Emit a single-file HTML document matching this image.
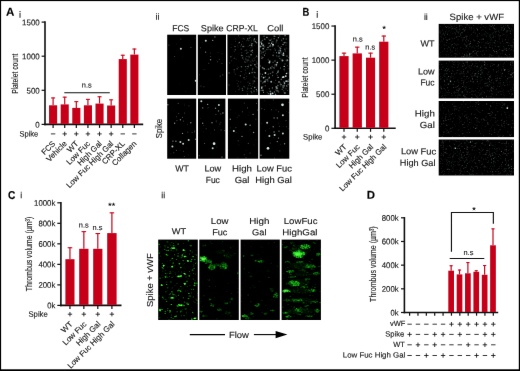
<!DOCTYPE html>
<html><head><meta charset="utf-8"><title>figure</title>
<style>html,body{margin:0;padding:0;background:#fff;overflow:hidden}svg{display:block;font-family:"Liberation Sans",sans-serif}text{stroke:#1a1a1a;stroke-width:0.14px}</style>
</head><body>
<svg width="520" height="371" viewBox="0 0 520 371">
<defs><filter id="soft" filterUnits="userSpaceOnUse" x="-10" y="-10" width="540" height="391" color-interpolation-filters="sRGB"><feConvolveMatrix order="3" kernelMatrix="0.0016 0.0371 0.0016 0.0371 0.8450 0.0371 0.0016 0.0371 0.0016" edgeMode="duplicate" preserveAlpha="true"/></filter><filter id="gb" filterUnits="userSpaceOnUse" x="150" y="230" width="180" height="100" color-interpolation-filters="sRGB"><feConvolveMatrix order="5" kernelMatrix="0.0000 0.0000 0.0002 0.0000 0.0000 0.0000 0.0113 0.0837 0.0113 0.0000 0.0002 0.0837 0.6187 0.0837 0.0002 0.0000 0.0113 0.0837 0.0113 0.0000 0.0000 0.0000 0.0002 0.0000 0.0000" edgeMode="duplicate" preserveAlpha="false"/></filter></defs>
<g filter="url(#soft)">
<rect x="-10" y="-10" width="540" height="391" fill="#fff"/>
<text x="5.9" y="15.7" font-size="11.6" text-anchor="start" fill="#000" font-weight="bold" stroke="none" transform="rotate(0.04 5.9 15.7)" >A</text>
<text x="19.1" y="17.8" font-size="9.2" text-anchor="start" fill="#1a1a1a" transform="rotate(0.04 19.1 17.8)" >i</text>
<line x1="45" y1="21.35" x2="45" y2="125.15" stroke="#111" stroke-width="1.6" stroke-linecap="butt"/>
<line x1="44.2" y1="124.4" x2="143.2" y2="124.4" stroke="#111" stroke-width="1.6" stroke-linecap="butt"/>
<line x1="41.6" y1="124.4" x2="45" y2="124.4" stroke="#111" stroke-width="1.2" stroke-linecap="butt"/>
<text x="39.7" y="127.5" font-size="8.1" text-anchor="end" fill="#1a1a1a" textLength="4.4" lengthAdjust="spacingAndGlyphs" transform="rotate(0.04 39.7 127.5)" >0</text>
<line x1="41.6" y1="90.30000000000001" x2="45" y2="90.30000000000001" stroke="#111" stroke-width="1.2" stroke-linecap="butt"/>
<text x="39.7" y="93.4" font-size="8.1" text-anchor="end" fill="#1a1a1a" textLength="13.2" lengthAdjust="spacingAndGlyphs" transform="rotate(0.04 39.7 93.4)" >500</text>
<line x1="41.6" y1="56.2" x2="45" y2="56.2" stroke="#111" stroke-width="1.2" stroke-linecap="butt"/>
<text x="39.7" y="59.300000000000004" font-size="8.1" text-anchor="end" fill="#1a1a1a" textLength="17.6" lengthAdjust="spacingAndGlyphs" transform="rotate(0.04 39.7 59.300000000000004)" >1000</text>
<line x1="41.6" y1="22.09999999999998" x2="45" y2="22.09999999999998" stroke="#111" stroke-width="1.2" stroke-linecap="butt"/>
<text x="39.7" y="25.19999999999998" font-size="8.1" text-anchor="end" fill="#1a1a1a" textLength="17.6" lengthAdjust="spacingAndGlyphs" transform="rotate(0.04 39.7 25.19999999999998)" >1500</text>
<text x="17.7" y="73.7" font-size="9" text-anchor="middle" fill="#1a1a1a" textLength="40.3" lengthAdjust="spacingAndGlyphs" transform="rotate(-90 17.7 73.7)" >Platelet count</text>
<rect x="49.05" y="105.30" width="8.10" height="18.60" fill="#c60019"/>
<line x1="53.099999999999994" y1="105.3" x2="53.099999999999994" y2="97.5" stroke="#c8081e" stroke-width="1.2" stroke-linecap="butt"/>
<line x1="51.099999999999994" y1="97.95" x2="55.099999999999994" y2="97.95" stroke="#c8081e" stroke-width="1.1" stroke-linecap="butt"/>
<line x1="53.099999999999994" y1="124.4" x2="53.099999999999994" y2="127.9" stroke="#111" stroke-width="1.2" stroke-linecap="butt"/>
<rect x="60.66" y="104.40" width="8.10" height="19.50" fill="#c60019"/>
<line x1="64.71" y1="104.4" x2="64.71" y2="96.7" stroke="#c8081e" stroke-width="1.2" stroke-linecap="butt"/>
<line x1="62.709999999999994" y1="97.15" x2="66.71" y2="97.15" stroke="#c8081e" stroke-width="1.1" stroke-linecap="butt"/>
<line x1="64.71" y1="124.4" x2="64.71" y2="127.9" stroke="#111" stroke-width="1.2" stroke-linecap="butt"/>
<rect x="72.27" y="107.90" width="8.10" height="16.00" fill="#c60019"/>
<line x1="76.32" y1="107.9" x2="76.32" y2="101.2" stroke="#c8081e" stroke-width="1.2" stroke-linecap="butt"/>
<line x1="74.32" y1="101.65" x2="78.32" y2="101.65" stroke="#c8081e" stroke-width="1.1" stroke-linecap="butt"/>
<line x1="76.32" y1="124.4" x2="76.32" y2="127.9" stroke="#111" stroke-width="1.2" stroke-linecap="butt"/>
<rect x="83.88" y="105.30" width="8.10" height="18.60" fill="#c60019"/>
<line x1="87.92999999999999" y1="105.3" x2="87.92999999999999" y2="98.9" stroke="#c8081e" stroke-width="1.2" stroke-linecap="butt"/>
<line x1="85.92999999999999" y1="99.35000000000001" x2="89.92999999999999" y2="99.35000000000001" stroke="#c8081e" stroke-width="1.1" stroke-linecap="butt"/>
<line x1="87.92999999999999" y1="124.4" x2="87.92999999999999" y2="127.9" stroke="#111" stroke-width="1.2" stroke-linecap="butt"/>
<rect x="95.49" y="103.60" width="8.10" height="20.30" fill="#c60019"/>
<line x1="99.53999999999999" y1="103.6" x2="99.53999999999999" y2="96.3" stroke="#c8081e" stroke-width="1.2" stroke-linecap="butt"/>
<line x1="97.53999999999999" y1="96.75" x2="101.53999999999999" y2="96.75" stroke="#c8081e" stroke-width="1.1" stroke-linecap="butt"/>
<line x1="99.53999999999999" y1="124.4" x2="99.53999999999999" y2="127.9" stroke="#111" stroke-width="1.2" stroke-linecap="butt"/>
<rect x="107.10" y="105.50" width="8.10" height="18.40" fill="#c60019"/>
<line x1="111.14999999999999" y1="105.5" x2="111.14999999999999" y2="99.4" stroke="#c8081e" stroke-width="1.2" stroke-linecap="butt"/>
<line x1="109.14999999999999" y1="99.85000000000001" x2="113.14999999999999" y2="99.85000000000001" stroke="#c8081e" stroke-width="1.1" stroke-linecap="butt"/>
<line x1="111.14999999999999" y1="124.4" x2="111.14999999999999" y2="127.9" stroke="#111" stroke-width="1.2" stroke-linecap="butt"/>
<rect x="118.71" y="59.10" width="8.10" height="64.80" fill="#c60019"/>
<line x1="122.75999999999999" y1="59.1" x2="122.75999999999999" y2="54.8" stroke="#c8081e" stroke-width="1.2" stroke-linecap="butt"/>
<line x1="120.75999999999999" y1="55.25" x2="124.75999999999999" y2="55.25" stroke="#c8081e" stroke-width="1.1" stroke-linecap="butt"/>
<line x1="122.75999999999999" y1="124.4" x2="122.75999999999999" y2="127.9" stroke="#111" stroke-width="1.2" stroke-linecap="butt"/>
<rect x="130.32" y="54.60" width="8.10" height="69.30" fill="#c60019"/>
<line x1="134.37" y1="54.6" x2="134.37" y2="48.6" stroke="#c8081e" stroke-width="1.2" stroke-linecap="butt"/>
<line x1="132.37" y1="49.050000000000004" x2="136.37" y2="49.050000000000004" stroke="#c8081e" stroke-width="1.1" stroke-linecap="butt"/>
<line x1="134.37" y1="124.4" x2="134.37" y2="127.9" stroke="#111" stroke-width="1.2" stroke-linecap="butt"/>
<line x1="64.3" y1="92.75" x2="109.8" y2="92.75" stroke="#111" stroke-width="1.2" stroke-linecap="butt"/>
<text x="86.7" y="87.5" font-size="7.4" text-anchor="middle" fill="#1a1a1a" transform="rotate(0.04 86.7 87.5)" >n.s</text>
<text x="19.5" y="136.4" font-size="7.9" text-anchor="start" fill="#1a1a1a" textLength="18.8" lengthAdjust="spacingAndGlyphs" transform="rotate(0.04 19.5 136.4)" >Spike</text>
<line x1="50.89999999999999" y1="133.9" x2="55.3" y2="133.9" stroke="#151515" stroke-width="0.85" stroke-linecap="butt"/>
<line x1="62.50999999999999" y1="133.9" x2="66.91" y2="133.9" stroke="#151515" stroke-width="0.85" stroke-linecap="butt"/>
<line x1="64.71" y1="131.70000000000002" x2="64.71" y2="136.1" stroke="#151515" stroke-width="0.85" stroke-linecap="butt"/>
<line x1="74.11999999999999" y1="133.9" x2="78.52" y2="133.9" stroke="#151515" stroke-width="0.85" stroke-linecap="butt"/>
<line x1="76.32" y1="131.70000000000002" x2="76.32" y2="136.1" stroke="#151515" stroke-width="0.85" stroke-linecap="butt"/>
<line x1="85.72999999999999" y1="133.9" x2="90.13" y2="133.9" stroke="#151515" stroke-width="0.85" stroke-linecap="butt"/>
<line x1="87.92999999999999" y1="131.70000000000002" x2="87.92999999999999" y2="136.1" stroke="#151515" stroke-width="0.85" stroke-linecap="butt"/>
<line x1="97.33999999999999" y1="133.9" x2="101.74" y2="133.9" stroke="#151515" stroke-width="0.85" stroke-linecap="butt"/>
<line x1="99.53999999999999" y1="131.70000000000002" x2="99.53999999999999" y2="136.1" stroke="#151515" stroke-width="0.85" stroke-linecap="butt"/>
<line x1="108.94999999999999" y1="133.9" x2="113.35" y2="133.9" stroke="#151515" stroke-width="0.85" stroke-linecap="butt"/>
<line x1="111.14999999999999" y1="131.70000000000002" x2="111.14999999999999" y2="136.1" stroke="#151515" stroke-width="0.85" stroke-linecap="butt"/>
<line x1="120.55999999999999" y1="133.9" x2="124.96" y2="133.9" stroke="#151515" stroke-width="0.85" stroke-linecap="butt"/>
<line x1="132.17000000000002" y1="133.9" x2="136.57" y2="133.9" stroke="#151515" stroke-width="0.85" stroke-linecap="butt"/>
<text x="55.8" y="144.2" font-size="7.9" text-anchor="end" fill="#1a1a1a" transform="rotate(-45 55.8 144.2)" >FCS</text>
<text x="67.41" y="144.2" font-size="7.9" text-anchor="end" fill="#1a1a1a" transform="rotate(-45 67.41 144.2)" >Vehicle</text>
<text x="79.02" y="144.2" font-size="7.9" text-anchor="end" fill="#1a1a1a" transform="rotate(-45 79.02 144.2)" >WT</text>
<text x="90.63" y="144.2" font-size="7.9" text-anchor="end" fill="#1a1a1a" transform="rotate(-45 90.63 144.2)" >Low Fuc</text>
<text x="102.24" y="144.2" font-size="7.9" text-anchor="end" fill="#1a1a1a" transform="rotate(-45 102.24 144.2)" >High Gal</text>
<text x="113.85" y="144.2" font-size="7.9" text-anchor="end" fill="#1a1a1a" transform="rotate(-45 113.85 144.2)" >Low Fuc High Gal</text>
<text x="125.46" y="144.2" font-size="7.9" text-anchor="end" fill="#1a1a1a" transform="rotate(-45 125.46 144.2)" >CRP-XL</text>
<text x="137.07" y="144.2" font-size="7.9" text-anchor="end" fill="#1a1a1a" transform="rotate(-45 137.07 144.2)" >Collagen</text>
<text x="155.6" y="19.7" font-size="8.8" text-anchor="start" fill="#1a1a1a" transform="rotate(0.04 155.6 19.7)" >ii</text>
<text x="180.7" y="31.2" font-size="8.9" text-anchor="middle" fill="#1a1a1a" textLength="17" lengthAdjust="spacingAndGlyphs" transform="rotate(0.04 180.7 31.2)" >FCS</text>
<text x="212.2" y="31.2" font-size="8.9" text-anchor="middle" fill="#1a1a1a" textLength="22.7" lengthAdjust="spacingAndGlyphs" transform="rotate(0.04 212.2 31.2)" >Spike</text>
<text x="242.0" y="31.2" font-size="8.9" text-anchor="middle" fill="#1a1a1a" textLength="31.5" lengthAdjust="spacingAndGlyphs" transform="rotate(0.04 242.0 31.2)" >CRP-XL</text>
<text x="275.3" y="31.2" font-size="8.9" text-anchor="middle" fill="#1a1a1a" textLength="16.2" lengthAdjust="spacingAndGlyphs" transform="rotate(0.04 275.3 31.2)" >Coll</text>
<text x="162.4" y="128.6" font-size="8.2" text-anchor="middle" fill="#1a1a1a" textLength="19.3" lengthAdjust="spacingAndGlyphs" transform="rotate(-90 162.4 128.6)" >Spike</text>
<text x="182.0" y="171.5" font-size="8.9" text-anchor="middle" fill="#1a1a1a" textLength="13.7" lengthAdjust="spacingAndGlyphs" transform="rotate(0.04 182.0 171.5)" >WT</text>
<text x="212.8" y="171.5" font-size="8.9" text-anchor="middle" fill="#1a1a1a" textLength="16.8" lengthAdjust="spacingAndGlyphs" transform="rotate(0.04 212.8 171.5)" >Low</text>
<text x="212.8" y="183.0" font-size="8.9" text-anchor="middle" fill="#1a1a1a" textLength="14.1" lengthAdjust="spacingAndGlyphs" transform="rotate(0.04 212.8 183.0)" >Fuc</text>
<text x="242.0" y="171.5" font-size="8.9" text-anchor="middle" fill="#1a1a1a" textLength="19.9" lengthAdjust="spacingAndGlyphs" transform="rotate(0.04 242.0 171.5)" >High</text>
<text x="242.1" y="183.0" font-size="8.9" text-anchor="middle" fill="#1a1a1a" textLength="14.8" lengthAdjust="spacingAndGlyphs" transform="rotate(0.04 242.1 183.0)" >Gal</text>
<text x="274.2" y="171.5" font-size="8.9" text-anchor="middle" fill="#1a1a1a" textLength="35.3" lengthAdjust="spacingAndGlyphs" transform="rotate(0.04 274.2 171.5)" >Low Fuc</text>
<text x="273.6" y="183.0" font-size="8.9" text-anchor="middle" fill="#1a1a1a" textLength="36.6" lengthAdjust="spacingAndGlyphs" transform="rotate(0.04 273.6 183.0)" >High Gal</text>
<g fill="#cfe8e6">
<rect x="167.20" y="34.70" width="29.00" height="60.30" fill="#000"/>
<circle cx="176.8" cy="44.1" r="0.50" opacity="0.11"/>
<circle cx="182.7" cy="56.9" r="0.32" opacity="0.18"/>
<circle cx="168.7" cy="60.9" r="0.32" opacity="0.11"/>
<circle cx="179.6" cy="84.2" r="0.34" opacity="0.13"/>
<circle cx="185.3" cy="91.4" r="0.47" opacity="0.16"/>
<circle cx="195.0" cy="38.0" r="0.56" opacity="0.14"/>
<circle cx="180.8" cy="39.0" r="0.55" opacity="0.32"/>
<circle cx="180.9" cy="48.8" r="1.00" opacity="0.88"/>
<circle cx="190.9" cy="47.4" r="0.55" opacity="0.32"/>
<circle cx="174.6" cy="56.5" r="0.55" opacity="0.32"/>
<circle cx="168.9" cy="45.1" r="0.55" opacity="0.32"/>
<circle cx="195.8" cy="80.7" r="1.00" opacity="0.88"/>
<rect x="197.80" y="34.70" width="28.20" height="60.30" fill="#000"/>
<circle cx="202.2" cy="42.2" r="0.39" opacity="0.22"/>
<circle cx="203.2" cy="69.7" r="0.49" opacity="0.16"/>
<circle cx="213.2" cy="38.9" r="0.32" opacity="0.13"/>
<circle cx="216.8" cy="60.6" r="0.39" opacity="0.19"/>
<circle cx="210.6" cy="53.0" r="0.54" opacity="0.20"/>
<circle cx="204.9" cy="69.3" r="0.46" opacity="0.23"/>
<circle cx="218.1" cy="52.3" r="0.59" opacity="0.12"/>
<circle cx="209.7" cy="80.1" r="0.35" opacity="0.17"/>
<circle cx="199.4" cy="74.8" r="0.53" opacity="0.19"/>
<circle cx="222.1" cy="53.8" r="0.51" opacity="0.19"/>
<circle cx="205.8" cy="40.8" r="1.00" opacity="0.88"/>
<circle cx="212.7" cy="40.4" r="0.70" opacity="0.58"/>
<circle cx="214.9" cy="36.9" r="0.70" opacity="0.58"/>
<circle cx="205.6" cy="52.1" r="0.70" opacity="0.58"/>
<circle cx="200.6" cy="47.8" r="0.55" opacity="0.32"/>
<circle cx="210.6" cy="56.5" r="0.55" opacity="0.32"/>
<circle cx="210.6" cy="59.7" r="0.70" opacity="0.58"/>
<circle cx="217.6" cy="61.8" r="0.55" opacity="0.32"/>
<circle cx="219.3" cy="59.2" r="0.55" opacity="0.32"/>
<circle cx="221.9" cy="63.5" r="0.55" opacity="0.32"/>
<circle cx="222.8" cy="74.9" r="0.55" opacity="0.32"/>
<circle cx="220.2" cy="76.1" r="0.55" opacity="0.32"/>
<circle cx="208.8" cy="63.2" r="0.55" opacity="0.32"/>
<circle cx="203.9" cy="86.7" r="0.55" opacity="0.32"/>
<circle cx="200.9" cy="86.0" r="0.55" opacity="0.32"/>
<rect x="227.40" y="34.70" width="30.80" height="60.30" fill="#000"/>
<circle cx="245.2" cy="62.3" r="0.77" opacity="0.25"/>
<circle cx="247.7" cy="38.8" r="0.62" opacity="0.59"/>
<circle cx="252.4" cy="52.1" r="0.63" opacity="0.10"/>
<circle cx="241.7" cy="45.2" r="0.33" opacity="0.43"/>
<circle cx="253.9" cy="40.0" r="0.57" opacity="0.51"/>
<circle cx="252.3" cy="86.4" r="0.51" opacity="0.20"/>
<circle cx="254.2" cy="92.0" r="0.39" opacity="0.15"/>
<circle cx="248.5" cy="65.8" r="0.64" opacity="0.10"/>
<circle cx="254.7" cy="81.5" r="0.70" opacity="0.21"/>
<circle cx="232.7" cy="55.4" r="0.30" opacity="0.12"/>
<circle cx="230.9" cy="56.8" r="0.74" opacity="0.33"/>
<circle cx="257.5" cy="62.8" r="0.34" opacity="0.11"/>
<circle cx="243.6" cy="43.9" r="0.31" opacity="0.28"/>
<circle cx="257.1" cy="86.4" r="0.43" opacity="0.20"/>
<circle cx="251.1" cy="54.7" r="0.71" opacity="0.59"/>
<circle cx="253.3" cy="83.0" r="0.67" opacity="0.15"/>
<circle cx="243.3" cy="56.3" r="0.31" opacity="0.17"/>
<circle cx="256.4" cy="56.8" r="0.41" opacity="0.14"/>
<circle cx="252.9" cy="63.6" r="0.70" opacity="0.11"/>
<circle cx="247.6" cy="89.1" r="0.68" opacity="0.25"/>
<circle cx="251.8" cy="92.8" r="0.50" opacity="0.56"/>
<circle cx="249.5" cy="45.3" r="0.38" opacity="0.53"/>
<circle cx="251.9" cy="43.9" r="0.79" opacity="0.36"/>
<circle cx="238.3" cy="67.7" r="0.31" opacity="0.58"/>
<circle cx="247.3" cy="66.4" r="0.52" opacity="0.50"/>
<circle cx="252.5" cy="47.7" r="0.45" opacity="0.15"/>
<circle cx="245.4" cy="50.6" r="0.37" opacity="0.53"/>
<circle cx="254.8" cy="60.1" r="0.55" opacity="0.28"/>
<circle cx="243.5" cy="36.3" r="0.39" opacity="0.10"/>
<circle cx="251.7" cy="45.4" r="0.66" opacity="0.30"/>
<circle cx="251.3" cy="41.5" r="0.42" opacity="0.16"/>
<circle cx="250.9" cy="65.3" r="0.68" opacity="0.53"/>
<circle cx="241.1" cy="71.5" r="0.56" opacity="0.38"/>
<circle cx="241.4" cy="66.8" r="0.77" opacity="0.38"/>
<circle cx="254.0" cy="91.1" r="0.58" opacity="0.56"/>
<circle cx="252.9" cy="43.3" r="0.52" opacity="0.11"/>
<circle cx="251.3" cy="88.4" r="0.66" opacity="0.36"/>
<circle cx="238.0" cy="46.8" r="0.66" opacity="0.10"/>
<circle cx="244.4" cy="61.3" r="0.47" opacity="0.34"/>
<circle cx="251.4" cy="92.8" r="0.43" opacity="0.10"/>
<circle cx="251.1" cy="51.2" r="0.51" opacity="0.53"/>
<circle cx="252.3" cy="50.5" r="0.76" opacity="0.30"/>
<circle cx="248.8" cy="40.5" r="0.64" opacity="0.23"/>
<circle cx="251.8" cy="40.2" r="0.33" opacity="0.49"/>
<circle cx="241.4" cy="55.3" r="0.76" opacity="0.16"/>
<circle cx="231.2" cy="44.8" r="0.40" opacity="0.18"/>
<circle cx="237.0" cy="80.2" r="0.55" opacity="0.13"/>
<circle cx="238.2" cy="36.3" r="0.31" opacity="0.40"/>
<circle cx="244.3" cy="46.4" r="0.77" opacity="0.11"/>
<circle cx="252.3" cy="60.8" r="0.72" opacity="0.21"/>
<circle cx="246.9" cy="59.2" r="0.33" opacity="0.12"/>
<circle cx="253.8" cy="75.0" r="0.42" opacity="0.17"/>
<circle cx="241.6" cy="44.5" r="0.43" opacity="0.57"/>
<circle cx="256.9" cy="67.6" r="0.78" opacity="0.18"/>
<circle cx="238.5" cy="35.3" r="0.54" opacity="0.27"/>
<circle cx="233.9" cy="65.1" r="0.43" opacity="0.11"/>
<circle cx="239.8" cy="37.7" r="0.45" opacity="0.15"/>
<circle cx="245.4" cy="66.6" r="0.63" opacity="0.39"/>
<circle cx="254.1" cy="58.3" r="0.79" opacity="0.12"/>
<circle cx="249.5" cy="73.3" r="0.72" opacity="0.52"/>
<circle cx="246.6" cy="78.7" r="0.37" opacity="0.28"/>
<circle cx="252.5" cy="69.8" r="0.64" opacity="0.38"/>
<circle cx="234.8" cy="37.0" r="0.48" opacity="0.11"/>
<circle cx="252.8" cy="68.3" r="0.61" opacity="0.37"/>
<circle cx="250.2" cy="65.0" r="0.63" opacity="0.11"/>
<circle cx="249.9" cy="50.2" r="0.43" opacity="0.40"/>
<circle cx="242.6" cy="57.9" r="0.64" opacity="0.43"/>
<circle cx="246.3" cy="73.3" r="0.37" opacity="0.16"/>
<circle cx="250.0" cy="53.3" r="0.31" opacity="0.11"/>
<circle cx="248.0" cy="52.4" r="0.53" opacity="0.25"/>
<circle cx="257.0" cy="90.7" r="0.53" opacity="0.46"/>
<circle cx="256.7" cy="61.9" r="0.40" opacity="0.56"/>
<circle cx="234.2" cy="69.7" r="0.56" opacity="0.56"/>
<circle cx="254.3" cy="76.9" r="0.75" opacity="0.26"/>
<circle cx="241.3" cy="53.1" r="0.47" opacity="0.18"/>
<circle cx="252.9" cy="35.3" r="0.72" opacity="0.12"/>
<circle cx="255.5" cy="77.5" r="0.44" opacity="0.20"/>
<circle cx="238.6" cy="60.6" r="0.32" opacity="0.11"/>
<circle cx="252.8" cy="52.1" r="0.42" opacity="0.16"/>
<circle cx="243.1" cy="46.5" r="0.78" opacity="0.51"/>
<circle cx="252.1" cy="72.6" r="0.77" opacity="0.29"/>
<circle cx="249.3" cy="38.1" r="0.53" opacity="0.42"/>
<circle cx="247.1" cy="52.2" r="0.76" opacity="0.12"/>
<circle cx="242.0" cy="55.6" r="0.67" opacity="0.58"/>
<circle cx="235.7" cy="74.1" r="0.58" opacity="0.21"/>
<circle cx="254.9" cy="64.7" r="0.75" opacity="0.60"/>
<circle cx="241.3" cy="43.5" r="0.35" opacity="0.19"/>
<circle cx="244.9" cy="87.8" r="0.51" opacity="0.22"/>
<circle cx="243.5" cy="57.5" r="0.33" opacity="0.16"/>
<circle cx="256.7" cy="42.7" r="0.61" opacity="0.49"/>
<circle cx="234.3" cy="51.3" r="0.50" opacity="0.24"/>
<circle cx="256.3" cy="85.5" r="0.31" opacity="0.10"/>
<circle cx="249.0" cy="88.3" r="0.59" opacity="0.10"/>
<circle cx="253.4" cy="92.9" r="0.35" opacity="0.13"/>
<circle cx="249.4" cy="73.6" r="0.53" opacity="0.29"/>
<circle cx="255.3" cy="73.5" r="0.36" opacity="0.16"/>
<circle cx="246.9" cy="76.6" r="0.34" opacity="0.28"/>
<circle cx="245.3" cy="58.2" r="0.60" opacity="0.10"/>
<circle cx="247.1" cy="87.6" r="0.42" opacity="0.15"/>
<circle cx="256.5" cy="77.0" r="0.31" opacity="0.26"/>
<circle cx="248.0" cy="60.1" r="0.63" opacity="0.54"/>
<circle cx="240.4" cy="75.7" r="0.70" opacity="0.41"/>
<circle cx="237.2" cy="83.8" r="0.41" opacity="0.42"/>
<circle cx="247.7" cy="91.5" r="0.50" opacity="0.14"/>
<circle cx="256.9" cy="43.6" r="0.33" opacity="0.21"/>
<circle cx="254.7" cy="87.6" r="0.80" opacity="0.55"/>
<circle cx="250.1" cy="37.1" r="0.49" opacity="0.20"/>
<circle cx="237.8" cy="45.2" r="0.44" opacity="0.19"/>
<circle cx="256.4" cy="42.5" r="0.40" opacity="0.20"/>
<circle cx="252.4" cy="83.9" r="0.32" opacity="0.25"/>
<circle cx="239.0" cy="89.7" r="0.48" opacity="0.52"/>
<circle cx="250.7" cy="37.6" r="0.33" opacity="0.54"/>
<circle cx="246.3" cy="50.7" r="0.46" opacity="0.16"/>
<circle cx="246.8" cy="91.1" r="0.42" opacity="0.25"/>
<circle cx="256.4" cy="91.8" r="0.43" opacity="0.23"/>
<circle cx="242.6" cy="90.2" r="0.70" opacity="0.41"/>
<circle cx="252.4" cy="81.0" r="0.46" opacity="0.18"/>
<circle cx="238.7" cy="81.6" r="0.40" opacity="0.42"/>
<circle cx="235.3" cy="39.0" r="0.58" opacity="0.18"/>
<circle cx="257.1" cy="87.6" r="0.43" opacity="0.11"/>
<circle cx="241.2" cy="49.1" r="0.61" opacity="0.37"/>
<circle cx="250.2" cy="85.4" r="0.36" opacity="0.48"/>
<circle cx="236.7" cy="68.8" r="0.67" opacity="0.14"/>
<circle cx="235.3" cy="49.7" r="0.74" opacity="0.31"/>
<circle cx="247.4" cy="94.0" r="0.54" opacity="0.46"/>
<circle cx="252.9" cy="89.4" r="0.45" opacity="0.12"/>
<circle cx="255.6" cy="57.3" r="0.52" opacity="0.16"/>
<circle cx="251.1" cy="91.3" r="0.60" opacity="0.33"/>
<circle cx="234.4" cy="57.1" r="0.40" opacity="0.16"/>
<circle cx="245.8" cy="73.8" r="0.31" opacity="0.18"/>
<circle cx="248.1" cy="46.2" r="0.40" opacity="0.45"/>
<circle cx="244.2" cy="39.0" r="0.50" opacity="0.29"/>
<circle cx="246.9" cy="40.6" r="0.65" opacity="0.22"/>
<circle cx="237.2" cy="68.8" r="0.51" opacity="0.50"/>
<circle cx="257.6" cy="56.8" r="0.66" opacity="0.14"/>
<circle cx="252.3" cy="59.3" r="0.53" opacity="0.13"/>
<circle cx="255.0" cy="40.5" r="0.49" opacity="0.27"/>
<circle cx="255.5" cy="41.7" r="0.70" opacity="0.57"/>
<circle cx="257.0" cy="63.8" r="0.76" opacity="0.21"/>
<circle cx="254.8" cy="72.0" r="0.38" opacity="0.44"/>
<circle cx="252.6" cy="46.0" r="0.50" opacity="0.27"/>
<circle cx="239.3" cy="42.5" r="0.66" opacity="0.52"/>
<circle cx="229.0" cy="84.9" r="0.60" opacity="0.29"/>
<circle cx="246.6" cy="53.4" r="0.59" opacity="0.23"/>
<circle cx="247.5" cy="61.7" r="0.31" opacity="0.33"/>
<circle cx="251.1" cy="62.4" r="0.54" opacity="0.11"/>
<circle cx="231.7" cy="60.7" r="0.52" opacity="0.27"/>
<circle cx="229.1" cy="72.9" r="0.67" opacity="0.43"/>
<circle cx="243.1" cy="38.4" r="0.49" opacity="0.56"/>
<circle cx="249.7" cy="83.5" r="0.79" opacity="0.26"/>
<circle cx="256.4" cy="89.5" r="0.69" opacity="0.55"/>
<circle cx="252.2" cy="43.7" r="0.76" opacity="0.14"/>
<circle cx="235.7" cy="65.2" r="0.32" opacity="0.13"/>
<circle cx="254.6" cy="45.2" r="0.36" opacity="0.28"/>
<circle cx="246.9" cy="56.5" r="0.58" opacity="0.31"/>
<circle cx="254.2" cy="41.4" r="0.61" opacity="0.21"/>
<circle cx="251.7" cy="50.9" r="0.59" opacity="0.20"/>
<circle cx="250.7" cy="61.4" r="0.67" opacity="0.10"/>
<circle cx="252.3" cy="50.2" r="0.79" opacity="0.31"/>
<circle cx="247.7" cy="53.7" r="0.32" opacity="0.12"/>
<circle cx="246.3" cy="60.8" r="0.75" opacity="0.12"/>
<circle cx="234.7" cy="73.9" r="0.30" opacity="0.20"/>
<circle cx="245.3" cy="70.1" r="0.61" opacity="0.25"/>
<circle cx="253.9" cy="81.6" r="0.43" opacity="0.10"/>
<circle cx="247.1" cy="68.5" r="0.62" opacity="0.24"/>
<circle cx="255.8" cy="78.7" r="0.75" opacity="0.10"/>
<circle cx="243.7" cy="59.3" r="0.33" opacity="0.44"/>
<circle cx="249.2" cy="35.6" r="0.67" opacity="0.25"/>
<circle cx="250.0" cy="62.0" r="0.35" opacity="0.15"/>
<circle cx="248.6" cy="85.3" r="0.43" opacity="0.29"/>
<circle cx="240.9" cy="82.0" r="0.43" opacity="0.35"/>
<circle cx="256.7" cy="48.1" r="0.31" opacity="0.16"/>
<circle cx="250.1" cy="54.6" r="0.46" opacity="0.15"/>
<circle cx="254.9" cy="72.6" r="0.63" opacity="0.58"/>
<circle cx="253.5" cy="61.1" r="0.59" opacity="0.18"/>
<circle cx="234.2" cy="72.1" r="0.76" opacity="0.12"/>
<circle cx="238.2" cy="43.6" r="0.32" opacity="0.38"/>
<circle cx="246.8" cy="76.5" r="0.33" opacity="0.32"/>
<circle cx="254.5" cy="39.1" r="0.76" opacity="0.56"/>
<circle cx="231.1" cy="47.4" r="0.32" opacity="0.48"/>
<circle cx="252.1" cy="72.8" r="0.62" opacity="0.17"/>
<circle cx="249.2" cy="57.0" r="0.78" opacity="0.27"/>
<circle cx="253.3" cy="71.9" r="0.51" opacity="0.23"/>
<circle cx="250.9" cy="55.8" r="0.57" opacity="0.14"/>
<circle cx="253.6" cy="40.6" r="0.39" opacity="0.10"/>
<circle cx="251.6" cy="46.1" r="0.47" opacity="0.47"/>
<circle cx="235.7" cy="91.2" r="0.41" opacity="0.38"/>
<circle cx="242.7" cy="41.7" r="0.34" opacity="0.44"/>
<circle cx="248.7" cy="81.9" r="0.48" opacity="0.22"/>
<circle cx="239.7" cy="88.0" r="0.74" opacity="0.10"/>
<circle cx="250.4" cy="79.9" r="0.47" opacity="0.18"/>
<circle cx="250.0" cy="45.3" r="0.69" opacity="0.31"/>
<circle cx="235.0" cy="46.6" r="0.65" opacity="0.48"/>
<circle cx="237.6" cy="66.2" r="0.46" opacity="0.13"/>
<circle cx="257.0" cy="78.4" r="0.78" opacity="0.11"/>
<circle cx="249.8" cy="61.0" r="0.62" opacity="0.11"/>
<circle cx="234.1" cy="58.2" r="0.50" opacity="0.44"/>
<circle cx="248.6" cy="64.9" r="0.53" opacity="0.12"/>
<circle cx="245.9" cy="59.2" r="0.75" opacity="0.23"/>
<circle cx="245.0" cy="79.6" r="0.41" opacity="0.40"/>
<circle cx="254.1" cy="81.1" r="0.73" opacity="0.37"/>
<circle cx="247.0" cy="62.1" r="0.61" opacity="0.11"/>
<circle cx="246.7" cy="50.0" r="0.53" opacity="0.33"/>
<circle cx="251.2" cy="91.0" r="0.35" opacity="0.31"/>
<circle cx="244.0" cy="77.7" r="0.62" opacity="0.47"/>
<circle cx="250.6" cy="42.5" r="0.48" opacity="0.11"/>
<circle cx="236.1" cy="58.9" r="0.51" opacity="0.23"/>
<circle cx="248.7" cy="56.1" r="0.41" opacity="0.41"/>
<circle cx="255.9" cy="66.5" r="0.70" opacity="0.21"/>
<circle cx="252.0" cy="72.8" r="0.58" opacity="0.15"/>
<circle cx="256.6" cy="56.1" r="0.71" opacity="0.46"/>
<circle cx="241.8" cy="52.7" r="0.36" opacity="0.47"/>
<circle cx="238.5" cy="85.6" r="0.49" opacity="0.16"/>
<circle cx="240.6" cy="46.2" r="0.66" opacity="0.17"/>
<circle cx="251.3" cy="43.5" r="0.62" opacity="0.10"/>
<circle cx="235.4" cy="41.2" r="0.42" opacity="0.43"/>
<circle cx="251.5" cy="45.2" r="0.60" opacity="0.44"/>
<circle cx="247.8" cy="88.2" r="0.72" opacity="0.14"/>
<circle cx="248.5" cy="66.7" r="0.52" opacity="0.51"/>
<circle cx="244.4" cy="50.9" r="0.37" opacity="0.26"/>
<circle cx="229.6" cy="62.9" r="0.55" opacity="0.26"/>
<circle cx="244.0" cy="86.4" r="0.72" opacity="0.25"/>
<circle cx="244.7" cy="74.7" r="0.49" opacity="0.22"/>
<circle cx="256.5" cy="39.7" r="0.62" opacity="0.10"/>
<circle cx="242.3" cy="88.4" r="0.66" opacity="0.34"/>
<circle cx="238.0" cy="86.3" r="0.54" opacity="0.28"/>
<circle cx="250.9" cy="47.7" r="0.51" opacity="0.29"/>
<circle cx="252.5" cy="52.6" r="0.50" opacity="0.27"/>
<circle cx="247.4" cy="82.2" r="0.46" opacity="0.17"/>
<circle cx="245.4" cy="72.8" r="0.32" opacity="0.40"/>
<rect x="259.60" y="34.70" width="29.70" height="60.30" fill="#000"/>
<circle cx="285.5" cy="67.5" r="0.38" opacity="0.24"/>
<circle cx="260.3" cy="46.5" r="0.95" opacity="0.48"/>
<circle cx="279.0" cy="82.0" r="0.94" opacity="0.48"/>
<circle cx="277.8" cy="72.4" r="0.80" opacity="0.47"/>
<circle cx="279.6" cy="47.8" r="0.78" opacity="0.34"/>
<circle cx="282.0" cy="41.2" r="0.47" opacity="0.15"/>
<circle cx="282.3" cy="89.4" r="0.78" opacity="0.28"/>
<circle cx="283.7" cy="81.8" r="0.72" opacity="0.21"/>
<circle cx="268.8" cy="60.2" r="0.56" opacity="0.32"/>
<circle cx="278.5" cy="90.6" r="0.39" opacity="0.44"/>
<circle cx="261.2" cy="42.2" r="0.88" opacity="0.45"/>
<circle cx="286.5" cy="61.7" r="0.36" opacity="0.29"/>
<circle cx="277.1" cy="90.8" r="0.99" opacity="0.36"/>
<circle cx="271.9" cy="41.3" r="0.77" opacity="0.19"/>
<circle cx="264.5" cy="36.1" r="0.35" opacity="0.56"/>
<circle cx="263.6" cy="92.5" r="0.41" opacity="0.80"/>
<circle cx="263.8" cy="36.3" r="0.82" opacity="0.21"/>
<circle cx="281.2" cy="46.3" r="0.38" opacity="0.67"/>
<circle cx="280.6" cy="85.9" r="0.82" opacity="0.16"/>
<circle cx="278.1" cy="77.3" r="0.65" opacity="0.89"/>
<circle cx="267.4" cy="92.4" r="0.82" opacity="0.15"/>
<circle cx="260.5" cy="73.8" r="0.88" opacity="0.16"/>
<circle cx="269.0" cy="78.5" r="0.46" opacity="0.79"/>
<circle cx="274.1" cy="38.7" r="0.59" opacity="0.45"/>
<circle cx="272.7" cy="75.3" r="0.44" opacity="0.70"/>
<circle cx="270.5" cy="73.4" r="0.76" opacity="0.31"/>
<circle cx="271.2" cy="81.8" r="0.96" opacity="0.69"/>
<circle cx="276.4" cy="52.5" r="0.39" opacity="0.96"/>
<circle cx="280.3" cy="84.3" r="0.57" opacity="0.48"/>
<circle cx="288.2" cy="84.5" r="0.74" opacity="0.24"/>
<circle cx="272.4" cy="87.9" r="0.59" opacity="0.56"/>
<circle cx="277.4" cy="88.3" r="0.87" opacity="0.23"/>
<circle cx="260.1" cy="50.8" r="0.62" opacity="0.46"/>
<circle cx="283.5" cy="87.8" r="0.38" opacity="0.75"/>
<circle cx="283.4" cy="86.6" r="0.72" opacity="0.22"/>
<circle cx="284.5" cy="83.1" r="0.80" opacity="0.87"/>
<circle cx="270.1" cy="40.2" r="0.71" opacity="0.70"/>
<circle cx="265.9" cy="79.7" r="0.96" opacity="0.20"/>
<circle cx="277.5" cy="75.4" r="0.65" opacity="0.19"/>
<circle cx="267.4" cy="79.7" r="0.86" opacity="0.34"/>
<circle cx="262.6" cy="83.0" r="0.85" opacity="0.20"/>
<circle cx="276.7" cy="88.4" r="0.93" opacity="0.40"/>
<circle cx="273.8" cy="70.1" r="0.47" opacity="0.19"/>
<circle cx="265.3" cy="76.8" r="0.59" opacity="0.44"/>
<circle cx="271.7" cy="65.9" r="0.45" opacity="0.15"/>
<circle cx="288.7" cy="57.4" r="0.42" opacity="0.51"/>
<circle cx="282.7" cy="44.5" r="0.74" opacity="0.26"/>
<circle cx="275.0" cy="36.4" r="0.37" opacity="0.98"/>
<circle cx="285.0" cy="64.0" r="0.72" opacity="0.22"/>
<circle cx="282.5" cy="60.5" r="0.97" opacity="0.66"/>
<circle cx="283.6" cy="92.3" r="0.52" opacity="0.15"/>
<circle cx="265.9" cy="45.9" r="0.40" opacity="0.15"/>
<circle cx="276.1" cy="86.8" r="0.65" opacity="0.92"/>
<circle cx="286.2" cy="39.0" r="0.74" opacity="0.30"/>
<circle cx="263.5" cy="92.1" r="0.52" opacity="0.44"/>
<circle cx="278.5" cy="91.9" r="0.79" opacity="0.29"/>
<circle cx="273.0" cy="44.7" r="0.98" opacity="0.99"/>
<circle cx="266.5" cy="37.5" r="0.52" opacity="0.27"/>
<circle cx="286.0" cy="88.8" r="0.89" opacity="0.15"/>
<circle cx="282.7" cy="77.3" r="0.77" opacity="0.98"/>
<circle cx="261.7" cy="43.8" r="0.84" opacity="0.90"/>
<circle cx="279.5" cy="52.9" r="0.73" opacity="0.65"/>
<circle cx="263.1" cy="54.4" r="0.52" opacity="0.17"/>
<circle cx="273.9" cy="45.2" r="0.50" opacity="0.17"/>
<circle cx="279.5" cy="35.9" r="0.82" opacity="0.19"/>
<circle cx="261.1" cy="90.2" r="0.49" opacity="0.90"/>
<circle cx="285.0" cy="87.9" r="0.44" opacity="0.33"/>
<circle cx="262.9" cy="90.3" r="0.90" opacity="0.50"/>
<circle cx="273.1" cy="55.3" r="0.88" opacity="0.36"/>
<circle cx="278.1" cy="43.7" r="0.49" opacity="0.15"/>
<circle cx="280.6" cy="68.0" r="0.44" opacity="0.80"/>
<circle cx="267.7" cy="59.6" r="0.45" opacity="0.22"/>
<circle cx="284.2" cy="55.0" r="0.46" opacity="0.37"/>
<circle cx="269.2" cy="88.8" r="0.42" opacity="0.97"/>
<circle cx="261.7" cy="88.3" r="0.78" opacity="0.19"/>
<circle cx="273.8" cy="52.2" r="0.52" opacity="0.19"/>
<circle cx="270.6" cy="94.0" r="1.00" opacity="0.88"/>
<circle cx="262.9" cy="52.4" r="0.93" opacity="0.15"/>
<circle cx="280.9" cy="52.6" r="0.99" opacity="0.15"/>
<circle cx="283.3" cy="55.4" r="0.44" opacity="0.15"/>
<circle cx="284.0" cy="66.4" r="0.47" opacity="0.32"/>
<circle cx="286.3" cy="48.1" r="0.72" opacity="0.17"/>
<circle cx="265.3" cy="80.9" r="0.81" opacity="0.19"/>
<circle cx="262.4" cy="40.4" r="0.75" opacity="0.37"/>
<circle cx="268.0" cy="47.4" r="0.75" opacity="0.59"/>
<circle cx="283.4" cy="69.8" r="0.48" opacity="0.15"/>
<circle cx="281.1" cy="59.4" r="0.82" opacity="0.15"/>
<circle cx="283.4" cy="55.1" r="0.90" opacity="0.79"/>
<circle cx="274.2" cy="36.1" r="0.94" opacity="0.36"/>
<circle cx="285.1" cy="51.0" r="0.47" opacity="0.75"/>
<circle cx="270.6" cy="44.9" r="0.59" opacity="0.47"/>
<circle cx="260.2" cy="66.0" r="0.64" opacity="0.39"/>
<circle cx="263.6" cy="77.6" r="0.88" opacity="0.80"/>
<circle cx="269.3" cy="77.4" r="0.60" opacity="0.64"/>
<circle cx="261.9" cy="87.0" r="0.97" opacity="0.37"/>
<circle cx="274.8" cy="66.7" r="0.70" opacity="0.15"/>
<circle cx="287.9" cy="48.5" r="0.47" opacity="0.16"/>
<circle cx="267.3" cy="83.7" r="0.37" opacity="0.16"/>
<circle cx="280.2" cy="46.8" r="0.36" opacity="0.47"/>
<circle cx="276.6" cy="66.2" r="0.81" opacity="0.16"/>
<circle cx="285.1" cy="77.7" r="0.38" opacity="0.17"/>
<circle cx="274.3" cy="64.9" r="0.53" opacity="0.17"/>
<circle cx="271.7" cy="43.3" r="0.73" opacity="0.79"/>
<circle cx="264.3" cy="69.2" r="0.84" opacity="0.18"/>
<circle cx="283.8" cy="90.8" r="0.60" opacity="0.31"/>
<circle cx="284.2" cy="66.4" r="0.61" opacity="0.91"/>
<circle cx="282.4" cy="55.3" r="0.51" opacity="0.26"/>
<circle cx="272.6" cy="93.4" r="0.87" opacity="0.86"/>
<circle cx="283.5" cy="85.5" r="0.38" opacity="0.39"/>
<circle cx="287.6" cy="90.6" r="0.51" opacity="0.32"/>
<circle cx="278.3" cy="56.8" r="0.70" opacity="0.16"/>
<circle cx="272.5" cy="65.1" r="0.36" opacity="0.17"/>
<circle cx="287.9" cy="81.3" r="0.96" opacity="0.51"/>
<circle cx="283.3" cy="87.6" r="0.93" opacity="0.15"/>
<circle cx="278.5" cy="51.0" r="0.79" opacity="0.22"/>
<circle cx="275.7" cy="90.0" r="0.75" opacity="0.21"/>
<circle cx="275.0" cy="60.9" r="0.97" opacity="0.23"/>
<circle cx="268.9" cy="73.6" r="0.43" opacity="0.47"/>
<circle cx="287.5" cy="65.7" r="0.52" opacity="0.35"/>
<circle cx="275.4" cy="44.0" r="0.43" opacity="0.17"/>
<circle cx="268.5" cy="59.3" r="0.54" opacity="0.21"/>
<circle cx="262.6" cy="67.6" r="0.90" opacity="0.48"/>
<circle cx="276.5" cy="73.8" r="0.48" opacity="0.59"/>
<circle cx="273.3" cy="67.7" r="0.75" opacity="0.35"/>
<circle cx="269.0" cy="49.6" r="0.49" opacity="0.39"/>
<circle cx="271.1" cy="69.9" r="0.36" opacity="0.27"/>
<circle cx="284.8" cy="49.3" r="0.71" opacity="0.37"/>
<circle cx="268.3" cy="93.8" r="0.54" opacity="0.67"/>
<circle cx="264.7" cy="39.2" r="0.92" opacity="0.33"/>
<circle cx="261.9" cy="58.2" r="0.64" opacity="0.62"/>
<circle cx="263.2" cy="48.6" r="0.97" opacity="0.63"/>
<circle cx="264.5" cy="55.2" r="0.58" opacity="0.55"/>
<circle cx="277.8" cy="85.6" r="0.88" opacity="0.39"/>
<circle cx="281.3" cy="79.3" r="0.84" opacity="0.36"/>
<circle cx="282.6" cy="77.2" r="0.94" opacity="0.17"/>
<circle cx="285.1" cy="35.5" r="0.85" opacity="0.46"/>
<circle cx="274.4" cy="92.3" r="0.72" opacity="0.31"/>
<circle cx="282.6" cy="87.0" r="0.74" opacity="0.28"/>
<circle cx="273.1" cy="62.4" r="0.82" opacity="0.23"/>
<circle cx="271.3" cy="68.1" r="0.60" opacity="0.25"/>
<circle cx="282.7" cy="85.6" r="0.67" opacity="0.33"/>
<circle cx="265.4" cy="53.2" r="0.44" opacity="0.45"/>
<circle cx="276.8" cy="40.4" r="0.95" opacity="0.25"/>
<circle cx="284.3" cy="84.9" r="0.97" opacity="0.19"/>
<circle cx="272.3" cy="89.2" r="0.36" opacity="0.15"/>
<circle cx="276.3" cy="64.7" r="0.95" opacity="0.67"/>
<circle cx="275.6" cy="94.4" r="0.69" opacity="0.39"/>
<circle cx="279.8" cy="58.3" r="0.58" opacity="0.47"/>
<circle cx="270.2" cy="91.4" r="0.79" opacity="0.40"/>
<circle cx="262.9" cy="57.4" r="0.61" opacity="0.43"/>
<circle cx="276.6" cy="87.4" r="0.98" opacity="0.37"/>
<circle cx="272.7" cy="72.2" r="1.00" opacity="0.26"/>
<circle cx="275.3" cy="83.6" r="0.46" opacity="0.25"/>
<circle cx="288.2" cy="84.2" r="0.68" opacity="0.16"/>
<circle cx="285.8" cy="76.1" r="0.88" opacity="0.98"/>
<circle cx="285.6" cy="60.2" r="0.45" opacity="0.23"/>
<circle cx="274.8" cy="65.1" r="0.47" opacity="0.18"/>
<circle cx="278.2" cy="71.0" r="0.58" opacity="0.99"/>
<circle cx="278.4" cy="37.7" r="0.62" opacity="0.69"/>
<circle cx="268.9" cy="76.2" r="0.35" opacity="0.24"/>
<circle cx="284.3" cy="70.0" r="0.78" opacity="0.19"/>
<circle cx="274.4" cy="68.0" r="0.52" opacity="0.52"/>
<circle cx="275.4" cy="94.3" r="0.72" opacity="0.31"/>
<circle cx="263.6" cy="44.5" r="0.84" opacity="0.16"/>
<circle cx="263.0" cy="45.3" r="0.69" opacity="0.74"/>
<circle cx="277.7" cy="83.0" r="0.39" opacity="0.15"/>
<circle cx="282.2" cy="54.3" r="0.82" opacity="0.27"/>
<circle cx="265.0" cy="51.0" r="0.41" opacity="0.85"/>
<circle cx="276.8" cy="55.9" r="0.64" opacity="0.29"/>
<circle cx="261.7" cy="88.0" r="0.73" opacity="0.94"/>
<circle cx="272.7" cy="72.0" r="0.51" opacity="0.15"/>
<circle cx="286.8" cy="85.9" r="0.55" opacity="0.84"/>
<circle cx="283.5" cy="53.2" r="0.74" opacity="0.94"/>
<circle cx="274.3" cy="91.5" r="0.51" opacity="0.29"/>
<circle cx="280.7" cy="48.3" r="0.55" opacity="0.81"/>
<circle cx="274.0" cy="82.2" r="0.51" opacity="0.18"/>
<circle cx="270.4" cy="46.3" r="0.98" opacity="0.23"/>
<circle cx="276.2" cy="42.0" r="0.70" opacity="0.29"/>
<circle cx="271.7" cy="39.1" r="0.43" opacity="0.74"/>
<circle cx="270.2" cy="49.7" r="0.47" opacity="0.23"/>
<circle cx="266.9" cy="37.3" r="0.78" opacity="0.26"/>
<circle cx="264.6" cy="77.1" r="0.41" opacity="0.22"/>
<circle cx="284.1" cy="42.8" r="0.64" opacity="0.76"/>
<circle cx="283.2" cy="44.6" r="0.58" opacity="0.61"/>
<circle cx="270.9" cy="92.0" r="0.49" opacity="0.92"/>
<circle cx="274.6" cy="48.7" r="0.64" opacity="0.17"/>
<circle cx="280.4" cy="50.7" r="0.93" opacity="0.46"/>
<circle cx="270.7" cy="49.8" r="0.75" opacity="0.19"/>
<circle cx="285.1" cy="42.5" r="0.68" opacity="0.42"/>
<circle cx="267.9" cy="81.0" r="0.60" opacity="0.53"/>
<circle cx="276.4" cy="53.6" r="0.60" opacity="0.16"/>
<circle cx="265.2" cy="85.7" r="0.56" opacity="0.54"/>
<circle cx="263.2" cy="68.5" r="0.58" opacity="0.38"/>
<circle cx="268.6" cy="39.1" r="0.55" opacity="0.20"/>
<circle cx="263.7" cy="77.7" r="0.53" opacity="0.30"/>
<circle cx="286.2" cy="81.2" r="0.92" opacity="0.79"/>
<circle cx="263.9" cy="51.6" r="0.37" opacity="0.56"/>
<circle cx="279.1" cy="56.0" r="0.62" opacity="0.53"/>
<circle cx="280.2" cy="49.9" r="0.90" opacity="0.27"/>
<circle cx="278.1" cy="46.0" r="0.42" opacity="0.86"/>
<circle cx="281.2" cy="77.5" r="0.38" opacity="0.15"/>
<circle cx="264.7" cy="46.9" r="0.55" opacity="0.29"/>
<circle cx="261.2" cy="53.6" r="0.76" opacity="0.18"/>
<circle cx="284.2" cy="69.0" r="0.82" opacity="0.21"/>
<circle cx="272.6" cy="75.8" r="0.58" opacity="0.15"/>
<circle cx="284.0" cy="81.2" r="0.54" opacity="0.15"/>
<circle cx="284.6" cy="71.2" r="0.38" opacity="0.21"/>
<circle cx="263.3" cy="82.1" r="0.49" opacity="0.87"/>
<circle cx="281.6" cy="40.3" r="0.80" opacity="0.29"/>
<circle cx="281.6" cy="84.3" r="0.53" opacity="0.16"/>
<circle cx="287.3" cy="60.3" r="0.95" opacity="0.57"/>
<circle cx="281.3" cy="84.4" r="0.76" opacity="0.34"/>
<circle cx="261.7" cy="76.6" r="0.63" opacity="0.39"/>
<circle cx="286.7" cy="42.8" r="0.85" opacity="0.15"/>
<circle cx="280.3" cy="83.0" r="0.52" opacity="0.42"/>
<circle cx="287.9" cy="73.0" r="0.70" opacity="0.21"/>
<circle cx="261.8" cy="56.4" r="0.62" opacity="0.19"/>
<circle cx="269.0" cy="43.3" r="0.81" opacity="0.55"/>
<circle cx="266.9" cy="49.5" r="0.68" opacity="0.33"/>
<circle cx="287.0" cy="56.0" r="0.54" opacity="0.82"/>
<circle cx="264.2" cy="68.6" r="0.57" opacity="0.73"/>
<circle cx="275.8" cy="80.3" r="0.46" opacity="0.54"/>
<circle cx="277.3" cy="62.5" r="0.85" opacity="0.75"/>
<circle cx="263.4" cy="52.4" r="0.58" opacity="0.19"/>
<circle cx="261.8" cy="51.9" r="0.48" opacity="0.58"/>
<circle cx="273.0" cy="41.9" r="0.56" opacity="0.35"/>
<circle cx="270.5" cy="45.2" r="0.40" opacity="0.15"/>
<circle cx="288.6" cy="79.7" r="0.40" opacity="0.60"/>
<circle cx="288.2" cy="68.6" r="0.42" opacity="0.37"/>
<circle cx="272.6" cy="46.5" r="0.70" opacity="0.15"/>
<circle cx="286.5" cy="73.4" r="0.76" opacity="0.90"/>
<circle cx="278.8" cy="50.1" r="0.51" opacity="0.17"/>
<circle cx="260.9" cy="81.1" r="0.90" opacity="0.23"/>
<circle cx="265.4" cy="73.0" r="0.90" opacity="0.89"/>
<circle cx="264.9" cy="81.7" r="0.89" opacity="0.63"/>
<circle cx="269.5" cy="46.1" r="0.89" opacity="0.25"/>
<circle cx="270.7" cy="67.9" r="0.59" opacity="0.75"/>
<circle cx="267.0" cy="37.6" r="0.72" opacity="0.50"/>
<circle cx="283.6" cy="77.0" r="0.94" opacity="0.91"/>
<circle cx="274.3" cy="64.8" r="0.45" opacity="0.24"/>
<circle cx="276.8" cy="40.0" r="0.80" opacity="0.18"/>
<circle cx="272.8" cy="92.7" r="0.41" opacity="0.15"/>
<circle cx="272.7" cy="46.5" r="0.82" opacity="0.15"/>
<circle cx="284.2" cy="85.9" r="0.86" opacity="0.32"/>
<circle cx="268.2" cy="74.4" r="0.68" opacity="0.31"/>
<circle cx="269.8" cy="61.2" r="0.78" opacity="0.74"/>
<circle cx="286.0" cy="45.0" r="0.54" opacity="0.33"/>
<circle cx="276.3" cy="55.8" r="0.48" opacity="0.16"/>
<circle cx="269.4" cy="62.5" r="0.98" opacity="0.86"/>
<circle cx="284.9" cy="93.0" r="0.98" opacity="0.49"/>
<circle cx="283.4" cy="38.8" r="0.79" opacity="0.48"/>
<circle cx="268.6" cy="69.1" r="0.97" opacity="0.36"/>
<circle cx="278.7" cy="52.9" r="0.57" opacity="0.82"/>
<circle cx="260.9" cy="46.4" r="0.79" opacity="0.33"/>
<circle cx="262.5" cy="74.4" r="0.59" opacity="0.45"/>
<circle cx="272.1" cy="66.6" r="0.72" opacity="0.30"/>
<circle cx="263.4" cy="45.9" r="0.93" opacity="0.42"/>
<circle cx="263.3" cy="86.3" r="0.51" opacity="0.16"/>
<circle cx="275.3" cy="50.1" r="0.67" opacity="0.43"/>
<circle cx="266.6" cy="69.2" r="0.42" opacity="0.39"/>
<rect x="167.20" y="98.60" width="29.00" height="60.10" fill="#000"/>
<circle cx="184.2" cy="103.8" r="0.42" opacity="0.11"/>
<circle cx="180.0" cy="150.1" r="0.47" opacity="0.21"/>
<circle cx="188.9" cy="105.9" r="0.60" opacity="0.21"/>
<circle cx="170.6" cy="148.2" r="0.42" opacity="0.13"/>
<circle cx="194.6" cy="132.4" r="0.53" opacity="0.12"/>
<circle cx="189.4" cy="102.5" r="0.37" opacity="0.16"/>
<circle cx="168.1" cy="134.2" r="0.36" opacity="0.14"/>
<circle cx="187.5" cy="124.3" r="0.57" opacity="0.19"/>
<circle cx="192.1" cy="132.4" r="0.58" opacity="0.23"/>
<circle cx="172.4" cy="143.2" r="0.40" opacity="0.21"/>
<circle cx="186.8" cy="147.9" r="0.34" opacity="0.16"/>
<circle cx="188.3" cy="155.1" r="0.52" opacity="0.11"/>
<circle cx="184.6" cy="105.0" r="0.46" opacity="0.22"/>
<circle cx="170.9" cy="153.8" r="0.50" opacity="0.14"/>
<circle cx="167.8" cy="104.8" r="0.70" opacity="0.58"/>
<circle cx="178.2" cy="103.4" r="0.55" opacity="0.32"/>
<circle cx="178.7" cy="113.5" r="0.55" opacity="0.32"/>
<circle cx="184.6" cy="113.0" r="0.55" opacity="0.32"/>
<circle cx="176.4" cy="116.7" r="0.55" opacity="0.32"/>
<circle cx="182.5" cy="117.4" r="0.55" opacity="0.32"/>
<circle cx="180.4" cy="119.7" r="0.70" opacity="0.58"/>
<circle cx="176.9" cy="120.6" r="0.55" opacity="0.32"/>
<circle cx="183.4" cy="121.1" r="0.55" opacity="0.32"/>
<circle cx="174.6" cy="123.2" r="0.70" opacity="0.58"/>
<circle cx="190.8" cy="122.8" r="0.70" opacity="0.58"/>
<circle cx="194.5" cy="131.1" r="0.55" opacity="0.32"/>
<circle cx="182.5" cy="133.4" r="0.70" opacity="0.58"/>
<circle cx="187.8" cy="132.0" r="0.55" opacity="0.32"/>
<circle cx="188.7" cy="139.9" r="1.00" opacity="0.88"/>
<circle cx="195.8" cy="139.3" r="0.70" opacity="0.58"/>
<circle cx="172.9" cy="141.1" r="0.70" opacity="0.58"/>
<circle cx="175.9" cy="141.3" r="0.70" opacity="0.58"/>
<circle cx="180.4" cy="142.0" r="1.00" opacity="0.88"/>
<circle cx="183.1" cy="143.7" r="1.00" opacity="0.88"/>
<circle cx="172.4" cy="146.4" r="1.00" opacity="0.88"/>
<circle cx="176.4" cy="150.4" r="0.55" opacity="0.32"/>
<circle cx="173.8" cy="152.7" r="0.55" opacity="0.32"/>
<circle cx="183.4" cy="151.3" r="0.55" opacity="0.32"/>
<circle cx="184.3" cy="156.5" r="0.55" opacity="0.32"/>
<rect x="198.00" y="98.60" width="27.40" height="60.10" fill="#000"/>
<circle cx="203.6" cy="125.5" r="0.55" opacity="0.19"/>
<circle cx="201.5" cy="100.3" r="0.33" opacity="0.22"/>
<circle cx="203.4" cy="131.9" r="0.39" opacity="0.20"/>
<circle cx="208.6" cy="107.6" r="0.56" opacity="0.18"/>
<circle cx="216.7" cy="146.9" r="0.58" opacity="0.10"/>
<circle cx="207.5" cy="108.0" r="0.45" opacity="0.23"/>
<circle cx="219.6" cy="101.2" r="0.35" opacity="0.22"/>
<circle cx="216.4" cy="122.3" r="0.44" opacity="0.12"/>
<circle cx="220.8" cy="122.4" r="0.56" opacity="0.19"/>
<circle cx="200.5" cy="118.6" r="0.36" opacity="0.23"/>
<circle cx="214.1" cy="101.7" r="0.35" opacity="0.15"/>
<circle cx="210.8" cy="133.2" r="0.42" opacity="0.15"/>
<circle cx="198.7" cy="133.3" r="0.40" opacity="0.10"/>
<circle cx="210.6" cy="157.4" r="0.31" opacity="0.12"/>
<circle cx="201.3" cy="101.3" r="1.00" opacity="0.88"/>
<circle cx="207.6" cy="104.4" r="0.70" opacity="0.58"/>
<circle cx="218.9" cy="105.1" r="1.00" opacity="0.88"/>
<circle cx="202.7" cy="107.9" r="0.70" opacity="0.58"/>
<circle cx="215.5" cy="108.3" r="0.70" opacity="0.58"/>
<circle cx="218.5" cy="110.9" r="0.70" opacity="0.58"/>
<circle cx="222.9" cy="113.0" r="0.70" opacity="0.58"/>
<circle cx="215.9" cy="114.4" r="0.55" opacity="0.32"/>
<circle cx="220.8" cy="113.9" r="0.55" opacity="0.32"/>
<circle cx="216.2" cy="121.1" r="0.55" opacity="0.32"/>
<circle cx="212.0" cy="122.8" r="0.70" opacity="0.58"/>
<circle cx="202.7" cy="123.2" r="0.70" opacity="0.58"/>
<circle cx="219.9" cy="124.1" r="0.55" opacity="0.32"/>
<circle cx="206.2" cy="128.8" r="0.55" opacity="0.32"/>
<circle cx="221.1" cy="129.9" r="0.55" opacity="0.32"/>
<circle cx="214.6" cy="129.9" r="0.55" opacity="0.32"/>
<circle cx="224.6" cy="130.6" r="0.55" opacity="0.32"/>
<circle cx="214.1" cy="143.7" r="1.35" opacity="1.00"/>
<circle cx="212.7" cy="148.3" r="1.00" opacity="0.88"/>
<circle cx="204.5" cy="143.4" r="0.55" opacity="0.32"/>
<circle cx="222.0" cy="157.1" r="0.70" opacity="0.58"/>
<circle cx="199.2" cy="155.6" r="0.55" opacity="0.32"/>
<rect x="227.90" y="98.60" width="30.30" height="60.10" fill="#000"/>
<circle cx="248.1" cy="115.2" r="0.38" opacity="0.18"/>
<circle cx="236.1" cy="132.7" r="0.46" opacity="0.24"/>
<circle cx="257.5" cy="101.1" r="0.47" opacity="0.22"/>
<circle cx="254.0" cy="144.9" r="0.49" opacity="0.20"/>
<circle cx="239.0" cy="115.7" r="0.54" opacity="0.23"/>
<circle cx="255.9" cy="139.4" r="0.39" opacity="0.21"/>
<circle cx="250.1" cy="129.2" r="0.49" opacity="0.15"/>
<circle cx="244.5" cy="123.1" r="0.32" opacity="0.15"/>
<circle cx="237.9" cy="157.5" r="0.44" opacity="0.16"/>
<circle cx="235.5" cy="113.0" r="0.40" opacity="0.12"/>
<circle cx="228.6" cy="150.6" r="0.44" opacity="0.17"/>
<circle cx="245.1" cy="117.0" r="0.35" opacity="0.11"/>
<circle cx="237.2" cy="117.3" r="0.52" opacity="0.18"/>
<circle cx="255.9" cy="119.2" r="0.58" opacity="0.19"/>
<circle cx="230.7" cy="109.7" r="0.47" opacity="0.25"/>
<circle cx="238.9" cy="144.9" r="0.43" opacity="0.23"/>
<circle cx="230.4" cy="127.7" r="0.57" opacity="0.14"/>
<circle cx="235.9" cy="100.5" r="0.35" opacity="0.14"/>
<circle cx="249.0" cy="112.0" r="0.42" opacity="0.13"/>
<circle cx="246.1" cy="150.2" r="0.49" opacity="0.13"/>
<circle cx="247.5" cy="107.9" r="0.55" opacity="0.32"/>
<circle cx="253.1" cy="114.4" r="0.70" opacity="0.58"/>
<circle cx="230.3" cy="119.2" r="0.70" opacity="0.58"/>
<circle cx="245.7" cy="124.6" r="1.00" opacity="0.88"/>
<circle cx="250.1" cy="125.3" r="0.70" opacity="0.58"/>
<circle cx="233.8" cy="131.1" r="1.00" opacity="0.88"/>
<circle cx="253.6" cy="132.5" r="0.70" opacity="0.58"/>
<circle cx="242.0" cy="136.4" r="0.70" opacity="0.58"/>
<circle cx="248.3" cy="143.4" r="0.55" opacity="0.32"/>
<circle cx="238.2" cy="140.7" r="0.55" opacity="0.32"/>
<circle cx="250.1" cy="153.0" r="0.55" opacity="0.32"/>
<circle cx="244.3" cy="154.8" r="0.55" opacity="0.32"/>
<circle cx="246.0" cy="157.8" r="0.55" opacity="0.32"/>
<circle cx="235.9" cy="127.6" r="0.55" opacity="0.32"/>
<circle cx="257.5" cy="110.0" r="0.55" opacity="0.32"/>
<circle cx="242.5" cy="111.8" r="0.55" opacity="0.32"/>
<circle cx="256.6" cy="103.4" r="0.55" opacity="0.32"/>
<circle cx="244.3" cy="103.0" r="0.55" opacity="0.32"/>
<rect x="259.60" y="98.60" width="29.70" height="60.10" fill="#000"/>
<circle cx="281.2" cy="156.0" r="0.48" opacity="0.12"/>
<circle cx="283.3" cy="150.8" r="0.40" opacity="0.13"/>
<circle cx="265.5" cy="130.8" r="0.56" opacity="0.23"/>
<circle cx="286.6" cy="111.6" r="0.40" opacity="0.25"/>
<circle cx="278.7" cy="123.1" r="0.50" opacity="0.17"/>
<circle cx="261.7" cy="123.6" r="0.31" opacity="0.23"/>
<circle cx="269.7" cy="128.3" r="0.48" opacity="0.15"/>
<circle cx="273.4" cy="99.9" r="0.58" opacity="0.21"/>
<circle cx="288.4" cy="102.4" r="0.48" opacity="0.24"/>
<circle cx="269.5" cy="104.6" r="0.35" opacity="0.13"/>
<circle cx="282.1" cy="104.4" r="0.54" opacity="0.18"/>
<circle cx="275.6" cy="133.9" r="0.47" opacity="0.23"/>
<circle cx="277.4" cy="118.7" r="0.52" opacity="0.15"/>
<circle cx="280.5" cy="144.2" r="0.53" opacity="0.16"/>
<circle cx="282.3" cy="156.9" r="0.44" opacity="0.16"/>
<circle cx="275.1" cy="154.7" r="0.34" opacity="0.10"/>
<circle cx="273.8" cy="137.8" r="0.53" opacity="0.17"/>
<circle cx="288.5" cy="112.6" r="0.53" opacity="0.12"/>
<circle cx="260.9" cy="107.0" r="0.32" opacity="0.20"/>
<circle cx="276.0" cy="109.8" r="0.58" opacity="0.17"/>
<circle cx="264.4" cy="109.6" r="0.52" opacity="0.28"/>
<circle cx="264.8" cy="100.8" r="0.53" opacity="0.15"/>
<circle cx="288.3" cy="128.6" r="0.49" opacity="0.17"/>
<circle cx="283.1" cy="126.3" r="0.40" opacity="0.28"/>
<circle cx="282.5" cy="104.8" r="1.35" opacity="1.00"/>
<circle cx="282.9" cy="115.3" r="1.00" opacity="0.88"/>
<circle cx="278.5" cy="111.8" r="0.55" opacity="0.32"/>
<circle cx="271.5" cy="109.7" r="0.55" opacity="0.32"/>
<circle cx="274.1" cy="117.9" r="0.70" opacity="0.58"/>
<circle cx="277.3" cy="117.9" r="0.70" opacity="0.58"/>
<circle cx="267.1" cy="122.8" r="1.00" opacity="0.88"/>
<circle cx="286.0" cy="120.6" r="0.55" opacity="0.32"/>
<circle cx="273.2" cy="126.7" r="0.70" opacity="0.58"/>
<circle cx="279.4" cy="126.2" r="0.55" opacity="0.32"/>
<circle cx="286.4" cy="126.7" r="0.55" opacity="0.32"/>
<circle cx="274.1" cy="132.0" r="0.70" opacity="0.58"/>
<circle cx="279.0" cy="131.1" r="0.70" opacity="0.58"/>
<circle cx="282.9" cy="133.4" r="1.00" opacity="0.88"/>
<circle cx="269.4" cy="136.0" r="1.00" opacity="0.88"/>
<circle cx="274.6" cy="134.9" r="1.00" opacity="0.88"/>
<circle cx="278.5" cy="138.1" r="0.70" opacity="0.58"/>
<circle cx="277.3" cy="141.6" r="0.70" opacity="0.58"/>
<circle cx="270.3" cy="143.0" r="0.55" opacity="0.32"/>
<circle cx="284.6" cy="143.7" r="0.70" opacity="0.58"/>
<circle cx="268.0" cy="148.3" r="1.35" opacity="1.00"/>
<circle cx="279.9" cy="150.9" r="0.55" opacity="0.32"/>
<circle cx="261.0" cy="155.3" r="0.70" opacity="0.58"/>
<circle cx="274.6" cy="158.0" r="0.55" opacity="0.32"/>
<circle cx="261.8" cy="108.6" r="0.55" opacity="0.32"/>
</g>
<text x="302.6" y="15.7" font-size="11.4" text-anchor="start" fill="#000" font-weight="bold" stroke="none" textLength="6.8" lengthAdjust="spacingAndGlyphs" transform="rotate(0.04 302.6 15.7)" >B</text>
<text x="316.2" y="17.8" font-size="9.2" text-anchor="start" fill="#1a1a1a" transform="rotate(0.04 316.2 17.8)" >i</text>
<line x1="335.1" y1="25.3" x2="335.1" y2="129.05" stroke="#111" stroke-width="1.6" stroke-linecap="butt"/>
<line x1="334.3" y1="128.3" x2="395.7" y2="128.3" stroke="#111" stroke-width="1.6" stroke-linecap="butt"/>
<line x1="331.4" y1="128.3" x2="335.1" y2="128.3" stroke="#111" stroke-width="1.2" stroke-linecap="butt"/>
<text x="329.3" y="131.20000000000002" font-size="8.1" text-anchor="end" fill="#1a1a1a" textLength="4.4" lengthAdjust="spacingAndGlyphs" transform="rotate(0.04 329.3 131.20000000000002)" >0</text>
<line x1="331.4" y1="94.21666666666667" x2="335.1" y2="94.21666666666667" stroke="#111" stroke-width="1.2" stroke-linecap="butt"/>
<text x="329.3" y="97.11666666666667" font-size="8.1" text-anchor="end" fill="#1a1a1a" textLength="13.2" lengthAdjust="spacingAndGlyphs" transform="rotate(0.04 329.3 97.11666666666667)" >500</text>
<line x1="331.4" y1="60.13333333333334" x2="335.1" y2="60.13333333333334" stroke="#111" stroke-width="1.2" stroke-linecap="butt"/>
<text x="329.3" y="63.03333333333334" font-size="8.1" text-anchor="end" fill="#1a1a1a" textLength="17.6" lengthAdjust="spacingAndGlyphs" transform="rotate(0.04 329.3 63.03333333333334)" >1000</text>
<line x1="331.4" y1="26.049999999999997" x2="335.1" y2="26.049999999999997" stroke="#111" stroke-width="1.2" stroke-linecap="butt"/>
<text x="329.3" y="28.949999999999996" font-size="8.1" text-anchor="end" fill="#1a1a1a" textLength="17.6" lengthAdjust="spacingAndGlyphs" transform="rotate(0.04 329.3 28.949999999999996)" >1500</text>
<text x="308.3" y="77.6" font-size="9" text-anchor="middle" fill="#1a1a1a" textLength="40.3" lengthAdjust="spacingAndGlyphs" transform="rotate(-90 308.3 77.6)" >Platelet count</text>
<rect x="339.40" y="56.10" width="9.20" height="71.70" fill="#c60019"/>
<line x1="344.0" y1="56.1" x2="344.0" y2="52.7" stroke="#c8081e" stroke-width="1.2" stroke-linecap="butt"/>
<line x1="341.8" y1="53.150000000000006" x2="346.2" y2="53.150000000000006" stroke="#c8081e" stroke-width="1.1" stroke-linecap="butt"/>
<line x1="344.0" y1="128.3" x2="344.0" y2="131.8" stroke="#111" stroke-width="1.2" stroke-linecap="butt"/>
<line x1="341.8" y1="137.0" x2="346.2" y2="137.0" stroke="#151515" stroke-width="0.85" stroke-linecap="butt"/>
<line x1="344.0" y1="134.8" x2="344.0" y2="139.2" stroke="#151515" stroke-width="0.85" stroke-linecap="butt"/>
<rect x="352.60" y="53.40" width="9.30" height="74.40" fill="#c60019"/>
<line x1="357.25" y1="53.4" x2="357.25" y2="46.7" stroke="#c8081e" stroke-width="1.2" stroke-linecap="butt"/>
<line x1="355.05" y1="47.150000000000006" x2="359.45" y2="47.150000000000006" stroke="#c8081e" stroke-width="1.1" stroke-linecap="butt"/>
<line x1="357.25" y1="128.3" x2="357.25" y2="131.8" stroke="#111" stroke-width="1.2" stroke-linecap="butt"/>
<line x1="355.05" y1="137.0" x2="359.45" y2="137.0" stroke="#151515" stroke-width="0.85" stroke-linecap="butt"/>
<line x1="357.25" y1="134.8" x2="357.25" y2="139.2" stroke="#151515" stroke-width="0.85" stroke-linecap="butt"/>
<rect x="366.00" y="57.70" width="9.10" height="70.10" fill="#c60019"/>
<line x1="370.55" y1="57.7" x2="370.55" y2="52.7" stroke="#c8081e" stroke-width="1.2" stroke-linecap="butt"/>
<line x1="368.35" y1="53.150000000000006" x2="372.75" y2="53.150000000000006" stroke="#c8081e" stroke-width="1.1" stroke-linecap="butt"/>
<line x1="370.55" y1="128.3" x2="370.55" y2="131.8" stroke="#111" stroke-width="1.2" stroke-linecap="butt"/>
<line x1="368.35" y1="137.0" x2="372.75" y2="137.0" stroke="#151515" stroke-width="0.85" stroke-linecap="butt"/>
<line x1="370.55" y1="134.8" x2="370.55" y2="139.2" stroke="#151515" stroke-width="0.85" stroke-linecap="butt"/>
<rect x="379.20" y="41.70" width="9.20" height="86.10" fill="#c60019"/>
<line x1="383.79999999999995" y1="41.7" x2="383.79999999999995" y2="35.6" stroke="#c8081e" stroke-width="1.2" stroke-linecap="butt"/>
<line x1="381.59999999999997" y1="36.050000000000004" x2="385.99999999999994" y2="36.050000000000004" stroke="#c8081e" stroke-width="1.1" stroke-linecap="butt"/>
<line x1="383.79999999999995" y1="128.3" x2="383.79999999999995" y2="131.8" stroke="#111" stroke-width="1.2" stroke-linecap="butt"/>
<line x1="381.59999999999997" y1="137.0" x2="385.99999999999994" y2="137.0" stroke="#151515" stroke-width="0.85" stroke-linecap="butt"/>
<line x1="383.79999999999995" y1="134.8" x2="383.79999999999995" y2="139.2" stroke="#151515" stroke-width="0.85" stroke-linecap="butt"/>
<text x="357.8" y="41.6" font-size="7.4" text-anchor="middle" fill="#1a1a1a" transform="rotate(0.04 357.8 41.6)" >n.s</text>
<text x="370.3" y="49.6" font-size="7.4" text-anchor="middle" fill="#1a1a1a" transform="rotate(0.04 370.3 49.6)" >n.s</text>
<path d="M384.15 27.60L384.15 26.25M384.15 27.60L385.43 27.18M384.15 27.60L384.94 28.69M384.15 27.60L383.36 28.69M384.15 27.60L382.87 27.18" stroke="#111" stroke-width="0.75" fill="none" stroke-linecap="round"/>
<text x="303.1" y="139.6" font-size="7.9" text-anchor="start" fill="#1a1a1a" textLength="19.2" lengthAdjust="spacingAndGlyphs" transform="rotate(0.04 303.1 139.6)" >Spike</text>
<text x="347.1" y="147.4" font-size="7.9" text-anchor="end" fill="#1a1a1a" transform="rotate(-45 347.1 147.4)" >WT</text>
<text x="360.35" y="147.4" font-size="7.9" text-anchor="end" fill="#1a1a1a" transform="rotate(-45 360.35 147.4)" >Low Fuc</text>
<text x="373.65" y="147.4" font-size="7.9" text-anchor="end" fill="#1a1a1a" transform="rotate(-45 373.65 147.4)" >High Gal</text>
<text x="386.9" y="147.4" font-size="7.9" text-anchor="end" fill="#1a1a1a" transform="rotate(-45 386.9 147.4)" >Low Fuc High Gal</text>
<text x="423.9" y="20.1" font-size="8.8" text-anchor="start" fill="#1a1a1a" transform="rotate(0.04 423.9 20.1)" >ii</text>
<text x="476.8" y="20.1" font-size="9.1" text-anchor="middle" fill="#1a1a1a" textLength="54.4" lengthAdjust="spacingAndGlyphs" transform="rotate(0.04 476.8 20.1)" >Spike + vWF</text>
<g fill="#cfe8e6">
<rect x="438.70" y="23.90" width="75.30" height="33.80" fill="#000"/>
<circle cx="447.2" cy="48.5" r="0.24" opacity="0.37"/>
<circle cx="469.1" cy="52.7" r="0.24" opacity="0.33"/>
<circle cx="469.7" cy="54.5" r="0.48" opacity="0.36"/>
<circle cx="455.8" cy="32.7" r="0.29" opacity="0.28"/>
<circle cx="456.4" cy="31.1" r="0.43" opacity="0.36"/>
<circle cx="461.4" cy="57.0" r="0.28" opacity="0.34"/>
<circle cx="450.8" cy="52.7" r="0.46" opacity="0.22"/>
<circle cx="495.0" cy="51.4" r="0.30" opacity="0.25"/>
<circle cx="475.3" cy="53.6" r="0.27" opacity="0.38"/>
<circle cx="483.6" cy="39.3" r="0.38" opacity="0.46"/>
<circle cx="454.8" cy="53.4" r="0.32" opacity="0.42"/>
<circle cx="503.3" cy="30.4" r="0.46" opacity="0.50"/>
<circle cx="461.3" cy="25.2" r="0.25" opacity="0.49"/>
<circle cx="439.9" cy="54.3" r="0.26" opacity="0.40"/>
<circle cx="446.4" cy="29.9" r="0.41" opacity="0.15"/>
<circle cx="464.4" cy="54.5" r="0.42" opacity="0.46"/>
<circle cx="512.0" cy="25.5" r="0.29" opacity="0.42"/>
<circle cx="490.4" cy="25.6" r="0.36" opacity="0.21"/>
<circle cx="471.2" cy="27.8" r="0.23" opacity="0.50"/>
<circle cx="462.7" cy="53.2" r="0.25" opacity="0.31"/>
<circle cx="449.3" cy="38.5" r="0.27" opacity="0.38"/>
<circle cx="450.2" cy="48.6" r="0.36" opacity="0.16"/>
<circle cx="465.5" cy="40.7" r="0.48" opacity="0.25"/>
<circle cx="455.2" cy="56.1" r="0.47" opacity="0.40"/>
<circle cx="459.5" cy="30.2" r="0.29" opacity="0.15"/>
<circle cx="442.4" cy="41.1" r="0.33" opacity="0.33"/>
<circle cx="466.1" cy="24.7" r="0.41" opacity="0.37"/>
<circle cx="479.6" cy="42.4" r="0.41" opacity="0.49"/>
<circle cx="504.1" cy="47.9" r="0.33" opacity="0.24"/>
<circle cx="470.3" cy="56.3" r="0.33" opacity="0.27"/>
<circle cx="469.7" cy="29.1" r="0.50" opacity="0.12"/>
<circle cx="484.4" cy="54.8" r="0.29" opacity="0.35"/>
<circle cx="467.2" cy="32.3" r="0.28" opacity="0.16"/>
<circle cx="501.8" cy="50.1" r="0.47" opacity="0.14"/>
<circle cx="490.8" cy="35.0" r="0.40" opacity="0.33"/>
<circle cx="462.7" cy="56.3" r="0.22" opacity="0.40"/>
<circle cx="502.6" cy="41.1" r="0.39" opacity="0.50"/>
<circle cx="456.6" cy="45.0" r="0.43" opacity="0.26"/>
<circle cx="492.1" cy="37.3" r="0.37" opacity="0.35"/>
<circle cx="489.5" cy="35.0" r="0.40" opacity="0.33"/>
<circle cx="455.8" cy="44.5" r="0.29" opacity="0.47"/>
<circle cx="474.4" cy="48.1" r="0.37" opacity="0.30"/>
<circle cx="455.6" cy="29.1" r="0.48" opacity="0.32"/>
<circle cx="478.1" cy="41.7" r="0.45" opacity="0.21"/>
<circle cx="452.0" cy="51.4" r="0.35" opacity="0.36"/>
<circle cx="500.7" cy="53.7" r="0.46" opacity="0.14"/>
<circle cx="467.5" cy="51.7" r="0.45" opacity="0.17"/>
<circle cx="450.6" cy="32.6" r="0.25" opacity="0.26"/>
<circle cx="498.9" cy="41.5" r="0.35" opacity="0.15"/>
<circle cx="468.6" cy="57.1" r="0.41" opacity="0.29"/>
<circle cx="474.7" cy="50.6" r="0.43" opacity="0.18"/>
<circle cx="489.7" cy="36.4" r="0.37" opacity="0.21"/>
<circle cx="466.7" cy="35.6" r="0.33" opacity="0.13"/>
<circle cx="454.1" cy="43.1" r="0.24" opacity="0.19"/>
<circle cx="492.6" cy="33.4" r="0.31" opacity="0.21"/>
<circle cx="501.2" cy="27.4" r="0.40" opacity="0.45"/>
<circle cx="454.2" cy="38.3" r="0.44" opacity="0.35"/>
<circle cx="466.8" cy="25.8" r="0.34" opacity="0.26"/>
<circle cx="492.1" cy="34.1" r="0.33" opacity="0.37"/>
<circle cx="499.4" cy="36.0" r="0.33" opacity="0.34"/>
<circle cx="507.9" cy="30.7" r="0.49" opacity="0.39"/>
<circle cx="466.9" cy="46.2" r="0.31" opacity="0.15"/>
<circle cx="495.4" cy="36.8" r="0.37" opacity="0.31"/>
<circle cx="506.2" cy="49.2" r="0.23" opacity="0.35"/>
<circle cx="473.6" cy="39.6" r="0.46" opacity="0.28"/>
<circle cx="474.4" cy="53.6" r="0.34" opacity="0.31"/>
<circle cx="477.2" cy="51.4" r="0.41" opacity="0.40"/>
<circle cx="469.0" cy="25.7" r="0.41" opacity="0.33"/>
<circle cx="496.4" cy="49.7" r="0.25" opacity="0.20"/>
<circle cx="444.9" cy="51.2" r="0.25" opacity="0.15"/>
<circle cx="495.2" cy="42.9" r="0.24" opacity="0.38"/>
<circle cx="492.0" cy="40.2" r="0.24" opacity="0.38"/>
<circle cx="470.3" cy="43.6" r="0.50" opacity="0.43"/>
<circle cx="504.0" cy="29.2" r="0.31" opacity="0.32"/>
<circle cx="439.6" cy="56.8" r="0.30" opacity="0.22"/>
<circle cx="462.5" cy="32.8" r="0.46" opacity="0.33"/>
<circle cx="477.2" cy="38.2" r="0.23" opacity="0.24"/>
<circle cx="503.6" cy="50.7" r="0.46" opacity="0.22"/>
<circle cx="454.2" cy="26.1" r="0.37" opacity="0.26"/>
<circle cx="473.7" cy="40.4" r="0.38" opacity="0.26"/>
<circle cx="498.7" cy="31.0" r="0.48" opacity="0.33"/>
<circle cx="443.0" cy="34.7" r="0.37" opacity="0.28"/>
<circle cx="481.2" cy="35.0" r="0.30" opacity="0.42"/>
<circle cx="460.9" cy="47.7" r="0.44" opacity="0.34"/>
<circle cx="473.0" cy="55.1" r="0.34" opacity="0.45"/>
<circle cx="443.5" cy="38.6" r="0.40" opacity="0.14"/>
<circle cx="503.3" cy="26.8" r="0.39" opacity="0.19"/>
<circle cx="507.7" cy="42.8" r="0.44" opacity="0.31"/>
<circle cx="489.3" cy="46.5" r="0.30" opacity="0.20"/>
<circle cx="501.5" cy="29.2" r="0.48" opacity="0.20"/>
<circle cx="446.7" cy="27.5" r="0.44" opacity="0.48"/>
<circle cx="470.0" cy="46.0" r="0.29" opacity="0.46"/>
<circle cx="490.2" cy="29.5" r="0.24" opacity="0.38"/>
<circle cx="442.3" cy="51.8" r="0.30" opacity="0.21"/>
<circle cx="482.4" cy="34.9" r="0.38" opacity="0.18"/>
<circle cx="507.0" cy="35.0" r="0.46" opacity="0.18"/>
<circle cx="498.6" cy="56.5" r="0.33" opacity="0.13"/>
<circle cx="467.4" cy="45.4" r="0.28" opacity="0.33"/>
<circle cx="446.2" cy="39.6" r="0.42" opacity="0.28"/>
<circle cx="489.6" cy="28.2" r="0.45" opacity="0.17"/>
<circle cx="507.8" cy="57.1" r="0.48" opacity="0.32"/>
<circle cx="460.8" cy="35.8" r="0.43" opacity="0.31"/>
<circle cx="508.3" cy="27.5" r="0.36" opacity="0.45"/>
<circle cx="483.6" cy="42.1" r="0.24" opacity="0.17"/>
<circle cx="459.3" cy="53.7" r="0.46" opacity="0.21"/>
<circle cx="507.9" cy="25.5" r="0.39" opacity="0.49"/>
<circle cx="464.8" cy="55.4" r="0.40" opacity="0.14"/>
<circle cx="464.0" cy="39.1" r="0.29" opacity="0.40"/>
<circle cx="452.5" cy="50.2" r="0.30" opacity="0.15"/>
<circle cx="480.7" cy="27.5" r="0.37" opacity="0.42"/>
<circle cx="483.5" cy="39.5" r="0.23" opacity="0.32"/>
<circle cx="446.4" cy="45.6" r="0.26" opacity="0.34"/>
<circle cx="465.4" cy="36.7" r="0.41" opacity="0.18"/>
<circle cx="451.8" cy="55.3" r="0.31" opacity="0.44"/>
<circle cx="504.1" cy="40.2" r="0.26" opacity="0.16"/>
<circle cx="504.5" cy="28.2" r="0.36" opacity="0.32"/>
<circle cx="447.9" cy="39.7" r="0.27" opacity="0.32"/>
<circle cx="476.9" cy="36.4" r="0.28" opacity="0.27"/>
<circle cx="454.3" cy="28.6" r="0.29" opacity="0.45"/>
<circle cx="476.5" cy="53.6" r="0.22" opacity="0.48"/>
<circle cx="475.5" cy="50.3" r="0.38" opacity="0.38"/>
<circle cx="456.2" cy="49.0" r="0.26" opacity="0.22"/>
<circle cx="441.5" cy="37.3" r="0.37" opacity="0.23"/>
<circle cx="505.4" cy="27.2" r="0.38" opacity="0.21"/>
<circle cx="483.4" cy="50.1" r="0.42" opacity="0.14"/>
<circle cx="457.5" cy="44.1" r="0.50" opacity="0.14"/>
<circle cx="485.1" cy="47.1" r="0.45" opacity="0.25"/>
<circle cx="499.4" cy="39.5" r="0.48" opacity="0.12"/>
<circle cx="509.1" cy="37.9" r="0.33" opacity="0.15"/>
<circle cx="457.4" cy="48.5" r="0.41" opacity="0.18"/>
<circle cx="464.8" cy="29.0" r="0.28" opacity="0.20"/>
<circle cx="463.8" cy="56.4" r="0.50" opacity="0.42"/>
<circle cx="474.8" cy="40.7" r="0.44" opacity="0.47"/>
<circle cx="495.0" cy="45.3" r="0.28" opacity="0.36"/>
<circle cx="502.0" cy="50.2" r="0.25" opacity="0.39"/>
<circle cx="465.1" cy="29.7" r="0.49" opacity="0.38"/>
<circle cx="494.6" cy="28.8" r="0.45" opacity="0.48"/>
<circle cx="506.4" cy="48.8" r="0.45" opacity="0.42"/>
<circle cx="483.1" cy="38.7" r="0.45" opacity="0.42"/>
<circle cx="503.9" cy="34.2" r="0.49" opacity="0.32"/>
<circle cx="509.5" cy="28.2" r="0.49" opacity="0.42"/>
<circle cx="457.9" cy="51.9" r="0.28" opacity="0.20"/>
<circle cx="473.2" cy="32.2" r="0.36" opacity="0.47"/>
<circle cx="490.1" cy="47.7" r="0.33" opacity="0.42"/>
<circle cx="498.2" cy="46.8" r="0.48" opacity="0.43"/>
<circle cx="469.4" cy="27.3" r="0.40" opacity="0.44"/>
<circle cx="464.4" cy="43.9" r="0.45" opacity="0.42"/>
<circle cx="439.5" cy="40.4" r="0.22" opacity="0.16"/>
<circle cx="499.6" cy="38.1" r="0.39" opacity="0.29"/>
<circle cx="464.1" cy="31.4" r="0.32" opacity="0.44"/>
<circle cx="485.2" cy="34.0" r="0.24" opacity="0.22"/>
<circle cx="491.3" cy="38.9" r="0.41" opacity="0.43"/>
<circle cx="448.2" cy="46.8" r="0.23" opacity="0.43"/>
<circle cx="452.9" cy="33.3" r="0.49" opacity="0.26"/>
<circle cx="455.9" cy="53.6" r="0.39" opacity="0.46"/>
<circle cx="468.5" cy="40.8" r="0.49" opacity="0.31"/>
<circle cx="512.6" cy="30.6" r="0.45" opacity="0.18"/>
<circle cx="478.4" cy="24.4" r="0.27" opacity="0.48"/>
<circle cx="473.0" cy="50.9" r="0.29" opacity="0.25"/>
<circle cx="446.7" cy="42.5" r="0.46" opacity="0.32"/>
<circle cx="467.2" cy="54.9" r="0.47" opacity="0.37"/>
<circle cx="444.8" cy="44.9" r="0.34" opacity="0.48"/>
<circle cx="466.1" cy="46.1" r="0.40" opacity="0.26"/>
<circle cx="478.0" cy="46.6" r="0.47" opacity="0.31"/>
<circle cx="466.2" cy="56.4" r="0.24" opacity="0.44"/>
<circle cx="490.0" cy="42.7" r="0.35" opacity="0.41"/>
<circle cx="505.4" cy="48.3" r="0.43" opacity="0.13"/>
<circle cx="463.4" cy="28.9" r="0.49" opacity="0.46"/>
<circle cx="449.9" cy="43.7" r="0.38" opacity="0.14"/>
<circle cx="468.3" cy="48.9" r="0.40" opacity="0.23"/>
<circle cx="495.9" cy="34.0" r="0.37" opacity="0.28"/>
<circle cx="511.9" cy="45.7" r="0.45" opacity="0.38"/>
<circle cx="467.5" cy="56.0" r="0.42" opacity="0.38"/>
<circle cx="459.8" cy="29.7" r="0.38" opacity="0.43"/>
<circle cx="498.2" cy="35.8" r="0.26" opacity="0.32"/>
<circle cx="504.4" cy="29.7" r="0.43" opacity="0.18"/>
<circle cx="462.4" cy="26.2" r="0.30" opacity="0.27"/>
<circle cx="511.0" cy="56.0" r="0.27" opacity="0.24"/>
<circle cx="509.3" cy="30.9" r="0.31" opacity="0.29"/>
<circle cx="447.3" cy="32.9" r="0.33" opacity="0.27"/>
<circle cx="510.8" cy="33.2" r="0.28" opacity="0.47"/>
<circle cx="472.7" cy="51.9" r="0.40" opacity="0.42"/>
<circle cx="462.6" cy="29.4" r="0.43" opacity="0.30"/>
<circle cx="480.7" cy="46.4" r="0.43" opacity="0.22"/>
<circle cx="466.2" cy="54.5" r="0.37" opacity="0.23"/>
<circle cx="486.0" cy="32.9" r="0.44" opacity="0.14"/>
<circle cx="500.6" cy="43.0" r="0.32" opacity="0.48"/>
<circle cx="458.9" cy="32.4" r="0.24" opacity="0.33"/>
<circle cx="495.2" cy="46.6" r="0.34" opacity="0.43"/>
<circle cx="447.5" cy="34.5" r="0.40" opacity="0.49"/>
<circle cx="486.3" cy="47.1" r="0.44" opacity="0.27"/>
<circle cx="509.1" cy="48.8" r="0.32" opacity="0.27"/>
<circle cx="499.1" cy="35.9" r="0.27" opacity="0.45"/>
<circle cx="478.7" cy="41.5" r="0.41" opacity="0.46"/>
<circle cx="449.1" cy="35.5" r="0.24" opacity="0.28"/>
<circle cx="476.5" cy="52.3" r="0.41" opacity="0.34"/>
<circle cx="469.2" cy="43.2" r="0.30" opacity="0.44"/>
<circle cx="497.8" cy="51.9" r="0.26" opacity="0.38"/>
<circle cx="495.2" cy="40.8" r="0.47" opacity="0.46"/>
<circle cx="494.4" cy="51.3" r="0.40" opacity="0.45"/>
<circle cx="449.0" cy="47.5" r="0.42" opacity="0.35"/>
<circle cx="459.6" cy="26.6" r="0.39" opacity="0.43"/>
<circle cx="459.5" cy="31.4" r="0.28" opacity="0.16"/>
<circle cx="489.4" cy="56.4" r="0.44" opacity="0.26"/>
<circle cx="491.2" cy="26.8" r="0.45" opacity="0.24"/>
<circle cx="439.5" cy="45.0" r="0.26" opacity="0.22"/>
<circle cx="443.6" cy="39.0" r="0.38" opacity="0.43"/>
<circle cx="442.1" cy="51.5" r="0.25" opacity="0.21"/>
<circle cx="486.0" cy="35.6" r="0.31" opacity="0.34"/>
<circle cx="455.4" cy="50.4" r="0.28" opacity="0.44"/>
<circle cx="499.3" cy="42.0" r="0.23" opacity="0.42"/>
<circle cx="441.3" cy="41.0" r="0.34" opacity="0.14"/>
<circle cx="486.0" cy="48.2" r="0.38" opacity="0.27"/>
<circle cx="477.2" cy="43.7" r="0.28" opacity="0.45"/>
<circle cx="513.2" cy="50.8" r="0.49" opacity="0.25"/>
<circle cx="512.5" cy="26.7" r="0.35" opacity="0.17"/>
<circle cx="472.9" cy="46.8" r="0.42" opacity="0.29"/>
<circle cx="464.6" cy="30.6" r="0.33" opacity="0.23"/>
<circle cx="453.6" cy="48.5" r="0.36" opacity="0.29"/>
<circle cx="453.9" cy="47.5" r="0.28" opacity="0.22"/>
<circle cx="480.8" cy="47.4" r="0.49" opacity="0.40"/>
<circle cx="509.7" cy="54.6" r="0.42" opacity="0.39"/>
<circle cx="443.9" cy="31.1" r="0.22" opacity="0.45"/>
<circle cx="492.8" cy="45.1" r="0.29" opacity="0.26"/>
<circle cx="451.4" cy="45.1" r="0.50" opacity="0.24"/>
<circle cx="442.5" cy="30.1" r="0.32" opacity="0.46"/>
<circle cx="499.0" cy="39.3" r="0.25" opacity="0.16"/>
<circle cx="450.6" cy="49.9" r="0.35" opacity="0.50"/>
<circle cx="506.9" cy="50.5" r="0.35" opacity="0.43"/>
<circle cx="448.7" cy="28.0" r="0.38" opacity="0.31"/>
<circle cx="454.8" cy="32.7" r="0.23" opacity="0.47"/>
<circle cx="492.0" cy="55.4" r="0.49" opacity="0.29"/>
<circle cx="493.6" cy="37.0" r="0.45" opacity="0.44"/>
<circle cx="449.1" cy="24.8" r="0.28" opacity="0.34"/>
<circle cx="467.4" cy="24.7" r="0.45" opacity="0.42"/>
<circle cx="473.7" cy="25.8" r="0.47" opacity="0.32"/>
<circle cx="444.5" cy="35.0" r="0.39" opacity="0.46"/>
<circle cx="475.2" cy="45.4" r="0.28" opacity="0.21"/>
<circle cx="506.5" cy="36.9" r="0.25" opacity="0.34"/>
<circle cx="448.6" cy="31.0" r="0.35" opacity="0.34"/>
<circle cx="486.5" cy="47.6" r="0.34" opacity="0.15"/>
<circle cx="493.0" cy="26.2" r="0.35" opacity="0.27"/>
<circle cx="489.2" cy="47.8" r="0.29" opacity="0.37"/>
<circle cx="490.6" cy="39.9" r="0.26" opacity="0.47"/>
<circle cx="483.7" cy="26.5" r="0.29" opacity="0.50"/>
<circle cx="456.2" cy="37.3" r="0.44" opacity="0.43"/>
<circle cx="486.3" cy="48.7" r="0.23" opacity="0.16"/>
<circle cx="511.7" cy="50.7" r="0.23" opacity="0.14"/>
<circle cx="457.1" cy="54.9" r="0.28" opacity="0.38"/>
<circle cx="508.3" cy="45.3" r="0.48" opacity="0.22"/>
<circle cx="450.6" cy="25.0" r="0.43" opacity="0.16"/>
<circle cx="511.5" cy="47.7" r="0.27" opacity="0.43"/>
<circle cx="451.3" cy="41.2" r="0.25" opacity="0.42"/>
<circle cx="505.3" cy="54.5" r="0.22" opacity="0.44"/>
<circle cx="480.5" cy="51.3" r="0.36" opacity="0.36"/>
<circle cx="483.4" cy="50.6" r="0.24" opacity="0.14"/>
<circle cx="479.7" cy="33.9" r="0.33" opacity="0.12"/>
<circle cx="494.6" cy="25.2" r="0.45" opacity="0.43"/>
<circle cx="473.2" cy="28.4" r="0.40" opacity="0.20"/>
<circle cx="471.1" cy="28.0" r="0.49" opacity="0.33"/>
<circle cx="465.4" cy="27.5" r="0.42" opacity="0.44"/>
<circle cx="502.2" cy="27.7" r="0.32" opacity="0.24"/>
<circle cx="495.8" cy="29.2" r="0.39" opacity="0.49"/>
<circle cx="496.3" cy="24.6" r="0.24" opacity="0.16"/>
<circle cx="490.6" cy="44.0" r="0.37" opacity="0.29"/>
<circle cx="469.5" cy="44.4" r="0.40" opacity="0.47"/>
<circle cx="493.6" cy="50.5" r="0.48" opacity="0.44"/>
<circle cx="492.4" cy="25.4" r="0.41" opacity="0.44"/>
<circle cx="471.2" cy="53.2" r="0.27" opacity="0.48"/>
<circle cx="472.0" cy="47.6" r="0.29" opacity="0.23"/>
<circle cx="465.1" cy="35.0" r="0.25" opacity="0.29"/>
<circle cx="512.1" cy="45.9" r="0.48" opacity="0.41"/>
<circle cx="501.4" cy="57.0" r="0.43" opacity="0.22"/>
<circle cx="457.8" cy="37.9" r="0.23" opacity="0.21"/>
<circle cx="505.1" cy="54.6" r="0.31" opacity="0.41"/>
<circle cx="496.8" cy="53.6" r="0.44" opacity="0.32"/>
<circle cx="447.0" cy="51.5" r="0.31" opacity="0.36"/>
<circle cx="466.5" cy="42.0" r="0.49" opacity="0.18"/>
<circle cx="478.6" cy="45.7" r="0.37" opacity="0.48"/>
<circle cx="469.5" cy="54.4" r="0.41" opacity="0.49"/>
<circle cx="445.9" cy="31.4" r="0.30" opacity="0.46"/>
<circle cx="440.2" cy="32.9" r="0.42" opacity="0.50"/>
<circle cx="452.3" cy="38.8" r="0.41" opacity="0.38"/>
<circle cx="494.6" cy="49.1" r="0.29" opacity="0.22"/>
<circle cx="441.3" cy="47.1" r="0.28" opacity="0.22"/>
<circle cx="510.8" cy="45.5" r="0.39" opacity="0.37"/>
<circle cx="483.6" cy="47.2" r="0.31" opacity="0.14"/>
<circle cx="444.2" cy="24.9" r="0.32" opacity="0.17"/>
<circle cx="447.6" cy="40.6" r="0.49" opacity="0.38"/>
<circle cx="459.5" cy="49.6" r="0.27" opacity="0.16"/>
<circle cx="461.7" cy="37.8" r="0.41" opacity="0.29"/>
<circle cx="493.3" cy="27.5" r="0.48" opacity="0.25"/>
<circle cx="501.0" cy="25.4" r="0.45" opacity="0.21"/>
<circle cx="502.7" cy="50.7" r="0.41" opacity="0.23"/>
<circle cx="439.9" cy="30.6" r="0.47" opacity="0.18"/>
<circle cx="488.2" cy="43.7" r="0.41" opacity="0.19"/>
<circle cx="449.9" cy="27.6" r="0.50" opacity="0.27"/>
<circle cx="487.7" cy="43.1" r="0.28" opacity="0.14"/>
<circle cx="440.3" cy="52.4" r="0.26" opacity="0.49"/>
<circle cx="466.2" cy="48.1" r="0.26" opacity="0.42"/>
<circle cx="457.9" cy="36.4" r="0.37" opacity="0.16"/>
<circle cx="457.6" cy="50.5" r="0.30" opacity="0.26"/>
<circle cx="496.0" cy="31.7" r="0.27" opacity="0.20"/>
<circle cx="467.7" cy="36.4" r="0.40" opacity="0.30"/>
<circle cx="503.8" cy="26.1" r="0.41" opacity="0.44"/>
<circle cx="456.6" cy="25.4" r="0.34" opacity="0.16"/>
<circle cx="473.4" cy="47.7" r="0.25" opacity="0.16"/>
<circle cx="474.8" cy="30.1" r="0.28" opacity="0.29"/>
<circle cx="448.0" cy="26.6" r="0.32" opacity="0.30"/>
<circle cx="508.8" cy="42.6" r="0.24" opacity="0.20"/>
<circle cx="494.5" cy="42.9" r="0.46" opacity="0.49"/>
<circle cx="502.9" cy="28.0" r="0.48" opacity="0.32"/>
<circle cx="457.0" cy="30.0" r="0.46" opacity="0.20"/>
<circle cx="445.4" cy="33.1" r="0.48" opacity="0.30"/>
<circle cx="493.5" cy="26.8" r="0.35" opacity="0.24"/>
<circle cx="454.5" cy="46.1" r="0.32" opacity="0.17"/>
<circle cx="512.3" cy="40.2" r="0.27" opacity="0.12"/>
<circle cx="487.7" cy="41.3" r="0.23" opacity="0.30"/>
<circle cx="494.2" cy="42.0" r="0.29" opacity="0.31"/>
<circle cx="484.1" cy="45.8" r="0.26" opacity="0.43"/>
<circle cx="509.5" cy="48.7" r="0.46" opacity="0.26"/>
<circle cx="506.3" cy="30.4" r="0.28" opacity="0.35"/>
<circle cx="506.2" cy="27.1" r="0.28" opacity="0.13"/>
<circle cx="471.8" cy="29.0" r="0.27" opacity="0.40"/>
<circle cx="482.5" cy="55.2" r="0.33" opacity="0.38"/>
<circle cx="440.1" cy="55.5" r="0.29" opacity="0.30"/>
<circle cx="477.2" cy="55.5" r="0.36" opacity="0.50"/>
<circle cx="485.4" cy="31.5" r="0.45" opacity="0.20"/>
<circle cx="513.5" cy="39.4" r="0.28" opacity="0.49"/>
<circle cx="463.1" cy="37.7" r="0.32" opacity="0.37"/>
<circle cx="440.9" cy="36.7" r="0.27" opacity="0.43"/>
<circle cx="439.2" cy="44.3" r="0.29" opacity="0.29"/>
<circle cx="480.9" cy="47.7" r="0.26" opacity="0.21"/>
<circle cx="448.2" cy="55.9" r="0.26" opacity="0.17"/>
<circle cx="478.0" cy="43.5" r="0.47" opacity="0.14"/>
<circle cx="456.6" cy="29.9" r="0.38" opacity="0.29"/>
<circle cx="469.6" cy="53.5" r="0.41" opacity="0.45"/>
<circle cx="510.3" cy="33.2" r="0.48" opacity="0.27"/>
<circle cx="443.0" cy="54.4" r="0.25" opacity="0.13"/>
<circle cx="460.7" cy="33.9" r="0.49" opacity="0.45"/>
<circle cx="470.4" cy="41.8" r="0.46" opacity="0.43"/>
<circle cx="487.7" cy="41.2" r="0.25" opacity="0.21"/>
<circle cx="488.1" cy="43.6" r="0.44" opacity="0.46"/>
<circle cx="510.7" cy="30.7" r="0.24" opacity="0.46"/>
<circle cx="481.6" cy="30.4" r="0.41" opacity="0.22"/>
<circle cx="456.8" cy="36.4" r="0.37" opacity="0.38"/>
<circle cx="444.7" cy="48.7" r="0.39" opacity="0.30"/>
<circle cx="489.1" cy="50.6" r="0.22" opacity="0.30"/>
<circle cx="489.6" cy="47.7" r="0.40" opacity="0.19"/>
<circle cx="510.4" cy="50.2" r="0.29" opacity="0.28"/>
<circle cx="510.4" cy="31.2" r="0.33" opacity="0.49"/>
<circle cx="506.1" cy="32.0" r="0.43" opacity="0.26"/>
<circle cx="488.5" cy="49.6" r="0.26" opacity="0.20"/>
<circle cx="455.2" cy="33.1" r="0.23" opacity="0.17"/>
<circle cx="469.4" cy="38.2" r="0.24" opacity="0.34"/>
<circle cx="509.2" cy="43.3" r="0.32" opacity="0.39"/>
<circle cx="471.7" cy="30.2" r="0.35" opacity="0.13"/>
<circle cx="489.4" cy="29.7" r="0.32" opacity="0.49"/>
<circle cx="496.2" cy="51.8" r="0.40" opacity="0.36"/>
<circle cx="491.6" cy="56.1" r="0.27" opacity="0.41"/>
<circle cx="461.6" cy="32.8" r="0.45" opacity="0.35"/>
<circle cx="502.3" cy="53.1" r="0.38" opacity="0.20"/>
<circle cx="440.3" cy="41.9" r="0.42" opacity="0.22"/>
<circle cx="444.4" cy="24.6" r="0.27" opacity="0.38"/>
<circle cx="439.5" cy="31.9" r="0.29" opacity="0.39"/>
<circle cx="512.5" cy="25.0" r="0.25" opacity="0.48"/>
<circle cx="511.3" cy="29.3" r="0.31" opacity="0.32"/>
<circle cx="463.0" cy="38.1" r="0.35" opacity="0.22"/>
<circle cx="443.3" cy="27.2" r="0.27" opacity="0.15"/>
<circle cx="485.6" cy="47.2" r="0.29" opacity="0.42"/>
<circle cx="493.3" cy="35.6" r="0.36" opacity="0.19"/>
<circle cx="508.2" cy="42.8" r="0.23" opacity="0.18"/>
<circle cx="490.7" cy="37.0" r="0.42" opacity="0.21"/>
<circle cx="498.4" cy="50.7" r="0.25" opacity="0.34"/>
<circle cx="453.4" cy="47.6" r="0.45" opacity="0.42"/>
<circle cx="456.4" cy="27.5" r="0.41" opacity="0.33"/>
<circle cx="449.5" cy="30.7" r="0.38" opacity="0.16"/>
<circle cx="486.3" cy="32.3" r="0.29" opacity="0.28"/>
<circle cx="478.8" cy="48.2" r="0.23" opacity="0.40"/>
<circle cx="455.6" cy="33.9" r="0.40" opacity="0.38"/>
<circle cx="484.9" cy="54.0" r="0.28" opacity="0.24"/>
<circle cx="488.4" cy="33.0" r="0.26" opacity="0.21"/>
<circle cx="496.5" cy="51.5" r="0.42" opacity="0.48"/>
<circle cx="498.2" cy="34.6" r="0.31" opacity="0.39"/>
<circle cx="443.3" cy="44.4" r="0.24" opacity="0.14"/>
<circle cx="477.4" cy="29.4" r="0.48" opacity="0.45"/>
<circle cx="473.5" cy="30.9" r="0.25" opacity="0.31"/>
<circle cx="477.9" cy="36.3" r="0.42" opacity="0.32"/>
<circle cx="496.8" cy="27.9" r="0.24" opacity="0.27"/>
<circle cx="475.1" cy="32.7" r="0.41" opacity="0.20"/>
<circle cx="462.8" cy="40.0" r="0.42" opacity="0.41"/>
<circle cx="466.8" cy="39.1" r="0.48" opacity="0.47"/>
<circle cx="485.2" cy="27.8" r="0.35" opacity="0.36"/>
<circle cx="459.9" cy="25.6" r="0.49" opacity="0.47"/>
<circle cx="448.8" cy="39.7" r="0.39" opacity="0.23"/>
<circle cx="444.3" cy="49.0" r="0.44" opacity="0.29"/>
<circle cx="445.6" cy="37.3" r="0.25" opacity="0.49"/>
<circle cx="443.0" cy="33.8" r="0.44" opacity="0.17"/>
<circle cx="447.1" cy="26.7" r="0.27" opacity="0.32"/>
<circle cx="501.1" cy="29.9" r="0.27" opacity="0.41"/>
<circle cx="470.8" cy="35.5" r="0.25" opacity="0.21"/>
<circle cx="511.4" cy="28.2" r="0.29" opacity="0.40"/>
<circle cx="505.5" cy="54.1" r="0.35" opacity="0.48"/>
<circle cx="484.1" cy="33.9" r="0.35" opacity="0.39"/>
<circle cx="493.7" cy="28.7" r="0.27" opacity="0.48"/>
<circle cx="447.2" cy="51.1" r="0.31" opacity="0.21"/>
<circle cx="458.2" cy="39.8" r="0.50" opacity="0.18"/>
<circle cx="502.7" cy="34.9" r="0.27" opacity="0.40"/>
<circle cx="464.6" cy="30.6" r="0.34" opacity="0.43"/>
<circle cx="503.3" cy="43.3" r="0.22" opacity="0.41"/>
<circle cx="484.3" cy="53.9" r="0.49" opacity="0.24"/>
<circle cx="502.2" cy="51.3" r="0.29" opacity="0.26"/>
<circle cx="467.0" cy="36.0" r="0.33" opacity="0.16"/>
<circle cx="456.1" cy="54.2" r="0.33" opacity="0.36"/>
<circle cx="505.1" cy="49.2" r="0.29" opacity="0.47"/>
<circle cx="499.0" cy="56.9" r="0.42" opacity="0.41"/>
<circle cx="499.6" cy="32.7" r="0.40" opacity="0.26"/>
<circle cx="501.6" cy="28.8" r="0.37" opacity="0.25"/>
<circle cx="500.2" cy="35.7" r="0.46" opacity="0.44"/>
<circle cx="504.5" cy="29.0" r="0.48" opacity="0.40"/>
<circle cx="489.5" cy="45.8" r="0.23" opacity="0.45"/>
<circle cx="479.9" cy="39.3" r="0.32" opacity="0.42"/>
<circle cx="497.3" cy="52.9" r="0.28" opacity="0.25"/>
<circle cx="457.7" cy="27.7" r="0.31" opacity="0.13"/>
<circle cx="498.4" cy="31.8" r="0.24" opacity="0.15"/>
<circle cx="494.3" cy="30.9" r="0.35" opacity="0.27"/>
<circle cx="498.8" cy="55.7" r="0.31" opacity="0.36"/>
<circle cx="505.7" cy="39.8" r="0.47" opacity="0.40"/>
<circle cx="462.3" cy="53.1" r="0.38" opacity="0.16"/>
<circle cx="482.9" cy="51.6" r="0.37" opacity="0.30"/>
<circle cx="470.1" cy="53.3" r="0.41" opacity="0.20"/>
<circle cx="466.1" cy="36.3" r="0.49" opacity="0.38"/>
<circle cx="448.5" cy="54.4" r="0.23" opacity="0.34"/>
<circle cx="471.3" cy="47.9" r="0.34" opacity="0.16"/>
<circle cx="478.1" cy="51.3" r="0.44" opacity="0.26"/>
<circle cx="455.7" cy="48.8" r="0.44" opacity="0.20"/>
<circle cx="504.8" cy="57.0" r="0.34" opacity="0.26"/>
<circle cx="491.9" cy="54.9" r="0.28" opacity="0.23"/>
<circle cx="463.6" cy="48.4" r="0.27" opacity="0.33"/>
<circle cx="476.4" cy="46.3" r="0.26" opacity="0.48"/>
<circle cx="513.5" cy="42.8" r="0.44" opacity="0.19"/>
<circle cx="506.8" cy="42.5" r="0.43" opacity="0.45"/>
<circle cx="466.1" cy="54.7" r="0.28" opacity="0.13"/>
<circle cx="476.5" cy="53.9" r="0.47" opacity="0.48"/>
<circle cx="477.2" cy="55.0" r="0.38" opacity="0.17"/>
<circle cx="486.1" cy="50.8" r="0.34" opacity="0.35"/>
<circle cx="458.5" cy="33.5" r="0.34" opacity="0.32"/>
<circle cx="474.0" cy="27.4" r="0.22" opacity="0.25"/>
<circle cx="492.5" cy="48.9" r="0.29" opacity="0.22"/>
<circle cx="477.6" cy="30.2" r="0.39" opacity="0.46"/>
<circle cx="454.2" cy="43.6" r="0.42" opacity="0.40"/>
<circle cx="492.1" cy="47.7" r="0.30" opacity="0.44"/>
<circle cx="507.9" cy="26.1" r="0.48" opacity="0.29"/>
<circle cx="445.6" cy="26.7" r="0.44" opacity="0.38"/>
<circle cx="449.8" cy="39.5" r="0.40" opacity="0.50"/>
<circle cx="464.2" cy="49.5" r="0.29" opacity="0.20"/>
<circle cx="451.2" cy="37.9" r="0.39" opacity="0.24"/>
<circle cx="451.2" cy="31.6" r="0.24" opacity="0.19"/>
<circle cx="462.7" cy="40.9" r="0.27" opacity="0.30"/>
<circle cx="471.9" cy="56.3" r="0.36" opacity="0.48"/>
<circle cx="474.2" cy="30.9" r="0.39" opacity="0.17"/>
<circle cx="451.8" cy="26.8" r="0.42" opacity="0.49"/>
<circle cx="469.2" cy="36.0" r="0.34" opacity="0.25"/>
<circle cx="490.5" cy="37.3" r="0.26" opacity="0.45"/>
<circle cx="481.7" cy="24.6" r="0.46" opacity="0.40"/>
<circle cx="465.5" cy="45.1" r="0.48" opacity="0.27"/>
<circle cx="471.3" cy="34.2" r="0.38" opacity="0.37"/>
<circle cx="493.8" cy="55.5" r="0.26" opacity="0.26"/>
<circle cx="502.5" cy="50.3" r="0.39" opacity="0.38"/>
<circle cx="464.5" cy="55.4" r="0.37" opacity="0.27"/>
<circle cx="452.8" cy="28.2" r="0.47" opacity="0.42"/>
<circle cx="441.2" cy="35.0" r="0.35" opacity="0.31"/>
<circle cx="466.2" cy="53.8" r="0.32" opacity="0.32"/>
<circle cx="508.3" cy="45.4" r="0.35" opacity="0.25"/>
<circle cx="468.0" cy="44.4" r="0.44" opacity="0.22"/>
<circle cx="466.7" cy="37.1" r="0.32" opacity="0.47"/>
<circle cx="479.2" cy="33.4" r="0.31" opacity="0.43"/>
<circle cx="451.1" cy="47.0" r="0.23" opacity="0.19"/>
<circle cx="443.6" cy="50.8" r="0.26" opacity="0.21"/>
<circle cx="443.5" cy="33.1" r="0.43" opacity="0.39"/>
<circle cx="506.8" cy="55.5" r="0.37" opacity="0.47"/>
<circle cx="445.9" cy="54.7" r="0.34" opacity="0.19"/>
<circle cx="494.8" cy="52.6" r="0.33" opacity="0.16"/>
<circle cx="504.1" cy="49.1" r="0.39" opacity="0.49"/>
<circle cx="442.0" cy="26.2" r="0.25" opacity="0.13"/>
<circle cx="491.8" cy="45.1" r="0.25" opacity="0.18"/>
<circle cx="452.6" cy="44.4" r="0.41" opacity="0.49"/>
<circle cx="466.0" cy="56.5" r="0.34" opacity="0.27"/>
<circle cx="458.0" cy="32.0" r="0.49" opacity="0.50"/>
<circle cx="491.6" cy="30.1" r="0.27" opacity="0.18"/>
<circle cx="465.3" cy="48.6" r="0.24" opacity="0.32"/>
<circle cx="489.8" cy="25.5" r="0.34" opacity="0.42"/>
<circle cx="482.0" cy="39.2" r="0.47" opacity="0.35"/>
<circle cx="464.2" cy="37.4" r="0.48" opacity="0.45"/>
<circle cx="507.2" cy="42.8" r="0.26" opacity="0.19"/>
<circle cx="467.7" cy="47.1" r="0.22" opacity="0.42"/>
<circle cx="497.6" cy="41.3" r="0.22" opacity="0.42"/>
<circle cx="470.0" cy="46.4" r="0.38" opacity="0.40"/>
<circle cx="469.6" cy="55.9" r="0.49" opacity="0.47"/>
<circle cx="484.9" cy="34.8" r="0.33" opacity="0.22"/>
<circle cx="506.4" cy="50.4" r="0.44" opacity="0.43"/>
<circle cx="512.8" cy="47.0" r="0.31" opacity="0.41"/>
<circle cx="458.7" cy="44.4" r="0.26" opacity="0.45"/>
<circle cx="475.5" cy="33.4" r="0.48" opacity="0.15"/>
<circle cx="508.3" cy="49.2" r="0.26" opacity="0.41"/>
<circle cx="481.8" cy="54.2" r="0.38" opacity="0.28"/>
<circle cx="508.5" cy="27.3" r="0.44" opacity="0.16"/>
<circle cx="459.8" cy="28.1" r="0.46" opacity="0.29"/>
<circle cx="493.2" cy="32.8" r="0.42" opacity="0.37"/>
<circle cx="446.4" cy="40.6" r="0.42" opacity="0.20"/>
<circle cx="487.8" cy="33.5" r="0.32" opacity="0.47"/>
<circle cx="509.3" cy="57.1" r="0.34" opacity="0.34"/>
<circle cx="499.3" cy="49.3" r="0.35" opacity="0.45"/>
<circle cx="469.0" cy="55.6" r="0.35" opacity="0.17"/>
<circle cx="494.9" cy="29.2" r="0.41" opacity="0.14"/>
<circle cx="512.6" cy="42.1" r="0.43" opacity="0.17"/>
<circle cx="486.5" cy="36.7" r="0.29" opacity="0.43"/>
<circle cx="441.7" cy="40.1" r="0.24" opacity="0.44"/>
<circle cx="505.6" cy="25.5" r="0.35" opacity="0.30"/>
<circle cx="492.6" cy="48.3" r="0.32" opacity="0.47"/>
<circle cx="453.0" cy="28.9" r="0.45" opacity="0.17"/>
<circle cx="453.0" cy="40.8" r="0.31" opacity="0.18"/>
<circle cx="508.3" cy="39.9" r="0.44" opacity="0.22"/>
<circle cx="507.0" cy="31.7" r="0.47" opacity="0.35"/>
<circle cx="511.3" cy="49.7" r="0.40" opacity="0.32"/>
<circle cx="502.7" cy="38.9" r="0.25" opacity="0.47"/>
<circle cx="499.1" cy="46.8" r="0.43" opacity="0.21"/>
<circle cx="473.6" cy="51.4" r="0.49" opacity="0.47"/>
<circle cx="451.1" cy="46.8" r="0.38" opacity="0.27"/>
<circle cx="451.7" cy="28.9" r="0.35" opacity="0.31"/>
<circle cx="459.1" cy="36.5" r="0.38" opacity="0.41"/>
<circle cx="483.0" cy="29.7" r="0.47" opacity="0.26"/>
<circle cx="510.5" cy="56.6" r="0.26" opacity="0.34"/>
<circle cx="511.0" cy="37.0" r="0.37" opacity="0.24"/>
<circle cx="441.3" cy="31.1" r="0.25" opacity="0.23"/>
<circle cx="486.0" cy="42.9" r="0.49" opacity="0.38"/>
<circle cx="466.1" cy="55.5" r="0.40" opacity="0.33"/>
<circle cx="503.3" cy="46.4" r="0.32" opacity="0.35"/>
<circle cx="461.5" cy="56.2" r="0.29" opacity="0.49"/>
<circle cx="444.0" cy="24.7" r="0.37" opacity="0.20"/>
<circle cx="476.9" cy="28.3" r="0.45" opacity="0.37"/>
<circle cx="490.0" cy="54.8" r="0.50" opacity="0.38"/>
<circle cx="492.2" cy="24.5" r="0.23" opacity="0.28"/>
<circle cx="511.2" cy="34.7" r="0.38" opacity="0.12"/>
<circle cx="470.1" cy="54.0" r="0.39" opacity="0.43"/>
<circle cx="440.2" cy="31.0" r="0.27" opacity="0.44"/>
<circle cx="446.8" cy="55.0" r="0.29" opacity="0.45"/>
<circle cx="477.5" cy="35.0" r="0.49" opacity="0.27"/>
<circle cx="491.0" cy="26.6" r="0.45" opacity="0.49"/>
<circle cx="447.4" cy="48.9" r="0.30" opacity="0.18"/>
<circle cx="466.3" cy="46.1" r="0.49" opacity="0.50"/>
<circle cx="513.0" cy="44.8" r="0.40" opacity="0.18"/>
<circle cx="493.1" cy="42.5" r="0.32" opacity="0.46"/>
<circle cx="458.2" cy="29.0" r="0.26" opacity="0.18"/>
<circle cx="482.9" cy="50.7" r="0.26" opacity="0.31"/>
<circle cx="481.9" cy="42.8" r="0.34" opacity="0.33"/>
<circle cx="440.3" cy="26.3" r="0.34" opacity="0.21"/>
<circle cx="495.4" cy="32.3" r="0.45" opacity="0.21"/>
<circle cx="446.1" cy="40.1" r="0.33" opacity="0.25"/>
<circle cx="496.0" cy="31.7" r="0.41" opacity="0.44"/>
<rect x="438.70" y="60.60" width="75.30" height="37.80" fill="#000"/>
<circle cx="472.8" cy="79.6" r="0.48" opacity="0.35"/>
<circle cx="452.6" cy="63.7" r="0.24" opacity="0.25"/>
<circle cx="445.8" cy="85.0" r="0.34" opacity="0.24"/>
<circle cx="477.3" cy="95.6" r="0.29" opacity="0.18"/>
<circle cx="461.9" cy="73.0" r="0.47" opacity="0.39"/>
<circle cx="471.1" cy="67.2" r="0.23" opacity="0.17"/>
<circle cx="502.2" cy="84.9" r="0.26" opacity="0.36"/>
<circle cx="443.5" cy="79.8" r="0.31" opacity="0.16"/>
<circle cx="494.4" cy="87.5" r="0.36" opacity="0.18"/>
<circle cx="489.0" cy="77.0" r="0.41" opacity="0.15"/>
<circle cx="506.3" cy="61.2" r="0.28" opacity="0.27"/>
<circle cx="453.9" cy="64.3" r="0.41" opacity="0.50"/>
<circle cx="464.1" cy="70.9" r="0.41" opacity="0.20"/>
<circle cx="469.0" cy="86.4" r="0.34" opacity="0.18"/>
<circle cx="444.4" cy="81.1" r="0.50" opacity="0.47"/>
<circle cx="446.6" cy="79.6" r="0.36" opacity="0.19"/>
<circle cx="489.0" cy="79.3" r="0.45" opacity="0.23"/>
<circle cx="508.6" cy="91.1" r="0.35" opacity="0.17"/>
<circle cx="475.1" cy="65.8" r="0.41" opacity="0.39"/>
<circle cx="482.2" cy="97.0" r="0.23" opacity="0.39"/>
<circle cx="498.7" cy="65.3" r="0.31" opacity="0.14"/>
<circle cx="482.5" cy="87.7" r="0.32" opacity="0.38"/>
<circle cx="466.4" cy="87.3" r="0.30" opacity="0.49"/>
<circle cx="471.7" cy="61.2" r="0.25" opacity="0.40"/>
<circle cx="503.4" cy="84.5" r="0.26" opacity="0.45"/>
<circle cx="492.5" cy="65.3" r="0.33" opacity="0.38"/>
<circle cx="439.5" cy="62.7" r="0.32" opacity="0.45"/>
<circle cx="513.2" cy="72.8" r="0.47" opacity="0.42"/>
<circle cx="503.5" cy="82.7" r="0.49" opacity="0.36"/>
<circle cx="509.6" cy="81.9" r="0.28" opacity="0.32"/>
<circle cx="475.1" cy="73.5" r="0.32" opacity="0.31"/>
<circle cx="482.9" cy="69.3" r="0.30" opacity="0.31"/>
<circle cx="476.6" cy="76.5" r="0.41" opacity="0.19"/>
<circle cx="478.7" cy="71.2" r="0.44" opacity="0.39"/>
<circle cx="497.2" cy="80.1" r="0.29" opacity="0.47"/>
<circle cx="477.2" cy="74.9" r="0.30" opacity="0.27"/>
<circle cx="491.9" cy="91.2" r="0.36" opacity="0.40"/>
<circle cx="455.0" cy="77.7" r="0.32" opacity="0.24"/>
<circle cx="465.9" cy="88.9" r="0.43" opacity="0.20"/>
<circle cx="456.6" cy="90.0" r="0.40" opacity="0.38"/>
<circle cx="486.4" cy="86.6" r="0.30" opacity="0.14"/>
<circle cx="466.0" cy="62.3" r="0.49" opacity="0.32"/>
<circle cx="489.0" cy="96.7" r="0.45" opacity="0.21"/>
<circle cx="464.2" cy="65.1" r="0.44" opacity="0.40"/>
<circle cx="475.4" cy="74.7" r="0.30" opacity="0.31"/>
<circle cx="492.1" cy="94.0" r="0.46" opacity="0.45"/>
<circle cx="471.8" cy="76.6" r="0.31" opacity="0.49"/>
<circle cx="452.8" cy="66.9" r="0.30" opacity="0.47"/>
<circle cx="502.6" cy="73.3" r="0.46" opacity="0.46"/>
<circle cx="470.9" cy="68.2" r="0.44" opacity="0.26"/>
<circle cx="448.1" cy="94.3" r="0.34" opacity="0.27"/>
<circle cx="483.4" cy="70.5" r="0.23" opacity="0.27"/>
<circle cx="467.4" cy="61.5" r="0.32" opacity="0.41"/>
<circle cx="463.9" cy="86.1" r="0.39" opacity="0.19"/>
<circle cx="440.7" cy="85.9" r="0.39" opacity="0.23"/>
<circle cx="454.1" cy="92.6" r="0.47" opacity="0.21"/>
<circle cx="482.7" cy="82.2" r="0.31" opacity="0.13"/>
<circle cx="463.4" cy="84.8" r="0.39" opacity="0.31"/>
<circle cx="448.3" cy="68.9" r="0.31" opacity="0.28"/>
<circle cx="466.2" cy="94.3" r="0.25" opacity="0.49"/>
<circle cx="457.1" cy="92.6" r="0.29" opacity="0.34"/>
<circle cx="467.2" cy="62.5" r="0.44" opacity="0.43"/>
<circle cx="459.2" cy="89.7" r="0.35" opacity="0.50"/>
<circle cx="443.2" cy="75.1" r="0.28" opacity="0.36"/>
<circle cx="497.0" cy="92.1" r="0.37" opacity="0.27"/>
<circle cx="498.6" cy="64.9" r="0.29" opacity="0.41"/>
<circle cx="471.9" cy="97.6" r="0.25" opacity="0.30"/>
<circle cx="455.0" cy="61.2" r="0.25" opacity="0.15"/>
<circle cx="466.6" cy="77.0" r="0.36" opacity="0.23"/>
<circle cx="491.4" cy="80.1" r="0.49" opacity="0.18"/>
<circle cx="477.1" cy="79.3" r="0.32" opacity="0.45"/>
<circle cx="454.8" cy="93.4" r="0.32" opacity="0.25"/>
<circle cx="484.9" cy="81.8" r="0.30" opacity="0.15"/>
<circle cx="510.2" cy="74.7" r="0.25" opacity="0.37"/>
<circle cx="478.7" cy="73.2" r="0.31" opacity="0.44"/>
<circle cx="464.4" cy="76.5" r="0.49" opacity="0.26"/>
<circle cx="469.1" cy="67.1" r="0.41" opacity="0.37"/>
<circle cx="472.4" cy="76.0" r="0.29" opacity="0.42"/>
<circle cx="473.2" cy="91.7" r="0.32" opacity="0.40"/>
<circle cx="441.3" cy="69.2" r="0.49" opacity="0.38"/>
<circle cx="489.4" cy="79.4" r="0.35" opacity="0.20"/>
<circle cx="452.1" cy="84.8" r="0.41" opacity="0.22"/>
<circle cx="487.1" cy="66.1" r="0.39" opacity="0.19"/>
<circle cx="477.1" cy="72.7" r="0.37" opacity="0.17"/>
<circle cx="475.1" cy="83.8" r="0.26" opacity="0.24"/>
<circle cx="489.6" cy="81.2" r="0.39" opacity="0.42"/>
<circle cx="481.7" cy="69.3" r="0.34" opacity="0.44"/>
<circle cx="481.3" cy="88.8" r="0.32" opacity="0.29"/>
<circle cx="511.3" cy="91.4" r="0.40" opacity="0.16"/>
<circle cx="484.7" cy="62.3" r="0.48" opacity="0.49"/>
<circle cx="493.3" cy="70.9" r="0.46" opacity="0.19"/>
<circle cx="500.7" cy="80.3" r="0.22" opacity="0.46"/>
<circle cx="471.9" cy="91.7" r="0.41" opacity="0.32"/>
<circle cx="503.3" cy="68.6" r="0.47" opacity="0.25"/>
<circle cx="441.1" cy="73.5" r="0.24" opacity="0.15"/>
<circle cx="485.6" cy="65.5" r="0.26" opacity="0.23"/>
<circle cx="459.9" cy="95.0" r="0.47" opacity="0.45"/>
<circle cx="512.7" cy="77.3" r="0.44" opacity="0.23"/>
<circle cx="508.0" cy="90.9" r="0.43" opacity="0.21"/>
<circle cx="446.0" cy="95.1" r="0.37" opacity="0.35"/>
<circle cx="503.2" cy="66.4" r="0.42" opacity="0.30"/>
<circle cx="497.6" cy="77.9" r="0.28" opacity="0.48"/>
<circle cx="460.1" cy="88.5" r="0.45" opacity="0.21"/>
<circle cx="490.8" cy="75.7" r="0.28" opacity="0.20"/>
<circle cx="510.1" cy="74.7" r="0.36" opacity="0.31"/>
<circle cx="441.2" cy="88.8" r="0.43" opacity="0.45"/>
<circle cx="465.7" cy="68.8" r="0.32" opacity="0.40"/>
<circle cx="488.1" cy="76.0" r="0.37" opacity="0.18"/>
<circle cx="507.4" cy="78.5" r="0.36" opacity="0.42"/>
<circle cx="453.9" cy="87.7" r="0.32" opacity="0.43"/>
<circle cx="446.2" cy="71.3" r="0.40" opacity="0.30"/>
<circle cx="467.2" cy="82.4" r="0.28" opacity="0.29"/>
<circle cx="439.3" cy="90.5" r="0.29" opacity="0.44"/>
<circle cx="480.2" cy="83.2" r="0.40" opacity="0.17"/>
<circle cx="496.9" cy="71.8" r="0.46" opacity="0.42"/>
<circle cx="489.6" cy="91.1" r="0.34" opacity="0.38"/>
<circle cx="510.0" cy="68.1" r="0.25" opacity="0.28"/>
<circle cx="477.1" cy="66.6" r="0.28" opacity="0.45"/>
<circle cx="468.0" cy="66.6" r="0.27" opacity="0.34"/>
<circle cx="453.3" cy="78.6" r="0.37" opacity="0.29"/>
<circle cx="476.6" cy="91.9" r="0.22" opacity="0.47"/>
<circle cx="454.0" cy="62.5" r="0.43" opacity="0.34"/>
<circle cx="479.2" cy="69.1" r="0.44" opacity="0.24"/>
<circle cx="493.2" cy="69.5" r="0.38" opacity="0.37"/>
<circle cx="466.8" cy="78.8" r="0.24" opacity="0.36"/>
<circle cx="490.6" cy="66.7" r="0.37" opacity="0.40"/>
<circle cx="446.7" cy="92.0" r="0.46" opacity="0.14"/>
<circle cx="457.7" cy="64.2" r="0.29" opacity="0.15"/>
<circle cx="475.6" cy="70.3" r="0.30" opacity="0.30"/>
<circle cx="466.8" cy="90.1" r="0.42" opacity="0.16"/>
<circle cx="455.8" cy="61.4" r="0.31" opacity="0.16"/>
<circle cx="491.0" cy="89.8" r="0.50" opacity="0.20"/>
<circle cx="441.9" cy="89.0" r="0.34" opacity="0.47"/>
<circle cx="468.4" cy="72.6" r="0.24" opacity="0.48"/>
<circle cx="477.3" cy="77.3" r="0.34" opacity="0.41"/>
<circle cx="500.9" cy="78.6" r="0.27" opacity="0.27"/>
<circle cx="505.4" cy="76.1" r="0.41" opacity="0.33"/>
<circle cx="473.5" cy="82.3" r="0.29" opacity="0.33"/>
<circle cx="503.5" cy="64.0" r="0.32" opacity="0.45"/>
<circle cx="511.9" cy="61.6" r="0.40" opacity="0.36"/>
<circle cx="501.8" cy="78.4" r="0.26" opacity="0.23"/>
<circle cx="492.2" cy="87.9" r="0.28" opacity="0.36"/>
<circle cx="488.0" cy="85.3" r="0.23" opacity="0.29"/>
<circle cx="463.3" cy="83.1" r="0.31" opacity="0.17"/>
<circle cx="489.0" cy="71.7" r="0.44" opacity="0.24"/>
<circle cx="479.8" cy="90.8" r="0.25" opacity="0.40"/>
<circle cx="444.3" cy="95.6" r="0.23" opacity="0.40"/>
<circle cx="466.6" cy="67.7" r="0.33" opacity="0.31"/>
<circle cx="470.0" cy="65.6" r="0.37" opacity="0.23"/>
<circle cx="511.1" cy="75.2" r="0.34" opacity="0.21"/>
<circle cx="511.2" cy="72.9" r="0.40" opacity="0.44"/>
<circle cx="468.4" cy="88.9" r="0.30" opacity="0.16"/>
<circle cx="442.3" cy="77.6" r="0.46" opacity="0.20"/>
<circle cx="471.9" cy="89.2" r="0.30" opacity="0.18"/>
<circle cx="477.8" cy="76.8" r="0.48" opacity="0.46"/>
<circle cx="456.9" cy="81.7" r="0.34" opacity="0.13"/>
<circle cx="472.2" cy="94.8" r="0.30" opacity="0.34"/>
<circle cx="492.0" cy="63.4" r="0.48" opacity="0.16"/>
<circle cx="461.6" cy="87.4" r="0.23" opacity="0.26"/>
<circle cx="448.6" cy="78.5" r="0.22" opacity="0.18"/>
<circle cx="455.7" cy="64.1" r="0.25" opacity="0.19"/>
<circle cx="477.7" cy="66.1" r="0.45" opacity="0.28"/>
<circle cx="457.9" cy="70.0" r="0.46" opacity="0.14"/>
<circle cx="494.3" cy="64.7" r="0.48" opacity="0.28"/>
<circle cx="483.6" cy="92.9" r="0.25" opacity="0.14"/>
<circle cx="490.7" cy="82.7" r="0.42" opacity="0.23"/>
<circle cx="476.1" cy="68.0" r="0.34" opacity="0.23"/>
<circle cx="482.7" cy="72.1" r="0.30" opacity="0.36"/>
<circle cx="445.6" cy="90.6" r="0.36" opacity="0.21"/>
<circle cx="447.7" cy="79.8" r="0.36" opacity="0.39"/>
<circle cx="467.0" cy="76.3" r="0.47" opacity="0.22"/>
<circle cx="512.1" cy="93.9" r="0.50" opacity="0.48"/>
<circle cx="458.3" cy="91.1" r="0.39" opacity="0.20"/>
<circle cx="513.3" cy="84.9" r="0.45" opacity="0.33"/>
<circle cx="445.1" cy="92.9" r="0.27" opacity="0.22"/>
<circle cx="485.0" cy="68.2" r="0.35" opacity="0.39"/>
<circle cx="446.3" cy="85.4" r="0.25" opacity="0.30"/>
<circle cx="487.5" cy="86.4" r="0.23" opacity="0.19"/>
<circle cx="510.5" cy="75.5" r="0.34" opacity="0.26"/>
<circle cx="490.9" cy="88.3" r="0.40" opacity="0.27"/>
<circle cx="481.5" cy="80.1" r="0.27" opacity="0.48"/>
<circle cx="510.9" cy="89.7" r="0.50" opacity="0.30"/>
<circle cx="501.5" cy="70.0" r="0.43" opacity="0.39"/>
<circle cx="508.9" cy="91.8" r="0.47" opacity="0.22"/>
<circle cx="497.7" cy="78.6" r="0.31" opacity="0.26"/>
<circle cx="498.6" cy="92.1" r="0.46" opacity="0.37"/>
<circle cx="451.9" cy="66.8" r="0.38" opacity="0.20"/>
<circle cx="464.2" cy="64.9" r="0.26" opacity="0.39"/>
<circle cx="455.8" cy="92.3" r="0.31" opacity="0.44"/>
<circle cx="461.7" cy="70.9" r="0.33" opacity="0.12"/>
<circle cx="471.6" cy="75.1" r="0.22" opacity="0.45"/>
<circle cx="467.1" cy="61.1" r="0.49" opacity="0.21"/>
<circle cx="458.0" cy="62.0" r="0.25" opacity="0.39"/>
<circle cx="482.4" cy="79.6" r="0.29" opacity="0.23"/>
<circle cx="511.3" cy="74.8" r="0.50" opacity="0.46"/>
<circle cx="448.5" cy="92.3" r="0.23" opacity="0.39"/>
<circle cx="499.4" cy="86.7" r="0.37" opacity="0.43"/>
<circle cx="450.7" cy="81.0" r="0.29" opacity="0.27"/>
<circle cx="453.4" cy="87.2" r="0.38" opacity="0.42"/>
<circle cx="485.9" cy="83.2" r="0.48" opacity="0.43"/>
<circle cx="481.3" cy="73.1" r="0.48" opacity="0.26"/>
<circle cx="446.8" cy="73.4" r="0.42" opacity="0.47"/>
<circle cx="487.2" cy="85.5" r="0.48" opacity="0.42"/>
<circle cx="472.3" cy="78.1" r="0.43" opacity="0.24"/>
<circle cx="447.4" cy="83.9" r="0.45" opacity="0.21"/>
<circle cx="490.0" cy="93.9" r="0.26" opacity="0.17"/>
<circle cx="475.8" cy="73.4" r="0.49" opacity="0.50"/>
<circle cx="472.3" cy="90.3" r="0.40" opacity="0.19"/>
<circle cx="511.4" cy="67.5" r="0.24" opacity="0.29"/>
<circle cx="440.5" cy="78.8" r="0.34" opacity="0.48"/>
<circle cx="469.9" cy="92.4" r="0.44" opacity="0.34"/>
<circle cx="456.9" cy="72.3" r="0.36" opacity="0.27"/>
<circle cx="487.2" cy="79.7" r="0.31" opacity="0.35"/>
<circle cx="513.2" cy="68.6" r="0.31" opacity="0.12"/>
<circle cx="446.2" cy="63.1" r="0.34" opacity="0.44"/>
<circle cx="491.0" cy="96.7" r="0.45" opacity="0.34"/>
<circle cx="482.3" cy="61.6" r="0.33" opacity="0.22"/>
<circle cx="485.3" cy="63.5" r="0.37" opacity="0.26"/>
<circle cx="475.8" cy="76.0" r="0.25" opacity="0.40"/>
<circle cx="498.7" cy="83.1" r="0.25" opacity="0.35"/>
<circle cx="503.9" cy="97.4" r="0.43" opacity="0.14"/>
<circle cx="504.5" cy="85.6" r="0.30" opacity="0.47"/>
<circle cx="500.6" cy="94.0" r="0.29" opacity="0.34"/>
<circle cx="467.4" cy="72.0" r="0.43" opacity="0.35"/>
<circle cx="463.9" cy="81.1" r="0.48" opacity="0.34"/>
<circle cx="507.1" cy="81.9" r="0.50" opacity="0.13"/>
<circle cx="473.4" cy="81.4" r="0.42" opacity="0.49"/>
<circle cx="485.5" cy="78.7" r="0.40" opacity="0.32"/>
<circle cx="491.6" cy="95.9" r="0.22" opacity="0.24"/>
<circle cx="504.3" cy="63.3" r="0.44" opacity="0.13"/>
<circle cx="487.4" cy="90.6" r="0.29" opacity="0.26"/>
<circle cx="456.0" cy="87.0" r="0.37" opacity="0.35"/>
<circle cx="463.4" cy="82.7" r="0.49" opacity="0.42"/>
<circle cx="509.9" cy="70.2" r="0.36" opacity="0.27"/>
<circle cx="464.9" cy="90.7" r="0.27" opacity="0.33"/>
<circle cx="496.7" cy="95.5" r="0.23" opacity="0.22"/>
<circle cx="475.8" cy="95.6" r="0.27" opacity="0.44"/>
<circle cx="468.7" cy="81.3" r="0.48" opacity="0.14"/>
<circle cx="463.7" cy="66.8" r="0.26" opacity="0.24"/>
<circle cx="491.3" cy="82.5" r="0.25" opacity="0.42"/>
<circle cx="476.9" cy="66.4" r="0.45" opacity="0.43"/>
<circle cx="455.3" cy="95.7" r="0.45" opacity="0.21"/>
<circle cx="439.3" cy="93.0" r="0.45" opacity="0.16"/>
<circle cx="496.1" cy="89.6" r="0.40" opacity="0.44"/>
<circle cx="512.4" cy="73.2" r="0.45" opacity="0.47"/>
<circle cx="462.5" cy="86.3" r="0.41" opacity="0.44"/>
<circle cx="481.3" cy="71.2" r="0.29" opacity="0.33"/>
<circle cx="449.3" cy="92.7" r="0.47" opacity="0.21"/>
<circle cx="491.0" cy="85.9" r="0.25" opacity="0.42"/>
<circle cx="496.1" cy="72.4" r="0.25" opacity="0.23"/>
<circle cx="496.5" cy="78.3" r="0.45" opacity="0.18"/>
<circle cx="447.1" cy="73.9" r="0.47" opacity="0.18"/>
<circle cx="444.7" cy="88.8" r="0.25" opacity="0.37"/>
<circle cx="445.4" cy="70.2" r="0.41" opacity="0.45"/>
<circle cx="469.6" cy="77.6" r="0.23" opacity="0.25"/>
<circle cx="457.2" cy="90.1" r="0.42" opacity="0.42"/>
<circle cx="478.7" cy="86.8" r="0.26" opacity="0.27"/>
<circle cx="461.0" cy="71.5" r="0.43" opacity="0.20"/>
<circle cx="463.4" cy="71.5" r="0.46" opacity="0.36"/>
<circle cx="474.9" cy="75.1" r="0.48" opacity="0.48"/>
<circle cx="472.6" cy="82.0" r="0.46" opacity="0.22"/>
<circle cx="458.4" cy="64.9" r="0.36" opacity="0.41"/>
<circle cx="450.8" cy="77.0" r="0.50" opacity="0.30"/>
<circle cx="467.6" cy="92.0" r="0.47" opacity="0.26"/>
<circle cx="448.4" cy="84.5" r="0.43" opacity="0.47"/>
<circle cx="488.2" cy="72.4" r="0.36" opacity="0.23"/>
<circle cx="472.3" cy="78.3" r="0.48" opacity="0.46"/>
<circle cx="508.0" cy="78.7" r="0.49" opacity="0.17"/>
<circle cx="507.6" cy="84.7" r="0.46" opacity="0.28"/>
<circle cx="512.8" cy="62.0" r="0.46" opacity="0.43"/>
<circle cx="467.0" cy="91.6" r="0.28" opacity="0.41"/>
<circle cx="474.0" cy="76.2" r="0.28" opacity="0.42"/>
<circle cx="493.5" cy="64.4" r="0.49" opacity="0.20"/>
<circle cx="467.1" cy="76.4" r="0.38" opacity="0.46"/>
<circle cx="509.4" cy="84.4" r="0.32" opacity="0.16"/>
<circle cx="444.3" cy="80.2" r="0.38" opacity="0.29"/>
<circle cx="512.2" cy="76.3" r="0.32" opacity="0.28"/>
<circle cx="452.0" cy="95.7" r="0.39" opacity="0.33"/>
<circle cx="470.8" cy="70.3" r="0.31" opacity="0.31"/>
<circle cx="472.4" cy="97.1" r="0.38" opacity="0.20"/>
<circle cx="443.2" cy="67.0" r="0.32" opacity="0.42"/>
<circle cx="505.3" cy="69.8" r="0.44" opacity="0.29"/>
<circle cx="479.1" cy="80.7" r="0.23" opacity="0.15"/>
<circle cx="488.8" cy="86.5" r="0.33" opacity="0.47"/>
<circle cx="500.1" cy="72.2" r="0.24" opacity="0.33"/>
<circle cx="487.8" cy="69.4" r="0.23" opacity="0.31"/>
<circle cx="441.7" cy="88.2" r="0.40" opacity="0.23"/>
<circle cx="472.3" cy="69.7" r="0.27" opacity="0.19"/>
<circle cx="499.8" cy="77.8" r="0.42" opacity="0.25"/>
<circle cx="499.1" cy="83.0" r="0.40" opacity="0.27"/>
<circle cx="480.9" cy="68.1" r="0.49" opacity="0.38"/>
<circle cx="478.8" cy="84.6" r="0.25" opacity="0.25"/>
<circle cx="456.3" cy="92.1" r="0.22" opacity="0.29"/>
<circle cx="503.7" cy="89.9" r="0.42" opacity="0.23"/>
<circle cx="456.5" cy="87.0" r="0.30" opacity="0.39"/>
<circle cx="465.2" cy="89.1" r="0.38" opacity="0.43"/>
<circle cx="512.4" cy="75.0" r="0.50" opacity="0.12"/>
<circle cx="504.4" cy="62.2" r="0.37" opacity="0.27"/>
<circle cx="496.4" cy="72.7" r="0.28" opacity="0.42"/>
<circle cx="480.1" cy="88.9" r="0.36" opacity="0.13"/>
<circle cx="496.5" cy="69.1" r="0.35" opacity="0.12"/>
<circle cx="458.4" cy="85.6" r="0.43" opacity="0.36"/>
<circle cx="472.1" cy="88.1" r="0.41" opacity="0.20"/>
<circle cx="479.0" cy="83.1" r="0.42" opacity="0.20"/>
<circle cx="462.3" cy="73.7" r="0.25" opacity="0.25"/>
<circle cx="493.4" cy="82.4" r="0.27" opacity="0.40"/>
<circle cx="447.9" cy="88.7" r="0.26" opacity="0.16"/>
<circle cx="457.9" cy="80.1" r="0.30" opacity="0.46"/>
<circle cx="508.9" cy="71.5" r="0.43" opacity="0.38"/>
<circle cx="480.9" cy="70.5" r="0.49" opacity="0.48"/>
<circle cx="440.2" cy="73.2" r="0.31" opacity="0.20"/>
<circle cx="471.2" cy="94.2" r="0.23" opacity="0.44"/>
<circle cx="462.2" cy="61.6" r="0.47" opacity="0.22"/>
<circle cx="455.0" cy="65.4" r="0.32" opacity="0.17"/>
<circle cx="452.6" cy="70.3" r="0.38" opacity="0.29"/>
<circle cx="461.9" cy="80.5" r="0.44" opacity="0.40"/>
<circle cx="464.7" cy="94.9" r="0.44" opacity="0.33"/>
<circle cx="474.5" cy="73.2" r="0.26" opacity="0.46"/>
<circle cx="484.4" cy="64.7" r="0.48" opacity="0.46"/>
<circle cx="441.7" cy="86.9" r="0.29" opacity="0.32"/>
<circle cx="501.2" cy="74.0" r="0.36" opacity="0.37"/>
<circle cx="453.5" cy="84.2" r="0.34" opacity="0.49"/>
<circle cx="453.1" cy="87.3" r="0.23" opacity="0.22"/>
<circle cx="447.9" cy="66.6" r="0.37" opacity="0.19"/>
<circle cx="498.3" cy="64.6" r="0.39" opacity="0.45"/>
<circle cx="448.6" cy="69.1" r="0.43" opacity="0.30"/>
<circle cx="508.5" cy="73.5" r="0.33" opacity="0.48"/>
<circle cx="464.7" cy="96.7" r="0.47" opacity="0.20"/>
<circle cx="479.8" cy="95.7" r="0.25" opacity="0.44"/>
<circle cx="496.7" cy="88.7" r="0.39" opacity="0.16"/>
<circle cx="510.4" cy="64.9" r="0.44" opacity="0.39"/>
<circle cx="462.8" cy="86.3" r="0.33" opacity="0.41"/>
<circle cx="442.4" cy="95.5" r="0.33" opacity="0.43"/>
<circle cx="474.2" cy="91.0" r="0.30" opacity="0.33"/>
<circle cx="441.1" cy="79.1" r="0.24" opacity="0.45"/>
<circle cx="489.5" cy="76.7" r="0.49" opacity="0.48"/>
<circle cx="510.3" cy="64.1" r="0.42" opacity="0.40"/>
<circle cx="484.2" cy="61.7" r="0.48" opacity="0.29"/>
<circle cx="483.4" cy="91.1" r="0.30" opacity="0.13"/>
<circle cx="507.8" cy="71.1" r="0.23" opacity="0.17"/>
<circle cx="513.1" cy="88.3" r="0.28" opacity="0.18"/>
<circle cx="505.9" cy="85.6" r="0.38" opacity="0.17"/>
<circle cx="469.9" cy="95.9" r="0.22" opacity="0.28"/>
<circle cx="443.4" cy="97.8" r="0.25" opacity="0.48"/>
<circle cx="501.7" cy="88.0" r="0.23" opacity="0.38"/>
<circle cx="475.8" cy="79.2" r="0.26" opacity="0.31"/>
<circle cx="498.8" cy="65.9" r="0.47" opacity="0.28"/>
<circle cx="459.0" cy="69.9" r="0.35" opacity="0.37"/>
<circle cx="481.5" cy="93.9" r="0.36" opacity="0.31"/>
<circle cx="512.7" cy="69.0" r="0.22" opacity="0.24"/>
<circle cx="462.5" cy="65.7" r="0.34" opacity="0.13"/>
<circle cx="507.6" cy="78.9" r="0.47" opacity="0.39"/>
<circle cx="493.4" cy="89.0" r="0.30" opacity="0.40"/>
<circle cx="454.5" cy="81.5" r="0.39" opacity="0.41"/>
<circle cx="451.7" cy="73.8" r="0.45" opacity="0.43"/>
<circle cx="511.9" cy="65.5" r="0.28" opacity="0.16"/>
<circle cx="493.0" cy="88.5" r="0.40" opacity="0.42"/>
<circle cx="477.5" cy="81.8" r="0.48" opacity="0.37"/>
<circle cx="487.9" cy="82.8" r="0.36" opacity="0.41"/>
<circle cx="481.7" cy="65.8" r="0.34" opacity="0.28"/>
<circle cx="471.3" cy="81.7" r="0.32" opacity="0.27"/>
<circle cx="470.9" cy="74.8" r="0.49" opacity="0.15"/>
<circle cx="440.5" cy="87.7" r="0.33" opacity="0.29"/>
<circle cx="483.2" cy="74.6" r="0.29" opacity="0.13"/>
<circle cx="504.1" cy="95.7" r="0.30" opacity="0.30"/>
<circle cx="463.3" cy="63.2" r="0.47" opacity="0.44"/>
<circle cx="457.1" cy="70.5" r="0.42" opacity="0.42"/>
<circle cx="474.1" cy="75.4" r="0.29" opacity="0.42"/>
<circle cx="503.4" cy="92.7" r="0.25" opacity="0.35"/>
<circle cx="512.4" cy="87.4" r="0.35" opacity="0.18"/>
<circle cx="443.7" cy="88.0" r="0.24" opacity="0.43"/>
<circle cx="488.7" cy="78.5" r="0.47" opacity="0.47"/>
<circle cx="485.0" cy="64.8" r="0.38" opacity="0.28"/>
<circle cx="457.7" cy="95.3" r="0.42" opacity="0.17"/>
<circle cx="456.2" cy="73.7" r="0.38" opacity="0.24"/>
<circle cx="471.9" cy="91.0" r="0.27" opacity="0.39"/>
<circle cx="463.8" cy="95.9" r="0.49" opacity="0.24"/>
<circle cx="484.2" cy="65.2" r="0.33" opacity="0.36"/>
<circle cx="486.6" cy="73.7" r="0.23" opacity="0.17"/>
<circle cx="480.8" cy="67.4" r="0.31" opacity="0.35"/>
<circle cx="506.1" cy="80.1" r="0.29" opacity="0.34"/>
<circle cx="459.7" cy="89.9" r="0.26" opacity="0.22"/>
<circle cx="471.8" cy="94.5" r="0.27" opacity="0.19"/>
<circle cx="449.0" cy="69.0" r="0.31" opacity="0.27"/>
<circle cx="495.6" cy="76.0" r="0.35" opacity="0.27"/>
<circle cx="496.7" cy="94.3" r="0.34" opacity="0.47"/>
<circle cx="457.8" cy="97.1" r="0.37" opacity="0.38"/>
<circle cx="467.5" cy="71.1" r="0.26" opacity="0.46"/>
<circle cx="465.9" cy="86.8" r="0.35" opacity="0.32"/>
<circle cx="454.6" cy="67.6" r="0.31" opacity="0.38"/>
<circle cx="479.6" cy="61.2" r="0.42" opacity="0.28"/>
<circle cx="444.3" cy="70.7" r="0.28" opacity="0.43"/>
<circle cx="480.1" cy="73.1" r="0.29" opacity="0.23"/>
<circle cx="460.0" cy="73.8" r="0.44" opacity="0.42"/>
<circle cx="491.1" cy="93.7" r="0.40" opacity="0.16"/>
<circle cx="442.5" cy="67.1" r="0.29" opacity="0.32"/>
<circle cx="500.3" cy="82.7" r="0.34" opacity="0.21"/>
<circle cx="512.1" cy="88.8" r="0.32" opacity="0.14"/>
<circle cx="512.2" cy="70.5" r="0.46" opacity="0.16"/>
<circle cx="487.7" cy="74.2" r="0.47" opacity="0.23"/>
<circle cx="446.7" cy="68.4" r="0.45" opacity="0.49"/>
<circle cx="487.0" cy="86.2" r="0.30" opacity="0.22"/>
<circle cx="445.6" cy="97.3" r="0.23" opacity="0.35"/>
<circle cx="465.2" cy="68.0" r="0.34" opacity="0.47"/>
<circle cx="457.6" cy="67.2" r="0.40" opacity="0.37"/>
<circle cx="477.1" cy="67.7" r="0.46" opacity="0.16"/>
<circle cx="452.1" cy="70.0" r="0.36" opacity="0.30"/>
<circle cx="480.3" cy="87.9" r="0.47" opacity="0.30"/>
<circle cx="442.3" cy="91.7" r="0.23" opacity="0.24"/>
<circle cx="449.8" cy="83.3" r="0.44" opacity="0.17"/>
<circle cx="461.1" cy="92.4" r="0.41" opacity="0.16"/>
<circle cx="490.2" cy="90.3" r="0.33" opacity="0.18"/>
<circle cx="488.2" cy="72.8" r="0.26" opacity="0.18"/>
<circle cx="469.1" cy="65.8" r="0.33" opacity="0.33"/>
<circle cx="480.2" cy="76.0" r="0.44" opacity="0.15"/>
<circle cx="463.7" cy="95.4" r="0.46" opacity="0.47"/>
<circle cx="496.1" cy="80.8" r="0.44" opacity="0.34"/>
<circle cx="447.9" cy="70.5" r="0.25" opacity="0.45"/>
<circle cx="463.1" cy="76.1" r="0.37" opacity="0.16"/>
<circle cx="491.6" cy="90.4" r="0.44" opacity="0.45"/>
<circle cx="462.8" cy="66.5" r="0.43" opacity="0.38"/>
<circle cx="466.8" cy="73.7" r="0.26" opacity="0.44"/>
<circle cx="473.4" cy="91.0" r="0.32" opacity="0.24"/>
<circle cx="477.3" cy="88.5" r="0.47" opacity="0.25"/>
<circle cx="490.7" cy="76.0" r="0.46" opacity="0.41"/>
<circle cx="480.5" cy="74.4" r="0.30" opacity="0.46"/>
<circle cx="498.7" cy="72.3" r="0.24" opacity="0.19"/>
<circle cx="510.8" cy="62.5" r="0.45" opacity="0.32"/>
<circle cx="480.4" cy="81.0" r="0.33" opacity="0.33"/>
<circle cx="445.9" cy="94.9" r="0.25" opacity="0.17"/>
<circle cx="489.2" cy="84.7" r="0.45" opacity="0.38"/>
<circle cx="508.3" cy="63.0" r="0.22" opacity="0.21"/>
<circle cx="497.1" cy="66.7" r="0.37" opacity="0.41"/>
<circle cx="450.8" cy="80.5" r="0.47" opacity="0.40"/>
<circle cx="468.8" cy="78.7" r="0.30" opacity="0.49"/>
<circle cx="497.3" cy="86.1" r="0.31" opacity="0.40"/>
<circle cx="475.4" cy="90.5" r="0.32" opacity="0.45"/>
<circle cx="490.1" cy="77.7" r="0.38" opacity="0.43"/>
<circle cx="478.5" cy="96.4" r="0.22" opacity="0.46"/>
<circle cx="492.3" cy="79.1" r="0.46" opacity="0.18"/>
<circle cx="464.3" cy="87.4" r="0.45" opacity="0.26"/>
<circle cx="513.1" cy="85.0" r="0.23" opacity="0.17"/>
<circle cx="444.9" cy="82.1" r="0.31" opacity="0.22"/>
<circle cx="472.5" cy="64.0" r="0.47" opacity="0.44"/>
<circle cx="480.7" cy="77.5" r="0.31" opacity="0.35"/>
<circle cx="465.0" cy="97.0" r="0.49" opacity="0.40"/>
<circle cx="500.6" cy="63.9" r="0.25" opacity="0.25"/>
<circle cx="448.6" cy="76.6" r="0.50" opacity="0.44"/>
<circle cx="510.4" cy="69.3" r="0.28" opacity="0.13"/>
<circle cx="459.5" cy="63.2" r="0.37" opacity="0.23"/>
<circle cx="489.3" cy="81.7" r="0.39" opacity="0.23"/>
<circle cx="493.8" cy="86.5" r="0.42" opacity="0.30"/>
<circle cx="473.7" cy="71.6" r="0.23" opacity="0.30"/>
<circle cx="485.0" cy="67.9" r="0.46" opacity="0.45"/>
<circle cx="502.6" cy="91.1" r="0.36" opacity="0.19"/>
<circle cx="459.3" cy="88.2" r="0.50" opacity="0.16"/>
<circle cx="439.7" cy="74.1" r="0.32" opacity="0.35"/>
<circle cx="447.5" cy="92.2" r="0.31" opacity="0.47"/>
<circle cx="463.7" cy="72.3" r="0.27" opacity="0.49"/>
<circle cx="483.0" cy="91.5" r="0.24" opacity="0.33"/>
<circle cx="493.7" cy="97.3" r="0.48" opacity="0.16"/>
<circle cx="466.9" cy="97.9" r="0.37" opacity="0.48"/>
<circle cx="458.0" cy="62.0" r="0.48" opacity="0.22"/>
<circle cx="480.9" cy="74.4" r="0.38" opacity="0.47"/>
<circle cx="509.6" cy="93.4" r="0.29" opacity="0.43"/>
<circle cx="440.6" cy="76.4" r="0.48" opacity="0.22"/>
<circle cx="466.5" cy="82.5" r="0.29" opacity="0.39"/>
<circle cx="487.7" cy="64.6" r="0.48" opacity="0.15"/>
<circle cx="491.0" cy="73.9" r="0.26" opacity="0.15"/>
<circle cx="513.3" cy="90.5" r="0.35" opacity="0.42"/>
<circle cx="511.3" cy="95.2" r="0.37" opacity="0.22"/>
<circle cx="477.7" cy="97.2" r="0.42" opacity="0.37"/>
<circle cx="501.8" cy="76.1" r="0.38" opacity="0.44"/>
<circle cx="454.0" cy="92.7" r="0.23" opacity="0.32"/>
<circle cx="481.9" cy="66.5" r="0.48" opacity="0.29"/>
<circle cx="453.0" cy="76.2" r="0.39" opacity="0.28"/>
<circle cx="439.4" cy="64.5" r="0.42" opacity="0.17"/>
<circle cx="458.2" cy="90.8" r="0.46" opacity="0.46"/>
<circle cx="452.2" cy="61.3" r="0.43" opacity="0.35"/>
<circle cx="466.3" cy="61.8" r="0.34" opacity="0.21"/>
<circle cx="482.9" cy="97.2" r="0.28" opacity="0.15"/>
<circle cx="490.8" cy="65.1" r="0.28" opacity="0.29"/>
<circle cx="512.5" cy="73.0" r="0.31" opacity="0.30"/>
<circle cx="451.3" cy="75.9" r="0.42" opacity="0.24"/>
<circle cx="498.4" cy="67.9" r="0.25" opacity="0.36"/>
<circle cx="472.9" cy="94.9" r="0.25" opacity="0.40"/>
<circle cx="489.0" cy="74.7" r="0.26" opacity="0.35"/>
<circle cx="495.5" cy="78.5" r="0.35" opacity="0.38"/>
<circle cx="484.5" cy="76.7" r="0.27" opacity="0.30"/>
<circle cx="480.1" cy="94.1" r="0.50" opacity="0.33"/>
<circle cx="463.6" cy="69.3" r="0.40" opacity="0.40"/>
<circle cx="457.6" cy="86.5" r="0.50" opacity="0.27"/>
<circle cx="509.0" cy="77.2" r="0.40" opacity="0.45"/>
<circle cx="454.3" cy="73.8" r="0.50" opacity="0.14"/>
<circle cx="461.9" cy="78.6" r="0.43" opacity="0.36"/>
<circle cx="508.3" cy="85.7" r="0.22" opacity="0.15"/>
<circle cx="441.9" cy="77.0" r="0.23" opacity="0.32"/>
<circle cx="486.2" cy="68.5" r="0.46" opacity="0.28"/>
<circle cx="510.5" cy="74.3" r="0.39" opacity="0.33"/>
<circle cx="458.7" cy="89.8" r="0.22" opacity="0.21"/>
<circle cx="463.0" cy="93.6" r="0.36" opacity="0.13"/>
<circle cx="461.4" cy="83.5" r="0.45" opacity="0.16"/>
<circle cx="497.1" cy="75.5" r="0.37" opacity="0.28"/>
<circle cx="471.8" cy="97.6" r="0.48" opacity="0.47"/>
<circle cx="493.9" cy="86.9" r="0.26" opacity="0.13"/>
<circle cx="500.9" cy="85.9" r="0.40" opacity="0.24"/>
<circle cx="459.0" cy="95.0" r="0.37" opacity="0.13"/>
<circle cx="464.5" cy="73.9" r="0.24" opacity="0.49"/>
<circle cx="506.3" cy="91.1" r="0.22" opacity="0.28"/>
<circle cx="447.5" cy="87.8" r="0.45" opacity="0.42"/>
<circle cx="498.0" cy="65.5" r="0.22" opacity="0.16"/>
<circle cx="501.8" cy="91.6" r="0.36" opacity="0.21"/>
<circle cx="502.9" cy="65.5" r="0.31" opacity="0.12"/>
<circle cx="512.2" cy="76.4" r="0.44" opacity="0.42"/>
<circle cx="482.4" cy="97.4" r="0.44" opacity="0.47"/>
<circle cx="510.8" cy="64.1" r="0.43" opacity="0.21"/>
<circle cx="463.3" cy="73.7" r="0.50" opacity="0.14"/>
<circle cx="471.5" cy="65.8" r="0.50" opacity="0.31"/>
<circle cx="491.4" cy="80.2" r="0.43" opacity="0.25"/>
<circle cx="469.9" cy="88.5" r="0.42" opacity="0.46"/>
<circle cx="462.2" cy="92.3" r="0.43" opacity="0.34"/>
<circle cx="469.5" cy="82.0" r="0.24" opacity="0.16"/>
<circle cx="462.3" cy="65.6" r="0.23" opacity="0.39"/>
<circle cx="493.5" cy="83.8" r="0.28" opacity="0.39"/>
<circle cx="500.6" cy="83.9" r="0.28" opacity="0.33"/>
<circle cx="468.5" cy="71.0" r="0.26" opacity="0.45"/>
<circle cx="486.2" cy="95.4" r="0.27" opacity="0.22"/>
<circle cx="477.0" cy="63.3" r="0.30" opacity="0.33"/>
<circle cx="475.0" cy="94.6" r="0.38" opacity="0.36"/>
<circle cx="482.7" cy="90.0" r="0.32" opacity="0.12"/>
<circle cx="512.1" cy="90.3" r="0.26" opacity="0.16"/>
<circle cx="455.7" cy="85.3" r="0.26" opacity="0.13"/>
<circle cx="475.9" cy="61.3" r="0.29" opacity="0.27"/>
<circle cx="454.4" cy="61.2" r="0.29" opacity="0.21"/>
<circle cx="463.3" cy="76.4" r="0.32" opacity="0.24"/>
<circle cx="440.6" cy="91.9" r="0.43" opacity="0.31"/>
<circle cx="439.4" cy="69.7" r="0.47" opacity="0.29"/>
<circle cx="454.5" cy="91.3" r="0.47" opacity="0.17"/>
<circle cx="476.4" cy="81.8" r="0.25" opacity="0.24"/>
<circle cx="485.1" cy="85.9" r="0.40" opacity="0.36"/>
<circle cx="467.3" cy="63.6" r="0.22" opacity="0.44"/>
<circle cx="503.5" cy="94.4" r="0.24" opacity="0.41"/>
<circle cx="452.0" cy="73.8" r="0.28" opacity="0.45"/>
<circle cx="500.1" cy="91.7" r="0.33" opacity="0.48"/>
<circle cx="458.5" cy="82.2" r="0.41" opacity="0.21"/>
<circle cx="467.6" cy="64.8" r="0.44" opacity="0.19"/>
<circle cx="449.3" cy="71.3" r="0.40" opacity="0.36"/>
<circle cx="478.2" cy="92.5" r="0.43" opacity="0.20"/>
<circle cx="478.9" cy="67.3" r="0.29" opacity="0.18"/>
<circle cx="444.9" cy="74.0" r="0.47" opacity="0.37"/>
<circle cx="445.7" cy="69.2" r="0.39" opacity="0.32"/>
<circle cx="441.2" cy="64.6" r="0.38" opacity="0.35"/>
<circle cx="445.2" cy="89.5" r="0.29" opacity="0.34"/>
<circle cx="478.6" cy="73.6" r="0.48" opacity="0.27"/>
<circle cx="470.6" cy="81.0" r="0.46" opacity="0.50"/>
<circle cx="496.4" cy="80.9" r="0.42" opacity="0.36"/>
<circle cx="510.5" cy="96.8" r="0.43" opacity="0.20"/>
<circle cx="481.4" cy="77.3" r="0.28" opacity="0.42"/>
<circle cx="455.6" cy="87.2" r="0.36" opacity="0.28"/>
<circle cx="491.7" cy="87.8" r="0.50" opacity="0.50"/>
<circle cx="498.6" cy="70.8" r="0.41" opacity="0.31"/>
<circle cx="509.1" cy="77.6" r="0.32" opacity="0.13"/>
<circle cx="474.1" cy="80.7" r="0.31" opacity="0.16"/>
<circle cx="475.2" cy="63.7" r="0.27" opacity="0.29"/>
<circle cx="465.1" cy="79.5" r="0.37" opacity="0.27"/>
<circle cx="449.1" cy="61.8" r="0.38" opacity="0.49"/>
<circle cx="460.1" cy="74.0" r="0.31" opacity="0.40"/>
<circle cx="475.8" cy="90.4" r="0.22" opacity="0.17"/>
<circle cx="454.5" cy="74.7" r="0.33" opacity="0.27"/>
<circle cx="511.0" cy="77.3" r="0.38" opacity="0.49"/>
<circle cx="486.9" cy="83.0" r="0.45" opacity="0.25"/>
<circle cx="441.9" cy="96.3" r="0.37" opacity="0.34"/>
<circle cx="444.2" cy="88.5" r="0.32" opacity="0.36"/>
<circle cx="460.3" cy="94.9" r="0.32" opacity="0.22"/>
<circle cx="505.6" cy="69.3" r="0.30" opacity="0.31"/>
<circle cx="512.1" cy="65.4" r="0.28" opacity="0.42"/>
<circle cx="444.8" cy="76.3" r="0.44" opacity="0.39"/>
<circle cx="498.1" cy="65.4" r="0.47" opacity="0.26"/>
<circle cx="499.7" cy="78.5" r="0.47" opacity="0.30"/>
<circle cx="458.4" cy="66.6" r="0.36" opacity="0.14"/>
<circle cx="451.4" cy="93.3" r="0.38" opacity="0.45"/>
<circle cx="450.4" cy="78.8" r="0.35" opacity="0.16"/>
<circle cx="458.8" cy="95.0" r="0.42" opacity="0.31"/>
<circle cx="484.5" cy="92.8" r="0.49" opacity="0.35"/>
<circle cx="442.9" cy="93.2" r="0.27" opacity="0.21"/>
<circle cx="449.4" cy="79.9" r="0.38" opacity="0.29"/>
<circle cx="474.1" cy="66.3" r="0.42" opacity="0.32"/>
<circle cx="462.2" cy="91.8" r="0.48" opacity="0.47"/>
<circle cx="512.4" cy="63.6" r="0.33" opacity="0.29"/>
<circle cx="458.3" cy="88.5" r="0.47" opacity="0.17"/>
<circle cx="476.8" cy="96.7" r="0.47" opacity="0.29"/>
<circle cx="447.0" cy="77.9" r="0.36" opacity="0.42"/>
<circle cx="453.0" cy="71.4" r="0.50" opacity="0.12"/>
<circle cx="484.6" cy="64.6" r="0.43" opacity="0.28"/>
<circle cx="508.0" cy="69.3" r="0.47" opacity="0.21"/>
<circle cx="442.7" cy="64.3" r="0.24" opacity="0.27"/>
<circle cx="511.4" cy="74.2" r="0.42" opacity="0.13"/>
<circle cx="477.5" cy="80.9" r="0.25" opacity="0.34"/>
<circle cx="472.3" cy="73.1" r="0.45" opacity="0.38"/>
<circle cx="448.1" cy="65.0" r="0.23" opacity="0.22"/>
<circle cx="486.5" cy="96.7" r="0.49" opacity="0.45"/>
<circle cx="448.4" cy="90.2" r="0.43" opacity="0.30"/>
<circle cx="513.2" cy="83.1" r="0.25" opacity="0.20"/>
<circle cx="448.8" cy="83.6" r="0.39" opacity="0.45"/>
<circle cx="440.0" cy="61.5" r="0.49" opacity="0.22"/>
<circle cx="458.8" cy="93.0" r="0.25" opacity="0.42"/>
<circle cx="505.8" cy="81.8" r="0.39" opacity="0.12"/>
<circle cx="484.3" cy="83.7" r="0.44" opacity="0.32"/>
<circle cx="447.7" cy="69.3" r="0.40" opacity="0.15"/>
<circle cx="447.1" cy="70.3" r="0.44" opacity="0.33"/>
<circle cx="465.7" cy="96.6" r="0.38" opacity="0.21"/>
<circle cx="481.2" cy="92.6" r="0.32" opacity="0.29"/>
<circle cx="482.1" cy="97.4" r="0.40" opacity="0.19"/>
<circle cx="482.4" cy="72.9" r="0.35" opacity="0.39"/>
<circle cx="440.7" cy="79.8" r="0.31" opacity="0.35"/>
<circle cx="500.2" cy="78.3" r="0.40" opacity="0.23"/>
<circle cx="458.2" cy="79.9" r="0.37" opacity="0.20"/>
<circle cx="496.0" cy="79.5" r="0.32" opacity="0.22"/>
<circle cx="501.4" cy="94.3" r="0.48" opacity="0.21"/>
<circle cx="444.5" cy="84.3" r="0.23" opacity="0.45"/>
<rect x="438.70" y="101.00" width="75.30" height="36.10" fill="#000"/>
<circle cx="489.7" cy="113.3" r="0.34" opacity="0.38"/>
<circle cx="451.1" cy="114.3" r="0.44" opacity="0.38"/>
<circle cx="482.7" cy="105.1" r="0.28" opacity="0.22"/>
<circle cx="441.5" cy="124.0" r="0.38" opacity="0.47"/>
<circle cx="480.4" cy="133.7" r="0.35" opacity="0.32"/>
<circle cx="460.1" cy="117.8" r="0.48" opacity="0.31"/>
<circle cx="439.4" cy="113.9" r="0.28" opacity="0.36"/>
<circle cx="477.0" cy="118.2" r="0.48" opacity="0.41"/>
<circle cx="445.7" cy="102.6" r="0.42" opacity="0.35"/>
<circle cx="487.7" cy="119.1" r="0.23" opacity="0.29"/>
<circle cx="501.3" cy="122.6" r="0.23" opacity="0.17"/>
<circle cx="506.4" cy="120.6" r="0.27" opacity="0.39"/>
<circle cx="507.9" cy="131.9" r="0.40" opacity="0.43"/>
<circle cx="445.7" cy="117.8" r="0.45" opacity="0.25"/>
<circle cx="449.9" cy="131.9" r="0.42" opacity="0.12"/>
<circle cx="443.9" cy="121.1" r="0.49" opacity="0.35"/>
<circle cx="504.3" cy="105.2" r="0.38" opacity="0.19"/>
<circle cx="463.9" cy="106.7" r="0.35" opacity="0.14"/>
<circle cx="488.0" cy="124.2" r="0.47" opacity="0.41"/>
<circle cx="444.8" cy="132.0" r="0.37" opacity="0.48"/>
<circle cx="475.8" cy="104.4" r="0.42" opacity="0.19"/>
<circle cx="512.3" cy="120.4" r="0.47" opacity="0.31"/>
<circle cx="463.5" cy="124.7" r="0.42" opacity="0.29"/>
<circle cx="459.7" cy="116.3" r="0.42" opacity="0.21"/>
<circle cx="450.9" cy="118.5" r="0.40" opacity="0.15"/>
<circle cx="459.4" cy="135.6" r="0.29" opacity="0.41"/>
<circle cx="461.9" cy="104.5" r="0.36" opacity="0.45"/>
<circle cx="496.9" cy="103.2" r="0.42" opacity="0.36"/>
<circle cx="475.0" cy="124.8" r="0.37" opacity="0.19"/>
<circle cx="490.9" cy="106.0" r="0.31" opacity="0.44"/>
<circle cx="481.4" cy="119.4" r="0.42" opacity="0.31"/>
<circle cx="467.7" cy="120.9" r="0.23" opacity="0.25"/>
<circle cx="442.1" cy="136.5" r="0.47" opacity="0.37"/>
<circle cx="451.0" cy="131.5" r="0.30" opacity="0.43"/>
<circle cx="487.6" cy="122.7" r="0.43" opacity="0.22"/>
<circle cx="501.2" cy="120.5" r="0.43" opacity="0.44"/>
<circle cx="458.1" cy="115.9" r="0.32" opacity="0.15"/>
<circle cx="504.3" cy="125.6" r="0.36" opacity="0.33"/>
<circle cx="504.6" cy="104.0" r="0.32" opacity="0.38"/>
<circle cx="478.9" cy="119.0" r="0.29" opacity="0.20"/>
<circle cx="489.0" cy="113.5" r="0.48" opacity="0.46"/>
<circle cx="511.3" cy="111.2" r="0.36" opacity="0.16"/>
<circle cx="465.9" cy="104.1" r="0.36" opacity="0.48"/>
<circle cx="495.8" cy="114.3" r="0.30" opacity="0.47"/>
<circle cx="443.1" cy="131.2" r="0.46" opacity="0.15"/>
<circle cx="509.9" cy="124.2" r="0.33" opacity="0.28"/>
<circle cx="484.4" cy="120.0" r="0.46" opacity="0.46"/>
<circle cx="463.5" cy="101.8" r="0.44" opacity="0.37"/>
<circle cx="487.9" cy="104.1" r="0.24" opacity="0.46"/>
<circle cx="466.2" cy="118.1" r="0.49" opacity="0.19"/>
<circle cx="486.4" cy="103.7" r="0.38" opacity="0.40"/>
<circle cx="450.9" cy="128.2" r="0.49" opacity="0.43"/>
<circle cx="497.9" cy="134.8" r="0.42" opacity="0.33"/>
<circle cx="500.5" cy="129.8" r="0.40" opacity="0.37"/>
<circle cx="452.5" cy="113.4" r="0.31" opacity="0.45"/>
<circle cx="497.3" cy="111.7" r="0.50" opacity="0.14"/>
<circle cx="443.8" cy="113.0" r="0.24" opacity="0.48"/>
<circle cx="465.9" cy="115.1" r="0.46" opacity="0.32"/>
<circle cx="486.0" cy="116.9" r="0.35" opacity="0.48"/>
<circle cx="459.8" cy="119.9" r="0.35" opacity="0.17"/>
<circle cx="450.1" cy="119.3" r="0.44" opacity="0.28"/>
<circle cx="443.6" cy="134.3" r="0.26" opacity="0.46"/>
<circle cx="442.6" cy="124.3" r="0.26" opacity="0.22"/>
<circle cx="470.5" cy="128.0" r="0.34" opacity="0.28"/>
<circle cx="469.1" cy="119.8" r="0.30" opacity="0.48"/>
<circle cx="453.3" cy="106.2" r="0.37" opacity="0.25"/>
<circle cx="492.8" cy="102.9" r="0.41" opacity="0.26"/>
<circle cx="508.1" cy="112.0" r="0.34" opacity="0.24"/>
<circle cx="478.8" cy="111.4" r="0.41" opacity="0.28"/>
<circle cx="491.8" cy="111.7" r="0.35" opacity="0.33"/>
<circle cx="492.6" cy="124.4" r="0.34" opacity="0.15"/>
<circle cx="447.5" cy="106.6" r="0.27" opacity="0.19"/>
<circle cx="488.4" cy="113.5" r="0.47" opacity="0.21"/>
<circle cx="457.5" cy="107.9" r="0.26" opacity="0.38"/>
<circle cx="482.2" cy="110.3" r="0.45" opacity="0.38"/>
<circle cx="471.0" cy="122.8" r="0.40" opacity="0.29"/>
<circle cx="446.0" cy="114.3" r="0.48" opacity="0.26"/>
<circle cx="486.7" cy="104.6" r="0.44" opacity="0.45"/>
<circle cx="466.9" cy="114.6" r="0.36" opacity="0.22"/>
<circle cx="454.8" cy="106.0" r="0.41" opacity="0.31"/>
<circle cx="510.2" cy="135.3" r="0.46" opacity="0.48"/>
<circle cx="501.5" cy="102.4" r="0.26" opacity="0.49"/>
<circle cx="504.1" cy="123.1" r="0.39" opacity="0.29"/>
<circle cx="470.8" cy="106.6" r="0.37" opacity="0.22"/>
<circle cx="448.3" cy="132.0" r="0.38" opacity="0.45"/>
<circle cx="461.0" cy="121.7" r="0.30" opacity="0.44"/>
<circle cx="454.7" cy="124.2" r="0.38" opacity="0.24"/>
<circle cx="445.1" cy="118.6" r="0.37" opacity="0.43"/>
<circle cx="454.3" cy="108.0" r="0.31" opacity="0.42"/>
<circle cx="456.4" cy="123.8" r="0.23" opacity="0.15"/>
<circle cx="491.8" cy="118.9" r="0.25" opacity="0.30"/>
<circle cx="509.1" cy="115.2" r="0.38" opacity="0.28"/>
<circle cx="476.8" cy="103.0" r="0.47" opacity="0.34"/>
<circle cx="465.0" cy="111.5" r="0.27" opacity="0.47"/>
<circle cx="501.7" cy="114.8" r="0.39" opacity="0.33"/>
<circle cx="454.1" cy="102.7" r="0.43" opacity="0.18"/>
<circle cx="481.2" cy="102.1" r="0.23" opacity="0.18"/>
<circle cx="487.8" cy="123.0" r="0.50" opacity="0.37"/>
<circle cx="478.0" cy="102.0" r="0.49" opacity="0.31"/>
<circle cx="502.9" cy="103.0" r="0.45" opacity="0.30"/>
<circle cx="455.3" cy="115.8" r="0.24" opacity="0.34"/>
<circle cx="455.5" cy="126.1" r="0.27" opacity="0.38"/>
<circle cx="485.1" cy="126.5" r="0.49" opacity="0.23"/>
<circle cx="489.9" cy="115.4" r="0.47" opacity="0.43"/>
<circle cx="495.9" cy="122.6" r="0.29" opacity="0.46"/>
<circle cx="511.2" cy="134.8" r="0.31" opacity="0.43"/>
<circle cx="489.6" cy="131.0" r="0.44" opacity="0.29"/>
<circle cx="468.6" cy="129.4" r="0.40" opacity="0.33"/>
<circle cx="504.1" cy="102.6" r="0.22" opacity="0.30"/>
<circle cx="446.4" cy="131.1" r="0.24" opacity="0.46"/>
<circle cx="455.9" cy="106.2" r="0.43" opacity="0.38"/>
<circle cx="469.7" cy="122.4" r="0.37" opacity="0.48"/>
<circle cx="476.9" cy="120.4" r="0.35" opacity="0.28"/>
<circle cx="490.5" cy="105.4" r="0.41" opacity="0.47"/>
<circle cx="495.8" cy="120.6" r="0.32" opacity="0.16"/>
<circle cx="446.1" cy="120.4" r="0.47" opacity="0.45"/>
<circle cx="452.8" cy="127.8" r="0.45" opacity="0.30"/>
<circle cx="503.0" cy="108.1" r="0.31" opacity="0.32"/>
<circle cx="493.2" cy="117.3" r="0.30" opacity="0.45"/>
<circle cx="468.3" cy="116.2" r="0.28" opacity="0.30"/>
<circle cx="491.7" cy="114.2" r="0.41" opacity="0.31"/>
<circle cx="440.1" cy="135.3" r="0.30" opacity="0.33"/>
<circle cx="510.4" cy="108.8" r="0.24" opacity="0.20"/>
<circle cx="450.6" cy="131.4" r="0.36" opacity="0.14"/>
<circle cx="459.4" cy="119.4" r="0.27" opacity="0.24"/>
<circle cx="506.4" cy="117.1" r="0.29" opacity="0.35"/>
<circle cx="447.6" cy="119.8" r="0.40" opacity="0.15"/>
<circle cx="480.0" cy="112.4" r="0.43" opacity="0.35"/>
<circle cx="506.8" cy="122.8" r="0.27" opacity="0.19"/>
<circle cx="491.5" cy="129.9" r="0.24" opacity="0.28"/>
<circle cx="460.2" cy="117.9" r="0.46" opacity="0.33"/>
<circle cx="494.5" cy="128.3" r="0.30" opacity="0.36"/>
<circle cx="467.1" cy="118.1" r="0.37" opacity="0.37"/>
<circle cx="451.7" cy="130.9" r="0.27" opacity="0.24"/>
<circle cx="502.3" cy="136.1" r="0.32" opacity="0.48"/>
<circle cx="442.0" cy="135.0" r="0.28" opacity="0.13"/>
<circle cx="495.8" cy="107.2" r="0.43" opacity="0.12"/>
<circle cx="448.4" cy="114.0" r="0.24" opacity="0.30"/>
<circle cx="464.9" cy="127.4" r="0.36" opacity="0.49"/>
<circle cx="501.9" cy="107.5" r="0.48" opacity="0.46"/>
<circle cx="481.2" cy="120.0" r="0.27" opacity="0.24"/>
<circle cx="455.6" cy="108.4" r="0.39" opacity="0.24"/>
<circle cx="496.2" cy="121.6" r="0.45" opacity="0.15"/>
<circle cx="502.1" cy="119.3" r="0.40" opacity="0.21"/>
<circle cx="490.9" cy="115.8" r="0.42" opacity="0.34"/>
<circle cx="449.6" cy="112.1" r="0.43" opacity="0.13"/>
<circle cx="486.1" cy="120.6" r="0.42" opacity="0.25"/>
<circle cx="474.6" cy="118.2" r="0.43" opacity="0.15"/>
<circle cx="477.1" cy="110.6" r="0.38" opacity="0.22"/>
<circle cx="454.5" cy="109.6" r="0.47" opacity="0.26"/>
<circle cx="504.6" cy="127.3" r="0.30" opacity="0.33"/>
<circle cx="439.8" cy="134.2" r="0.40" opacity="0.16"/>
<circle cx="477.8" cy="118.9" r="0.41" opacity="0.23"/>
<circle cx="506.8" cy="123.4" r="0.24" opacity="0.43"/>
<circle cx="504.9" cy="112.2" r="0.42" opacity="0.45"/>
<circle cx="504.7" cy="104.0" r="0.45" opacity="0.21"/>
<circle cx="498.8" cy="125.6" r="0.35" opacity="0.46"/>
<circle cx="498.9" cy="136.4" r="0.49" opacity="0.34"/>
<circle cx="493.8" cy="125.0" r="0.33" opacity="0.31"/>
<circle cx="476.9" cy="109.1" r="0.29" opacity="0.44"/>
<circle cx="502.1" cy="126.0" r="0.41" opacity="0.31"/>
<circle cx="481.8" cy="124.9" r="0.22" opacity="0.29"/>
<circle cx="511.3" cy="108.7" r="0.35" opacity="0.15"/>
<circle cx="458.1" cy="130.4" r="0.23" opacity="0.42"/>
<circle cx="498.5" cy="132.0" r="0.29" opacity="0.47"/>
<circle cx="466.8" cy="117.3" r="0.49" opacity="0.33"/>
<circle cx="489.8" cy="105.4" r="0.22" opacity="0.22"/>
<circle cx="447.1" cy="130.4" r="0.29" opacity="0.48"/>
<circle cx="489.6" cy="108.2" r="0.42" opacity="0.24"/>
<circle cx="478.4" cy="104.2" r="0.45" opacity="0.42"/>
<circle cx="482.4" cy="125.7" r="0.32" opacity="0.17"/>
<circle cx="463.4" cy="127.5" r="0.38" opacity="0.17"/>
<circle cx="457.1" cy="118.2" r="0.22" opacity="0.14"/>
<circle cx="472.6" cy="106.2" r="0.47" opacity="0.17"/>
<circle cx="494.9" cy="129.4" r="0.31" opacity="0.33"/>
<circle cx="512.9" cy="123.2" r="0.33" opacity="0.49"/>
<circle cx="458.5" cy="135.0" r="0.31" opacity="0.28"/>
<circle cx="462.7" cy="124.4" r="0.47" opacity="0.38"/>
<circle cx="452.7" cy="136.3" r="0.42" opacity="0.31"/>
<circle cx="502.3" cy="105.3" r="0.39" opacity="0.42"/>
<circle cx="496.9" cy="125.1" r="0.24" opacity="0.30"/>
<circle cx="459.2" cy="122.8" r="0.33" opacity="0.29"/>
<circle cx="479.2" cy="122.2" r="0.47" opacity="0.23"/>
<circle cx="459.6" cy="108.0" r="0.25" opacity="0.44"/>
<circle cx="507.5" cy="105.9" r="0.32" opacity="0.46"/>
<circle cx="503.4" cy="135.8" r="0.50" opacity="0.24"/>
<circle cx="444.1" cy="110.3" r="0.36" opacity="0.13"/>
<circle cx="458.0" cy="118.1" r="0.41" opacity="0.18"/>
<circle cx="448.4" cy="113.1" r="0.25" opacity="0.17"/>
<circle cx="446.9" cy="129.6" r="0.47" opacity="0.14"/>
<circle cx="499.0" cy="131.1" r="0.40" opacity="0.23"/>
<circle cx="500.1" cy="104.4" r="0.23" opacity="0.48"/>
<circle cx="455.6" cy="133.6" r="0.43" opacity="0.14"/>
<circle cx="446.2" cy="124.2" r="0.26" opacity="0.37"/>
<circle cx="489.2" cy="109.6" r="0.35" opacity="0.20"/>
<circle cx="503.9" cy="123.6" r="0.41" opacity="0.36"/>
<circle cx="443.7" cy="132.6" r="0.44" opacity="0.32"/>
<circle cx="483.1" cy="118.8" r="0.43" opacity="0.32"/>
<circle cx="459.8" cy="119.6" r="0.28" opacity="0.12"/>
<circle cx="477.9" cy="132.1" r="0.42" opacity="0.20"/>
<circle cx="477.0" cy="122.0" r="0.38" opacity="0.29"/>
<circle cx="477.0" cy="125.7" r="0.47" opacity="0.32"/>
<circle cx="497.5" cy="125.4" r="0.25" opacity="0.22"/>
<circle cx="462.5" cy="113.9" r="0.36" opacity="0.23"/>
<circle cx="513.3" cy="127.3" r="0.32" opacity="0.39"/>
<circle cx="507.9" cy="107.1" r="0.40" opacity="0.48"/>
<circle cx="467.1" cy="132.3" r="0.45" opacity="0.24"/>
<circle cx="449.9" cy="129.8" r="0.34" opacity="0.25"/>
<circle cx="473.7" cy="127.1" r="0.47" opacity="0.47"/>
<circle cx="496.1" cy="107.7" r="0.32" opacity="0.12"/>
<circle cx="454.1" cy="113.4" r="0.27" opacity="0.30"/>
<circle cx="449.0" cy="124.4" r="0.34" opacity="0.21"/>
<circle cx="490.2" cy="113.0" r="0.23" opacity="0.44"/>
<circle cx="495.2" cy="132.3" r="0.30" opacity="0.22"/>
<circle cx="490.9" cy="106.6" r="0.49" opacity="0.37"/>
<circle cx="479.9" cy="103.3" r="0.30" opacity="0.28"/>
<circle cx="512.1" cy="106.6" r="0.39" opacity="0.15"/>
<circle cx="511.4" cy="127.7" r="0.45" opacity="0.40"/>
<circle cx="452.6" cy="110.0" r="0.23" opacity="0.33"/>
<circle cx="445.2" cy="108.1" r="0.27" opacity="0.47"/>
<circle cx="497.9" cy="111.5" r="0.49" opacity="0.18"/>
<circle cx="449.6" cy="114.9" r="0.45" opacity="0.16"/>
<circle cx="497.8" cy="120.6" r="0.44" opacity="0.25"/>
<circle cx="442.3" cy="105.0" r="0.42" opacity="0.31"/>
<circle cx="495.9" cy="108.5" r="0.30" opacity="0.20"/>
<circle cx="502.4" cy="126.2" r="0.26" opacity="0.40"/>
<circle cx="442.1" cy="117.9" r="0.29" opacity="0.41"/>
<circle cx="492.6" cy="125.5" r="0.28" opacity="0.14"/>
<circle cx="486.8" cy="125.9" r="0.22" opacity="0.44"/>
<circle cx="505.9" cy="114.2" r="0.37" opacity="0.37"/>
<circle cx="508.0" cy="124.3" r="0.36" opacity="0.41"/>
<circle cx="475.6" cy="102.7" r="0.37" opacity="0.28"/>
<circle cx="464.1" cy="115.3" r="0.28" opacity="0.24"/>
<circle cx="494.7" cy="132.6" r="0.35" opacity="0.44"/>
<circle cx="448.5" cy="119.6" r="0.43" opacity="0.42"/>
<circle cx="468.0" cy="107.4" r="0.49" opacity="0.35"/>
<circle cx="487.7" cy="113.6" r="0.25" opacity="0.34"/>
<circle cx="469.3" cy="132.7" r="0.41" opacity="0.41"/>
<circle cx="481.5" cy="127.9" r="0.26" opacity="0.50"/>
<circle cx="482.3" cy="122.5" r="0.27" opacity="0.15"/>
<circle cx="491.6" cy="127.0" r="0.41" opacity="0.22"/>
<circle cx="475.4" cy="128.5" r="0.40" opacity="0.47"/>
<circle cx="445.8" cy="128.7" r="0.22" opacity="0.36"/>
<circle cx="478.9" cy="104.1" r="0.34" opacity="0.37"/>
<circle cx="503.6" cy="104.2" r="0.36" opacity="0.42"/>
<circle cx="447.9" cy="132.8" r="0.48" opacity="0.25"/>
<circle cx="454.7" cy="106.6" r="0.28" opacity="0.28"/>
<circle cx="491.7" cy="134.4" r="0.38" opacity="0.48"/>
<circle cx="470.9" cy="124.6" r="0.22" opacity="0.28"/>
<circle cx="440.9" cy="106.1" r="0.45" opacity="0.16"/>
<circle cx="461.5" cy="120.0" r="0.37" opacity="0.13"/>
<circle cx="447.4" cy="125.3" r="0.33" opacity="0.16"/>
<circle cx="474.8" cy="114.6" r="0.50" opacity="0.14"/>
<circle cx="452.6" cy="104.1" r="0.37" opacity="0.49"/>
<circle cx="497.0" cy="105.4" r="0.37" opacity="0.26"/>
<circle cx="511.8" cy="126.3" r="0.39" opacity="0.22"/>
<circle cx="471.6" cy="120.0" r="0.33" opacity="0.33"/>
<circle cx="445.9" cy="116.3" r="0.50" opacity="0.27"/>
<circle cx="476.8" cy="128.0" r="0.45" opacity="0.40"/>
<circle cx="467.5" cy="126.5" r="0.28" opacity="0.35"/>
<circle cx="440.4" cy="108.3" r="0.27" opacity="0.25"/>
<circle cx="494.0" cy="102.2" r="0.47" opacity="0.15"/>
<circle cx="509.8" cy="134.8" r="0.39" opacity="0.44"/>
<circle cx="509.1" cy="117.2" r="0.46" opacity="0.13"/>
<circle cx="497.2" cy="124.3" r="0.44" opacity="0.18"/>
<circle cx="445.4" cy="119.9" r="0.39" opacity="0.38"/>
<circle cx="452.5" cy="121.4" r="0.49" opacity="0.22"/>
<circle cx="500.1" cy="135.2" r="0.41" opacity="0.29"/>
<circle cx="470.3" cy="117.9" r="0.25" opacity="0.15"/>
<circle cx="460.0" cy="107.6" r="0.47" opacity="0.26"/>
<circle cx="504.2" cy="121.3" r="0.47" opacity="0.46"/>
<circle cx="492.0" cy="117.2" r="0.29" opacity="0.33"/>
<circle cx="462.4" cy="130.6" r="0.23" opacity="0.36"/>
<circle cx="464.4" cy="116.2" r="0.37" opacity="0.49"/>
<circle cx="513.0" cy="114.0" r="0.49" opacity="0.48"/>
<circle cx="478.3" cy="121.3" r="0.28" opacity="0.42"/>
<circle cx="475.3" cy="128.2" r="0.48" opacity="0.36"/>
<circle cx="490.8" cy="120.8" r="0.26" opacity="0.29"/>
<circle cx="443.8" cy="107.8" r="0.49" opacity="0.26"/>
<circle cx="449.2" cy="116.8" r="0.24" opacity="0.35"/>
<circle cx="456.2" cy="109.1" r="0.40" opacity="0.47"/>
<circle cx="440.2" cy="126.6" r="0.38" opacity="0.31"/>
<circle cx="470.5" cy="101.9" r="0.32" opacity="0.32"/>
<circle cx="464.1" cy="136.4" r="0.32" opacity="0.44"/>
<circle cx="499.4" cy="129.4" r="0.36" opacity="0.31"/>
<circle cx="501.9" cy="105.6" r="0.28" opacity="0.12"/>
<circle cx="475.7" cy="117.4" r="0.49" opacity="0.47"/>
<circle cx="469.4" cy="118.9" r="0.25" opacity="0.41"/>
<circle cx="477.8" cy="107.4" r="0.47" opacity="0.14"/>
<circle cx="453.5" cy="118.3" r="0.50" opacity="0.17"/>
<circle cx="459.0" cy="129.3" r="0.31" opacity="0.47"/>
<circle cx="440.6" cy="109.9" r="0.31" opacity="0.44"/>
<circle cx="446.8" cy="125.2" r="0.47" opacity="0.49"/>
<circle cx="499.1" cy="103.3" r="0.36" opacity="0.20"/>
<circle cx="448.3" cy="110.0" r="0.43" opacity="0.34"/>
<circle cx="448.9" cy="111.5" r="0.24" opacity="0.47"/>
<circle cx="495.2" cy="118.1" r="0.49" opacity="0.49"/>
<circle cx="454.6" cy="110.4" r="0.27" opacity="0.36"/>
<circle cx="483.4" cy="119.7" r="0.44" opacity="0.32"/>
<circle cx="462.6" cy="125.0" r="0.49" opacity="0.14"/>
<circle cx="475.3" cy="106.4" r="0.43" opacity="0.28"/>
<circle cx="501.5" cy="125.0" r="0.49" opacity="0.34"/>
<circle cx="483.5" cy="135.7" r="0.44" opacity="0.25"/>
<circle cx="446.9" cy="133.8" r="0.24" opacity="0.47"/>
<circle cx="508.5" cy="124.7" r="0.49" opacity="0.35"/>
<circle cx="494.6" cy="122.4" r="0.28" opacity="0.15"/>
<circle cx="494.4" cy="117.3" r="0.25" opacity="0.33"/>
<circle cx="458.9" cy="110.7" r="0.47" opacity="0.35"/>
<circle cx="494.8" cy="130.2" r="0.34" opacity="0.29"/>
<circle cx="471.3" cy="114.0" r="0.44" opacity="0.46"/>
<circle cx="461.3" cy="126.5" r="0.28" opacity="0.12"/>
<circle cx="490.1" cy="128.7" r="0.31" opacity="0.50"/>
<circle cx="492.6" cy="112.8" r="0.43" opacity="0.44"/>
<circle cx="449.6" cy="133.5" r="0.34" opacity="0.22"/>
<circle cx="467.3" cy="120.1" r="0.37" opacity="0.23"/>
<circle cx="443.7" cy="123.6" r="0.42" opacity="0.38"/>
<circle cx="468.7" cy="131.6" r="0.22" opacity="0.17"/>
<circle cx="440.6" cy="121.0" r="0.37" opacity="0.21"/>
<circle cx="478.2" cy="101.6" r="0.23" opacity="0.49"/>
<circle cx="505.0" cy="103.9" r="0.40" opacity="0.31"/>
<circle cx="479.2" cy="131.0" r="0.40" opacity="0.48"/>
<circle cx="489.9" cy="133.6" r="0.25" opacity="0.43"/>
<circle cx="462.9" cy="133.8" r="0.44" opacity="0.49"/>
<circle cx="495.3" cy="115.2" r="0.37" opacity="0.42"/>
<circle cx="443.5" cy="120.4" r="0.38" opacity="0.39"/>
<circle cx="464.6" cy="122.8" r="0.43" opacity="0.27"/>
<circle cx="489.8" cy="133.2" r="0.32" opacity="0.32"/>
<circle cx="475.2" cy="130.9" r="0.30" opacity="0.23"/>
<circle cx="468.4" cy="124.4" r="0.26" opacity="0.49"/>
<circle cx="476.6" cy="127.1" r="0.34" opacity="0.13"/>
<rect x="438.70" y="139.50" width="75.30" height="36.00" fill="#000"/>
<circle cx="467.8" cy="160.0" r="0.25" opacity="0.49"/>
<circle cx="482.8" cy="156.1" r="0.23" opacity="0.21"/>
<circle cx="464.3" cy="162.7" r="0.27" opacity="0.30"/>
<circle cx="459.3" cy="159.8" r="0.41" opacity="0.32"/>
<circle cx="494.9" cy="161.8" r="0.24" opacity="0.37"/>
<circle cx="475.1" cy="166.6" r="0.48" opacity="0.25"/>
<circle cx="502.4" cy="148.0" r="0.40" opacity="0.12"/>
<circle cx="500.5" cy="155.6" r="0.35" opacity="0.31"/>
<circle cx="466.9" cy="148.1" r="0.41" opacity="0.36"/>
<circle cx="443.2" cy="149.5" r="0.48" opacity="0.23"/>
<circle cx="461.0" cy="160.2" r="0.32" opacity="0.48"/>
<circle cx="512.2" cy="144.5" r="0.28" opacity="0.18"/>
<circle cx="472.2" cy="149.9" r="0.41" opacity="0.46"/>
<circle cx="444.5" cy="140.9" r="0.25" opacity="0.24"/>
<circle cx="449.1" cy="155.1" r="0.32" opacity="0.40"/>
<circle cx="511.0" cy="174.2" r="0.34" opacity="0.36"/>
<circle cx="449.0" cy="161.4" r="0.47" opacity="0.46"/>
<circle cx="449.6" cy="145.8" r="0.47" opacity="0.38"/>
<circle cx="495.8" cy="142.4" r="0.39" opacity="0.13"/>
<circle cx="493.9" cy="167.8" r="0.31" opacity="0.12"/>
<circle cx="493.7" cy="174.9" r="0.39" opacity="0.26"/>
<circle cx="463.6" cy="168.4" r="0.49" opacity="0.26"/>
<circle cx="455.6" cy="174.9" r="0.34" opacity="0.29"/>
<circle cx="462.3" cy="165.4" r="0.50" opacity="0.30"/>
<circle cx="502.7" cy="154.0" r="0.34" opacity="0.42"/>
<circle cx="511.3" cy="166.4" r="0.42" opacity="0.43"/>
<circle cx="507.5" cy="173.4" r="0.37" opacity="0.27"/>
<circle cx="439.7" cy="158.4" r="0.32" opacity="0.12"/>
<circle cx="513.0" cy="150.8" r="0.48" opacity="0.13"/>
<circle cx="465.9" cy="167.4" r="0.41" opacity="0.38"/>
<circle cx="475.5" cy="143.2" r="0.45" opacity="0.41"/>
<circle cx="474.7" cy="159.7" r="0.45" opacity="0.31"/>
<circle cx="474.5" cy="157.0" r="0.43" opacity="0.40"/>
<circle cx="464.1" cy="167.2" r="0.33" opacity="0.38"/>
<circle cx="467.2" cy="171.5" r="0.48" opacity="0.42"/>
<circle cx="467.5" cy="152.3" r="0.34" opacity="0.35"/>
<circle cx="441.7" cy="159.1" r="0.48" opacity="0.14"/>
<circle cx="505.4" cy="160.0" r="0.50" opacity="0.39"/>
<circle cx="492.6" cy="166.4" r="0.34" opacity="0.16"/>
<circle cx="502.7" cy="170.7" r="0.42" opacity="0.20"/>
<circle cx="476.3" cy="158.0" r="0.32" opacity="0.31"/>
<circle cx="473.2" cy="174.3" r="0.40" opacity="0.49"/>
<circle cx="506.7" cy="146.2" r="0.44" opacity="0.26"/>
<circle cx="483.6" cy="159.7" r="0.43" opacity="0.23"/>
<circle cx="489.6" cy="152.9" r="0.44" opacity="0.31"/>
<circle cx="487.0" cy="174.9" r="0.30" opacity="0.12"/>
<circle cx="505.7" cy="158.4" r="0.40" opacity="0.44"/>
<circle cx="505.4" cy="153.5" r="0.50" opacity="0.27"/>
<circle cx="493.2" cy="169.1" r="0.32" opacity="0.28"/>
<circle cx="466.4" cy="152.0" r="0.34" opacity="0.44"/>
<circle cx="443.7" cy="174.6" r="0.44" opacity="0.33"/>
<circle cx="486.9" cy="150.5" r="0.43" opacity="0.45"/>
<circle cx="467.6" cy="157.5" r="0.28" opacity="0.22"/>
<circle cx="502.5" cy="162.5" r="0.35" opacity="0.36"/>
<circle cx="453.0" cy="140.1" r="0.32" opacity="0.34"/>
<circle cx="452.9" cy="159.0" r="0.31" opacity="0.22"/>
<circle cx="494.2" cy="152.6" r="0.43" opacity="0.40"/>
<circle cx="467.1" cy="141.1" r="0.46" opacity="0.33"/>
<circle cx="482.3" cy="164.0" r="0.37" opacity="0.46"/>
<circle cx="439.9" cy="173.9" r="0.39" opacity="0.27"/>
<circle cx="506.6" cy="171.3" r="0.39" opacity="0.12"/>
<circle cx="485.5" cy="154.4" r="0.38" opacity="0.44"/>
<circle cx="449.0" cy="169.6" r="0.31" opacity="0.22"/>
<circle cx="442.0" cy="143.7" r="0.29" opacity="0.32"/>
<circle cx="509.0" cy="146.0" r="0.30" opacity="0.26"/>
<circle cx="486.8" cy="152.4" r="0.41" opacity="0.18"/>
<circle cx="442.5" cy="160.3" r="0.42" opacity="0.17"/>
<circle cx="442.8" cy="163.4" r="0.24" opacity="0.47"/>
<circle cx="490.5" cy="145.6" r="0.33" opacity="0.14"/>
<circle cx="445.7" cy="152.3" r="0.47" opacity="0.47"/>
<circle cx="495.2" cy="162.3" r="0.38" opacity="0.31"/>
<circle cx="487.9" cy="157.4" r="0.33" opacity="0.44"/>
<circle cx="461.6" cy="154.2" r="0.41" opacity="0.49"/>
<circle cx="464.8" cy="155.2" r="0.33" opacity="0.20"/>
<circle cx="465.6" cy="167.6" r="0.27" opacity="0.30"/>
<circle cx="460.3" cy="160.2" r="0.44" opacity="0.16"/>
<circle cx="475.3" cy="146.6" r="0.40" opacity="0.38"/>
<circle cx="455.6" cy="148.1" r="0.30" opacity="0.24"/>
<circle cx="505.5" cy="170.6" r="0.44" opacity="0.27"/>
<circle cx="473.2" cy="147.0" r="0.35" opacity="0.48"/>
<circle cx="446.0" cy="153.8" r="0.27" opacity="0.44"/>
<circle cx="461.6" cy="157.1" r="0.23" opacity="0.38"/>
<circle cx="477.4" cy="168.0" r="0.42" opacity="0.40"/>
<circle cx="458.7" cy="148.8" r="0.39" opacity="0.14"/>
<circle cx="508.8" cy="165.2" r="0.36" opacity="0.26"/>
<circle cx="445.0" cy="159.4" r="0.44" opacity="0.16"/>
<circle cx="446.6" cy="164.0" r="0.35" opacity="0.42"/>
<circle cx="469.8" cy="174.4" r="0.46" opacity="0.24"/>
<circle cx="479.1" cy="160.5" r="0.35" opacity="0.43"/>
<circle cx="491.6" cy="168.6" r="0.29" opacity="0.31"/>
<circle cx="479.6" cy="160.4" r="0.22" opacity="0.43"/>
<circle cx="472.5" cy="145.6" r="0.46" opacity="0.33"/>
<circle cx="494.2" cy="165.9" r="0.39" opacity="0.47"/>
<circle cx="443.4" cy="151.7" r="0.27" opacity="0.36"/>
<circle cx="455.5" cy="141.0" r="0.26" opacity="0.19"/>
<circle cx="479.3" cy="155.9" r="0.35" opacity="0.12"/>
<circle cx="478.4" cy="148.9" r="0.25" opacity="0.14"/>
<circle cx="450.4" cy="154.0" r="0.27" opacity="0.30"/>
<circle cx="451.4" cy="165.7" r="0.47" opacity="0.24"/>
<circle cx="444.5" cy="173.8" r="0.24" opacity="0.37"/>
<circle cx="495.4" cy="156.9" r="0.47" opacity="0.18"/>
<circle cx="492.7" cy="171.7" r="0.47" opacity="0.44"/>
<circle cx="471.6" cy="157.9" r="0.46" opacity="0.26"/>
<circle cx="458.2" cy="141.1" r="0.28" opacity="0.17"/>
<circle cx="508.3" cy="150.8" r="0.32" opacity="0.49"/>
<circle cx="490.5" cy="155.2" r="0.25" opacity="0.26"/>
<circle cx="460.8" cy="173.2" r="0.34" opacity="0.49"/>
<circle cx="459.3" cy="141.7" r="0.47" opacity="0.15"/>
<circle cx="497.8" cy="160.8" r="0.30" opacity="0.44"/>
<circle cx="471.1" cy="174.4" r="0.38" opacity="0.48"/>
<circle cx="508.3" cy="153.2" r="0.41" opacity="0.40"/>
<circle cx="487.9" cy="140.8" r="0.41" opacity="0.41"/>
<circle cx="453.6" cy="143.3" r="0.24" opacity="0.33"/>
<circle cx="447.1" cy="169.7" r="0.34" opacity="0.50"/>
<circle cx="493.7" cy="155.0" r="0.27" opacity="0.28"/>
<circle cx="484.3" cy="170.1" r="0.47" opacity="0.24"/>
<circle cx="440.9" cy="163.3" r="0.41" opacity="0.37"/>
<circle cx="498.9" cy="168.4" r="0.40" opacity="0.43"/>
<circle cx="448.5" cy="173.1" r="0.41" opacity="0.16"/>
<circle cx="451.7" cy="162.4" r="0.31" opacity="0.48"/>
<circle cx="459.9" cy="157.0" r="0.36" opacity="0.48"/>
<circle cx="461.8" cy="171.2" r="0.42" opacity="0.34"/>
<circle cx="509.5" cy="170.9" r="0.43" opacity="0.33"/>
<circle cx="442.5" cy="147.7" r="0.40" opacity="0.16"/>
<circle cx="487.0" cy="152.1" r="0.33" opacity="0.43"/>
<circle cx="501.7" cy="166.2" r="0.35" opacity="0.32"/>
<circle cx="512.4" cy="172.4" r="0.39" opacity="0.15"/>
<circle cx="506.2" cy="141.6" r="0.25" opacity="0.37"/>
<circle cx="453.8" cy="166.4" r="0.41" opacity="0.18"/>
<circle cx="506.7" cy="174.9" r="0.40" opacity="0.49"/>
<circle cx="498.7" cy="156.6" r="0.45" opacity="0.48"/>
<circle cx="490.9" cy="142.9" r="0.32" opacity="0.39"/>
<circle cx="466.4" cy="145.8" r="0.35" opacity="0.17"/>
<circle cx="474.4" cy="143.5" r="0.42" opacity="0.20"/>
<circle cx="508.7" cy="143.8" r="0.40" opacity="0.36"/>
<circle cx="454.0" cy="162.0" r="0.37" opacity="0.35"/>
<circle cx="453.0" cy="156.7" r="0.45" opacity="0.35"/>
<circle cx="457.3" cy="151.7" r="0.47" opacity="0.14"/>
<circle cx="474.7" cy="158.0" r="0.34" opacity="0.12"/>
<circle cx="447.1" cy="169.5" r="0.35" opacity="0.23"/>
<circle cx="472.7" cy="141.8" r="0.24" opacity="0.43"/>
<circle cx="495.6" cy="146.9" r="0.31" opacity="0.15"/>
<circle cx="462.8" cy="158.2" r="0.43" opacity="0.31"/>
<circle cx="502.2" cy="174.9" r="0.38" opacity="0.14"/>
<circle cx="449.2" cy="163.5" r="0.26" opacity="0.46"/>
<circle cx="443.2" cy="141.9" r="0.50" opacity="0.27"/>
<circle cx="480.4" cy="160.9" r="0.25" opacity="0.25"/>
<circle cx="466.6" cy="165.8" r="0.44" opacity="0.38"/>
<circle cx="452.6" cy="156.2" r="0.48" opacity="0.19"/>
<circle cx="465.1" cy="161.6" r="0.50" opacity="0.13"/>
<circle cx="490.6" cy="156.1" r="0.37" opacity="0.44"/>
<circle cx="446.3" cy="160.9" r="0.31" opacity="0.41"/>
<circle cx="492.3" cy="154.6" r="0.26" opacity="0.41"/>
<circle cx="491.3" cy="159.7" r="0.43" opacity="0.48"/>
<circle cx="457.4" cy="164.1" r="0.45" opacity="0.22"/>
<circle cx="506.3" cy="151.0" r="0.49" opacity="0.34"/>
<circle cx="511.5" cy="171.0" r="0.44" opacity="0.26"/>
<circle cx="473.2" cy="160.6" r="0.45" opacity="0.28"/>
<circle cx="506.0" cy="147.6" r="0.37" opacity="0.18"/>
<circle cx="451.9" cy="150.2" r="0.23" opacity="0.34"/>
<circle cx="485.3" cy="153.9" r="0.44" opacity="0.33"/>
<circle cx="490.0" cy="143.0" r="0.31" opacity="0.13"/>
<circle cx="451.1" cy="169.7" r="0.26" opacity="0.35"/>
<circle cx="467.3" cy="163.5" r="0.46" opacity="0.44"/>
<circle cx="510.9" cy="173.8" r="0.33" opacity="0.50"/>
<circle cx="495.9" cy="149.7" r="0.31" opacity="0.32"/>
<circle cx="502.0" cy="143.5" r="0.47" opacity="0.37"/>
<circle cx="483.3" cy="154.2" r="0.33" opacity="0.27"/>
<circle cx="492.4" cy="155.5" r="0.42" opacity="0.45"/>
<circle cx="445.7" cy="140.7" r="0.48" opacity="0.19"/>
<circle cx="499.7" cy="154.2" r="0.28" opacity="0.12"/>
<circle cx="471.0" cy="161.0" r="0.24" opacity="0.12"/>
<circle cx="460.5" cy="170.8" r="0.43" opacity="0.22"/>
<circle cx="469.2" cy="154.6" r="0.42" opacity="0.23"/>
<circle cx="465.6" cy="157.6" r="0.29" opacity="0.28"/>
<circle cx="494.8" cy="157.7" r="0.24" opacity="0.25"/>
<circle cx="481.6" cy="148.1" r="0.33" opacity="0.33"/>
<circle cx="466.3" cy="146.4" r="0.46" opacity="0.14"/>
<circle cx="506.5" cy="143.3" r="0.38" opacity="0.33"/>
<circle cx="469.6" cy="161.9" r="0.47" opacity="0.24"/>
<circle cx="443.7" cy="147.0" r="0.47" opacity="0.35"/>
<circle cx="495.2" cy="153.6" r="0.31" opacity="0.38"/>
<circle cx="481.4" cy="172.0" r="0.26" opacity="0.25"/>
<circle cx="490.6" cy="171.7" r="0.35" opacity="0.42"/>
<circle cx="447.3" cy="162.4" r="0.31" opacity="0.38"/>
<circle cx="461.3" cy="146.5" r="0.30" opacity="0.39"/>
<circle cx="492.1" cy="171.9" r="0.34" opacity="0.14"/>
<circle cx="499.3" cy="149.0" r="0.42" opacity="0.31"/>
<circle cx="472.2" cy="141.1" r="0.28" opacity="0.40"/>
<circle cx="473.4" cy="170.9" r="0.45" opacity="0.32"/>
<circle cx="512.2" cy="140.1" r="0.33" opacity="0.32"/>
<circle cx="443.2" cy="170.5" r="0.26" opacity="0.34"/>
<circle cx="459.3" cy="153.4" r="0.35" opacity="0.23"/>
<circle cx="451.9" cy="163.4" r="0.40" opacity="0.15"/>
<circle cx="511.5" cy="143.7" r="0.28" opacity="0.23"/>
<circle cx="466.3" cy="157.2" r="0.47" opacity="0.16"/>
<circle cx="481.9" cy="161.8" r="0.29" opacity="0.25"/>
<circle cx="472.3" cy="171.0" r="0.44" opacity="0.30"/>
<circle cx="444.3" cy="152.5" r="0.45" opacity="0.29"/>
<circle cx="468.2" cy="162.4" r="0.23" opacity="0.37"/>
<circle cx="490.1" cy="143.9" r="0.34" opacity="0.45"/>
<circle cx="458.7" cy="158.6" r="0.32" opacity="0.33"/>
<circle cx="468.2" cy="152.0" r="0.48" opacity="0.38"/>
<circle cx="513.4" cy="151.7" r="0.35" opacity="0.26"/>
<circle cx="503.6" cy="152.9" r="0.41" opacity="0.19"/>
<circle cx="479.5" cy="149.4" r="0.48" opacity="0.26"/>
<circle cx="510.0" cy="159.8" r="0.32" opacity="0.33"/>
<circle cx="508.4" cy="164.3" r="0.45" opacity="0.34"/>
<circle cx="485.1" cy="144.9" r="0.45" opacity="0.36"/>
<circle cx="487.4" cy="150.6" r="0.43" opacity="0.32"/>
<circle cx="463.0" cy="174.7" r="0.44" opacity="0.38"/>
<circle cx="501.6" cy="164.4" r="0.33" opacity="0.48"/>
<circle cx="506.5" cy="163.5" r="0.34" opacity="0.31"/>
<circle cx="442.6" cy="171.1" r="0.45" opacity="0.35"/>
<circle cx="473.8" cy="168.1" r="0.23" opacity="0.27"/>
<circle cx="457.8" cy="161.3" r="0.32" opacity="0.35"/>
<circle cx="505.9" cy="154.4" r="0.25" opacity="0.12"/>
<circle cx="501.3" cy="156.4" r="0.34" opacity="0.13"/>
<circle cx="446.9" cy="140.0" r="0.47" opacity="0.14"/>
<circle cx="463.1" cy="156.6" r="0.38" opacity="0.20"/>
<circle cx="487.2" cy="162.4" r="0.50" opacity="0.16"/>
<circle cx="461.2" cy="143.6" r="0.30" opacity="0.20"/>
<circle cx="441.5" cy="168.3" r="0.30" opacity="0.40"/>
<circle cx="499.7" cy="167.9" r="0.23" opacity="0.34"/>
<circle cx="502.4" cy="162.1" r="0.39" opacity="0.28"/>
<circle cx="500.3" cy="158.7" r="0.32" opacity="0.31"/>
<circle cx="474.2" cy="146.6" r="0.41" opacity="0.44"/>
<circle cx="487.8" cy="140.4" r="0.33" opacity="0.41"/>
<circle cx="448.9" cy="157.7" r="0.41" opacity="0.32"/>
<circle cx="463.8" cy="140.6" r="0.42" opacity="0.18"/>
<circle cx="483.9" cy="158.4" r="0.42" opacity="0.16"/>
<circle cx="511.6" cy="166.2" r="0.46" opacity="0.19"/>
<circle cx="492.7" cy="153.2" r="0.42" opacity="0.39"/>
<circle cx="469.6" cy="173.2" r="0.34" opacity="0.30"/>
<circle cx="492.3" cy="145.3" r="0.47" opacity="0.25"/>
<circle cx="505.1" cy="145.1" r="0.25" opacity="0.34"/>
<circle cx="457.1" cy="155.4" r="0.28" opacity="0.40"/>
<circle cx="494.0" cy="164.0" r="0.26" opacity="0.14"/>
<circle cx="482.5" cy="142.9" r="0.42" opacity="0.33"/>
<circle cx="508.5" cy="168.6" r="0.40" opacity="0.43"/>
<circle cx="476.9" cy="150.2" r="0.24" opacity="0.39"/>
<circle cx="488.7" cy="162.1" r="0.36" opacity="0.29"/>
<circle cx="507.5" cy="153.2" r="0.26" opacity="0.48"/>
<circle cx="495.8" cy="171.4" r="0.50" opacity="0.29"/>
<circle cx="450.7" cy="157.2" r="0.36" opacity="0.27"/>
<circle cx="497.6" cy="148.8" r="0.49" opacity="0.20"/>
<circle cx="460.3" cy="169.0" r="0.29" opacity="0.40"/>
<circle cx="459.5" cy="154.3" r="0.35" opacity="0.21"/>
<circle cx="500.4" cy="172.9" r="0.48" opacity="0.18"/>
<circle cx="441.1" cy="155.4" r="0.43" opacity="0.33"/>
<circle cx="510.6" cy="174.6" r="0.41" opacity="0.22"/>
<circle cx="469.0" cy="142.3" r="0.33" opacity="0.41"/>
<circle cx="462.7" cy="146.5" r="0.37" opacity="0.46"/>
<circle cx="487.2" cy="143.9" r="0.34" opacity="0.21"/>
<circle cx="499.5" cy="154.6" r="0.34" opacity="0.45"/>
<circle cx="461.3" cy="155.7" r="0.49" opacity="0.24"/>
<circle cx="479.3" cy="162.7" r="0.31" opacity="0.36"/>
<circle cx="470.5" cy="169.1" r="0.38" opacity="0.40"/>
<circle cx="481.8" cy="164.4" r="0.33" opacity="0.18"/>
<circle cx="466.2" cy="151.4" r="0.22" opacity="0.41"/>
<circle cx="478.2" cy="156.8" r="0.42" opacity="0.15"/>
<circle cx="448.5" cy="165.1" r="0.23" opacity="0.45"/>
<circle cx="476.9" cy="173.8" r="0.46" opacity="0.28"/>
<circle cx="464.7" cy="155.2" r="0.44" opacity="0.30"/>
<circle cx="492.7" cy="174.7" r="0.43" opacity="0.32"/>
<circle cx="494.3" cy="157.3" r="0.38" opacity="0.28"/>
<circle cx="508.7" cy="174.6" r="0.38" opacity="0.33"/>
<circle cx="446.9" cy="159.8" r="0.48" opacity="0.21"/>
<circle cx="496.8" cy="148.9" r="0.42" opacity="0.23"/>
<circle cx="483.4" cy="167.1" r="0.23" opacity="0.44"/>
<circle cx="478.1" cy="148.5" r="0.31" opacity="0.33"/>
<circle cx="494.3" cy="146.2" r="0.24" opacity="0.21"/>
<circle cx="486.3" cy="154.1" r="0.43" opacity="0.40"/>
<circle cx="466.5" cy="160.6" r="0.26" opacity="0.35"/>
<circle cx="487.3" cy="148.3" r="0.41" opacity="0.17"/>
<circle cx="511.4" cy="159.2" r="0.48" opacity="0.37"/>
<circle cx="455.1" cy="165.6" r="0.39" opacity="0.26"/>
<circle cx="490.7" cy="166.6" r="0.41" opacity="0.20"/>
<circle cx="510.9" cy="171.8" r="0.34" opacity="0.47"/>
<circle cx="513.0" cy="152.1" r="0.27" opacity="0.21"/>
<circle cx="475.6" cy="145.1" r="0.29" opacity="0.40"/>
<circle cx="440.6" cy="161.4" r="0.33" opacity="0.39"/>
<circle cx="458.4" cy="156.7" r="0.28" opacity="0.13"/>
<circle cx="503.4" cy="152.8" r="0.30" opacity="0.48"/>
<circle cx="466.7" cy="158.9" r="0.26" opacity="0.28"/>
<circle cx="504.2" cy="168.9" r="0.45" opacity="0.47"/>
<circle cx="456.3" cy="141.8" r="0.26" opacity="0.37"/>
<circle cx="479.7" cy="152.9" r="0.42" opacity="0.20"/>
<circle cx="484.4" cy="154.6" r="0.26" opacity="0.41"/>
<circle cx="452.9" cy="168.0" r="0.43" opacity="0.29"/>
<circle cx="472.9" cy="147.2" r="0.26" opacity="0.38"/>
<circle cx="466.7" cy="159.7" r="0.32" opacity="0.22"/>
<circle cx="451.3" cy="166.7" r="0.34" opacity="0.18"/>
<circle cx="504.1" cy="145.4" r="0.28" opacity="0.18"/>
<circle cx="480.8" cy="167.2" r="0.23" opacity="0.47"/>
<circle cx="491.4" cy="169.1" r="0.34" opacity="0.29"/>
<circle cx="446.2" cy="149.2" r="0.46" opacity="0.23"/>
<circle cx="506.1" cy="169.2" r="0.48" opacity="0.17"/>
<circle cx="470.6" cy="169.2" r="0.31" opacity="0.21"/>
<circle cx="440.7" cy="158.7" r="0.37" opacity="0.20"/>
<circle cx="458.4" cy="162.2" r="0.27" opacity="0.42"/>
<circle cx="504.0" cy="154.7" r="0.26" opacity="0.34"/>
<circle cx="461.1" cy="143.7" r="0.42" opacity="0.33"/>
<circle cx="459.4" cy="148.7" r="0.42" opacity="0.47"/>
<circle cx="465.3" cy="160.5" r="0.28" opacity="0.30"/>
<circle cx="482.3" cy="150.7" r="0.39" opacity="0.33"/>
<circle cx="442.4" cy="144.2" r="0.34" opacity="0.18"/>
<circle cx="479.8" cy="160.8" r="0.40" opacity="0.46"/>
<circle cx="484.4" cy="167.0" r="0.25" opacity="0.45"/>
<circle cx="508.3" cy="160.7" r="0.45" opacity="0.33"/>
<circle cx="471.5" cy="145.6" r="0.35" opacity="0.39"/>
<circle cx="498.2" cy="171.3" r="0.37" opacity="0.48"/>
<circle cx="466.8" cy="140.7" r="0.34" opacity="0.33"/>
<circle cx="496.6" cy="148.2" r="0.23" opacity="0.39"/>
<circle cx="453.4" cy="169.8" r="0.38" opacity="0.17"/>
<circle cx="477.9" cy="167.0" r="0.28" opacity="0.48"/>
<circle cx="443.4" cy="145.2" r="0.39" opacity="0.38"/>
<circle cx="483.9" cy="172.3" r="0.28" opacity="0.14"/>
<circle cx="479.1" cy="152.3" r="0.33" opacity="0.27"/>
<circle cx="504.8" cy="150.0" r="0.41" opacity="0.34"/>
<circle cx="460.3" cy="171.9" r="0.29" opacity="0.23"/>
<circle cx="453.5" cy="164.5" r="0.41" opacity="0.26"/>
<circle cx="447.9" cy="160.8" r="0.31" opacity="0.33"/>
<circle cx="487.9" cy="140.0" r="0.23" opacity="0.43"/>
<circle cx="503.7" cy="143.1" r="0.28" opacity="0.28"/>
<circle cx="501.1" cy="150.8" r="0.49" opacity="0.15"/>
<circle cx="506.5" cy="142.0" r="0.39" opacity="0.49"/>
<circle cx="492.8" cy="172.0" r="0.32" opacity="0.48"/>
<circle cx="506.3" cy="149.6" r="0.44" opacity="0.47"/>
<circle cx="455.1" cy="153.7" r="0.44" opacity="0.34"/>
<circle cx="507.4" cy="155.2" r="0.35" opacity="0.18"/>
<circle cx="459.6" cy="170.6" r="0.29" opacity="0.46"/>
<circle cx="498.9" cy="160.0" r="0.30" opacity="0.12"/>
<circle cx="448.0" cy="169.0" r="0.49" opacity="0.49"/>
<circle cx="460.0" cy="172.8" r="0.34" opacity="0.26"/>
<circle cx="506.7" cy="168.7" r="0.41" opacity="0.23"/>
<circle cx="447.2" cy="146.4" r="0.29" opacity="0.19"/>
<circle cx="481.6" cy="151.0" r="0.28" opacity="0.45"/>
<circle cx="466.6" cy="140.1" r="0.22" opacity="0.33"/>
<circle cx="441.4" cy="159.5" r="0.23" opacity="0.30"/>
<circle cx="485.2" cy="158.9" r="0.28" opacity="0.44"/>
<circle cx="511.5" cy="168.5" r="0.48" opacity="0.49"/>
<circle cx="466.5" cy="159.0" r="0.34" opacity="0.42"/>
<circle cx="451.7" cy="147.9" r="0.35" opacity="0.33"/>
<circle cx="512.8" cy="151.8" r="0.22" opacity="0.27"/>
<circle cx="504.3" cy="143.4" r="0.37" opacity="0.35"/>
<circle cx="501.5" cy="151.5" r="0.39" opacity="0.48"/>
<circle cx="511.4" cy="159.8" r="0.31" opacity="0.37"/>
<circle cx="493.5" cy="163.8" r="0.41" opacity="0.27"/>
<circle cx="492.4" cy="152.3" r="0.29" opacity="0.16"/>
<circle cx="480.3" cy="146.0" r="0.30" opacity="0.23"/>
<circle cx="466.8" cy="154.6" r="0.49" opacity="0.32"/>
<circle cx="480.0" cy="154.0" r="0.37" opacity="0.43"/>
<circle cx="478.0" cy="157.9" r="0.32" opacity="0.19"/>
<circle cx="455.0" cy="143.1" r="0.30" opacity="0.14"/>
<circle cx="470.1" cy="160.1" r="0.25" opacity="0.41"/>
<circle cx="472.8" cy="161.8" r="0.34" opacity="0.42"/>
<circle cx="489.7" cy="144.2" r="0.37" opacity="0.22"/>
<circle cx="494.7" cy="153.0" r="0.28" opacity="0.13"/>
<circle cx="512.5" cy="144.2" r="0.29" opacity="0.47"/>
<circle cx="443.0" cy="154.4" r="0.34" opacity="0.38"/>
<circle cx="497.3" cy="174.1" r="0.31" opacity="0.15"/>
<circle cx="455.2" cy="140.2" r="0.30" opacity="0.36"/>
<circle cx="505.6" cy="143.5" r="0.30" opacity="0.46"/>
<circle cx="482.8" cy="154.0" r="0.24" opacity="0.14"/>
<circle cx="455.3" cy="161.6" r="0.24" opacity="0.31"/>
<circle cx="500.0" cy="140.1" r="0.30" opacity="0.28"/>
<circle cx="484.5" cy="165.8" r="0.41" opacity="0.28"/>
<circle cx="464.3" cy="161.9" r="0.35" opacity="0.47"/>
<circle cx="478.5" cy="160.5" r="0.41" opacity="0.30"/>
<circle cx="475.8" cy="163.2" r="0.39" opacity="0.50"/>
<circle cx="461.9" cy="157.3" r="0.49" opacity="0.43"/>
<circle cx="480.4" cy="150.7" r="0.27" opacity="0.28"/>
<circle cx="470.9" cy="155.1" r="0.29" opacity="0.30"/>
<circle cx="481.8" cy="143.6" r="0.40" opacity="0.39"/>
<circle cx="453.7" cy="148.7" r="0.23" opacity="0.30"/>
<circle cx="489.4" cy="154.4" r="0.38" opacity="0.35"/>
<circle cx="442.5" cy="141.9" r="0.36" opacity="0.47"/>
<circle cx="491.7" cy="155.6" r="0.29" opacity="0.17"/>
<circle cx="487.2" cy="166.8" r="0.33" opacity="0.15"/>
<circle cx="459.8" cy="164.8" r="0.44" opacity="0.27"/>
<circle cx="505.1" cy="153.6" r="0.23" opacity="0.20"/>
<circle cx="505.3" cy="164.7" r="0.24" opacity="0.23"/>
<circle cx="468.5" cy="156.8" r="0.23" opacity="0.47"/>
<circle cx="478.7" cy="149.2" r="0.23" opacity="0.34"/>
<circle cx="508.5" cy="165.2" r="0.46" opacity="0.45"/>
<circle cx="488.6" cy="142.0" r="0.31" opacity="0.34"/>
<circle cx="470.1" cy="147.6" r="0.24" opacity="0.45"/>
<circle cx="488.8" cy="150.5" r="0.35" opacity="0.45"/>
<circle cx="449.9" cy="162.0" r="0.29" opacity="0.46"/>
<circle cx="498.7" cy="173.2" r="0.33" opacity="0.31"/>
<circle cx="463.1" cy="152.3" r="0.49" opacity="0.49"/>
<circle cx="513.1" cy="171.8" r="0.36" opacity="0.37"/>
<circle cx="506.7" cy="155.1" r="0.48" opacity="0.42"/>
<circle cx="460.3" cy="152.6" r="0.41" opacity="0.18"/>
<circle cx="458.2" cy="146.8" r="0.25" opacity="0.47"/>
<circle cx="513.3" cy="168.7" r="0.36" opacity="0.40"/>
<circle cx="490.2" cy="155.4" r="0.37" opacity="0.17"/>
<circle cx="457.2" cy="152.0" r="0.32" opacity="0.37"/>
<circle cx="457.2" cy="148.3" r="0.46" opacity="0.42"/>
<circle cx="508.5" cy="167.3" r="0.27" opacity="0.31"/>
<circle cx="501.2" cy="168.2" r="0.28" opacity="0.30"/>
<circle cx="483.0" cy="140.4" r="0.29" opacity="0.40"/>
<circle cx="488.7" cy="155.6" r="0.38" opacity="0.32"/>
<circle cx="464.9" cy="143.0" r="0.43" opacity="0.41"/>
<circle cx="471.5" cy="166.9" r="0.45" opacity="0.38"/>
<circle cx="499.2" cy="173.8" r="0.23" opacity="0.48"/>
<circle cx="472.8" cy="167.2" r="0.43" opacity="0.16"/>
<circle cx="482.8" cy="143.1" r="0.42" opacity="0.25"/>
<circle cx="467.2" cy="149.6" r="0.45" opacity="0.36"/>
<circle cx="461.4" cy="165.9" r="0.27" opacity="0.42"/>
<circle cx="484.1" cy="166.8" r="0.39" opacity="0.49"/>
<circle cx="490.8" cy="156.2" r="0.39" opacity="0.34"/>
<circle cx="460.4" cy="150.7" r="0.44" opacity="0.43"/>
<circle cx="510.9" cy="164.0" r="0.36" opacity="0.27"/>
<circle cx="491.6" cy="162.7" r="0.48" opacity="0.40"/>
<circle cx="467.7" cy="149.7" r="0.23" opacity="0.42"/>
<circle cx="471.0" cy="153.8" r="0.23" opacity="0.31"/>
<circle cx="505.9" cy="149.7" r="0.43" opacity="0.41"/>
<circle cx="488.3" cy="160.9" r="0.29" opacity="0.38"/>
<circle cx="482.6" cy="173.8" r="0.36" opacity="0.25"/>
<circle cx="506.5" cy="161.9" r="0.32" opacity="0.37"/>
<circle cx="450.5" cy="146.6" r="0.47" opacity="0.30"/>
<circle cx="498.8" cy="147.5" r="0.35" opacity="0.21"/>
<circle cx="498.8" cy="160.9" r="0.33" opacity="0.27"/>
<circle cx="454.9" cy="147.4" r="0.41" opacity="0.24"/>
<circle cx="447.0" cy="153.5" r="0.35" opacity="0.50"/>
<circle cx="467.8" cy="154.1" r="0.49" opacity="0.39"/>
<circle cx="473.3" cy="153.9" r="0.28" opacity="0.18"/>
<circle cx="474.3" cy="162.4" r="0.25" opacity="0.30"/>
<circle cx="452.1" cy="161.1" r="0.32" opacity="0.37"/>
<circle cx="497.4" cy="154.2" r="0.33" opacity="0.15"/>
<circle cx="454.9" cy="161.8" r="0.45" opacity="0.17"/>
<circle cx="511.7" cy="172.0" r="0.32" opacity="0.32"/>
<circle cx="489.2" cy="151.5" r="0.32" opacity="0.39"/>
<circle cx="475.2" cy="155.3" r="0.38" opacity="0.16"/>
<circle cx="474.2" cy="150.3" r="0.27" opacity="0.32"/>
<circle cx="491.4" cy="158.4" r="0.36" opacity="0.37"/>
<circle cx="470.5" cy="174.4" r="0.28" opacity="0.12"/>
<circle cx="481.4" cy="164.3" r="0.33" opacity="0.27"/>
<circle cx="464.7" cy="148.5" r="0.44" opacity="0.45"/>
<circle cx="459.9" cy="159.8" r="0.35" opacity="0.17"/>
<circle cx="493.7" cy="158.6" r="0.50" opacity="0.47"/>
<circle cx="506.3" cy="149.2" r="0.25" opacity="0.43"/>
<circle cx="447.2" cy="164.1" r="0.27" opacity="0.39"/>
<circle cx="443.2" cy="143.1" r="0.46" opacity="0.32"/>
<circle cx="472.7" cy="174.0" r="0.44" opacity="0.21"/>
<circle cx="491.7" cy="153.5" r="0.35" opacity="0.24"/>
<circle cx="456.1" cy="150.6" r="0.30" opacity="0.19"/>
<circle cx="504.1" cy="153.3" r="0.38" opacity="0.43"/>
<circle cx="489.6" cy="145.5" r="0.49" opacity="0.47"/>
<circle cx="501.6" cy="151.5" r="0.45" opacity="0.36"/>
<circle cx="441.5" cy="153.2" r="0.42" opacity="0.33"/>
<circle cx="509.6" cy="167.7" r="0.45" opacity="0.49"/>
<circle cx="464.7" cy="171.8" r="0.22" opacity="0.42"/>
<circle cx="445.7" cy="157.5" r="0.34" opacity="0.15"/>
<circle cx="486.5" cy="167.6" r="0.28" opacity="0.21"/>
<circle cx="496.5" cy="158.5" r="0.23" opacity="0.24"/>
<circle cx="509.3" cy="149.7" r="0.30" opacity="0.29"/>
<circle cx="505.1" cy="168.3" r="0.33" opacity="0.37"/>
<circle cx="441.3" cy="142.3" r="0.32" opacity="0.36"/>
<circle cx="449.6" cy="141.5" r="0.46" opacity="0.19"/>
<circle cx="443.3" cy="143.0" r="0.24" opacity="0.23"/>
<circle cx="482.2" cy="163.0" r="0.30" opacity="0.32"/>
<circle cx="463.9" cy="160.3" r="0.25" opacity="0.36"/>
<circle cx="439.2" cy="172.3" r="0.28" opacity="0.33"/>
<circle cx="453.2" cy="155.6" r="0.29" opacity="0.36"/>
<circle cx="497.1" cy="169.6" r="0.49" opacity="0.29"/>
<circle cx="480.0" cy="152.3" r="0.30" opacity="0.31"/>
<circle cx="511.5" cy="141.9" r="0.43" opacity="0.24"/>
<circle cx="483.6" cy="149.3" r="0.42" opacity="0.31"/>
<circle cx="462.2" cy="155.7" r="0.22" opacity="0.16"/>
<circle cx="506.6" cy="142.9" r="0.33" opacity="0.37"/>
<circle cx="441.9" cy="172.6" r="0.28" opacity="0.49"/>
<circle cx="471.4" cy="160.5" r="0.39" opacity="0.15"/>
<circle cx="476.8" cy="166.2" r="0.44" opacity="0.40"/>
<circle cx="489.8" cy="144.5" r="0.33" opacity="0.31"/>
<circle cx="442.2" cy="166.8" r="0.25" opacity="0.33"/>
<circle cx="459.0" cy="145.7" r="0.49" opacity="0.36"/>
<circle cx="493.6" cy="161.2" r="0.38" opacity="0.45"/>
<circle cx="443.9" cy="153.2" r="0.28" opacity="0.35"/>
<circle cx="468.5" cy="172.2" r="0.29" opacity="0.22"/>
<circle cx="507.4" cy="165.2" r="0.34" opacity="0.26"/>
<circle cx="493.7" cy="145.2" r="0.42" opacity="0.21"/>
<circle cx="499.1" cy="142.6" r="0.48" opacity="0.45"/>
<circle cx="441.0" cy="145.6" r="0.48" opacity="0.43"/>
<circle cx="460.9" cy="168.0" r="0.38" opacity="0.21"/>
<circle cx="490.3" cy="154.5" r="0.26" opacity="0.44"/>
<circle cx="492.5" cy="148.5" r="0.34" opacity="0.38"/>
<circle cx="466.8" cy="149.0" r="0.37" opacity="0.48"/>
<circle cx="446.3" cy="148.8" r="0.36" opacity="0.49"/>
<circle cx="513.0" cy="140.3" r="0.40" opacity="0.17"/>
<circle cx="454.6" cy="144.7" r="0.36" opacity="0.50"/>
<circle cx="511.0" cy="152.9" r="0.47" opacity="0.38"/>
<circle cx="444.7" cy="171.5" r="0.30" opacity="0.49"/>
<circle cx="449.0" cy="171.5" r="0.36" opacity="0.32"/>
<circle cx="452.8" cy="157.1" r="0.43" opacity="0.33"/>
<circle cx="512.0" cy="158.7" r="0.47" opacity="0.17"/>
<circle cx="493.9" cy="161.0" r="0.47" opacity="0.25"/>
<circle cx="473.6" cy="168.4" r="0.29" opacity="0.26"/>
<circle cx="502.1" cy="162.7" r="0.36" opacity="0.13"/>
<circle cx="496.0" cy="154.5" r="0.29" opacity="0.27"/>
<circle cx="449.4" cy="169.4" r="0.44" opacity="0.49"/>
<circle cx="489.3" cy="145.6" r="0.34" opacity="0.50"/>
<circle cx="439.3" cy="152.0" r="0.26" opacity="0.18"/>
<circle cx="459.6" cy="161.7" r="0.24" opacity="0.45"/>
<circle cx="471.2" cy="146.1" r="0.25" opacity="0.32"/>
<circle cx="465.1" cy="157.5" r="0.25" opacity="0.25"/>
<circle cx="476.8" cy="142.9" r="0.36" opacity="0.44"/>
<circle cx="483.0" cy="144.5" r="0.40" opacity="0.15"/>
<circle cx="449.8" cy="140.3" r="0.37" opacity="0.19"/>
<circle cx="459.9" cy="144.2" r="0.47" opacity="0.18"/>
<circle cx="489.3" cy="168.2" r="0.35" opacity="0.34"/>
<circle cx="464.0" cy="168.7" r="0.41" opacity="0.15"/>
<circle cx="491.5" cy="144.9" r="0.35" opacity="0.19"/>
<circle cx="475.2" cy="162.9" r="0.43" opacity="0.24"/>
<circle cx="443.3" cy="155.8" r="0.48" opacity="0.33"/>
<circle cx="485.2" cy="166.8" r="0.40" opacity="0.48"/>
<circle cx="510.1" cy="165.9" r="0.45" opacity="0.17"/>
<circle cx="458.9" cy="164.9" r="0.38" opacity="0.45"/>
<circle cx="496.7" cy="151.6" r="0.27" opacity="0.37"/>
<circle cx="447.4" cy="157.3" r="0.30" opacity="0.27"/>
<circle cx="487.8" cy="162.2" r="0.39" opacity="0.14"/>
<circle cx="505.6" cy="164.7" r="0.47" opacity="0.35"/>
<circle cx="487.2" cy="171.1" r="0.43" opacity="0.36"/>
<circle cx="442.2" cy="140.8" r="0.42" opacity="0.44"/>
<circle cx="467.9" cy="147.4" r="0.34" opacity="0.44"/>
<circle cx="495.3" cy="144.6" r="0.28" opacity="0.20"/>
<circle cx="494.6" cy="148.8" r="0.47" opacity="0.28"/>
<circle cx="453.5" cy="154.5" r="0.26" opacity="0.45"/>
<circle cx="440.9" cy="154.6" r="0.33" opacity="0.13"/>
<circle cx="455.7" cy="174.6" r="0.46" opacity="0.28"/>
<circle cx="504.1" cy="171.8" r="0.46" opacity="0.40"/>
<circle cx="481.3" cy="157.9" r="0.42" opacity="0.35"/>
<circle cx="511.5" cy="146.3" r="0.47" opacity="0.41"/>
<circle cx="472.1" cy="169.7" r="0.30" opacity="0.27"/>
<circle cx="482.1" cy="173.9" r="0.29" opacity="0.44"/>
<circle cx="488.0" cy="172.2" r="0.30" opacity="0.37"/>
<circle cx="505.2" cy="170.9" r="0.42" opacity="0.44"/>
<circle cx="486.3" cy="159.3" r="0.27" opacity="0.32"/>
<circle cx="511.8" cy="173.1" r="0.23" opacity="0.24"/>
<circle cx="457.0" cy="169.5" r="0.27" opacity="0.41"/>
<circle cx="453.8" cy="151.9" r="0.49" opacity="0.17"/>
<circle cx="482.4" cy="149.6" r="0.43" opacity="0.15"/>
<circle cx="489.5" cy="149.0" r="0.49" opacity="0.24"/>
<circle cx="488.9" cy="141.0" r="0.48" opacity="0.36"/>
<circle cx="507.1" cy="166.0" r="0.24" opacity="0.40"/>
<circle cx="467.5" cy="147.0" r="0.47" opacity="0.37"/>
<circle cx="465.1" cy="142.5" r="0.40" opacity="0.14"/>
<circle cx="457.0" cy="141.7" r="0.27" opacity="0.40"/>
<circle cx="459.1" cy="174.5" r="0.30" opacity="0.42"/>
<circle cx="493.9" cy="162.5" r="0.39" opacity="0.17"/>
<circle cx="500.8" cy="172.3" r="0.37" opacity="0.19"/>
<circle cx="445.6" cy="149.0" r="0.49" opacity="0.24"/>
<circle cx="460.0" cy="158.4" r="0.23" opacity="0.42"/>
<circle cx="497.1" cy="150.8" r="0.23" opacity="0.46"/>
<circle cx="499.4" cy="166.7" r="0.28" opacity="0.48"/>
<circle cx="486.8" cy="141.1" r="0.49" opacity="0.39"/>
<circle cx="452.9" cy="171.2" r="0.39" opacity="0.36"/>
<circle cx="441.3" cy="147.5" r="0.44" opacity="0.13"/>
<circle cx="507.3" cy="108.1" r="0.90" opacity="0.95"/>
<circle cx="455.3" cy="148.3" r="0.80" opacity="0.80"/>
<circle cx="470.5" cy="142.0" r="0.70" opacity="0.60"/>
<circle cx="504.5" cy="70.0" r="0.70" opacity="0.60"/>
<circle cx="450.5" cy="81.5" r="0.70" opacity="0.60"/>
</g>
<text x="434.6" y="46.5" font-size="8.9" text-anchor="end" fill="#1a1a1a" textLength="14" lengthAdjust="spacingAndGlyphs" transform="rotate(0.04 434.6 46.5)" >WT</text>
<text x="434.6" y="74.6" font-size="8.9" text-anchor="end" fill="#1a1a1a" textLength="16.6" lengthAdjust="spacingAndGlyphs" transform="rotate(0.04 434.6 74.6)" >Low</text>
<text x="434.6" y="85.4" font-size="8.9" text-anchor="end" fill="#1a1a1a" textLength="14.2" lengthAdjust="spacingAndGlyphs" transform="rotate(0.04 434.6 85.4)" >Fuc</text>
<text x="434.8" y="116.6" font-size="8.9" text-anchor="end" fill="#1a1a1a" textLength="20" lengthAdjust="spacingAndGlyphs" transform="rotate(0.04 434.8 116.6)" >High</text>
<text x="434.8" y="127.9" font-size="8.9" text-anchor="end" fill="#1a1a1a" textLength="15" lengthAdjust="spacingAndGlyphs" transform="rotate(0.04 434.8 127.9)" >Gal</text>
<text x="436.2" y="154.4" font-size="8.9" text-anchor="end" fill="#1a1a1a" textLength="35.3" lengthAdjust="spacingAndGlyphs" transform="rotate(0.04 436.2 154.4)" >Low Fuc</text>
<text x="435.5" y="165.9" font-size="8.9" text-anchor="end" fill="#1a1a1a" textLength="35.7" lengthAdjust="spacingAndGlyphs" transform="rotate(0.04 435.5 165.9)" >High Gal</text>
<text x="7.9" y="198.9" font-size="11.4" text-anchor="start" fill="#000" font-weight="bold" stroke="none" textLength="7.3" lengthAdjust="spacingAndGlyphs" transform="rotate(0.04 7.9 198.9)" >C</text>
<text x="20.3" y="198.3" font-size="8.8" text-anchor="start" fill="#1a1a1a" transform="rotate(0.04 20.3 198.3)" >i</text>
<line x1="60.9" y1="202.05" x2="60.9" y2="306.15" stroke="#111" stroke-width="1.6" stroke-linecap="butt"/>
<line x1="60.1" y1="305.4" x2="121.5" y2="305.4" stroke="#111" stroke-width="1.6" stroke-linecap="butt"/>
<line x1="57.3" y1="305.4" x2="60.9" y2="305.4" stroke="#111" stroke-width="1.2" stroke-linecap="butt"/>
<text x="55.3" y="308.29999999999995" font-size="8.1" text-anchor="end" fill="#1a1a1a" textLength="8.0" lengthAdjust="spacingAndGlyphs" transform="rotate(0.04 55.3 308.29999999999995)" >0k</text>
<line x1="57.3" y1="284.88" x2="60.9" y2="284.88" stroke="#111" stroke-width="1.2" stroke-linecap="butt"/>
<text x="55.3" y="287.78" font-size="8.1" text-anchor="end" fill="#1a1a1a" textLength="16.8" lengthAdjust="spacingAndGlyphs" transform="rotate(0.04 55.3 287.78)" >200k</text>
<line x1="57.3" y1="264.36" x2="60.9" y2="264.36" stroke="#111" stroke-width="1.2" stroke-linecap="butt"/>
<text x="55.3" y="267.26" font-size="8.1" text-anchor="end" fill="#1a1a1a" textLength="16.8" lengthAdjust="spacingAndGlyphs" transform="rotate(0.04 55.3 267.26)" >400k</text>
<line x1="57.3" y1="243.84" x2="60.9" y2="243.84" stroke="#111" stroke-width="1.2" stroke-linecap="butt"/>
<text x="55.3" y="246.74" font-size="8.1" text-anchor="end" fill="#1a1a1a" textLength="16.8" lengthAdjust="spacingAndGlyphs" transform="rotate(0.04 55.3 246.74)" >600k</text>
<line x1="57.3" y1="223.32" x2="60.9" y2="223.32" stroke="#111" stroke-width="1.2" stroke-linecap="butt"/>
<text x="55.3" y="226.22" font-size="8.1" text-anchor="end" fill="#1a1a1a" textLength="16.8" lengthAdjust="spacingAndGlyphs" transform="rotate(0.04 55.3 226.22)" >800k</text>
<line x1="57.3" y1="202.8" x2="60.9" y2="202.8" stroke="#111" stroke-width="1.2" stroke-linecap="butt"/>
<text x="55.3" y="205.70000000000002" font-size="8.1" text-anchor="end" fill="#1a1a1a" textLength="21.2" lengthAdjust="spacingAndGlyphs" transform="rotate(0.04 55.3 205.70000000000002)" >1000k</text>
<text x="31.6" y="254.0" font-size="9" text-anchor="middle" fill="#1a1a1a" textLength="74.5" lengthAdjust="spacingAndGlyphs" transform="rotate(-90 31.6 254.0)" >Thrombus volume (µm³)</text>
<rect x="65.40" y="259.20" width="9.10" height="45.70" fill="#c60019"/>
<line x1="69.95" y1="259.2" x2="69.95" y2="247.3" stroke="#c8081e" stroke-width="1.2" stroke-linecap="butt"/>
<line x1="67.65" y1="247.75" x2="72.25" y2="247.75" stroke="#c8081e" stroke-width="1.1" stroke-linecap="butt"/>
<line x1="69.95" y1="305.4" x2="69.95" y2="308.9" stroke="#111" stroke-width="1.2" stroke-linecap="butt"/>
<line x1="67.75" y1="314.2" x2="72.15" y2="314.2" stroke="#151515" stroke-width="0.85" stroke-linecap="butt"/>
<line x1="69.95" y1="312.0" x2="69.95" y2="316.4" stroke="#151515" stroke-width="0.85" stroke-linecap="butt"/>
<rect x="79.20" y="248.80" width="9.30" height="56.10" fill="#c60019"/>
<line x1="83.85" y1="248.8" x2="83.85" y2="231.2" stroke="#c8081e" stroke-width="1.2" stroke-linecap="butt"/>
<line x1="81.55" y1="231.64999999999998" x2="86.14999999999999" y2="231.64999999999998" stroke="#c8081e" stroke-width="1.1" stroke-linecap="butt"/>
<line x1="83.85" y1="305.4" x2="83.85" y2="308.9" stroke="#111" stroke-width="1.2" stroke-linecap="butt"/>
<line x1="81.64999999999999" y1="314.2" x2="86.05" y2="314.2" stroke="#151515" stroke-width="0.85" stroke-linecap="butt"/>
<line x1="83.85" y1="312.0" x2="83.85" y2="316.4" stroke="#151515" stroke-width="0.85" stroke-linecap="butt"/>
<rect x="93.20" y="248.80" width="9.20" height="56.10" fill="#c60019"/>
<line x1="97.80000000000001" y1="248.8" x2="97.80000000000001" y2="233.1" stroke="#c8081e" stroke-width="1.2" stroke-linecap="butt"/>
<line x1="95.50000000000001" y1="233.54999999999998" x2="100.10000000000001" y2="233.54999999999998" stroke="#c8081e" stroke-width="1.1" stroke-linecap="butt"/>
<line x1="97.80000000000001" y1="305.4" x2="97.80000000000001" y2="308.9" stroke="#111" stroke-width="1.2" stroke-linecap="butt"/>
<line x1="95.60000000000001" y1="314.2" x2="100.00000000000001" y2="314.2" stroke="#151515" stroke-width="0.85" stroke-linecap="butt"/>
<line x1="97.80000000000001" y1="312.0" x2="97.80000000000001" y2="316.4" stroke="#151515" stroke-width="0.85" stroke-linecap="butt"/>
<rect x="107.20" y="233.10" width="9.40" height="71.80" fill="#c60019"/>
<line x1="111.9" y1="233.1" x2="111.9" y2="212.4" stroke="#c8081e" stroke-width="1.2" stroke-linecap="butt"/>
<line x1="109.60000000000001" y1="212.85" x2="114.2" y2="212.85" stroke="#c8081e" stroke-width="1.1" stroke-linecap="butt"/>
<line x1="111.9" y1="305.4" x2="111.9" y2="308.9" stroke="#111" stroke-width="1.2" stroke-linecap="butt"/>
<line x1="109.7" y1="314.2" x2="114.10000000000001" y2="314.2" stroke="#151515" stroke-width="0.85" stroke-linecap="butt"/>
<line x1="111.9" y1="312.0" x2="111.9" y2="316.4" stroke="#151515" stroke-width="0.85" stroke-linecap="butt"/>
<text x="83.7" y="227.6" font-size="7.4" text-anchor="middle" fill="#1a1a1a" transform="rotate(0.04 83.7 227.6)" >n.s</text>
<text x="97.5" y="230.0" font-size="7.4" text-anchor="middle" fill="#1a1a1a" transform="rotate(0.04 97.5 230.0)" >n.s</text>
<path d="M109.90 204.50L109.90 203.15M109.90 204.50L111.18 204.08M109.90 204.50L110.69 205.59M109.90 204.50L109.11 205.59M109.90 204.50L108.62 204.08" stroke="#111" stroke-width="0.75" fill="none" stroke-linecap="round"/>
<path d="M113.50 204.50L113.50 203.15M113.50 204.50L114.78 204.08M113.50 204.50L114.29 205.59M113.50 204.50L112.71 205.59M113.50 204.50L112.22 204.08" stroke="#111" stroke-width="0.75" fill="none" stroke-linecap="round"/>
<text x="28.5" y="316.8" font-size="7.9" text-anchor="start" fill="#1a1a1a" textLength="19.2" lengthAdjust="spacingAndGlyphs" transform="rotate(0.04 28.5 316.8)" >Spike</text>
<text x="73.05" y="324.6" font-size="7.9" text-anchor="end" fill="#1a1a1a" transform="rotate(-45 73.05 324.6)" >WT</text>
<text x="86.95" y="324.6" font-size="7.9" text-anchor="end" fill="#1a1a1a" transform="rotate(-45 86.95 324.6)" >Low Fuc</text>
<text x="100.9" y="324.6" font-size="7.9" text-anchor="end" fill="#1a1a1a" transform="rotate(-45 100.9 324.6)" >High Gal</text>
<text x="115.0" y="324.6" font-size="7.9" text-anchor="end" fill="#1a1a1a" transform="rotate(-45 115.0 324.6)" >Low Fuc High Gal</text>
<text x="161.2" y="198.2" font-size="8.8" text-anchor="start" fill="#1a1a1a" transform="rotate(0.04 161.2 198.2)" >ii</text>
<text x="179.0" y="234.2" font-size="8.7" text-anchor="middle" fill="#1a1a1a" textLength="14.4" lengthAdjust="spacingAndGlyphs" transform="rotate(0.04 179.0 234.2)" >WT</text>
<text x="219.6" y="224.0" font-size="8.7" text-anchor="middle" fill="#1a1a1a" textLength="17.6" lengthAdjust="spacingAndGlyphs" transform="rotate(0.04 219.6 224.0)" >Low</text>
<text x="219.8" y="235.2" font-size="8.7" text-anchor="middle" fill="#1a1a1a" textLength="15.2" lengthAdjust="spacingAndGlyphs" transform="rotate(0.04 219.8 235.2)" >Fuc</text>
<text x="259.3" y="224.0" font-size="8.7" text-anchor="middle" fill="#1a1a1a" textLength="20.2" lengthAdjust="spacingAndGlyphs" transform="rotate(0.04 259.3 224.0)" >High</text>
<text x="259.3" y="235.2" font-size="8.7" text-anchor="middle" fill="#1a1a1a" textLength="14.4" lengthAdjust="spacingAndGlyphs" transform="rotate(0.04 259.3 235.2)" >Gal</text>
<text x="300.6" y="224.0" font-size="8.7" text-anchor="middle" fill="#1a1a1a" textLength="33.7" lengthAdjust="spacingAndGlyphs" transform="rotate(0.04 300.6 224.0)" >LowFuc</text>
<text x="299.9" y="235.2" font-size="8.7" text-anchor="middle" fill="#1a1a1a" textLength="35.2" lengthAdjust="spacingAndGlyphs" transform="rotate(0.04 299.9 235.2)" >HighGal</text>
<text x="153.5" y="280.1" font-size="9.3" text-anchor="middle" fill="#1a1a1a" textLength="53.6" lengthAdjust="spacingAndGlyphs" transform="rotate(-90 153.5 280.1)" >Spike + vWF</text>
<g fill="#22e020">
<rect x="158.20" y="239.60" width="39.60" height="80.40" fill="#000"/>
<clipPath id="c158"><rect x="158.2" y="239.6" width="39.60000000000002" height="80.4"/></clipPath><g clip-path="url(#c158)">
<ellipse cx="165.9" cy="245.2" rx="0.76" ry="0.54" opacity="0.12"/>
<ellipse cx="189.3" cy="275.9" rx="0.88" ry="0.63" opacity="0.82"/>
<ellipse cx="196.7" cy="255.0" rx="0.63" ry="0.45" opacity="0.65"/>
<ellipse cx="171.4" cy="315.0" rx="0.62" ry="0.44" opacity="0.45"/>
<ellipse cx="168.3" cy="297.7" rx="0.59" ry="0.42" opacity="0.27"/>
<ellipse cx="186.8" cy="306.2" rx="0.50" ry="0.36" opacity="0.13"/>
<ellipse cx="166.6" cy="301.3" rx="0.82" ry="0.58" opacity="0.55"/>
<ellipse cx="190.2" cy="258.4" rx="0.71" ry="0.51" opacity="0.10"/>
<ellipse cx="172.1" cy="287.9" rx="0.57" ry="0.41" opacity="0.65"/>
<ellipse cx="166.6" cy="275.1" rx="0.82" ry="0.59" opacity="0.15"/>
<ellipse cx="184.5" cy="271.8" rx="0.45" ry="0.32" opacity="0.11"/>
<ellipse cx="184.0" cy="305.7" rx="0.82" ry="0.59" opacity="0.74"/>
<ellipse cx="184.6" cy="302.2" rx="0.91" ry="0.65" opacity="0.42"/>
<ellipse cx="179.2" cy="252.6" rx="0.56" ry="0.40" opacity="0.11"/>
<ellipse cx="162.6" cy="271.1" rx="0.59" ry="0.42" opacity="0.39"/>
<ellipse cx="191.0" cy="261.2" rx="0.95" ry="0.68" opacity="0.70"/>
<ellipse cx="165.8" cy="287.0" rx="0.54" ry="0.38" opacity="0.10"/>
<ellipse cx="166.9" cy="256.0" rx="0.42" ry="0.30" opacity="0.10"/>
<ellipse cx="190.2" cy="309.2" rx="0.93" ry="0.66" opacity="0.11"/>
<ellipse cx="159.1" cy="308.5" rx="0.64" ry="0.46" opacity="0.21"/>
<ellipse cx="185.9" cy="282.3" rx="0.61" ry="0.44" opacity="0.12"/>
<ellipse cx="162.7" cy="296.9" rx="0.95" ry="0.68" opacity="0.10"/>
<ellipse cx="167.0" cy="281.8" rx="0.58" ry="0.41" opacity="0.32"/>
<ellipse cx="178.1" cy="260.8" rx="0.49" ry="0.35" opacity="0.26"/>
<ellipse cx="190.3" cy="250.7" rx="0.74" ry="0.53" opacity="0.67"/>
<ellipse cx="180.8" cy="267.5" rx="0.97" ry="0.69" opacity="0.63"/>
<ellipse cx="197.7" cy="263.7" rx="0.70" ry="0.50" opacity="0.29"/>
<ellipse cx="191.5" cy="289.4" rx="0.74" ry="0.53" opacity="0.34"/>
<ellipse cx="193.5" cy="268.0" rx="0.50" ry="0.36" opacity="0.13"/>
<ellipse cx="167.9" cy="247.3" rx="0.99" ry="0.71" opacity="0.38"/>
<ellipse cx="189.8" cy="276.1" rx="0.73" ry="0.52" opacity="0.15"/>
<ellipse cx="193.5" cy="273.4" rx="0.66" ry="0.47" opacity="0.58"/>
<ellipse cx="192.6" cy="319.8" rx="0.70" ry="0.50" opacity="0.27"/>
<ellipse cx="190.9" cy="273.8" rx="0.54" ry="0.39" opacity="0.31"/>
<ellipse cx="170.3" cy="260.3" rx="0.87" ry="0.62" opacity="0.22"/>
<ellipse cx="183.0" cy="264.0" rx="0.49" ry="0.35" opacity="0.63"/>
<ellipse cx="188.9" cy="296.3" rx="0.78" ry="0.56" opacity="0.13"/>
<ellipse cx="178.1" cy="306.6" rx="0.88" ry="0.63" opacity="0.41"/>
<ellipse cx="183.2" cy="253.3" rx="0.45" ry="0.32" opacity="0.72"/>
<ellipse cx="158.9" cy="260.0" rx="0.66" ry="0.47" opacity="0.53"/>
<ellipse cx="185.8" cy="309.3" rx="0.97" ry="0.69" opacity="0.17"/>
<ellipse cx="168.1" cy="249.4" rx="0.61" ry="0.44" opacity="0.11"/>
<ellipse cx="196.3" cy="285.8" rx="0.71" ry="0.51" opacity="0.10"/>
<ellipse cx="194.3" cy="259.3" rx="0.87" ry="0.62" opacity="0.14"/>
<ellipse cx="168.9" cy="250.6" rx="0.73" ry="0.52" opacity="0.18"/>
<ellipse cx="180.8" cy="297.1" rx="0.55" ry="0.39" opacity="0.12"/>
<ellipse cx="178.6" cy="271.7" rx="0.68" ry="0.49" opacity="0.23"/>
<ellipse cx="164.7" cy="249.5" rx="0.85" ry="0.61" opacity="0.46"/>
<ellipse cx="185.4" cy="290.9" rx="0.72" ry="0.52" opacity="0.14"/>
<ellipse cx="194.4" cy="282.4" rx="0.69" ry="0.49" opacity="0.17"/>
<ellipse cx="173.1" cy="318.5" rx="0.66" ry="0.47" opacity="0.66"/>
<ellipse cx="163.1" cy="287.8" rx="0.58" ry="0.41" opacity="0.15"/>
<ellipse cx="170.2" cy="271.5" rx="0.80" ry="0.57" opacity="0.25"/>
<ellipse cx="192.3" cy="252.1" rx="0.92" ry="0.66" opacity="0.28"/>
<ellipse cx="189.6" cy="271.3" rx="0.57" ry="0.41" opacity="0.79"/>
<ellipse cx="183.4" cy="297.7" rx="0.73" ry="0.52" opacity="0.54"/>
<ellipse cx="196.1" cy="299.2" rx="0.99" ry="0.71" opacity="0.22"/>
<ellipse cx="170.0" cy="310.6" rx="0.91" ry="0.65" opacity="0.78"/>
<ellipse cx="175.4" cy="272.9" rx="0.98" ry="0.70" opacity="0.14"/>
<ellipse cx="164.8" cy="253.4" rx="0.60" ry="0.43" opacity="0.26"/>
<ellipse cx="173.4" cy="276.6" rx="0.44" ry="0.31" opacity="0.21"/>
<ellipse cx="178.3" cy="244.0" rx="0.70" ry="0.50" opacity="0.80"/>
<ellipse cx="184.1" cy="315.7" rx="0.93" ry="0.66" opacity="0.32"/>
<ellipse cx="159.0" cy="244.4" rx="0.76" ry="0.54" opacity="0.71"/>
<ellipse cx="171.3" cy="250.2" rx="0.87" ry="0.62" opacity="0.36"/>
<ellipse cx="176.7" cy="249.9" rx="0.75" ry="0.53" opacity="0.40"/>
<ellipse cx="186.3" cy="312.1" rx="0.46" ry="0.33" opacity="0.70"/>
<ellipse cx="170.9" cy="273.0" rx="0.62" ry="0.44" opacity="0.67"/>
<ellipse cx="175.7" cy="245.3" rx="0.70" ry="0.50" opacity="0.12"/>
<ellipse cx="158.8" cy="243.7" rx="0.64" ry="0.46" opacity="0.29"/>
<ellipse cx="158.2" cy="250.6" rx="0.95" ry="0.68" opacity="0.37"/>
<ellipse cx="197.0" cy="283.2" rx="0.98" ry="0.70" opacity="0.52"/>
<ellipse cx="173.5" cy="243.6" rx="0.51" ry="0.36" opacity="0.65"/>
<ellipse cx="184.4" cy="263.5" rx="0.52" ry="0.37" opacity="0.46"/>
<ellipse cx="195.0" cy="259.6" rx="1.01" ry="0.72" opacity="0.36"/>
<ellipse cx="166.4" cy="254.3" rx="0.84" ry="0.60" opacity="0.84"/>
<ellipse cx="166.2" cy="258.7" rx="0.50" ry="0.36" opacity="0.14"/>
<ellipse cx="167.1" cy="273.2" rx="0.56" ry="0.40" opacity="0.49"/>
<ellipse cx="167.7" cy="261.0" rx="0.67" ry="0.48" opacity="0.13"/>
<ellipse cx="160.2" cy="246.9" rx="0.42" ry="0.30" opacity="0.50"/>
<ellipse cx="160.1" cy="278.2" rx="0.94" ry="0.67" opacity="0.44"/>
<ellipse cx="170.3" cy="271.9" rx="0.67" ry="0.48" opacity="0.20"/>
<ellipse cx="160.3" cy="252.2" rx="0.50" ry="0.36" opacity="0.14"/>
<ellipse cx="171.3" cy="247.9" rx="0.78" ry="0.56" opacity="0.14"/>
<ellipse cx="178.4" cy="295.3" rx="0.71" ry="0.51" opacity="0.58"/>
<ellipse cx="189.1" cy="275.6" rx="0.54" ry="0.39" opacity="0.10"/>
<ellipse cx="185.6" cy="269.2" rx="0.59" ry="0.42" opacity="0.11"/>
<ellipse cx="165.3" cy="311.3" rx="0.70" ry="0.50" opacity="0.72"/>
<ellipse cx="191.6" cy="259.6" rx="0.55" ry="0.39" opacity="0.78"/>
<ellipse cx="167.6" cy="287.7" rx="0.97" ry="0.69" opacity="0.30"/>
<ellipse cx="175.0" cy="316.6" rx="0.93" ry="0.66" opacity="0.84"/>
<ellipse cx="186.2" cy="257.6" rx="0.45" ry="0.32" opacity="0.10"/>
<ellipse cx="194.8" cy="283.2" rx="0.94" ry="0.67" opacity="0.88"/>
<ellipse cx="167.6" cy="317.6" rx="0.58" ry="0.42" opacity="0.13"/>
<ellipse cx="169.0" cy="319.6" rx="0.97" ry="0.69" opacity="0.22"/>
<ellipse cx="177.3" cy="305.8" rx="0.89" ry="0.64" opacity="0.79"/>
<ellipse cx="172.5" cy="258.3" rx="0.72" ry="0.52" opacity="0.85"/>
<ellipse cx="182.5" cy="309.7" rx="0.54" ry="0.38" opacity="0.33"/>
<ellipse cx="194.5" cy="285.5" rx="0.89" ry="0.63" opacity="0.67"/>
<ellipse cx="175.7" cy="295.0" rx="0.83" ry="0.59" opacity="0.28"/>
<ellipse cx="178.8" cy="304.7" rx="0.94" ry="0.67" opacity="0.93"/>
<ellipse cx="172.7" cy="294.0" rx="0.74" ry="0.53" opacity="0.73"/>
<ellipse cx="167.7" cy="277.1" rx="0.57" ry="0.41" opacity="0.66"/>
<ellipse cx="186.3" cy="240.1" rx="0.48" ry="0.35" opacity="0.12"/>
<ellipse cx="181.6" cy="301.9" rx="0.62" ry="0.44" opacity="0.11"/>
<ellipse cx="181.4" cy="289.0" rx="0.67" ry="0.48" opacity="0.17"/>
<ellipse cx="171.9" cy="258.3" rx="0.90" ry="0.64" opacity="0.24"/>
<ellipse cx="186.5" cy="283.7" rx="0.55" ry="0.40" opacity="0.18"/>
<ellipse cx="184.7" cy="309.0" rx="0.96" ry="0.69" opacity="0.12"/>
<ellipse cx="168.5" cy="247.6" rx="0.53" ry="0.38" opacity="0.24"/>
<ellipse cx="186.6" cy="313.2" rx="0.77" ry="0.55" opacity="0.12"/>
<ellipse cx="173.1" cy="251.1" rx="0.58" ry="0.42" opacity="0.40"/>
<ellipse cx="178.1" cy="253.4" rx="0.58" ry="0.42" opacity="0.79"/>
<ellipse cx="183.2" cy="288.0" rx="0.61" ry="0.44" opacity="0.19"/>
<ellipse cx="188.4" cy="240.8" rx="0.80" ry="0.57" opacity="0.88"/>
<ellipse cx="183.4" cy="243.5" rx="0.44" ry="0.31" opacity="0.64"/>
<ellipse cx="165.5" cy="273.5" rx="0.80" ry="0.57" opacity="0.50"/>
<ellipse cx="169.6" cy="294.5" rx="0.96" ry="0.68" opacity="0.30"/>
<ellipse cx="173.9" cy="294.7" rx="0.93" ry="0.67" opacity="0.52"/>
<ellipse cx="194.9" cy="302.4" rx="0.98" ry="0.70" opacity="0.16"/>
<ellipse cx="184.9" cy="256.4" rx="0.49" ry="0.35" opacity="0.21"/>
<ellipse cx="195.7" cy="263.3" rx="0.60" ry="0.43" opacity="0.84"/>
<ellipse cx="197.1" cy="300.5" rx="0.63" ry="0.45" opacity="0.69"/>
<ellipse cx="160.8" cy="240.4" rx="0.46" ry="0.33" opacity="0.21"/>
<ellipse cx="167.8" cy="308.7" rx="0.68" ry="0.49" opacity="0.73"/>
<ellipse cx="177.5" cy="269.5" rx="0.62" ry="0.44" opacity="0.10"/>
<ellipse cx="176.2" cy="316.1" rx="0.99" ry="0.71" opacity="0.84"/>
<ellipse cx="162.1" cy="275.1" rx="0.91" ry="0.65" opacity="0.12"/>
<ellipse cx="160.8" cy="256.1" rx="0.47" ry="0.34" opacity="0.58"/>
<ellipse cx="186.4" cy="319.1" rx="0.45" ry="0.32" opacity="0.53"/>
<ellipse cx="189.6" cy="254.0" rx="0.47" ry="0.33" opacity="0.92"/>
<ellipse cx="189.5" cy="245.2" rx="0.53" ry="0.38" opacity="0.48"/>
<ellipse cx="165.0" cy="274.7" rx="0.51" ry="0.36" opacity="0.11"/>
<ellipse cx="177.4" cy="283.2" rx="0.92" ry="0.66" opacity="0.10"/>
<ellipse cx="172.2" cy="245.4" rx="0.74" ry="0.53" opacity="0.13"/>
<ellipse cx="171.3" cy="317.5" rx="0.80" ry="0.57" opacity="0.50"/>
<ellipse cx="182.2" cy="255.8" rx="0.82" ry="0.59" opacity="0.90"/>
<ellipse cx="161.7" cy="307.1" rx="0.62" ry="0.44" opacity="0.14"/>
<ellipse cx="184.1" cy="308.0" rx="0.52" ry="0.37" opacity="0.14"/>
<ellipse cx="178.0" cy="256.0" rx="0.72" ry="0.51" opacity="0.93"/>
<ellipse cx="159.2" cy="274.0" rx="0.54" ry="0.38" opacity="0.13"/>
<ellipse cx="181.5" cy="315.8" rx="0.70" ry="0.50" opacity="0.38"/>
<ellipse cx="185.9" cy="308.7" rx="0.99" ry="0.71" opacity="0.21"/>
<ellipse cx="165.2" cy="313.3" rx="0.78" ry="0.55" opacity="0.77"/>
<ellipse cx="164.0" cy="303.0" rx="0.49" ry="0.35" opacity="0.12"/>
<ellipse cx="163.0" cy="268.7" rx="0.66" ry="0.47" opacity="0.48"/>
<ellipse cx="195.3" cy="274.1" rx="0.76" ry="0.54" opacity="0.26"/>
<ellipse cx="173.4" cy="260.9" rx="0.42" ry="0.30" opacity="0.16"/>
<ellipse cx="186.8" cy="303.8" rx="0.82" ry="0.59" opacity="0.28"/>
<ellipse cx="174.5" cy="254.8" rx="0.56" ry="0.40" opacity="0.95"/>
<ellipse cx="181.5" cy="272.1" rx="0.73" ry="0.52" opacity="0.32"/>
<ellipse cx="169.8" cy="273.2" rx="0.67" ry="0.48" opacity="0.79"/>
<ellipse cx="193.5" cy="262.8" rx="0.69" ry="0.49" opacity="0.15"/>
<ellipse cx="195.9" cy="250.5" rx="0.70" ry="0.50" opacity="0.10"/>
<ellipse cx="176.4" cy="276.6" rx="0.43" ry="0.31" opacity="0.12"/>
<ellipse cx="178.0" cy="277.7" rx="0.60" ry="0.43" opacity="0.10"/>
<ellipse cx="171.0" cy="267.6" rx="0.48" ry="0.34" opacity="0.42"/>
<ellipse cx="166.9" cy="282.4" rx="0.84" ry="0.60" opacity="0.10"/>
<ellipse cx="177.9" cy="290.8" rx="0.95" ry="0.68" opacity="0.52"/>
<ellipse cx="191.4" cy="292.9" rx="0.55" ry="0.39" opacity="0.67"/>
<ellipse cx="188.1" cy="278.7" rx="0.96" ry="0.69" opacity="0.10"/>
<ellipse cx="194.2" cy="268.3" rx="0.74" ry="0.53" opacity="0.65"/>
<ellipse cx="164.8" cy="279.5" rx="0.43" ry="0.31" opacity="0.10"/>
<ellipse cx="196.1" cy="257.3" rx="0.67" ry="0.48" opacity="0.12"/>
<ellipse cx="195.1" cy="280.3" rx="0.92" ry="0.66" opacity="0.17"/>
<ellipse cx="176.5" cy="259.5" rx="0.77" ry="0.55" opacity="0.54"/>
<ellipse cx="180.9" cy="286.6" rx="0.60" ry="0.43" opacity="0.87"/>
<ellipse cx="159.0" cy="253.0" rx="0.81" ry="0.58" opacity="0.91"/>
<ellipse cx="191.8" cy="259.4" rx="0.97" ry="0.70" opacity="0.29"/>
<ellipse cx="180.8" cy="291.6" rx="0.78" ry="0.56" opacity="0.77"/>
<ellipse cx="193.8" cy="265.0" rx="0.94" ry="0.67" opacity="0.20"/>
<ellipse cx="185.3" cy="252.3" rx="0.79" ry="0.57" opacity="0.19"/>
<ellipse cx="197.6" cy="293.1" rx="0.65" ry="0.46" opacity="0.89"/>
<ellipse cx="162.8" cy="299.6" rx="0.80" ry="0.57" opacity="0.10"/>
<ellipse cx="176.4" cy="249.0" rx="1.01" ry="0.72" opacity="0.11"/>
<ellipse cx="183.4" cy="283.3" rx="0.49" ry="0.35" opacity="0.85"/>
<ellipse cx="180.9" cy="289.3" rx="0.57" ry="0.41" opacity="0.12"/>
<ellipse cx="171.1" cy="242.4" rx="0.54" ry="0.38" opacity="0.32"/>
<ellipse cx="173.7" cy="300.7" rx="0.50" ry="0.36" opacity="0.14"/>
<ellipse cx="178.9" cy="294.8" rx="0.60" ry="0.43" opacity="0.14"/>
<ellipse cx="163.2" cy="268.8" rx="0.64" ry="0.46" opacity="0.65"/>
<ellipse cx="167.7" cy="267.0" rx="0.86" ry="0.61" opacity="0.14"/>
<ellipse cx="159.7" cy="317.8" rx="0.96" ry="0.68" opacity="0.20"/>
<ellipse cx="169.4" cy="276.6" rx="0.54" ry="0.39" opacity="0.64"/>
<ellipse cx="193.3" cy="296.9" rx="0.65" ry="0.47" opacity="0.71"/>
<ellipse cx="195.3" cy="254.4" rx="0.81" ry="0.58" opacity="0.13"/>
<ellipse cx="197.3" cy="303.6" rx="0.66" ry="0.47" opacity="0.58"/>
<ellipse cx="169.8" cy="244.7" rx="0.72" ry="0.52" opacity="0.11"/>
<ellipse cx="176.3" cy="308.2" rx="0.76" ry="0.54" opacity="0.17"/>
<ellipse cx="166.6" cy="284.5" rx="0.72" ry="0.51" opacity="0.80"/>
<ellipse cx="165.0" cy="277.1" rx="0.68" ry="0.49" opacity="0.23"/>
<ellipse cx="165.6" cy="270.4" rx="0.74" ry="0.53" opacity="0.14"/>
<ellipse cx="170.9" cy="282.0" rx="0.97" ry="0.69" opacity="0.31"/>
<ellipse cx="171.9" cy="242.4" rx="0.72" ry="0.52" opacity="0.21"/>
<ellipse cx="162.8" cy="277.7" rx="0.78" ry="0.56" opacity="0.22"/>
<ellipse cx="187.3" cy="290.4" rx="0.46" ry="0.33" opacity="0.10"/>
<ellipse cx="179.0" cy="288.3" rx="0.75" ry="0.53" opacity="0.15"/>
<ellipse cx="171.8" cy="297.3" rx="0.65" ry="0.47" opacity="0.35"/>
<ellipse cx="167.2" cy="290.2" rx="0.70" ry="0.50" opacity="0.10"/>
<ellipse cx="188.1" cy="304.2" rx="1.00" ry="0.71" opacity="0.86"/>
<ellipse cx="186.0" cy="277.1" rx="0.58" ry="0.41" opacity="0.54"/>
<ellipse cx="174.8" cy="265.6" rx="0.49" ry="0.35" opacity="0.43"/>
<ellipse cx="186.3" cy="301.5" rx="0.51" ry="0.36" opacity="0.14"/>
<ellipse cx="183.4" cy="250.0" rx="0.94" ry="0.67" opacity="0.84"/>
<ellipse cx="183.2" cy="260.6" rx="0.75" ry="0.54" opacity="0.61"/>
<ellipse cx="171.9" cy="291.8" rx="0.77" ry="0.55" opacity="0.81"/>
<ellipse cx="188.9" cy="293.4" rx="0.74" ry="0.53" opacity="0.78"/>
<ellipse cx="182.1" cy="295.0" rx="0.60" ry="0.43" opacity="0.11"/>
<ellipse cx="180.3" cy="257.5" rx="0.99" ry="0.71" opacity="0.15"/>
<ellipse cx="193.7" cy="266.4" rx="0.53" ry="0.38" opacity="0.40"/>
<ellipse cx="171.0" cy="319.5" rx="0.78" ry="0.56" opacity="0.11"/>
<ellipse cx="170.5" cy="248.6" rx="0.71" ry="0.51" opacity="0.35"/>
<ellipse cx="170.7" cy="293.7" rx="0.68" ry="0.49" opacity="0.68"/>
<ellipse cx="185.1" cy="260.4" rx="0.91" ry="0.65" opacity="0.10"/>
<ellipse cx="167.5" cy="241.9" rx="0.98" ry="0.70" opacity="0.36"/>
<ellipse cx="191.5" cy="319.2" rx="0.47" ry="0.34" opacity="0.80"/>
<ellipse cx="159.0" cy="296.0" rx="0.89" ry="0.63" opacity="0.24"/>
<ellipse cx="193.4" cy="301.2" rx="0.71" ry="0.51" opacity="0.18"/>
<ellipse cx="164.5" cy="245.7" rx="0.74" ry="0.53" opacity="0.35"/>
<ellipse cx="165.6" cy="282.2" rx="0.47" ry="0.33" opacity="0.19"/>
<ellipse cx="184.7" cy="251.8" rx="0.73" ry="0.52" opacity="0.12"/>
<ellipse cx="193.1" cy="256.6" rx="0.97" ry="0.69" opacity="0.82"/>
<ellipse cx="196.4" cy="262.3" rx="0.82" ry="0.59" opacity="0.11"/>
<ellipse cx="196.7" cy="295.3" rx="0.44" ry="0.32" opacity="0.12"/>
<ellipse cx="162.4" cy="267.6" rx="0.97" ry="0.69" opacity="0.64"/>
<ellipse cx="171.1" cy="304.7" rx="0.43" ry="0.30" opacity="0.37"/>
<ellipse cx="173.6" cy="245.7" rx="0.96" ry="0.69" opacity="0.48"/>
<ellipse cx="197.6" cy="291.1" rx="0.79" ry="0.56" opacity="0.12"/>
<ellipse cx="177.1" cy="311.7" rx="0.75" ry="0.53" opacity="0.46"/>
<ellipse cx="176.4" cy="268.4" rx="0.43" ry="0.30" opacity="0.15"/>
<ellipse cx="165.6" cy="246.9" rx="0.45" ry="0.32" opacity="0.60"/>
<ellipse cx="197.6" cy="295.7" rx="0.91" ry="0.65" opacity="0.14"/>
<ellipse cx="191.8" cy="270.2" rx="0.92" ry="0.66" opacity="0.16"/>
<ellipse cx="170.0" cy="281.9" rx="0.55" ry="0.39" opacity="0.17"/>
<ellipse cx="187.0" cy="303.1" rx="1.00" ry="0.71" opacity="0.48"/>
<ellipse cx="172.1" cy="277.3" rx="0.76" ry="0.55" opacity="0.41"/>
<ellipse cx="194.5" cy="285.2" rx="0.99" ry="0.70" opacity="0.31"/>
<ellipse cx="175.9" cy="241.9" rx="0.61" ry="0.44" opacity="0.31"/>
<ellipse cx="158.7" cy="274.9" rx="0.49" ry="0.35" opacity="0.17"/>
<ellipse cx="193.2" cy="313.2" rx="0.49" ry="0.35" opacity="0.41"/>
<ellipse cx="177.5" cy="243.9" rx="0.59" ry="0.42" opacity="0.36"/>
<ellipse cx="175.0" cy="285.4" rx="0.46" ry="0.33" opacity="0.44"/>
<ellipse cx="182.4" cy="254.8" rx="0.75" ry="0.54" opacity="0.85"/>
<ellipse cx="193.5" cy="289.2" rx="0.73" ry="0.52" opacity="0.59"/>
<ellipse cx="176.2" cy="296.4" rx="0.64" ry="0.46" opacity="0.38"/>
<ellipse cx="187.3" cy="286.6" rx="0.77" ry="0.55" opacity="0.24"/>
<ellipse cx="172.1" cy="292.3" rx="0.68" ry="0.49" opacity="0.28"/>
<ellipse cx="173.2" cy="263.0" rx="0.79" ry="0.56" opacity="0.76"/>
<ellipse cx="165.9" cy="291.8" rx="0.73" ry="0.52" opacity="0.46"/>
<ellipse cx="184.5" cy="271.8" rx="0.43" ry="0.30" opacity="0.22"/>
<ellipse cx="178.8" cy="290.2" rx="0.96" ry="0.69" opacity="0.48"/>
<ellipse cx="184.1" cy="267.8" rx="0.89" ry="0.63" opacity="0.12"/>
<ellipse cx="193.3" cy="279.0" rx="0.69" ry="0.49" opacity="0.52"/>
<ellipse cx="179.7" cy="319.7" rx="0.49" ry="0.35" opacity="0.10"/>
<ellipse cx="181.8" cy="257.8" rx="0.55" ry="0.40" opacity="0.95"/>
<ellipse cx="179.2" cy="263.2" rx="0.63" ry="0.45" opacity="0.15"/>
<ellipse cx="168.2" cy="250.4" rx="0.99" ry="0.71" opacity="0.57"/>
<ellipse cx="172.4" cy="248.4" rx="0.99" ry="0.71" opacity="0.78"/>
<ellipse cx="162.0" cy="309.5" rx="0.74" ry="0.53" opacity="0.93"/>
<ellipse cx="175.6" cy="274.6" rx="0.42" ry="0.30" opacity="0.40"/>
<ellipse cx="167.7" cy="310.4" rx="0.55" ry="0.39" opacity="0.77"/>
<ellipse cx="171.4" cy="304.5" rx="0.84" ry="0.60" opacity="0.85"/>
<ellipse cx="181.0" cy="268.6" rx="0.57" ry="0.41" opacity="0.15"/>
<ellipse cx="162.3" cy="263.6" rx="0.61" ry="0.43" opacity="0.69"/>
<ellipse cx="158.5" cy="280.0" rx="0.72" ry="0.51" opacity="0.13"/>
<ellipse cx="185.7" cy="256.3" rx="0.86" ry="0.61" opacity="0.13"/>
<ellipse cx="193.0" cy="264.7" rx="0.48" ry="0.34" opacity="0.12"/>
<ellipse cx="166.3" cy="250.2" rx="0.60" ry="0.43" opacity="0.90"/>
<ellipse cx="173.0" cy="271.3" rx="0.86" ry="0.62" opacity="0.11"/>
<ellipse cx="161.7" cy="309.5" rx="0.61" ry="0.44" opacity="0.13"/>
<ellipse cx="165.5" cy="299.4" rx="0.99" ry="0.71" opacity="0.25"/>
<ellipse cx="186.4" cy="276.7" rx="0.54" ry="0.39" opacity="0.19"/>
<ellipse cx="171.6" cy="259.7" rx="0.89" ry="0.63" opacity="0.11"/>
<ellipse cx="173.5" cy="298.7" rx="0.44" ry="0.31" opacity="0.89"/>
<ellipse cx="182.6" cy="292.0" rx="0.53" ry="0.38" opacity="0.14"/>
<ellipse cx="191.6" cy="318.0" rx="0.43" ry="0.31" opacity="0.68"/>
<ellipse cx="166.1" cy="245.8" rx="0.77" ry="0.55" opacity="0.11"/>
<ellipse cx="191.5" cy="307.5" rx="0.59" ry="0.42" opacity="0.12"/>
<ellipse cx="178.5" cy="299.8" rx="0.44" ry="0.32" opacity="0.54"/>
<ellipse cx="163.1" cy="270.0" rx="0.52" ry="0.37" opacity="0.11"/>
<ellipse cx="179.4" cy="263.7" rx="0.96" ry="0.68" opacity="0.80"/>
<ellipse cx="187.0" cy="280.7" rx="0.80" ry="0.57" opacity="0.20"/>
<ellipse cx="176.8" cy="283.6" rx="0.67" ry="0.48" opacity="0.28"/>
<ellipse cx="191.9" cy="319.1" rx="0.85" ry="0.61" opacity="0.74"/>
<ellipse cx="170.3" cy="245.6" rx="0.55" ry="0.39" opacity="0.33"/>
<ellipse cx="188.5" cy="298.6" rx="0.96" ry="0.68" opacity="0.63"/>
<ellipse cx="170.0" cy="244.0" rx="0.70" ry="0.50" opacity="0.20"/>
<ellipse cx="192.6" cy="312.4" rx="0.74" ry="0.53" opacity="0.62"/>
<ellipse cx="187.0" cy="281.4" rx="0.68" ry="0.49" opacity="0.88"/>
<ellipse cx="189.8" cy="285.5" rx="1.00" ry="0.71" opacity="0.12"/>
<ellipse cx="173.3" cy="248.0" rx="2.20" ry="1.00" opacity="0.28"/>
<ellipse cx="173.5" cy="247.3" rx="0.58" ry="0.43" opacity="0.43"/>
<ellipse cx="171.5" cy="247.6" rx="0.50" ry="0.37" opacity="0.93"/>
<ellipse cx="174.1" cy="248.0" rx="0.70" ry="0.52" opacity="0.67"/>
<ellipse cx="173.0" cy="248.2" rx="0.55" ry="0.41" opacity="0.96"/>
<ellipse cx="174.4" cy="247.2" rx="0.67" ry="0.50" opacity="0.67"/>
<ellipse cx="174.5" cy="248.2" rx="0.72" ry="0.53" opacity="1.00"/>
<ellipse cx="174.9" cy="248.3" rx="0.43" ry="0.32" opacity="0.98"/>
<ellipse cx="173.3" cy="248.0" rx="1.21" ry="0.50" fill="#4ff53e" opacity="0.80"/>
<ellipse cx="173.6" cy="248.4" rx="0.65" ry="0.40" fill="#66fa52" opacity="0.90"/>
<ellipse cx="172.6" cy="248.1" rx="0.47" ry="0.45" fill="#66fa52" opacity="0.90"/>
<ellipse cx="183.6" cy="250.1" rx="1.20" ry="0.80" opacity="0.25"/>
<ellipse cx="184.5" cy="250.4" rx="0.93" ry="0.69" opacity="0.63"/>
<ellipse cx="183.0" cy="250.4" rx="0.48" ry="0.36" opacity="0.75"/>
<ellipse cx="183.5" cy="249.9" rx="0.61" ry="0.45" opacity="0.39"/>
<ellipse cx="183.6" cy="250.1" rx="0.66" ry="0.40" fill="#4ff53e" opacity="0.80"/>
<ellipse cx="183.6" cy="250.1" rx="0.75" ry="0.37" fill="#66fa52" opacity="0.90"/>
<ellipse cx="183.7" cy="250.0" rx="0.61" ry="0.53" fill="#66fa52" opacity="0.90"/>
<ellipse cx="184.8" cy="256.5" rx="1.20" ry="1.20" opacity="0.28"/>
<ellipse cx="185.8" cy="256.1" rx="0.49" ry="0.36" opacity="0.82"/>
<ellipse cx="184.4" cy="256.7" rx="0.65" ry="0.48" opacity="0.96"/>
<ellipse cx="185.8" cy="256.6" rx="0.70" ry="0.52" opacity="0.92"/>
<ellipse cx="184.3" cy="256.6" rx="0.86" ry="0.64" opacity="0.42"/>
<ellipse cx="184.8" cy="256.5" rx="0.66" ry="0.60" fill="#4ff53e" opacity="0.80"/>
<ellipse cx="184.7" cy="256.2" rx="0.42" ry="0.39" fill="#66fa52" opacity="0.90"/>
<ellipse cx="184.9" cy="256.3" rx="0.77" ry="0.39" fill="#66fa52" opacity="0.90"/>
<ellipse cx="188.2" cy="261.1" rx="1.10" ry="0.80" opacity="0.25"/>
<ellipse cx="188.4" cy="261.0" rx="0.76" ry="0.56" opacity="0.63"/>
<ellipse cx="187.3" cy="260.7" rx="0.53" ry="0.39" opacity="0.90"/>
<ellipse cx="187.3" cy="260.8" rx="0.54" ry="0.40" opacity="0.90"/>
<ellipse cx="188.2" cy="261.1" rx="0.61" ry="0.40" fill="#4ff53e" opacity="0.80"/>
<ellipse cx="188.1" cy="260.8" rx="0.49" ry="0.57" fill="#66fa52" opacity="0.90"/>
<ellipse cx="187.6" cy="260.9" rx="0.75" ry="0.54" fill="#66fa52" opacity="0.90"/>
<ellipse cx="163.7" cy="265.6" rx="1.80" ry="0.70" opacity="0.25"/>
<ellipse cx="163.6" cy="265.4" rx="0.85" ry="0.63" opacity="0.73"/>
<ellipse cx="164.0" cy="265.7" rx="0.46" ry="0.34" opacity="0.44"/>
<ellipse cx="163.8" cy="265.0" rx="0.78" ry="0.58" opacity="0.53"/>
<ellipse cx="164.2" cy="265.5" rx="0.53" ry="0.39" opacity="0.57"/>
<ellipse cx="163.7" cy="265.6" rx="0.99" ry="0.35" fill="#4ff53e" opacity="0.80"/>
<ellipse cx="163.6" cy="265.9" rx="0.73" ry="0.54" fill="#66fa52" opacity="0.90"/>
<ellipse cx="163.4" cy="265.9" rx="0.53" ry="0.49" fill="#66fa52" opacity="0.90"/>
<ellipse cx="172.2" cy="266.8" rx="1.30" ry="0.80" opacity="0.25"/>
<ellipse cx="171.8" cy="266.7" rx="0.86" ry="0.64" opacity="0.79"/>
<ellipse cx="172.3" cy="266.6" rx="0.53" ry="0.39" opacity="0.75"/>
<ellipse cx="172.5" cy="266.2" rx="0.91" ry="0.67" opacity="0.56"/>
<ellipse cx="172.2" cy="266.8" rx="0.72" ry="0.40" fill="#4ff53e" opacity="0.80"/>
<ellipse cx="172.3" cy="267.1" rx="0.52" ry="0.45" fill="#66fa52" opacity="0.90"/>
<ellipse cx="172.3" cy="266.6" rx="0.69" ry="0.50" fill="#66fa52" opacity="0.90"/>
<ellipse cx="179.1" cy="276.4" rx="2.80" ry="1.00" opacity="0.28"/>
<ellipse cx="181.0" cy="276.5" rx="0.87" ry="0.65" opacity="0.77"/>
<ellipse cx="180.4" cy="275.8" rx="0.94" ry="0.70" opacity="0.38"/>
<ellipse cx="178.2" cy="276.6" rx="0.81" ry="0.60" opacity="0.54"/>
<ellipse cx="178.0" cy="275.7" rx="0.41" ry="0.31" opacity="0.75"/>
<ellipse cx="178.5" cy="276.8" rx="0.75" ry="0.56" opacity="0.76"/>
<ellipse cx="179.6" cy="277.2" rx="0.45" ry="0.33" opacity="0.39"/>
<ellipse cx="181.1" cy="275.8" rx="0.92" ry="0.68" opacity="1.00"/>
<ellipse cx="179.0" cy="275.7" rx="0.69" ry="0.51" opacity="0.70"/>
<ellipse cx="179.1" cy="276.4" rx="1.54" ry="0.50" fill="#4ff53e" opacity="0.80"/>
<ellipse cx="180.6" cy="276.2" rx="0.57" ry="0.40" fill="#66fa52" opacity="0.90"/>
<ellipse cx="178.2" cy="276.3" rx="0.72" ry="0.58" fill="#66fa52" opacity="0.90"/>
<ellipse cx="178.9" cy="276.3" rx="0.61" ry="0.38" fill="#66fa52" opacity="0.90"/>
<ellipse cx="184.8" cy="273.7" rx="1.10" ry="0.80" opacity="0.25"/>
<ellipse cx="183.9" cy="273.5" rx="0.77" ry="0.57" opacity="0.59"/>
<ellipse cx="185.4" cy="274.3" rx="0.88" ry="0.65" opacity="0.60"/>
<ellipse cx="185.6" cy="273.9" rx="0.62" ry="0.46" opacity="0.55"/>
<ellipse cx="184.8" cy="273.7" rx="0.61" ry="0.40" fill="#4ff53e" opacity="0.80"/>
<ellipse cx="184.6" cy="273.8" rx="0.46" ry="0.51" fill="#66fa52" opacity="0.90"/>
<ellipse cx="184.4" cy="273.7" rx="0.70" ry="0.48" fill="#66fa52" opacity="0.90"/>
<ellipse cx="184.8" cy="284.0" rx="0.90" ry="1.20" opacity="0.25"/>
<ellipse cx="185.0" cy="284.5" rx="0.71" ry="0.52" opacity="0.70"/>
<ellipse cx="184.3" cy="283.3" rx="0.60" ry="0.44" opacity="0.76"/>
<ellipse cx="184.5" cy="283.7" rx="0.47" ry="0.35" opacity="0.68"/>
<ellipse cx="184.8" cy="284.0" rx="0.50" ry="0.60" fill="#4ff53e" opacity="0.80"/>
<ellipse cx="185.1" cy="283.4" rx="0.73" ry="0.56" fill="#66fa52" opacity="0.90"/>
<ellipse cx="184.6" cy="283.9" rx="0.52" ry="0.57" fill="#66fa52" opacity="0.90"/>
<ellipse cx="161.4" cy="285.1" rx="1.40" ry="0.80" opacity="0.25"/>
<ellipse cx="161.3" cy="285.6" rx="0.70" ry="0.52" opacity="0.33"/>
<ellipse cx="161.8" cy="285.3" rx="0.83" ry="0.62" opacity="0.77"/>
<ellipse cx="161.8" cy="285.2" rx="0.94" ry="0.69" opacity="0.41"/>
<ellipse cx="161.4" cy="285.1" rx="0.77" ry="0.40" fill="#4ff53e" opacity="0.80"/>
<ellipse cx="161.6" cy="284.8" rx="0.75" ry="0.53" fill="#66fa52" opacity="0.90"/>
<ellipse cx="162.0" cy="285.3" rx="0.69" ry="0.36" fill="#66fa52" opacity="0.90"/>
<ellipse cx="180.2" cy="290.8" rx="1.00" ry="0.70" opacity="0.20"/>
<ellipse cx="180.6" cy="290.7" rx="0.66" ry="0.49" opacity="0.48"/>
<ellipse cx="179.5" cy="290.6" rx="0.44" ry="0.33" opacity="0.63"/>
<ellipse cx="180.0" cy="290.8" rx="0.68" ry="0.50" opacity="0.33"/>
<ellipse cx="172.2" cy="297.7" rx="2.60" ry="0.90" opacity="0.28"/>
<ellipse cx="170.3" cy="298.0" rx="0.81" ry="0.60" opacity="0.46"/>
<ellipse cx="171.6" cy="298.6" rx="0.74" ry="0.55" opacity="0.47"/>
<ellipse cx="171.3" cy="297.5" rx="0.45" ry="0.33" opacity="0.78"/>
<ellipse cx="172.8" cy="297.9" rx="0.77" ry="0.57" opacity="0.98"/>
<ellipse cx="174.2" cy="298.0" rx="0.48" ry="0.36" opacity="0.39"/>
<ellipse cx="172.4" cy="297.7" rx="0.80" ry="0.59" opacity="0.94"/>
<ellipse cx="173.0" cy="297.7" rx="0.43" ry="0.32" opacity="0.61"/>
<ellipse cx="172.2" cy="297.7" rx="1.43" ry="0.45" fill="#4ff53e" opacity="0.80"/>
<ellipse cx="172.0" cy="297.9" rx="0.73" ry="0.38" fill="#66fa52" opacity="0.90"/>
<ellipse cx="171.9" cy="297.6" rx="0.66" ry="0.38" fill="#66fa52" opacity="0.90"/>
<ellipse cx="163.0" cy="297.7" rx="1.20" ry="0.70" opacity="0.20"/>
<ellipse cx="163.4" cy="298.4" rx="0.55" ry="0.41" opacity="0.45"/>
<ellipse cx="162.4" cy="297.1" rx="0.70" ry="0.52" opacity="0.30"/>
<ellipse cx="162.5" cy="297.2" rx="0.72" ry="0.53" opacity="0.42"/>
<ellipse cx="180.9" cy="305.3" rx="2.80" ry="1.20" opacity="0.28"/>
<ellipse cx="181.1" cy="305.1" rx="0.70" ry="0.52" opacity="0.70"/>
<ellipse cx="183.0" cy="304.8" rx="0.53" ry="0.40" opacity="0.60"/>
<ellipse cx="179.6" cy="304.9" rx="0.44" ry="0.33" opacity="1.00"/>
<ellipse cx="180.1" cy="305.4" rx="0.49" ry="0.36" opacity="0.36"/>
<ellipse cx="181.6" cy="305.1" rx="0.71" ry="0.53" opacity="0.96"/>
<ellipse cx="181.1" cy="304.4" rx="0.56" ry="0.41" opacity="0.79"/>
<ellipse cx="181.3" cy="304.9" rx="0.53" ry="0.39" opacity="0.62"/>
<ellipse cx="178.8" cy="304.7" rx="0.72" ry="0.54" opacity="0.52"/>
<ellipse cx="180.8" cy="304.9" rx="0.46" ry="0.34" opacity="0.36"/>
<ellipse cx="179.1" cy="304.9" rx="0.66" ry="0.49" opacity="0.71"/>
<ellipse cx="180.9" cy="305.3" rx="1.54" ry="0.60" fill="#4ff53e" opacity="0.80"/>
<ellipse cx="181.1" cy="305.5" rx="0.63" ry="0.45" fill="#66fa52" opacity="0.90"/>
<ellipse cx="179.3" cy="305.3" rx="0.59" ry="0.54" fill="#66fa52" opacity="0.90"/>
<ellipse cx="181.8" cy="305.5" rx="0.42" ry="0.40" fill="#66fa52" opacity="0.90"/>
<ellipse cx="181.2" cy="305.6" rx="0.46" ry="0.58" fill="#66fa52" opacity="0.90"/>
<ellipse cx="160.0" cy="310.3" rx="1.20" ry="1.20" opacity="0.25"/>
<ellipse cx="159.8" cy="310.9" rx="0.44" ry="0.33" opacity="0.53"/>
<ellipse cx="160.2" cy="309.5" rx="0.89" ry="0.66" opacity="0.68"/>
<ellipse cx="159.6" cy="309.7" rx="0.86" ry="0.63" opacity="0.58"/>
<ellipse cx="160.3" cy="310.7" rx="0.84" ry="0.62" opacity="0.35"/>
<ellipse cx="160.0" cy="310.3" rx="0.66" ry="0.60" fill="#4ff53e" opacity="0.80"/>
<ellipse cx="160.2" cy="310.8" rx="0.67" ry="0.47" fill="#66fa52" opacity="0.90"/>
<ellipse cx="159.8" cy="310.0" rx="0.64" ry="0.36" fill="#66fa52" opacity="0.90"/>
<ellipse cx="181.3" cy="311.5" rx="1.00" ry="0.70" opacity="0.20"/>
<ellipse cx="180.5" cy="311.9" rx="0.72" ry="0.53" opacity="0.40"/>
<ellipse cx="180.6" cy="311.0" rx="0.66" ry="0.49" opacity="0.43"/>
<ellipse cx="181.7" cy="310.9" rx="0.53" ry="0.39" opacity="0.55"/>
<ellipse cx="195.1" cy="318.3" rx="1.50" ry="0.90" opacity="0.25"/>
<ellipse cx="194.9" cy="318.8" rx="0.84" ry="0.62" opacity="0.53"/>
<ellipse cx="195.9" cy="318.0" rx="0.87" ry="0.65" opacity="0.39"/>
<ellipse cx="194.9" cy="318.4" rx="0.87" ry="0.64" opacity="0.84"/>
<ellipse cx="194.2" cy="318.4" rx="0.93" ry="0.69" opacity="0.54"/>
<ellipse cx="195.1" cy="318.3" rx="0.83" ry="0.45" fill="#4ff53e" opacity="0.80"/>
<ellipse cx="195.0" cy="318.4" rx="0.77" ry="0.55" fill="#66fa52" opacity="0.90"/>
<ellipse cx="194.4" cy="318.2" rx="0.73" ry="0.52" fill="#66fa52" opacity="0.90"/>
<ellipse cx="167.0" cy="255.0" rx="1.00" ry="0.70" opacity="0.20"/>
<ellipse cx="167.6" cy="255.3" rx="0.88" ry="0.65" opacity="0.46"/>
<ellipse cx="166.3" cy="255.2" rx="0.51" ry="0.38" opacity="0.35"/>
<ellipse cx="166.6" cy="254.4" rx="0.47" ry="0.35" opacity="0.55"/>
<ellipse cx="191.0" cy="246.0" rx="1.00" ry="0.70" opacity="0.20"/>
<ellipse cx="190.9" cy="246.0" rx="0.49" ry="0.36" opacity="0.38"/>
<ellipse cx="190.9" cy="245.8" rx="0.61" ry="0.45" opacity="0.53"/>
<ellipse cx="191.0" cy="245.3" rx="0.86" ry="0.64" opacity="0.33"/>
<ellipse cx="166.0" cy="277.0" rx="1.00" ry="0.70" opacity="0.20"/>
<ellipse cx="165.3" cy="276.8" rx="0.70" ry="0.52" opacity="0.52"/>
<ellipse cx="165.7" cy="277.2" rx="0.77" ry="0.57" opacity="0.64"/>
<ellipse cx="165.7" cy="276.5" rx="0.92" ry="0.68" opacity="0.36"/>
<ellipse cx="190.0" cy="296.0" rx="1.00" ry="0.70" opacity="0.17"/>
<ellipse cx="189.2" cy="295.7" rx="0.76" ry="0.56" opacity="0.21"/>
<ellipse cx="189.1" cy="296.0" rx="0.51" ry="0.38" opacity="0.36"/>
<ellipse cx="190.6" cy="296.0" rx="0.70" ry="0.52" opacity="0.44"/>
<ellipse cx="170.0" cy="312.0" rx="1.00" ry="0.70" opacity="0.17"/>
<ellipse cx="170.4" cy="311.6" rx="0.89" ry="0.66" opacity="0.48"/>
<ellipse cx="169.4" cy="312.3" rx="0.57" ry="0.42" opacity="0.23"/>
<ellipse cx="169.8" cy="312.0" rx="0.57" ry="0.42" opacity="0.54"/>
<ellipse cx="193.0" cy="270.0" rx="0.90" ry="0.70" opacity="0.17"/>
<ellipse cx="193.3" cy="270.0" rx="0.49" ry="0.37" opacity="0.35"/>
<ellipse cx="192.7" cy="270.1" rx="0.84" ry="0.62" opacity="0.27"/>
<ellipse cx="192.6" cy="269.9" rx="0.75" ry="0.56" opacity="0.26"/>
</g>
<rect x="199.30" y="239.60" width="39.50" height="80.40" fill="#000"/>
<clipPath id="c199"><rect x="199.3" y="239.6" width="39.5" height="80.4"/></clipPath><g clip-path="url(#c199)">
<ellipse cx="218.8" cy="307.8" rx="0.49" ry="0.31" opacity="0.11"/>
<ellipse cx="202.2" cy="306.8" rx="0.80" ry="0.50" opacity="0.12"/>
<ellipse cx="234.9" cy="253.5" rx="0.71" ry="0.45" opacity="0.24"/>
<ellipse cx="223.0" cy="244.9" rx="0.50" ry="0.31" opacity="0.10"/>
<ellipse cx="236.7" cy="311.9" rx="0.62" ry="0.39" opacity="0.07"/>
<ellipse cx="224.4" cy="255.5" rx="0.91" ry="0.57" opacity="0.28"/>
<ellipse cx="230.2" cy="302.1" rx="0.85" ry="0.53" opacity="0.26"/>
<ellipse cx="214.3" cy="297.6" rx="0.49" ry="0.30" opacity="0.23"/>
<ellipse cx="216.9" cy="318.7" rx="0.86" ry="0.54" opacity="0.17"/>
<ellipse cx="227.2" cy="286.7" rx="0.78" ry="0.49" opacity="0.06"/>
<ellipse cx="208.2" cy="260.3" rx="0.82" ry="0.51" opacity="0.28"/>
<ellipse cx="224.1" cy="300.6" rx="0.79" ry="0.49" opacity="0.10"/>
<ellipse cx="209.4" cy="286.4" rx="0.84" ry="0.53" opacity="0.16"/>
<ellipse cx="226.7" cy="266.5" rx="0.63" ry="0.39" opacity="0.10"/>
<ellipse cx="215.6" cy="286.2" rx="0.53" ry="0.33" opacity="0.28"/>
<ellipse cx="199.6" cy="298.4" rx="0.65" ry="0.40" opacity="0.29"/>
<ellipse cx="210.6" cy="241.7" rx="0.81" ry="0.51" opacity="0.15"/>
<ellipse cx="231.6" cy="293.2" rx="0.69" ry="0.43" opacity="0.22"/>
<ellipse cx="226.2" cy="266.0" rx="0.57" ry="0.36" opacity="0.22"/>
<ellipse cx="221.8" cy="243.4" rx="0.56" ry="0.35" opacity="0.16"/>
<ellipse cx="202.9" cy="281.8" rx="0.67" ry="0.42" opacity="0.13"/>
<ellipse cx="229.0" cy="298.9" rx="0.51" ry="0.32" opacity="0.20"/>
<ellipse cx="238.5" cy="288.4" rx="0.95" ry="0.60" opacity="0.12"/>
<ellipse cx="208.0" cy="265.9" rx="0.59" ry="0.37" opacity="0.10"/>
<ellipse cx="209.4" cy="279.9" rx="0.87" ry="0.54" opacity="0.25"/>
<ellipse cx="200.9" cy="301.2" rx="0.79" ry="0.49" opacity="0.12"/>
<ellipse cx="199.6" cy="308.7" rx="0.54" ry="0.34" opacity="0.12"/>
<ellipse cx="211.3" cy="303.6" rx="0.93" ry="0.58" opacity="0.28"/>
<ellipse cx="232.9" cy="307.6" rx="0.71" ry="0.44" opacity="0.07"/>
<ellipse cx="208.6" cy="250.9" rx="0.54" ry="0.33" opacity="0.09"/>
<ellipse cx="211.9" cy="243.6" rx="0.62" ry="0.39" opacity="0.27"/>
<ellipse cx="208.8" cy="280.5" rx="0.89" ry="0.56" opacity="0.06"/>
<ellipse cx="228.0" cy="283.3" rx="0.49" ry="0.31" opacity="0.27"/>
<ellipse cx="230.7" cy="247.8" rx="0.94" ry="0.59" opacity="0.20"/>
<ellipse cx="224.4" cy="256.7" rx="0.49" ry="0.31" opacity="0.23"/>
<ellipse cx="227.5" cy="254.2" rx="0.50" ry="0.31" opacity="0.20"/>
<ellipse cx="211.5" cy="267.3" rx="0.90" ry="0.56" opacity="0.20"/>
<ellipse cx="204.0" cy="295.8" rx="0.83" ry="0.52" opacity="0.20"/>
<ellipse cx="237.0" cy="277.9" rx="0.79" ry="0.49" opacity="0.07"/>
<ellipse cx="211.2" cy="263.7" rx="0.69" ry="0.43" opacity="0.18"/>
<ellipse cx="203.8" cy="295.2" rx="0.51" ry="0.32" opacity="0.12"/>
<ellipse cx="222.4" cy="241.5" rx="0.64" ry="0.40" opacity="0.25"/>
<ellipse cx="228.2" cy="269.8" rx="0.56" ry="0.35" opacity="0.24"/>
<ellipse cx="233.6" cy="246.1" rx="0.68" ry="0.43" opacity="0.19"/>
<ellipse cx="226.7" cy="255.9" rx="0.87" ry="0.55" opacity="0.21"/>
<ellipse cx="230.9" cy="315.8" rx="0.81" ry="0.51" opacity="0.22"/>
<ellipse cx="211.1" cy="261.6" rx="0.66" ry="0.41" opacity="0.25"/>
<ellipse cx="222.8" cy="262.0" rx="0.91" ry="0.57" opacity="0.18"/>
<ellipse cx="238.0" cy="292.1" rx="0.83" ry="0.52" opacity="0.14"/>
<ellipse cx="238.5" cy="278.2" rx="0.80" ry="0.50" opacity="0.16"/>
<ellipse cx="220.0" cy="253.8" rx="0.66" ry="0.41" opacity="0.16"/>
<ellipse cx="228.6" cy="252.3" rx="0.57" ry="0.36" opacity="0.21"/>
<ellipse cx="218.0" cy="310.5" rx="0.49" ry="0.31" opacity="0.17"/>
<ellipse cx="232.1" cy="300.3" rx="0.65" ry="0.41" opacity="0.18"/>
<ellipse cx="215.0" cy="240.0" rx="0.52" ry="0.32" opacity="0.11"/>
<ellipse cx="233.8" cy="255.0" rx="0.62" ry="0.39" opacity="0.19"/>
<ellipse cx="226.8" cy="291.7" rx="0.63" ry="0.39" opacity="0.14"/>
<ellipse cx="199.8" cy="303.5" rx="0.66" ry="0.41" opacity="0.13"/>
<ellipse cx="207.5" cy="279.3" rx="0.55" ry="0.34" opacity="0.14"/>
<ellipse cx="203.5" cy="254.9" rx="0.73" ry="0.46" opacity="0.14"/>
<ellipse cx="203.3" cy="258.8" rx="4.20" ry="2.80" opacity="0.25"/>
<ellipse cx="206.3" cy="260.4" rx="0.44" ry="0.32" opacity="0.56"/>
<ellipse cx="203.1" cy="259.3" rx="0.56" ry="0.42" opacity="0.57"/>
<ellipse cx="202.6" cy="257.6" rx="0.61" ry="0.45" opacity="0.84"/>
<ellipse cx="201.6" cy="257.5" rx="0.52" ry="0.38" opacity="0.77"/>
<ellipse cx="204.9" cy="258.3" rx="0.86" ry="0.64" opacity="0.53"/>
<ellipse cx="202.8" cy="258.8" rx="0.54" ry="0.40" opacity="0.46"/>
<ellipse cx="204.4" cy="261.2" rx="0.92" ry="0.68" opacity="0.50"/>
<ellipse cx="204.0" cy="257.5" rx="0.72" ry="0.53" opacity="0.43"/>
<ellipse cx="205.7" cy="257.8" rx="0.72" ry="0.54" opacity="0.78"/>
<ellipse cx="200.6" cy="258.5" rx="0.79" ry="0.58" opacity="0.59"/>
<ellipse cx="201.5" cy="258.2" rx="0.49" ry="0.36" opacity="0.45"/>
<ellipse cx="206.3" cy="258.4" rx="0.41" ry="0.31" opacity="0.42"/>
<ellipse cx="200.9" cy="257.9" rx="0.94" ry="0.70" opacity="0.84"/>
<ellipse cx="206.6" cy="259.9" rx="0.94" ry="0.69" opacity="0.75"/>
<ellipse cx="205.6" cy="258.3" rx="0.74" ry="0.55" opacity="0.72"/>
<ellipse cx="204.3" cy="256.6" rx="0.85" ry="0.63" opacity="0.51"/>
<ellipse cx="204.2" cy="256.8" rx="0.92" ry="0.68" opacity="0.50"/>
<ellipse cx="200.5" cy="257.1" rx="0.82" ry="0.60" opacity="0.72"/>
<ellipse cx="204.1" cy="259.5" rx="0.58" ry="0.43" opacity="0.70"/>
<ellipse cx="206.5" cy="259.2" rx="0.47" ry="0.35" opacity="0.43"/>
<ellipse cx="202.8" cy="260.7" rx="0.79" ry="0.59" opacity="0.87"/>
<ellipse cx="203.4" cy="259.4" rx="0.87" ry="0.64" opacity="0.66"/>
<ellipse cx="206.3" cy="257.7" rx="0.48" ry="0.35" opacity="0.53"/>
<ellipse cx="203.8" cy="260.5" rx="0.56" ry="0.41" opacity="0.82"/>
<ellipse cx="204.5" cy="258.2" rx="0.94" ry="0.70" opacity="0.88"/>
<ellipse cx="200.4" cy="260.5" rx="0.92" ry="0.68" opacity="0.74"/>
<ellipse cx="201.2" cy="260.4" rx="0.82" ry="0.61" opacity="0.51"/>
<ellipse cx="202.3" cy="258.9" rx="0.49" ry="0.36" opacity="0.78"/>
<ellipse cx="202.1" cy="260.9" rx="0.64" ry="0.47" opacity="0.73"/>
<ellipse cx="203.1" cy="259.4" rx="0.77" ry="0.57" opacity="0.47"/>
<ellipse cx="204.0" cy="260.5" rx="0.67" ry="0.50" opacity="0.84"/>
<ellipse cx="202.5" cy="257.2" rx="0.64" ry="0.48" opacity="0.67"/>
<ellipse cx="204.7" cy="259.8" rx="0.73" ry="0.54" opacity="0.86"/>
<ellipse cx="202.0" cy="258.1" rx="0.93" ry="0.69" opacity="0.78"/>
<ellipse cx="203.7" cy="260.3" rx="0.42" ry="0.31" opacity="0.76"/>
<ellipse cx="204.0" cy="261.2" rx="0.79" ry="0.59" opacity="0.77"/>
<ellipse cx="201.6" cy="258.3" rx="0.42" ry="0.31" opacity="0.66"/>
<ellipse cx="203.3" cy="258.8" rx="2.31" ry="1.40" fill="#4ff53e" opacity="0.80"/>
<ellipse cx="204.9" cy="258.9" rx="0.71" ry="0.39" fill="#66fa52" opacity="0.90"/>
<ellipse cx="201.8" cy="259.2" rx="0.46" ry="0.40" fill="#66fa52" opacity="0.90"/>
<ellipse cx="202.7" cy="258.5" rx="0.46" ry="0.41" fill="#66fa52" opacity="0.90"/>
<ellipse cx="205.5" cy="258.2" rx="0.44" ry="0.49" fill="#66fa52" opacity="0.90"/>
<ellipse cx="203.1" cy="258.9" rx="0.50" ry="0.51" fill="#66fa52" opacity="0.90"/>
<ellipse cx="205.7" cy="259.0" rx="0.51" ry="0.44" fill="#66fa52" opacity="0.90"/>
<ellipse cx="203.9" cy="258.7" rx="0.45" ry="0.47" fill="#66fa52" opacity="0.90"/>
<ellipse cx="202.9" cy="259.5" rx="0.63" ry="0.59" fill="#66fa52" opacity="0.90"/>
<ellipse cx="203.1" cy="258.9" rx="0.55" ry="0.56" fill="#66fa52" opacity="0.90"/>
<ellipse cx="203.0" cy="258.9" rx="0.50" ry="0.41" fill="#66fa52" opacity="0.90"/>
<ellipse cx="202.6" cy="259.4" rx="0.67" ry="0.53" fill="#66fa52" opacity="0.90"/>
<ellipse cx="203.9" cy="258.9" rx="0.73" ry="0.57" fill="#66fa52" opacity="0.90"/>
<ellipse cx="203.5" cy="258.3" rx="0.68" ry="0.37" fill="#66fa52" opacity="0.90"/>
<ellipse cx="202.9" cy="258.3" rx="0.74" ry="0.56" fill="#66fa52" opacity="0.90"/>
<ellipse cx="211.8" cy="266.8" rx="3.40" ry="3.40" opacity="0.15"/>
<ellipse cx="209.1" cy="267.4" rx="0.92" ry="0.68" opacity="0.51"/>
<ellipse cx="210.3" cy="264.8" rx="0.60" ry="0.44" opacity="0.44"/>
<ellipse cx="213.1" cy="268.4" rx="0.45" ry="0.33" opacity="0.23"/>
<ellipse cx="210.8" cy="265.0" rx="0.52" ry="0.38" opacity="0.53"/>
<ellipse cx="211.2" cy="269.1" rx="0.67" ry="0.50" opacity="0.26"/>
<ellipse cx="214.7" cy="266.7" rx="0.89" ry="0.66" opacity="0.30"/>
<ellipse cx="214.5" cy="265.1" rx="0.91" ry="0.68" opacity="0.26"/>
<ellipse cx="212.2" cy="267.4" rx="0.45" ry="0.34" opacity="0.44"/>
<ellipse cx="213.8" cy="267.5" rx="0.60" ry="0.44" opacity="0.45"/>
<ellipse cx="214.5" cy="267.6" rx="0.92" ry="0.68" opacity="0.30"/>
<ellipse cx="209.5" cy="268.4" rx="0.57" ry="0.42" opacity="0.50"/>
<ellipse cx="213.2" cy="266.8" rx="0.66" ry="0.49" opacity="0.24"/>
<ellipse cx="210.0" cy="266.1" rx="0.93" ry="0.69" opacity="0.45"/>
<ellipse cx="214.8" cy="266.7" rx="0.85" ry="0.63" opacity="0.33"/>
<ellipse cx="211.3" cy="266.0" rx="0.59" ry="0.44" opacity="0.52"/>
<ellipse cx="213.0" cy="266.7" rx="0.67" ry="0.50" opacity="0.34"/>
<ellipse cx="210.0" cy="265.1" rx="0.55" ry="0.40" opacity="0.51"/>
<ellipse cx="209.0" cy="267.7" rx="0.79" ry="0.59" opacity="0.54"/>
<ellipse cx="209.3" cy="266.6" rx="0.82" ry="0.61" opacity="0.27"/>
<ellipse cx="214.7" cy="267.6" rx="0.78" ry="0.58" opacity="0.46"/>
<ellipse cx="212.2" cy="265.6" rx="0.88" ry="0.65" opacity="0.42"/>
<ellipse cx="214.0" cy="266.0" rx="0.87" ry="0.65" opacity="0.21"/>
<ellipse cx="213.0" cy="268.9" rx="0.77" ry="0.57" opacity="0.33"/>
<ellipse cx="214.6" cy="268.2" rx="0.44" ry="0.33" opacity="0.51"/>
<ellipse cx="212.1" cy="269.5" rx="0.73" ry="0.54" opacity="0.28"/>
<ellipse cx="211.1" cy="268.1" rx="0.69" ry="0.51" opacity="0.29"/>
<ellipse cx="210.3" cy="266.4" rx="0.47" ry="0.35" opacity="0.44"/>
<ellipse cx="211.6" cy="270.1" rx="0.62" ry="0.46" opacity="0.29"/>
<ellipse cx="211.2" cy="263.7" rx="0.60" ry="0.45" opacity="0.45"/>
<ellipse cx="210.1" cy="269.8" rx="0.57" ry="0.42" opacity="0.21"/>
<ellipse cx="214.2" cy="266.9" rx="0.74" ry="0.55" opacity="0.29"/>
<ellipse cx="210.1" cy="267.8" rx="0.60" ry="0.45" opacity="0.26"/>
<ellipse cx="209.2" cy="266.1" rx="0.42" ry="0.31" opacity="0.51"/>
<ellipse cx="211.7" cy="269.0" rx="0.52" ry="0.39" opacity="0.43"/>
<ellipse cx="209.8" cy="268.2" rx="0.63" ry="0.46" opacity="0.37"/>
<ellipse cx="214.7" cy="268.5" rx="0.63" ry="0.47" opacity="0.31"/>
<ellipse cx="223.3" cy="266.1" rx="4.00" ry="3.40" opacity="0.15"/>
<ellipse cx="224.4" cy="264.8" rx="0.83" ry="0.62" opacity="0.34"/>
<ellipse cx="225.4" cy="267.7" rx="0.56" ry="0.41" opacity="0.26"/>
<ellipse cx="227.1" cy="265.9" rx="0.66" ry="0.49" opacity="0.48"/>
<ellipse cx="222.4" cy="264.6" rx="0.47" ry="0.35" opacity="0.40"/>
<ellipse cx="224.5" cy="268.8" rx="0.73" ry="0.54" opacity="0.27"/>
<ellipse cx="224.0" cy="262.8" rx="0.66" ry="0.49" opacity="0.54"/>
<ellipse cx="223.0" cy="266.2" rx="0.65" ry="0.48" opacity="0.32"/>
<ellipse cx="225.7" cy="265.0" rx="0.92" ry="0.68" opacity="0.25"/>
<ellipse cx="223.1" cy="266.3" rx="0.43" ry="0.32" opacity="0.45"/>
<ellipse cx="224.9" cy="266.4" rx="0.64" ry="0.47" opacity="0.52"/>
<ellipse cx="223.3" cy="266.2" rx="0.78" ry="0.58" opacity="0.44"/>
<ellipse cx="225.8" cy="268.6" rx="0.87" ry="0.65" opacity="0.53"/>
<ellipse cx="224.5" cy="264.0" rx="0.78" ry="0.58" opacity="0.24"/>
<ellipse cx="222.0" cy="264.7" rx="0.59" ry="0.43" opacity="0.30"/>
<ellipse cx="226.4" cy="267.6" rx="0.82" ry="0.61" opacity="0.20"/>
<ellipse cx="222.9" cy="266.1" rx="0.70" ry="0.52" opacity="0.25"/>
<ellipse cx="225.3" cy="265.7" rx="0.69" ry="0.51" opacity="0.29"/>
<ellipse cx="223.5" cy="266.0" rx="0.57" ry="0.42" opacity="0.27"/>
<ellipse cx="223.2" cy="264.2" rx="0.87" ry="0.64" opacity="0.31"/>
<ellipse cx="225.1" cy="267.6" rx="0.45" ry="0.33" opacity="0.25"/>
<ellipse cx="220.5" cy="265.8" rx="0.52" ry="0.39" opacity="0.26"/>
<ellipse cx="220.9" cy="265.8" rx="0.67" ry="0.49" opacity="0.43"/>
<ellipse cx="223.5" cy="266.3" rx="0.44" ry="0.33" opacity="0.48"/>
<ellipse cx="222.9" cy="265.0" rx="0.58" ry="0.43" opacity="0.30"/>
<ellipse cx="225.4" cy="265.2" rx="0.79" ry="0.59" opacity="0.22"/>
<ellipse cx="224.9" cy="266.5" rx="0.75" ry="0.56" opacity="0.35"/>
<ellipse cx="225.8" cy="263.9" rx="0.76" ry="0.57" opacity="0.55"/>
<ellipse cx="226.9" cy="265.3" rx="0.45" ry="0.34" opacity="0.34"/>
<ellipse cx="225.1" cy="268.1" rx="0.68" ry="0.50" opacity="0.23"/>
<ellipse cx="225.5" cy="267.1" rx="0.74" ry="0.55" opacity="0.34"/>
<ellipse cx="220.3" cy="266.6" rx="0.78" ry="0.58" opacity="0.45"/>
<ellipse cx="222.1" cy="266.7" rx="0.87" ry="0.65" opacity="0.21"/>
<ellipse cx="223.7" cy="267.3" rx="0.73" ry="0.54" opacity="0.41"/>
<ellipse cx="225.5" cy="267.4" rx="0.72" ry="0.53" opacity="0.44"/>
<ellipse cx="226.3" cy="267.4" rx="0.55" ry="0.41" opacity="0.33"/>
<ellipse cx="225.9" cy="268.3" rx="0.74" ry="0.55" opacity="0.48"/>
<ellipse cx="222.2" cy="266.0" rx="0.62" ry="0.46" opacity="0.22"/>
<ellipse cx="226.2" cy="267.8" rx="0.41" ry="0.30" opacity="0.33"/>
<ellipse cx="226.6" cy="266.9" rx="0.94" ry="0.70" opacity="0.20"/>
<ellipse cx="220.7" cy="268.6" rx="0.54" ry="0.40" opacity="0.30"/>
<ellipse cx="227.1" cy="265.8" rx="0.61" ry="0.45" opacity="0.43"/>
<ellipse cx="223.9" cy="264.3" rx="0.41" ry="0.30" opacity="0.33"/>
<ellipse cx="221.9" cy="263.0" rx="0.64" ry="0.48" opacity="0.34"/>
<ellipse cx="209.5" cy="261.5" rx="2.80" ry="1.60" opacity="0.14"/>
<ellipse cx="208.0" cy="262.3" rx="0.42" ry="0.31" opacity="0.47"/>
<ellipse cx="209.8" cy="261.4" rx="0.41" ry="0.30" opacity="0.28"/>
<ellipse cx="211.0" cy="262.6" rx="0.87" ry="0.65" opacity="0.35"/>
<ellipse cx="210.6" cy="261.3" rx="0.51" ry="0.38" opacity="0.30"/>
<ellipse cx="208.5" cy="261.7" rx="0.90" ry="0.67" opacity="0.42"/>
<ellipse cx="209.2" cy="262.1" rx="0.56" ry="0.41" opacity="0.30"/>
<ellipse cx="208.1" cy="260.4" rx="0.92" ry="0.68" opacity="0.20"/>
<ellipse cx="210.0" cy="262.3" rx="0.92" ry="0.68" opacity="0.32"/>
<ellipse cx="209.0" cy="260.1" rx="0.65" ry="0.48" opacity="0.30"/>
<ellipse cx="209.8" cy="260.3" rx="0.94" ry="0.70" opacity="0.26"/>
<ellipse cx="211.2" cy="261.2" rx="0.87" ry="0.65" opacity="0.38"/>
<ellipse cx="207.2" cy="260.9" rx="0.45" ry="0.33" opacity="0.27"/>
<ellipse cx="207.0" cy="261.6" rx="0.51" ry="0.37" opacity="0.43"/>
<ellipse cx="210.8" cy="261.9" rx="0.66" ry="0.49" opacity="0.41"/>
<ellipse cx="217.5" cy="265.0" rx="3.00" ry="1.60" opacity="0.06"/>
<ellipse cx="214.8" cy="264.8" rx="0.78" ry="0.58" opacity="0.12"/>
<ellipse cx="215.8" cy="264.9" rx="0.88" ry="0.65" opacity="0.11"/>
<ellipse cx="218.0" cy="265.6" rx="0.54" ry="0.40" opacity="0.18"/>
<ellipse cx="217.0" cy="264.4" rx="0.63" ry="0.47" opacity="0.19"/>
<ellipse cx="218.7" cy="264.8" rx="0.91" ry="0.68" opacity="0.08"/>
<ellipse cx="219.0" cy="265.0" rx="0.92" ry="0.68" opacity="0.07"/>
<ellipse cx="216.4" cy="263.6" rx="0.85" ry="0.63" opacity="0.14"/>
<ellipse cx="218.2" cy="265.6" rx="0.91" ry="0.68" opacity="0.18"/>
<ellipse cx="217.8" cy="265.8" rx="0.74" ry="0.55" opacity="0.11"/>
<ellipse cx="218.1" cy="266.4" rx="0.47" ry="0.34" opacity="0.15"/>
<ellipse cx="215.9" cy="265.6" rx="0.88" ry="0.65" opacity="0.17"/>
<ellipse cx="217.5" cy="264.9" rx="0.84" ry="0.62" opacity="0.17"/>
<ellipse cx="218.7" cy="265.0" rx="0.80" ry="0.59" opacity="0.18"/>
<ellipse cx="214.8" cy="264.6" rx="0.45" ry="0.34" opacity="0.10"/>
<ellipse cx="218.6" cy="263.7" rx="0.53" ry="0.39" opacity="0.14"/>
<ellipse cx="206.5" cy="262.5" rx="2.20" ry="1.40" opacity="0.10"/>
<ellipse cx="204.8" cy="262.9" rx="0.62" ry="0.46" opacity="0.20"/>
<ellipse cx="206.6" cy="261.4" rx="0.60" ry="0.44" opacity="0.28"/>
<ellipse cx="206.4" cy="263.4" rx="0.51" ry="0.38" opacity="0.20"/>
<ellipse cx="206.1" cy="262.7" rx="0.57" ry="0.42" opacity="0.20"/>
<ellipse cx="205.8" cy="263.3" rx="0.89" ry="0.66" opacity="0.32"/>
<ellipse cx="206.3" cy="262.9" rx="0.45" ry="0.34" opacity="0.32"/>
<ellipse cx="206.6" cy="261.3" rx="0.90" ry="0.66" opacity="0.21"/>
<ellipse cx="206.7" cy="262.8" rx="0.62" ry="0.46" opacity="0.30"/>
<ellipse cx="207.7" cy="262.9" rx="0.45" ry="0.33" opacity="0.17"/>
<ellipse cx="228.0" cy="256.0" rx="5.00" ry="3.00" opacity="0.03"/>
<ellipse cx="224.4" cy="255.2" rx="0.91" ry="0.68" opacity="0.07"/>
<ellipse cx="228.1" cy="256.6" rx="0.51" ry="0.38" opacity="0.04"/>
<ellipse cx="229.4" cy="256.0" rx="0.69" ry="0.51" opacity="0.08"/>
<ellipse cx="230.7" cy="254.9" rx="0.45" ry="0.33" opacity="0.05"/>
<ellipse cx="226.5" cy="253.2" rx="0.81" ry="0.60" opacity="0.06"/>
<ellipse cx="226.3" cy="257.5" rx="0.64" ry="0.47" opacity="0.06"/>
<ellipse cx="228.3" cy="256.3" rx="0.88" ry="0.65" opacity="0.12"/>
<ellipse cx="230.8" cy="255.8" rx="0.78" ry="0.57" opacity="0.06"/>
<ellipse cx="228.1" cy="256.1" rx="0.58" ry="0.43" opacity="0.10"/>
<ellipse cx="225.9" cy="255.8" rx="0.66" ry="0.49" opacity="0.08"/>
<ellipse cx="229.0" cy="257.7" rx="0.91" ry="0.67" opacity="0.08"/>
<ellipse cx="232.1" cy="255.8" rx="0.47" ry="0.35" opacity="0.11"/>
<ellipse cx="226.9" cy="254.3" rx="0.51" ry="0.38" opacity="0.09"/>
<ellipse cx="229.2" cy="257.8" rx="0.49" ry="0.36" opacity="0.07"/>
<ellipse cx="231.6" cy="255.5" rx="0.68" ry="0.51" opacity="0.09"/>
<ellipse cx="225.9" cy="254.2" rx="0.56" ry="0.41" opacity="0.06"/>
<ellipse cx="224.2" cy="254.2" rx="0.88" ry="0.65" opacity="0.08"/>
<ellipse cx="227.0" cy="258.1" rx="0.43" ry="0.32" opacity="0.08"/>
<ellipse cx="229.0" cy="253.1" rx="0.45" ry="0.34" opacity="0.06"/>
<ellipse cx="224.3" cy="256.3" rx="0.93" ry="0.69" opacity="0.05"/>
<ellipse cx="230.2" cy="257.4" rx="0.83" ry="0.62" opacity="0.04"/>
<ellipse cx="220.0" cy="252.0" rx="4.00" ry="2.00" opacity="0.03"/>
<ellipse cx="217.6" cy="253.1" rx="0.63" ry="0.47" opacity="0.05"/>
<ellipse cx="223.1" cy="252.7" rx="0.68" ry="0.50" opacity="0.07"/>
<ellipse cx="218.6" cy="250.4" rx="0.62" ry="0.46" opacity="0.06"/>
<ellipse cx="220.7" cy="251.8" rx="0.82" ry="0.61" opacity="0.06"/>
<ellipse cx="218.3" cy="251.8" rx="0.91" ry="0.68" opacity="0.05"/>
<ellipse cx="219.7" cy="252.3" rx="0.89" ry="0.66" opacity="0.09"/>
<ellipse cx="221.2" cy="252.2" rx="0.56" ry="0.42" opacity="0.04"/>
<ellipse cx="216.4" cy="252.0" rx="0.79" ry="0.59" opacity="0.07"/>
<ellipse cx="221.9" cy="251.9" rx="0.58" ry="0.43" opacity="0.05"/>
<ellipse cx="218.0" cy="251.2" rx="0.47" ry="0.35" opacity="0.07"/>
<ellipse cx="223.6" cy="251.6" rx="0.74" ry="0.55" opacity="0.09"/>
<ellipse cx="200.8" cy="311.5" rx="1.60" ry="1.10" opacity="0.17"/>
<ellipse cx="199.8" cy="311.6" rx="0.78" ry="0.58" opacity="0.29"/>
<ellipse cx="199.9" cy="311.1" rx="0.57" ry="0.42" opacity="0.40"/>
<ellipse cx="201.3" cy="312.3" rx="0.47" ry="0.35" opacity="0.38"/>
<ellipse cx="201.8" cy="311.8" rx="0.46" ry="0.34" opacity="0.53"/>
<ellipse cx="202.2" cy="311.6" rx="0.57" ry="0.42" opacity="0.58"/>
<ellipse cx="219.1" cy="309.9" rx="2.20" ry="1.30" opacity="0.10"/>
<ellipse cx="218.8" cy="310.3" rx="0.77" ry="0.57" opacity="0.18"/>
<ellipse cx="219.6" cy="309.1" rx="0.55" ry="0.41" opacity="0.26"/>
<ellipse cx="219.3" cy="310.5" rx="0.45" ry="0.33" opacity="0.18"/>
<ellipse cx="219.2" cy="310.3" rx="0.63" ry="0.47" opacity="0.22"/>
<ellipse cx="217.8" cy="309.4" rx="0.77" ry="0.57" opacity="0.26"/>
<ellipse cx="217.1" cy="310.1" rx="0.48" ry="0.36" opacity="0.19"/>
<ellipse cx="221.2" cy="310.0" rx="0.88" ry="0.65" opacity="0.22"/>
<ellipse cx="220.0" cy="309.1" rx="0.91" ry="0.67" opacity="0.33"/>
<ellipse cx="218.6" cy="310.4" rx="0.63" ry="0.47" opacity="0.34"/>
<ellipse cx="226.0" cy="303.4" rx="2.00" ry="1.20" opacity="0.10"/>
<ellipse cx="224.9" cy="303.5" rx="0.42" ry="0.31" opacity="0.21"/>
<ellipse cx="227.1" cy="303.1" rx="0.83" ry="0.62" opacity="0.33"/>
<ellipse cx="227.5" cy="303.0" rx="0.67" ry="0.50" opacity="0.19"/>
<ellipse cx="227.6" cy="303.0" rx="0.81" ry="0.60" opacity="0.14"/>
<ellipse cx="225.0" cy="302.6" rx="0.48" ry="0.35" opacity="0.20"/>
<ellipse cx="225.2" cy="303.5" rx="0.46" ry="0.34" opacity="0.16"/>
<ellipse cx="225.9" cy="303.4" rx="0.83" ry="0.62" opacity="0.22"/>
<ellipse cx="231.7" cy="298.9" rx="1.80" ry="1.20" opacity="0.08"/>
<ellipse cx="231.6" cy="299.4" rx="0.58" ry="0.43" opacity="0.22"/>
<ellipse cx="231.5" cy="298.2" rx="0.79" ry="0.59" opacity="0.22"/>
<ellipse cx="232.3" cy="298.0" rx="0.82" ry="0.61" opacity="0.11"/>
<ellipse cx="231.4" cy="299.2" rx="0.85" ry="0.63" opacity="0.14"/>
<ellipse cx="232.5" cy="298.6" rx="0.49" ry="0.36" opacity="0.24"/>
<ellipse cx="232.1" cy="299.5" rx="0.64" ry="0.48" opacity="0.23"/>
<ellipse cx="212.3" cy="305.7" rx="2.00" ry="1.20" opacity="0.10"/>
<ellipse cx="210.7" cy="305.6" rx="0.83" ry="0.62" opacity="0.34"/>
<ellipse cx="211.4" cy="305.2" rx="0.67" ry="0.50" opacity="0.20"/>
<ellipse cx="213.0" cy="305.0" rx="0.78" ry="0.58" opacity="0.31"/>
<ellipse cx="211.7" cy="304.6" rx="0.65" ry="0.48" opacity="0.28"/>
<ellipse cx="213.3" cy="305.2" rx="0.85" ry="0.63" opacity="0.19"/>
<ellipse cx="213.3" cy="306.6" rx="0.70" ry="0.52" opacity="0.34"/>
<ellipse cx="211.6" cy="305.4" rx="0.47" ry="0.35" opacity="0.33"/>
<ellipse cx="210.0" cy="299.3" rx="1.60" ry="1.00" opacity="0.08"/>
<ellipse cx="210.0" cy="299.6" rx="0.69" ry="0.51" opacity="0.24"/>
<ellipse cx="209.8" cy="299.2" rx="0.83" ry="0.61" opacity="0.24"/>
<ellipse cx="209.3" cy="300.1" rx="0.67" ry="0.50" opacity="0.25"/>
<ellipse cx="210.7" cy="299.6" rx="0.81" ry="0.60" opacity="0.24"/>
<ellipse cx="209.6" cy="298.5" rx="0.42" ry="0.31" opacity="0.27"/>
<ellipse cx="237.9" cy="272.5" rx="1.00" ry="1.60" opacity="0.11"/>
<ellipse cx="238.3" cy="272.7" rx="0.57" ry="0.42" opacity="0.27"/>
<ellipse cx="238.4" cy="273.0" rx="0.48" ry="0.36" opacity="0.23"/>
<ellipse cx="237.7" cy="272.9" rx="0.84" ry="0.62" opacity="0.15"/>
<ellipse cx="238.2" cy="273.9" rx="0.62" ry="0.46" opacity="0.39"/>
<ellipse cx="237.7" cy="273.5" rx="0.69" ry="0.51" opacity="0.25"/>
<ellipse cx="204.3" cy="245.5" rx="2.00" ry="0.90" opacity="0.07"/>
<ellipse cx="205.5" cy="245.5" rx="0.84" ry="0.62" opacity="0.17"/>
<ellipse cx="203.2" cy="246.2" rx="0.90" ry="0.67" opacity="0.09"/>
<ellipse cx="202.9" cy="245.1" rx="0.68" ry="0.50" opacity="0.15"/>
<ellipse cx="204.2" cy="245.2" rx="0.66" ry="0.49" opacity="0.12"/>
<ellipse cx="205.4" cy="244.9" rx="0.62" ry="0.46" opacity="0.22"/>
<ellipse cx="223.7" cy="250.7" rx="1.60" ry="0.90" opacity="0.06"/>
<ellipse cx="222.5" cy="250.5" rx="0.53" ry="0.40" opacity="0.17"/>
<ellipse cx="222.8" cy="250.0" rx="0.55" ry="0.40" opacity="0.12"/>
<ellipse cx="223.8" cy="250.3" rx="0.82" ry="0.61" opacity="0.18"/>
<ellipse cx="224.4" cy="251.3" rx="0.56" ry="0.42" opacity="0.11"/>
<ellipse cx="205.0" cy="316.0" rx="3.00" ry="1.20" opacity="0.07"/>
<ellipse cx="203.5" cy="316.8" rx="0.75" ry="0.56" opacity="0.15"/>
<ellipse cx="203.9" cy="315.0" rx="0.51" ry="0.38" opacity="0.23"/>
<ellipse cx="202.7" cy="315.9" rx="0.87" ry="0.64" opacity="0.12"/>
<ellipse cx="202.6" cy="316.2" rx="0.41" ry="0.31" opacity="0.15"/>
<ellipse cx="203.2" cy="315.8" rx="0.68" ry="0.50" opacity="0.22"/>
<ellipse cx="206.9" cy="316.6" rx="0.56" ry="0.41" opacity="0.10"/>
<ellipse cx="204.1" cy="316.1" rx="0.65" ry="0.48" opacity="0.11"/>
<ellipse cx="204.1" cy="316.1" rx="0.94" ry="0.70" opacity="0.12"/>
<ellipse cx="202.9" cy="316.3" rx="0.77" ry="0.57" opacity="0.11"/>
<ellipse cx="206.0" cy="315.5" rx="0.45" ry="0.33" opacity="0.16"/>
<ellipse cx="203.8" cy="315.5" rx="0.80" ry="0.59" opacity="0.14"/>
<ellipse cx="228.0" cy="313.0" rx="3.00" ry="1.40" opacity="0.06"/>
<ellipse cx="229.2" cy="311.8" rx="0.85" ry="0.63" opacity="0.08"/>
<ellipse cx="226.2" cy="313.5" rx="0.61" ry="0.45" opacity="0.09"/>
<ellipse cx="227.3" cy="312.8" rx="0.50" ry="0.37" opacity="0.12"/>
<ellipse cx="229.7" cy="313.0" rx="0.93" ry="0.69" opacity="0.16"/>
<ellipse cx="226.3" cy="311.9" rx="0.72" ry="0.53" opacity="0.17"/>
<ellipse cx="225.4" cy="313.2" rx="0.88" ry="0.65" opacity="0.07"/>
<ellipse cx="228.4" cy="312.9" rx="0.75" ry="0.56" opacity="0.08"/>
<ellipse cx="228.1" cy="312.2" rx="0.48" ry="0.35" opacity="0.18"/>
<ellipse cx="228.0" cy="314.3" rx="0.61" ry="0.45" opacity="0.14"/>
<ellipse cx="225.6" cy="313.4" rx="0.60" ry="0.44" opacity="0.14"/>
<ellipse cx="228.2" cy="313.7" rx="0.46" ry="0.34" opacity="0.10"/>
<ellipse cx="227.6" cy="314.1" rx="0.48" ry="0.36" opacity="0.09"/>
<ellipse cx="230.3" cy="312.8" rx="0.45" ry="0.33" opacity="0.18"/>
</g>
<rect x="240.60" y="239.60" width="39.20" height="80.40" fill="#000"/>
<clipPath id="c240"><rect x="240.6" y="239.6" width="39.20000000000002" height="80.4"/></clipPath><g clip-path="url(#c240)">
<ellipse cx="270.4" cy="288.6" rx="0.94" ry="0.59" opacity="0.14"/>
<ellipse cx="246.1" cy="240.5" rx="0.52" ry="0.33" opacity="0.13"/>
<ellipse cx="262.3" cy="306.6" rx="0.51" ry="0.32" opacity="0.06"/>
<ellipse cx="244.3" cy="268.8" rx="0.93" ry="0.58" opacity="0.18"/>
<ellipse cx="242.3" cy="287.1" rx="0.57" ry="0.35" opacity="0.09"/>
<ellipse cx="253.2" cy="259.4" rx="0.62" ry="0.39" opacity="0.09"/>
<ellipse cx="254.1" cy="287.1" rx="0.75" ry="0.47" opacity="0.17"/>
<ellipse cx="251.6" cy="241.8" rx="0.75" ry="0.47" opacity="0.10"/>
<ellipse cx="248.8" cy="272.5" rx="0.93" ry="0.58" opacity="0.15"/>
<ellipse cx="268.7" cy="243.1" rx="0.74" ry="0.46" opacity="0.17"/>
<ellipse cx="274.5" cy="300.7" rx="0.50" ry="0.32" opacity="0.22"/>
<ellipse cx="241.2" cy="301.5" rx="0.71" ry="0.44" opacity="0.21"/>
<ellipse cx="277.7" cy="299.7" rx="0.52" ry="0.32" opacity="0.16"/>
<ellipse cx="245.2" cy="273.7" rx="0.54" ry="0.34" opacity="0.10"/>
<ellipse cx="242.7" cy="283.0" rx="0.52" ry="0.33" opacity="0.09"/>
<ellipse cx="271.1" cy="263.2" rx="0.76" ry="0.47" opacity="0.20"/>
<ellipse cx="265.5" cy="305.4" rx="0.93" ry="0.58" opacity="0.09"/>
<ellipse cx="247.9" cy="319.5" rx="0.92" ry="0.58" opacity="0.10"/>
<ellipse cx="276.9" cy="246.5" rx="0.59" ry="0.37" opacity="0.20"/>
<ellipse cx="244.7" cy="308.9" rx="0.59" ry="0.37" opacity="0.18"/>
<ellipse cx="245.6" cy="279.9" rx="0.76" ry="0.47" opacity="0.14"/>
<ellipse cx="274.4" cy="242.4" rx="0.82" ry="0.51" opacity="0.19"/>
<ellipse cx="261.1" cy="258.5" rx="0.86" ry="0.54" opacity="0.12"/>
<ellipse cx="250.8" cy="301.8" rx="0.85" ry="0.53" opacity="0.19"/>
<ellipse cx="260.0" cy="240.8" rx="0.49" ry="0.31" opacity="0.14"/>
<ellipse cx="242.0" cy="289.6" rx="0.54" ry="0.34" opacity="0.18"/>
<ellipse cx="241.4" cy="295.1" rx="0.59" ry="0.37" opacity="0.22"/>
<ellipse cx="259.2" cy="281.2" rx="0.89" ry="0.55" opacity="0.10"/>
<ellipse cx="278.7" cy="263.3" rx="0.50" ry="0.31" opacity="0.10"/>
<ellipse cx="255.0" cy="287.6" rx="0.51" ry="0.32" opacity="0.20"/>
<ellipse cx="271.1" cy="299.6" rx="0.95" ry="0.60" opacity="0.06"/>
<ellipse cx="267.5" cy="308.4" rx="0.57" ry="0.35" opacity="0.12"/>
<ellipse cx="248.4" cy="314.0" rx="0.71" ry="0.44" opacity="0.19"/>
<ellipse cx="250.5" cy="288.0" rx="0.84" ry="0.52" opacity="0.11"/>
<ellipse cx="251.1" cy="246.4" rx="0.78" ry="0.49" opacity="0.12"/>
<ellipse cx="248.4" cy="265.4" rx="0.63" ry="0.40" opacity="0.07"/>
<ellipse cx="263.8" cy="252.0" rx="0.58" ry="0.36" opacity="0.11"/>
<ellipse cx="279.3" cy="296.6" rx="0.58" ry="0.36" opacity="0.19"/>
<ellipse cx="277.4" cy="266.1" rx="0.86" ry="0.54" opacity="0.16"/>
<ellipse cx="262.3" cy="312.3" rx="0.80" ry="0.50" opacity="0.16"/>
<ellipse cx="277.3" cy="276.2" rx="0.53" ry="0.33" opacity="0.05"/>
<ellipse cx="268.9" cy="277.4" rx="0.90" ry="0.56" opacity="0.22"/>
<ellipse cx="250.6" cy="255.6" rx="0.76" ry="0.47" opacity="0.05"/>
<ellipse cx="244.6" cy="245.6" rx="0.62" ry="0.39" opacity="0.13"/>
<ellipse cx="248.3" cy="294.9" rx="0.84" ry="0.53" opacity="0.19"/>
<ellipse cx="262.0" cy="300.2" rx="0.86" ry="0.54" opacity="0.17"/>
<ellipse cx="253.0" cy="285.8" rx="0.88" ry="0.55" opacity="0.09"/>
<ellipse cx="254.7" cy="240.5" rx="0.77" ry="0.48" opacity="0.07"/>
<ellipse cx="258.1" cy="254.7" rx="0.54" ry="0.33" opacity="0.20"/>
<ellipse cx="253.5" cy="316.6" rx="0.83" ry="0.52" opacity="0.15"/>
<ellipse cx="260.9" cy="261.5" rx="3.60" ry="1.40" opacity="0.14"/>
<ellipse cx="258.1" cy="261.6" rx="0.84" ry="0.62" opacity="0.24"/>
<ellipse cx="259.3" cy="261.3" rx="0.51" ry="0.37" opacity="0.25"/>
<ellipse cx="261.7" cy="260.2" rx="0.64" ry="0.47" opacity="0.23"/>
<ellipse cx="261.7" cy="262.1" rx="0.61" ry="0.45" opacity="0.46"/>
<ellipse cx="258.6" cy="261.4" rx="0.74" ry="0.55" opacity="0.23"/>
<ellipse cx="259.4" cy="262.1" rx="0.44" ry="0.33" opacity="0.27"/>
<ellipse cx="258.5" cy="261.0" rx="0.55" ry="0.41" opacity="0.20"/>
<ellipse cx="259.8" cy="261.3" rx="0.41" ry="0.30" opacity="0.49"/>
<ellipse cx="260.5" cy="260.2" rx="0.58" ry="0.43" opacity="0.43"/>
<ellipse cx="262.5" cy="260.7" rx="0.42" ry="0.31" opacity="0.26"/>
<ellipse cx="259.4" cy="262.1" rx="0.71" ry="0.53" opacity="0.24"/>
<ellipse cx="261.0" cy="261.6" rx="0.62" ry="0.46" opacity="0.21"/>
<ellipse cx="260.9" cy="261.6" rx="0.86" ry="0.64" opacity="0.25"/>
<ellipse cx="258.3" cy="261.5" rx="0.43" ry="0.32" opacity="0.35"/>
<ellipse cx="261.4" cy="260.9" rx="0.75" ry="0.55" opacity="0.41"/>
<ellipse cx="259.1" cy="261.2" rx="0.68" ry="0.50" opacity="0.39"/>
<ellipse cx="256.5" cy="260.5" rx="1.80" ry="1.00" opacity="0.10"/>
<ellipse cx="255.1" cy="260.8" rx="0.81" ry="0.60" opacity="0.29"/>
<ellipse cx="256.0" cy="260.6" rx="0.50" ry="0.37" opacity="0.19"/>
<ellipse cx="256.2" cy="260.4" rx="0.57" ry="0.42" opacity="0.16"/>
<ellipse cx="255.8" cy="260.4" rx="0.85" ry="0.63" opacity="0.14"/>
<ellipse cx="255.6" cy="261.2" rx="0.86" ry="0.63" opacity="0.21"/>
<ellipse cx="251.7" cy="255.3" rx="1.60" ry="1.00" opacity="0.08"/>
<ellipse cx="253.1" cy="255.0" rx="0.71" ry="0.53" opacity="0.17"/>
<ellipse cx="252.1" cy="256.0" rx="0.44" ry="0.32" opacity="0.23"/>
<ellipse cx="251.8" cy="255.7" rx="0.74" ry="0.55" opacity="0.18"/>
<ellipse cx="252.2" cy="255.4" rx="0.83" ry="0.62" opacity="0.18"/>
<ellipse cx="251.9" cy="254.6" rx="0.41" ry="0.30" opacity="0.17"/>
<ellipse cx="243.7" cy="255.8" rx="1.20" ry="0.90" opacity="0.08"/>
<ellipse cx="243.3" cy="255.6" rx="0.48" ry="0.35" opacity="0.30"/>
<ellipse cx="243.3" cy="256.4" rx="0.64" ry="0.48" opacity="0.30"/>
<ellipse cx="243.7" cy="255.9" rx="0.76" ry="0.56" opacity="0.24"/>
<ellipse cx="250.6" cy="276.4" rx="1.80" ry="1.00" opacity="0.07"/>
<ellipse cx="250.8" cy="276.2" rx="0.50" ry="0.37" opacity="0.16"/>
<ellipse cx="250.5" cy="276.7" rx="0.48" ry="0.36" opacity="0.09"/>
<ellipse cx="250.1" cy="276.5" rx="0.42" ry="0.31" opacity="0.10"/>
<ellipse cx="250.2" cy="275.7" rx="0.59" ry="0.44" opacity="0.22"/>
<ellipse cx="251.6" cy="276.6" rx="0.91" ry="0.67" opacity="0.10"/>
<ellipse cx="275.8" cy="295.4" rx="2.60" ry="2.80" opacity="0.11"/>
<ellipse cx="276.8" cy="296.9" rx="0.59" ry="0.44" opacity="0.16"/>
<ellipse cx="277.0" cy="293.3" rx="0.72" ry="0.53" opacity="0.25"/>
<ellipse cx="274.2" cy="294.8" rx="0.71" ry="0.53" opacity="0.22"/>
<ellipse cx="276.5" cy="293.7" rx="0.53" ry="0.39" opacity="0.29"/>
<ellipse cx="276.1" cy="293.6" rx="0.58" ry="0.43" opacity="0.28"/>
<ellipse cx="275.5" cy="294.5" rx="0.88" ry="0.65" opacity="0.25"/>
<ellipse cx="274.3" cy="296.3" rx="0.82" ry="0.60" opacity="0.18"/>
<ellipse cx="276.5" cy="297.1" rx="0.41" ry="0.31" opacity="0.25"/>
<ellipse cx="276.5" cy="296.2" rx="0.60" ry="0.45" opacity="0.37"/>
<ellipse cx="274.9" cy="294.6" rx="0.75" ry="0.56" opacity="0.27"/>
<ellipse cx="277.4" cy="295.4" rx="0.78" ry="0.58" opacity="0.35"/>
<ellipse cx="276.0" cy="295.3" rx="0.68" ry="0.51" opacity="0.24"/>
<ellipse cx="273.6" cy="296.2" rx="0.64" ry="0.47" opacity="0.28"/>
<ellipse cx="275.9" cy="292.8" rx="0.72" ry="0.53" opacity="0.28"/>
<ellipse cx="277.0" cy="296.3" rx="0.51" ry="0.38" opacity="0.34"/>
<ellipse cx="275.4" cy="294.7" rx="0.72" ry="0.53" opacity="0.37"/>
<ellipse cx="276.6" cy="294.1" rx="0.60" ry="0.45" opacity="0.28"/>
<ellipse cx="273.6" cy="296.8" rx="0.86" ry="0.64" opacity="0.37"/>
<ellipse cx="276.5" cy="295.4" rx="0.92" ry="0.68" opacity="0.23"/>
<ellipse cx="275.7" cy="297.5" rx="0.62" ry="0.46" opacity="0.19"/>
<ellipse cx="276.7" cy="295.2" rx="0.45" ry="0.33" opacity="0.24"/>
<ellipse cx="276.8" cy="293.2" rx="0.65" ry="0.48" opacity="0.25"/>
<ellipse cx="277.3" cy="297.3" rx="0.81" ry="0.60" opacity="0.20"/>
<ellipse cx="272.0" cy="290.0" rx="2.00" ry="1.60" opacity="0.06"/>
<ellipse cx="271.1" cy="288.7" rx="0.60" ry="0.44" opacity="0.10"/>
<ellipse cx="271.9" cy="288.8" rx="0.62" ry="0.46" opacity="0.07"/>
<ellipse cx="271.3" cy="291.2" rx="0.51" ry="0.37" opacity="0.13"/>
<ellipse cx="272.1" cy="289.2" rx="0.47" ry="0.35" opacity="0.16"/>
<ellipse cx="271.4" cy="288.9" rx="0.90" ry="0.66" opacity="0.12"/>
<ellipse cx="270.8" cy="289.9" rx="0.87" ry="0.64" opacity="0.11"/>
<ellipse cx="272.1" cy="290.9" rx="0.85" ry="0.63" opacity="0.17"/>
<ellipse cx="272.7" cy="291.3" rx="0.94" ry="0.69" opacity="0.11"/>
<ellipse cx="272.4" cy="288.8" rx="0.74" ry="0.55" opacity="0.10"/>
<ellipse cx="273.8" cy="290.0" rx="0.58" ry="0.43" opacity="0.18"/>
<ellipse cx="257.5" cy="305.3" rx="2.60" ry="1.70" opacity="0.11"/>
<ellipse cx="258.9" cy="304.1" rx="0.80" ry="0.59" opacity="0.33"/>
<ellipse cx="258.6" cy="303.8" rx="0.90" ry="0.67" opacity="0.37"/>
<ellipse cx="256.4" cy="306.8" rx="0.45" ry="0.34" opacity="0.19"/>
<ellipse cx="258.7" cy="304.4" rx="0.92" ry="0.68" opacity="0.23"/>
<ellipse cx="258.3" cy="305.5" rx="0.88" ry="0.65" opacity="0.35"/>
<ellipse cx="255.7" cy="305.9" rx="0.42" ry="0.31" opacity="0.38"/>
<ellipse cx="257.3" cy="305.9" rx="0.67" ry="0.49" opacity="0.26"/>
<ellipse cx="255.4" cy="305.4" rx="0.50" ry="0.37" opacity="0.35"/>
<ellipse cx="256.8" cy="306.2" rx="0.89" ry="0.66" opacity="0.33"/>
<ellipse cx="257.2" cy="303.8" rx="0.63" ry="0.47" opacity="0.23"/>
<ellipse cx="255.2" cy="305.1" rx="0.50" ry="0.37" opacity="0.32"/>
<ellipse cx="255.0" cy="305.6" rx="0.79" ry="0.58" opacity="0.38"/>
<ellipse cx="256.1" cy="305.9" rx="0.54" ry="0.40" opacity="0.19"/>
<ellipse cx="257.1" cy="305.9" rx="0.74" ry="0.55" opacity="0.29"/>
<ellipse cx="244.9" cy="316.0" rx="3.20" ry="1.20" opacity="0.24"/>
<ellipse cx="244.7" cy="315.0" rx="0.93" ry="0.69" opacity="0.59"/>
<ellipse cx="243.3" cy="315.5" rx="0.66" ry="0.49" opacity="0.49"/>
<ellipse cx="244.3" cy="316.6" rx="0.68" ry="0.50" opacity="0.54"/>
<ellipse cx="242.5" cy="315.7" rx="0.94" ry="0.69" opacity="0.62"/>
<ellipse cx="246.5" cy="316.0" rx="0.73" ry="0.54" opacity="0.62"/>
<ellipse cx="243.0" cy="316.2" rx="0.53" ry="0.39" opacity="0.84"/>
<ellipse cx="247.4" cy="316.5" rx="0.66" ry="0.49" opacity="0.49"/>
<ellipse cx="243.8" cy="317.1" rx="0.59" ry="0.43" opacity="0.62"/>
<ellipse cx="242.7" cy="316.5" rx="0.71" ry="0.52" opacity="0.59"/>
<ellipse cx="245.2" cy="316.1" rx="0.76" ry="0.56" opacity="0.30"/>
<ellipse cx="243.4" cy="315.9" rx="0.81" ry="0.60" opacity="0.48"/>
<ellipse cx="245.9" cy="316.1" rx="0.58" ry="0.43" opacity="0.65"/>
<ellipse cx="251.7" cy="313.7" rx="2.00" ry="1.00" opacity="0.11"/>
<ellipse cx="251.2" cy="312.8" rx="0.92" ry="0.68" opacity="0.28"/>
<ellipse cx="253.2" cy="313.9" rx="0.60" ry="0.44" opacity="0.30"/>
<ellipse cx="252.2" cy="314.2" rx="0.54" ry="0.40" opacity="0.32"/>
<ellipse cx="252.7" cy="313.5" rx="0.68" ry="0.50" opacity="0.31"/>
<ellipse cx="251.8" cy="313.2" rx="0.55" ry="0.41" opacity="0.31"/>
<ellipse cx="251.2" cy="314.3" rx="0.74" ry="0.55" opacity="0.28"/>
<ellipse cx="265.5" cy="313.7" rx="2.20" ry="1.00" opacity="0.08"/>
<ellipse cx="266.7" cy="313.6" rx="0.52" ry="0.39" opacity="0.18"/>
<ellipse cx="267.1" cy="313.2" rx="0.44" ry="0.32" opacity="0.14"/>
<ellipse cx="265.7" cy="314.6" rx="0.78" ry="0.58" opacity="0.14"/>
<ellipse cx="266.0" cy="312.8" rx="0.85" ry="0.63" opacity="0.17"/>
<ellipse cx="265.9" cy="313.3" rx="0.91" ry="0.67" opacity="0.13"/>
<ellipse cx="264.7" cy="314.0" rx="0.85" ry="0.63" opacity="0.25"/>
<ellipse cx="264.0" cy="313.6" rx="0.56" ry="0.42" opacity="0.22"/>
<ellipse cx="272.4" cy="310.3" rx="2.00" ry="1.00" opacity="0.08"/>
<ellipse cx="274.0" cy="310.5" rx="0.92" ry="0.68" opacity="0.19"/>
<ellipse cx="271.0" cy="310.5" rx="0.61" ry="0.45" opacity="0.29"/>
<ellipse cx="272.7" cy="310.9" rx="0.78" ry="0.58" opacity="0.25"/>
<ellipse cx="272.2" cy="310.6" rx="0.78" ry="0.58" opacity="0.13"/>
<ellipse cx="272.5" cy="310.2" rx="0.88" ry="0.65" opacity="0.26"/>
<ellipse cx="270.5" cy="310.3" rx="0.83" ry="0.61" opacity="0.24"/>
<ellipse cx="248.0" cy="318.0" rx="3.00" ry="1.00" opacity="0.08"/>
<ellipse cx="248.0" cy="318.2" rx="0.47" ry="0.35" opacity="0.12"/>
<ellipse cx="246.9" cy="317.3" rx="0.92" ry="0.68" opacity="0.18"/>
<ellipse cx="246.2" cy="318.7" rx="0.83" ry="0.62" opacity="0.30"/>
<ellipse cx="250.9" cy="318.1" rx="0.63" ry="0.47" opacity="0.26"/>
<ellipse cx="248.5" cy="318.7" rx="0.81" ry="0.60" opacity="0.25"/>
<ellipse cx="247.8" cy="317.8" rx="0.90" ry="0.67" opacity="0.12"/>
<ellipse cx="248.9" cy="317.4" rx="0.74" ry="0.55" opacity="0.15"/>
<ellipse cx="248.6" cy="317.2" rx="0.54" ry="0.40" opacity="0.29"/>
<ellipse cx="245.6" cy="318.5" rx="0.53" ry="0.39" opacity="0.18"/>
<ellipse cx="262.0" cy="247.0" rx="2.00" ry="1.00" opacity="0.03"/>
<ellipse cx="262.1" cy="247.1" rx="0.48" ry="0.36" opacity="0.05"/>
<ellipse cx="260.7" cy="246.9" rx="0.46" ry="0.34" opacity="0.11"/>
<ellipse cx="261.1" cy="246.5" rx="0.55" ry="0.41" opacity="0.07"/>
<ellipse cx="268.0" cy="271.0" rx="2.00" ry="1.00" opacity="0.03"/>
<ellipse cx="269.0" cy="270.7" rx="0.68" ry="0.50" opacity="0.11"/>
<ellipse cx="266.5" cy="271.5" rx="0.44" ry="0.33" opacity="0.10"/>
<ellipse cx="268.7" cy="271.3" rx="0.45" ry="0.33" opacity="0.11"/>
</g>
<rect x="281.60" y="239.60" width="39.30" height="80.40" fill="#000"/>
<clipPath id="c281"><rect x="281.6" y="239.6" width="39.299999999999955" height="80.4"/></clipPath><g clip-path="url(#c281)">
<ellipse cx="316.7" cy="303.4" rx="0.85" ry="0.47" opacity="0.09"/>
<ellipse cx="302.0" cy="311.9" rx="0.99" ry="0.55" opacity="0.06"/>
<ellipse cx="320.4" cy="315.9" rx="0.91" ry="0.51" opacity="0.07"/>
<ellipse cx="309.6" cy="289.8" rx="0.54" ry="0.30" opacity="0.19"/>
<ellipse cx="282.3" cy="244.6" rx="0.97" ry="0.54" opacity="0.28"/>
<ellipse cx="294.4" cy="252.2" rx="0.71" ry="0.40" opacity="0.13"/>
<ellipse cx="303.5" cy="261.6" rx="1.11" ry="0.62" opacity="0.06"/>
<ellipse cx="290.6" cy="289.8" rx="0.82" ry="0.46" opacity="0.08"/>
<ellipse cx="296.8" cy="262.2" rx="1.04" ry="0.58" opacity="0.13"/>
<ellipse cx="306.7" cy="293.9" rx="0.80" ry="0.45" opacity="0.07"/>
<ellipse cx="302.6" cy="248.3" rx="0.69" ry="0.38" opacity="0.33"/>
<ellipse cx="288.5" cy="316.6" rx="0.64" ry="0.36" opacity="0.07"/>
<ellipse cx="282.8" cy="307.1" rx="1.10" ry="0.61" opacity="0.14"/>
<ellipse cx="295.2" cy="267.0" rx="0.94" ry="0.52" opacity="0.15"/>
<ellipse cx="300.0" cy="292.0" rx="0.71" ry="0.40" opacity="0.10"/>
<ellipse cx="307.3" cy="292.0" rx="0.54" ry="0.30" opacity="0.19"/>
<ellipse cx="314.9" cy="287.3" rx="0.97" ry="0.54" opacity="0.34"/>
<ellipse cx="289.6" cy="271.4" rx="0.63" ry="0.35" opacity="0.32"/>
<ellipse cx="304.6" cy="309.9" rx="0.95" ry="0.53" opacity="0.16"/>
<ellipse cx="309.5" cy="261.4" rx="0.86" ry="0.48" opacity="0.24"/>
<ellipse cx="312.1" cy="259.3" rx="1.02" ry="0.56" opacity="0.22"/>
<ellipse cx="306.3" cy="247.3" rx="0.87" ry="0.48" opacity="0.09"/>
<ellipse cx="306.4" cy="303.3" rx="0.78" ry="0.43" opacity="0.19"/>
<ellipse cx="306.1" cy="284.5" rx="1.16" ry="0.64" opacity="0.30"/>
<ellipse cx="308.5" cy="267.7" rx="0.57" ry="0.32" opacity="0.26"/>
<ellipse cx="290.4" cy="296.2" rx="0.95" ry="0.53" opacity="0.31"/>
<ellipse cx="283.9" cy="278.4" rx="0.75" ry="0.42" opacity="0.16"/>
<ellipse cx="291.7" cy="306.6" rx="0.83" ry="0.46" opacity="0.22"/>
<ellipse cx="286.2" cy="284.3" rx="0.94" ry="0.52" opacity="0.10"/>
<ellipse cx="294.9" cy="261.0" rx="0.89" ry="0.49" opacity="0.08"/>
<ellipse cx="320.2" cy="270.9" rx="1.12" ry="0.62" opacity="0.07"/>
<ellipse cx="311.1" cy="311.9" rx="0.82" ry="0.45" opacity="0.17"/>
<ellipse cx="306.1" cy="264.2" rx="0.70" ry="0.39" opacity="0.33"/>
<ellipse cx="306.9" cy="279.7" rx="0.83" ry="0.46" opacity="0.29"/>
<ellipse cx="310.7" cy="262.2" rx="0.74" ry="0.41" opacity="0.18"/>
<ellipse cx="283.8" cy="273.3" rx="0.61" ry="0.34" opacity="0.25"/>
<ellipse cx="294.7" cy="265.8" rx="0.68" ry="0.38" opacity="0.13"/>
<ellipse cx="290.6" cy="310.8" rx="0.83" ry="0.46" opacity="0.22"/>
<ellipse cx="294.1" cy="316.3" rx="0.92" ry="0.51" opacity="0.11"/>
<ellipse cx="308.3" cy="239.7" rx="1.17" ry="0.65" opacity="0.27"/>
<ellipse cx="290.0" cy="274.1" rx="1.11" ry="0.62" opacity="0.28"/>
<ellipse cx="312.5" cy="286.2" rx="0.66" ry="0.37" opacity="0.25"/>
<ellipse cx="304.3" cy="251.7" rx="0.58" ry="0.32" opacity="0.21"/>
<ellipse cx="317.7" cy="266.0" rx="0.94" ry="0.52" opacity="0.09"/>
<ellipse cx="316.1" cy="310.9" rx="0.73" ry="0.41" opacity="0.27"/>
<ellipse cx="310.7" cy="274.3" rx="1.09" ry="0.61" opacity="0.07"/>
<ellipse cx="292.9" cy="249.0" rx="1.06" ry="0.59" opacity="0.27"/>
<ellipse cx="290.6" cy="292.6" rx="0.86" ry="0.48" opacity="0.22"/>
<ellipse cx="298.0" cy="285.1" rx="0.89" ry="0.50" opacity="0.15"/>
<ellipse cx="296.0" cy="252.7" rx="0.94" ry="0.52" opacity="0.30"/>
<ellipse cx="290.6" cy="286.9" rx="0.79" ry="0.44" opacity="0.11"/>
<ellipse cx="284.1" cy="242.6" rx="1.01" ry="0.56" opacity="0.10"/>
<ellipse cx="292.7" cy="280.6" rx="0.66" ry="0.37" opacity="0.23"/>
<ellipse cx="300.2" cy="257.6" rx="0.97" ry="0.54" opacity="0.25"/>
<ellipse cx="319.0" cy="266.6" rx="1.03" ry="0.57" opacity="0.24"/>
<ellipse cx="304.1" cy="242.5" rx="0.73" ry="0.41" opacity="0.18"/>
<ellipse cx="283.4" cy="247.6" rx="1.06" ry="0.59" opacity="0.09"/>
<ellipse cx="303.6" cy="258.8" rx="0.87" ry="0.48" opacity="0.17"/>
<ellipse cx="292.1" cy="276.3" rx="0.72" ry="0.40" opacity="0.33"/>
<ellipse cx="299.7" cy="249.8" rx="1.01" ry="0.56" opacity="0.11"/>
<ellipse cx="310.8" cy="301.9" rx="1.12" ry="0.62" opacity="0.21"/>
<ellipse cx="311.0" cy="303.2" rx="1.05" ry="0.59" opacity="0.24"/>
<ellipse cx="316.7" cy="299.5" rx="0.78" ry="0.43" opacity="0.17"/>
<ellipse cx="314.6" cy="314.1" rx="0.78" ry="0.43" opacity="0.33"/>
<ellipse cx="312.8" cy="295.5" rx="0.75" ry="0.42" opacity="0.14"/>
<ellipse cx="293.0" cy="294.8" rx="0.83" ry="0.46" opacity="0.12"/>
<ellipse cx="287.4" cy="304.7" rx="0.66" ry="0.37" opacity="0.11"/>
<ellipse cx="302.5" cy="244.0" rx="0.79" ry="0.44" opacity="0.12"/>
<ellipse cx="315.4" cy="284.2" rx="0.85" ry="0.47" opacity="0.20"/>
<ellipse cx="282.3" cy="307.4" rx="1.14" ry="0.63" opacity="0.06"/>
<ellipse cx="303.8" cy="302.8" rx="1.07" ry="0.60" opacity="0.34"/>
<ellipse cx="317.1" cy="310.8" rx="0.63" ry="0.35" opacity="0.35"/>
<ellipse cx="320.3" cy="291.4" rx="1.09" ry="0.61" opacity="0.14"/>
<ellipse cx="298.6" cy="248.4" rx="0.84" ry="0.47" opacity="0.35"/>
<ellipse cx="309.3" cy="276.6" rx="0.74" ry="0.41" opacity="0.12"/>
<ellipse cx="298.5" cy="262.8" rx="0.85" ry="0.47" opacity="0.23"/>
<ellipse cx="297.5" cy="287.3" rx="0.80" ry="0.44" opacity="0.20"/>
<ellipse cx="300.7" cy="307.4" rx="1.10" ry="0.61" opacity="0.23"/>
<ellipse cx="311.4" cy="263.9" rx="0.64" ry="0.36" opacity="0.15"/>
<ellipse cx="287.1" cy="301.1" rx="1.12" ry="0.62" opacity="0.25"/>
<ellipse cx="290.2" cy="250.1" rx="1.03" ry="0.57" opacity="0.23"/>
<ellipse cx="287.3" cy="319.5" rx="1.01" ry="0.56" opacity="0.34"/>
<ellipse cx="320.2" cy="302.6" rx="1.13" ry="0.63" opacity="0.33"/>
<ellipse cx="287.9" cy="267.5" rx="0.88" ry="0.49" opacity="0.24"/>
<ellipse cx="287.6" cy="261.4" rx="1.03" ry="0.57" opacity="0.34"/>
<ellipse cx="300.3" cy="314.6" rx="1.09" ry="0.61" opacity="0.32"/>
<ellipse cx="289.0" cy="270.5" rx="0.96" ry="0.53" opacity="0.30"/>
<ellipse cx="314.3" cy="249.3" rx="0.97" ry="0.54" opacity="0.07"/>
<ellipse cx="293.8" cy="243.8" rx="0.86" ry="0.48" opacity="0.10"/>
<ellipse cx="307.5" cy="272.4" rx="1.05" ry="0.58" opacity="0.15"/>
<ellipse cx="320.5" cy="249.2" rx="0.59" ry="0.33" opacity="0.21"/>
<ellipse cx="301.3" cy="307.5" rx="0.56" ry="0.31" opacity="0.11"/>
<ellipse cx="291.2" cy="274.5" rx="1.06" ry="0.59" opacity="0.25"/>
<ellipse cx="290.9" cy="270.8" rx="1.02" ry="0.57" opacity="0.22"/>
<ellipse cx="285.8" cy="268.6" rx="0.56" ry="0.31" opacity="0.19"/>
<ellipse cx="290.7" cy="263.8" rx="0.75" ry="0.42" opacity="0.31"/>
<ellipse cx="284.9" cy="246.8" rx="0.62" ry="0.35" opacity="0.18"/>
<ellipse cx="298.7" cy="314.4" rx="1.00" ry="0.55" opacity="0.14"/>
<ellipse cx="286.8" cy="283.7" rx="1.06" ry="0.59" opacity="0.13"/>
<ellipse cx="311.7" cy="268.9" rx="1.14" ry="0.64" opacity="0.34"/>
<ellipse cx="288.5" cy="304.4" rx="0.91" ry="0.51" opacity="0.17"/>
<ellipse cx="302.0" cy="312.4" rx="0.84" ry="0.47" opacity="0.22"/>
<ellipse cx="301.0" cy="241.6" rx="1.02" ry="0.57" opacity="0.09"/>
<ellipse cx="317.0" cy="240.2" rx="0.90" ry="0.50" opacity="0.13"/>
<ellipse cx="308.5" cy="289.9" rx="1.01" ry="0.56" opacity="0.30"/>
<ellipse cx="320.4" cy="249.0" rx="0.68" ry="0.38" opacity="0.20"/>
<ellipse cx="318.1" cy="271.5" rx="0.67" ry="0.37" opacity="0.21"/>
<ellipse cx="294.0" cy="245.9" rx="1.05" ry="0.58" opacity="0.19"/>
<ellipse cx="314.7" cy="248.0" rx="0.75" ry="0.42" opacity="0.09"/>
<ellipse cx="314.8" cy="275.5" rx="0.92" ry="0.51" opacity="0.07"/>
<ellipse cx="298.9" cy="270.8" rx="0.98" ry="0.55" opacity="0.13"/>
<ellipse cx="320.3" cy="266.1" rx="0.86" ry="0.48" opacity="0.20"/>
<ellipse cx="295.1" cy="244.2" rx="0.56" ry="0.31" opacity="0.33"/>
<ellipse cx="320.1" cy="289.0" rx="0.62" ry="0.35" opacity="0.12"/>
<ellipse cx="294.2" cy="242.3" rx="0.76" ry="0.42" opacity="0.14"/>
<ellipse cx="294.4" cy="307.0" rx="0.89" ry="0.50" opacity="0.35"/>
<ellipse cx="293.7" cy="245.2" rx="1.02" ry="0.57" opacity="0.27"/>
<ellipse cx="313.7" cy="269.5" rx="1.05" ry="0.59" opacity="0.09"/>
<ellipse cx="310.0" cy="295.3" rx="0.90" ry="0.50" opacity="0.24"/>
<ellipse cx="299.8" cy="274.1" rx="0.84" ry="0.47" opacity="0.24"/>
<ellipse cx="301.0" cy="266.0" rx="12.00" ry="3.50" opacity="0.04"/>
<ellipse cx="304.6" cy="264.5" rx="0.71" ry="0.52" opacity="0.08"/>
<ellipse cx="305.6" cy="268.5" rx="0.41" ry="0.30" opacity="0.12"/>
<ellipse cx="304.9" cy="266.4" rx="0.81" ry="0.60" opacity="0.08"/>
<ellipse cx="298.6" cy="268.2" rx="0.91" ry="0.67" opacity="0.10"/>
<ellipse cx="293.5" cy="268.6" rx="0.54" ry="0.40" opacity="0.05"/>
<ellipse cx="300.0" cy="262.9" rx="0.83" ry="0.62" opacity="0.08"/>
<ellipse cx="299.0" cy="264.8" rx="0.55" ry="0.41" opacity="0.13"/>
<ellipse cx="307.9" cy="263.3" rx="0.70" ry="0.52" opacity="0.11"/>
<ellipse cx="296.5" cy="267.5" rx="0.91" ry="0.67" opacity="0.11"/>
<ellipse cx="304.6" cy="265.6" rx="0.63" ry="0.47" opacity="0.12"/>
<ellipse cx="310.5" cy="264.6" rx="0.88" ry="0.65" opacity="0.07"/>
<ellipse cx="300.3" cy="265.1" rx="0.65" ry="0.48" opacity="0.05"/>
<ellipse cx="296.9" cy="266.5" rx="0.63" ry="0.46" opacity="0.10"/>
<ellipse cx="296.0" cy="263.1" rx="0.91" ry="0.67" opacity="0.07"/>
<ellipse cx="297.4" cy="267.8" rx="0.54" ry="0.40" opacity="0.12"/>
<ellipse cx="303.5" cy="263.4" rx="0.76" ry="0.56" opacity="0.07"/>
<ellipse cx="299.2" cy="268.9" rx="0.45" ry="0.34" opacity="0.13"/>
<ellipse cx="303.9" cy="267.1" rx="0.82" ry="0.60" opacity="0.12"/>
<ellipse cx="307.4" cy="268.8" rx="0.68" ry="0.50" opacity="0.06"/>
<ellipse cx="296.2" cy="265.6" rx="0.75" ry="0.56" opacity="0.10"/>
<ellipse cx="306.8" cy="263.1" rx="0.87" ry="0.64" opacity="0.10"/>
<ellipse cx="299.6" cy="262.8" rx="0.86" ry="0.63" opacity="0.09"/>
<ellipse cx="311.9" cy="264.8" rx="0.51" ry="0.38" opacity="0.06"/>
<ellipse cx="294.7" cy="264.4" rx="0.63" ry="0.47" opacity="0.09"/>
<ellipse cx="302.8" cy="268.0" rx="0.73" ry="0.54" opacity="0.11"/>
<ellipse cx="300.2" cy="265.1" rx="0.52" ry="0.38" opacity="0.09"/>
<ellipse cx="301.8" cy="264.4" rx="0.80" ry="0.60" opacity="0.06"/>
<ellipse cx="297.4" cy="269.0" rx="0.51" ry="0.38" opacity="0.12"/>
<ellipse cx="299.7" cy="265.9" rx="0.66" ry="0.49" opacity="0.09"/>
<ellipse cx="305.7" cy="267.4" rx="0.67" ry="0.49" opacity="0.09"/>
<ellipse cx="307.0" cy="265.1" rx="0.89" ry="0.66" opacity="0.07"/>
<ellipse cx="300.9" cy="264.9" rx="0.72" ry="0.53" opacity="0.11"/>
<ellipse cx="301.9" cy="265.5" rx="0.81" ry="0.60" opacity="0.06"/>
<ellipse cx="306.7" cy="265.6" rx="0.87" ry="0.64" opacity="0.06"/>
<ellipse cx="309.2" cy="265.8" rx="0.52" ry="0.39" opacity="0.12"/>
<ellipse cx="303.5" cy="263.2" rx="0.64" ry="0.47" opacity="0.07"/>
<ellipse cx="293.9" cy="263.6" rx="0.80" ry="0.59" opacity="0.11"/>
<ellipse cx="308.0" cy="266.8" rx="0.56" ry="0.42" opacity="0.09"/>
<ellipse cx="296.7" cy="263.8" rx="0.41" ry="0.30" opacity="0.07"/>
<ellipse cx="299.4" cy="268.0" rx="0.56" ry="0.41" opacity="0.06"/>
<ellipse cx="302.3" cy="268.3" rx="0.88" ry="0.65" opacity="0.06"/>
<ellipse cx="310.1" cy="265.3" rx="0.89" ry="0.66" opacity="0.12"/>
<ellipse cx="301.2" cy="262.7" rx="0.51" ry="0.38" opacity="0.10"/>
<ellipse cx="298.4" cy="266.9" rx="0.55" ry="0.41" opacity="0.10"/>
<ellipse cx="303.1" cy="266.7" rx="0.86" ry="0.64" opacity="0.11"/>
<ellipse cx="305.5" cy="266.3" rx="0.41" ry="0.30" opacity="0.09"/>
<ellipse cx="304.9" cy="265.9" rx="0.72" ry="0.53" opacity="0.08"/>
<ellipse cx="299.8" cy="263.5" rx="0.80" ry="0.59" opacity="0.05"/>
<ellipse cx="311.3" cy="265.6" rx="0.46" ry="0.34" opacity="0.05"/>
<ellipse cx="304.9" cy="263.2" rx="0.61" ry="0.45" opacity="0.12"/>
<ellipse cx="295.6" cy="264.3" rx="0.43" ry="0.32" opacity="0.09"/>
<ellipse cx="295.7" cy="267.5" rx="0.59" ry="0.44" opacity="0.12"/>
<ellipse cx="299.0" cy="266.6" rx="0.54" ry="0.40" opacity="0.12"/>
<ellipse cx="294.6" cy="265.8" rx="0.88" ry="0.65" opacity="0.13"/>
<ellipse cx="297.8" cy="266.5" rx="0.58" ry="0.43" opacity="0.05"/>
<ellipse cx="307.9" cy="264.0" rx="0.58" ry="0.43" opacity="0.10"/>
<ellipse cx="307.9" cy="263.1" rx="0.50" ry="0.37" opacity="0.08"/>
<ellipse cx="296.6" cy="264.3" rx="0.69" ry="0.51" opacity="0.08"/>
<ellipse cx="298.0" cy="283.0" rx="12.00" ry="4.00" opacity="0.04"/>
<ellipse cx="290.8" cy="284.5" rx="0.62" ry="0.46" opacity="0.08"/>
<ellipse cx="289.1" cy="284.7" rx="0.49" ry="0.36" opacity="0.10"/>
<ellipse cx="299.3" cy="286.8" rx="0.41" ry="0.30" opacity="0.09"/>
<ellipse cx="307.5" cy="282.3" rx="0.53" ry="0.39" opacity="0.12"/>
<ellipse cx="295.1" cy="283.0" rx="0.46" ry="0.34" opacity="0.06"/>
<ellipse cx="296.5" cy="285.3" rx="0.93" ry="0.69" opacity="0.14"/>
<ellipse cx="289.1" cy="282.0" rx="0.74" ry="0.55" opacity="0.13"/>
<ellipse cx="291.6" cy="285.2" rx="0.52" ry="0.39" opacity="0.07"/>
<ellipse cx="297.3" cy="285.3" rx="0.57" ry="0.42" opacity="0.11"/>
<ellipse cx="303.8" cy="283.5" rx="0.73" ry="0.54" opacity="0.13"/>
<ellipse cx="299.7" cy="280.7" rx="0.74" ry="0.55" opacity="0.06"/>
<ellipse cx="306.4" cy="281.6" rx="0.83" ry="0.62" opacity="0.06"/>
<ellipse cx="293.0" cy="284.0" rx="0.86" ry="0.64" opacity="0.13"/>
<ellipse cx="304.4" cy="286.3" rx="0.52" ry="0.38" opacity="0.07"/>
<ellipse cx="291.2" cy="282.1" rx="0.92" ry="0.68" opacity="0.06"/>
<ellipse cx="306.2" cy="281.2" rx="0.58" ry="0.43" opacity="0.07"/>
<ellipse cx="297.6" cy="282.5" rx="0.56" ry="0.42" opacity="0.06"/>
<ellipse cx="291.0" cy="286.2" rx="0.86" ry="0.64" opacity="0.11"/>
<ellipse cx="292.4" cy="280.6" rx="0.83" ry="0.61" opacity="0.13"/>
<ellipse cx="309.3" cy="282.1" rx="0.59" ry="0.44" opacity="0.15"/>
<ellipse cx="298.0" cy="284.1" rx="0.76" ry="0.56" opacity="0.06"/>
<ellipse cx="306.4" cy="280.2" rx="0.84" ry="0.62" opacity="0.08"/>
<ellipse cx="296.0" cy="282.9" rx="0.65" ry="0.48" opacity="0.13"/>
<ellipse cx="299.3" cy="284.2" rx="0.60" ry="0.44" opacity="0.09"/>
<ellipse cx="294.9" cy="284.8" rx="0.44" ry="0.33" opacity="0.12"/>
<ellipse cx="289.1" cy="283.2" rx="0.58" ry="0.43" opacity="0.14"/>
<ellipse cx="299.3" cy="280.2" rx="0.61" ry="0.45" opacity="0.14"/>
<ellipse cx="291.5" cy="283.9" rx="0.71" ry="0.53" opacity="0.06"/>
<ellipse cx="295.3" cy="283.0" rx="0.90" ry="0.67" opacity="0.13"/>
<ellipse cx="301.4" cy="284.1" rx="0.76" ry="0.57" opacity="0.11"/>
<ellipse cx="292.2" cy="284.3" rx="0.53" ry="0.39" opacity="0.09"/>
<ellipse cx="300.2" cy="283.2" rx="0.53" ry="0.39" opacity="0.06"/>
<ellipse cx="298.3" cy="284.5" rx="0.60" ry="0.44" opacity="0.11"/>
<ellipse cx="307.7" cy="282.8" rx="0.85" ry="0.63" opacity="0.11"/>
<ellipse cx="298.7" cy="280.0" rx="0.41" ry="0.30" opacity="0.09"/>
<ellipse cx="304.5" cy="285.3" rx="0.60" ry="0.45" opacity="0.09"/>
<ellipse cx="304.6" cy="286.2" rx="0.55" ry="0.41" opacity="0.07"/>
<ellipse cx="293.8" cy="284.5" rx="0.51" ry="0.38" opacity="0.12"/>
<ellipse cx="297.3" cy="283.1" rx="0.92" ry="0.68" opacity="0.06"/>
<ellipse cx="306.0" cy="280.1" rx="0.70" ry="0.52" opacity="0.13"/>
<ellipse cx="302.6" cy="283.1" rx="0.83" ry="0.62" opacity="0.12"/>
<ellipse cx="302.0" cy="284.2" rx="0.45" ry="0.33" opacity="0.13"/>
<ellipse cx="294.0" cy="281.3" rx="0.71" ry="0.53" opacity="0.10"/>
<ellipse cx="297.4" cy="285.7" rx="0.41" ry="0.30" opacity="0.12"/>
<ellipse cx="301.9" cy="282.6" rx="0.64" ry="0.47" opacity="0.11"/>
<ellipse cx="293.9" cy="279.9" rx="0.58" ry="0.43" opacity="0.13"/>
<ellipse cx="291.4" cy="285.7" rx="0.68" ry="0.50" opacity="0.11"/>
<ellipse cx="301.3" cy="282.1" rx="0.67" ry="0.50" opacity="0.09"/>
<ellipse cx="307.6" cy="284.3" rx="0.51" ry="0.38" opacity="0.07"/>
<ellipse cx="304.8" cy="285.6" rx="0.79" ry="0.58" opacity="0.08"/>
<ellipse cx="291.6" cy="283.2" rx="0.67" ry="0.50" opacity="0.06"/>
<ellipse cx="295.3" cy="286.8" rx="0.58" ry="0.43" opacity="0.12"/>
<ellipse cx="292.5" cy="281.3" rx="0.74" ry="0.55" opacity="0.12"/>
<ellipse cx="288.8" cy="281.4" rx="0.57" ry="0.42" opacity="0.07"/>
<ellipse cx="287.9" cy="283.9" rx="0.67" ry="0.50" opacity="0.05"/>
<ellipse cx="287.1" cy="283.8" rx="0.50" ry="0.37" opacity="0.11"/>
<ellipse cx="296.2" cy="285.7" rx="0.82" ry="0.61" opacity="0.08"/>
<ellipse cx="301.5" cy="285.2" rx="0.94" ry="0.69" opacity="0.06"/>
<ellipse cx="296.4" cy="284.5" rx="0.66" ry="0.49" opacity="0.13"/>
<ellipse cx="289.9" cy="281.9" rx="0.53" ry="0.39" opacity="0.10"/>
<ellipse cx="298.0" cy="280.9" rx="0.42" ry="0.31" opacity="0.15"/>
<ellipse cx="286.3" cy="282.9" rx="0.73" ry="0.54" opacity="0.09"/>
<ellipse cx="303.0" cy="286.4" rx="0.82" ry="0.60" opacity="0.11"/>
<ellipse cx="303.8" cy="283.2" rx="0.63" ry="0.47" opacity="0.06"/>
<ellipse cx="290.5" cy="283.4" rx="0.52" ry="0.38" opacity="0.10"/>
<ellipse cx="308.6" cy="281.9" rx="0.85" ry="0.63" opacity="0.08"/>
<ellipse cx="298.8" cy="285.6" rx="0.91" ry="0.67" opacity="0.07"/>
<ellipse cx="300.0" cy="291.0" rx="14.00" ry="2.50" opacity="0.04"/>
<ellipse cx="311.3" cy="292.0" rx="0.41" ry="0.30" opacity="0.09"/>
<ellipse cx="310.0" cy="290.8" rx="0.41" ry="0.30" opacity="0.07"/>
<ellipse cx="300.0" cy="289.0" rx="0.45" ry="0.33" opacity="0.08"/>
<ellipse cx="295.3" cy="291.1" rx="0.48" ry="0.35" opacity="0.07"/>
<ellipse cx="289.0" cy="292.4" rx="0.58" ry="0.43" opacity="0.12"/>
<ellipse cx="308.8" cy="291.2" rx="0.49" ry="0.36" opacity="0.05"/>
<ellipse cx="297.2" cy="292.9" rx="0.73" ry="0.54" opacity="0.07"/>
<ellipse cx="298.4" cy="289.0" rx="0.87" ry="0.65" opacity="0.10"/>
<ellipse cx="310.2" cy="292.2" rx="0.92" ry="0.68" opacity="0.12"/>
<ellipse cx="297.8" cy="290.4" rx="0.87" ry="0.65" opacity="0.09"/>
<ellipse cx="298.2" cy="288.6" rx="0.52" ry="0.39" opacity="0.05"/>
<ellipse cx="312.0" cy="290.1" rx="0.45" ry="0.33" opacity="0.08"/>
<ellipse cx="306.6" cy="289.5" rx="0.69" ry="0.51" opacity="0.13"/>
<ellipse cx="307.6" cy="291.3" rx="0.49" ry="0.36" opacity="0.13"/>
<ellipse cx="294.6" cy="290.4" rx="0.87" ry="0.65" opacity="0.12"/>
<ellipse cx="286.5" cy="291.3" rx="0.52" ry="0.39" opacity="0.10"/>
<ellipse cx="305.8" cy="291.0" rx="0.78" ry="0.58" opacity="0.12"/>
<ellipse cx="304.2" cy="290.1" rx="0.61" ry="0.45" opacity="0.06"/>
<ellipse cx="287.2" cy="290.9" rx="0.57" ry="0.42" opacity="0.12"/>
<ellipse cx="299.1" cy="292.6" rx="0.76" ry="0.56" opacity="0.11"/>
<ellipse cx="307.0" cy="290.5" rx="0.62" ry="0.46" opacity="0.11"/>
<ellipse cx="303.5" cy="288.9" rx="0.55" ry="0.41" opacity="0.12"/>
<ellipse cx="300.9" cy="289.2" rx="0.59" ry="0.43" opacity="0.11"/>
<ellipse cx="310.6" cy="291.9" rx="0.63" ry="0.47" opacity="0.11"/>
<ellipse cx="293.6" cy="290.3" rx="0.58" ry="0.43" opacity="0.09"/>
<ellipse cx="304.1" cy="291.8" rx="0.75" ry="0.56" opacity="0.06"/>
<ellipse cx="308.3" cy="290.2" rx="0.58" ry="0.43" opacity="0.06"/>
<ellipse cx="298.7" cy="292.4" rx="0.48" ry="0.35" opacity="0.07"/>
<ellipse cx="313.1" cy="290.5" rx="0.90" ry="0.67" opacity="0.13"/>
<ellipse cx="296.0" cy="288.7" rx="0.75" ry="0.56" opacity="0.08"/>
<ellipse cx="305.3" cy="292.7" rx="0.93" ry="0.69" opacity="0.12"/>
<ellipse cx="308.5" cy="290.7" rx="0.77" ry="0.57" opacity="0.13"/>
<ellipse cx="297.8" cy="288.8" rx="0.87" ry="0.65" opacity="0.09"/>
<ellipse cx="305.3" cy="290.0" rx="0.85" ry="0.63" opacity="0.08"/>
<ellipse cx="302.7" cy="293.2" rx="0.83" ry="0.62" opacity="0.10"/>
<ellipse cx="293.8" cy="291.2" rx="0.86" ry="0.64" opacity="0.10"/>
<ellipse cx="294.0" cy="289.1" rx="0.42" ry="0.31" opacity="0.11"/>
<ellipse cx="302.6" cy="290.4" rx="0.43" ry="0.32" opacity="0.12"/>
<ellipse cx="299.3" cy="292.7" rx="0.91" ry="0.67" opacity="0.06"/>
<ellipse cx="297.4" cy="291.0" rx="0.88" ry="0.65" opacity="0.12"/>
<ellipse cx="288.8" cy="291.8" rx="0.49" ry="0.36" opacity="0.11"/>
<ellipse cx="304.2" cy="289.1" rx="0.42" ry="0.31" opacity="0.07"/>
<ellipse cx="293.4" cy="289.1" rx="0.67" ry="0.50" opacity="0.10"/>
<ellipse cx="290.3" cy="291.5" rx="0.56" ry="0.41" opacity="0.06"/>
<ellipse cx="306.8" cy="289.7" rx="0.58" ry="0.43" opacity="0.07"/>
<ellipse cx="295.1" cy="292.4" rx="0.49" ry="0.36" opacity="0.08"/>
<ellipse cx="295.3" cy="292.1" rx="0.60" ry="0.45" opacity="0.05"/>
<ellipse cx="305.1" cy="290.2" rx="0.81" ry="0.60" opacity="0.13"/>
<ellipse cx="294.6" cy="291.9" rx="0.77" ry="0.57" opacity="0.13"/>
<ellipse cx="301.0" cy="300.5" rx="14.00" ry="2.50" opacity="0.04"/>
<ellipse cx="290.5" cy="300.1" rx="0.46" ry="0.34" opacity="0.07"/>
<ellipse cx="290.6" cy="301.0" rx="0.61" ry="0.45" opacity="0.11"/>
<ellipse cx="304.2" cy="299.6" rx="0.69" ry="0.51" opacity="0.05"/>
<ellipse cx="296.7" cy="302.1" rx="0.85" ry="0.63" opacity="0.06"/>
<ellipse cx="304.4" cy="298.6" rx="0.85" ry="0.63" opacity="0.05"/>
<ellipse cx="296.6" cy="300.4" rx="0.82" ry="0.61" opacity="0.10"/>
<ellipse cx="302.7" cy="303.0" rx="0.89" ry="0.66" opacity="0.08"/>
<ellipse cx="303.5" cy="302.6" rx="0.59" ry="0.44" opacity="0.12"/>
<ellipse cx="298.8" cy="302.7" rx="0.60" ry="0.44" opacity="0.10"/>
<ellipse cx="296.8" cy="302.2" rx="0.44" ry="0.32" opacity="0.08"/>
<ellipse cx="294.8" cy="302.0" rx="0.84" ry="0.62" opacity="0.09"/>
<ellipse cx="305.4" cy="300.3" rx="0.80" ry="0.59" opacity="0.08"/>
<ellipse cx="302.7" cy="301.8" rx="0.61" ry="0.45" opacity="0.09"/>
<ellipse cx="288.9" cy="300.6" rx="0.83" ry="0.62" opacity="0.08"/>
<ellipse cx="302.2" cy="298.7" rx="0.42" ry="0.31" opacity="0.12"/>
<ellipse cx="309.0" cy="299.2" rx="0.68" ry="0.50" opacity="0.12"/>
<ellipse cx="311.0" cy="300.3" rx="0.43" ry="0.32" opacity="0.09"/>
<ellipse cx="303.6" cy="302.0" rx="0.73" ry="0.54" opacity="0.06"/>
<ellipse cx="309.4" cy="301.2" rx="0.77" ry="0.57" opacity="0.09"/>
<ellipse cx="306.6" cy="298.2" rx="0.93" ry="0.69" opacity="0.07"/>
<ellipse cx="291.4" cy="301.1" rx="0.52" ry="0.39" opacity="0.12"/>
<ellipse cx="302.5" cy="298.1" rx="0.61" ry="0.45" opacity="0.09"/>
<ellipse cx="297.5" cy="300.4" rx="0.54" ry="0.40" opacity="0.10"/>
<ellipse cx="303.4" cy="300.3" rx="0.59" ry="0.43" opacity="0.09"/>
<ellipse cx="295.7" cy="301.1" rx="0.50" ry="0.37" opacity="0.07"/>
<ellipse cx="307.1" cy="300.9" rx="0.44" ry="0.33" opacity="0.12"/>
<ellipse cx="295.4" cy="299.2" rx="0.58" ry="0.43" opacity="0.10"/>
<ellipse cx="294.1" cy="302.4" rx="0.86" ry="0.64" opacity="0.07"/>
<ellipse cx="293.4" cy="300.4" rx="0.94" ry="0.69" opacity="0.07"/>
<ellipse cx="306.5" cy="300.7" rx="0.91" ry="0.68" opacity="0.10"/>
<ellipse cx="300.1" cy="298.9" rx="0.79" ry="0.58" opacity="0.08"/>
<ellipse cx="290.3" cy="300.2" rx="0.83" ry="0.62" opacity="0.13"/>
<ellipse cx="293.0" cy="298.8" rx="0.49" ry="0.36" opacity="0.06"/>
<ellipse cx="303.3" cy="300.2" rx="0.65" ry="0.48" opacity="0.07"/>
<ellipse cx="294.4" cy="300.2" rx="0.89" ry="0.66" opacity="0.05"/>
<ellipse cx="307.2" cy="298.3" rx="0.62" ry="0.46" opacity="0.11"/>
<ellipse cx="296.8" cy="299.8" rx="0.69" ry="0.51" opacity="0.06"/>
<ellipse cx="299.9" cy="301.0" rx="0.50" ry="0.37" opacity="0.12"/>
<ellipse cx="288.2" cy="300.4" rx="0.65" ry="0.48" opacity="0.07"/>
<ellipse cx="293.4" cy="300.6" rx="0.93" ry="0.69" opacity="0.05"/>
<ellipse cx="302.8" cy="301.5" rx="0.68" ry="0.50" opacity="0.08"/>
<ellipse cx="308.5" cy="301.8" rx="0.88" ry="0.65" opacity="0.09"/>
<ellipse cx="296.1" cy="301.9" rx="0.54" ry="0.40" opacity="0.05"/>
<ellipse cx="298.4" cy="301.8" rx="0.82" ry="0.61" opacity="0.08"/>
<ellipse cx="303.7" cy="300.0" rx="0.57" ry="0.43" opacity="0.06"/>
<ellipse cx="302.1" cy="299.7" rx="0.71" ry="0.53" opacity="0.09"/>
<ellipse cx="300.1" cy="298.8" rx="0.56" ry="0.42" opacity="0.13"/>
<ellipse cx="296.3" cy="300.6" rx="0.70" ry="0.52" opacity="0.09"/>
<ellipse cx="302.7" cy="300.7" rx="0.67" ry="0.50" opacity="0.11"/>
<ellipse cx="300.0" cy="311.0" rx="14.00" ry="3.50" opacity="0.04"/>
<ellipse cx="293.1" cy="313.1" rx="0.54" ry="0.40" opacity="0.11"/>
<ellipse cx="302.7" cy="308.7" rx="0.90" ry="0.67" opacity="0.08"/>
<ellipse cx="299.4" cy="311.1" rx="0.61" ry="0.45" opacity="0.11"/>
<ellipse cx="301.2" cy="308.9" rx="0.65" ry="0.48" opacity="0.10"/>
<ellipse cx="308.9" cy="311.8" rx="0.86" ry="0.64" opacity="0.06"/>
<ellipse cx="308.1" cy="312.1" rx="0.73" ry="0.54" opacity="0.08"/>
<ellipse cx="288.4" cy="312.7" rx="0.94" ry="0.70" opacity="0.13"/>
<ellipse cx="303.3" cy="312.6" rx="0.55" ry="0.41" opacity="0.12"/>
<ellipse cx="292.7" cy="309.4" rx="0.45" ry="0.33" opacity="0.11"/>
<ellipse cx="305.7" cy="310.8" rx="0.56" ry="0.42" opacity="0.05"/>
<ellipse cx="303.2" cy="309.8" rx="0.50" ry="0.37" opacity="0.12"/>
<ellipse cx="296.1" cy="309.1" rx="0.54" ry="0.40" opacity="0.13"/>
<ellipse cx="293.6" cy="313.4" rx="0.75" ry="0.56" opacity="0.08"/>
<ellipse cx="308.2" cy="310.7" rx="0.54" ry="0.40" opacity="0.06"/>
<ellipse cx="308.5" cy="311.5" rx="0.91" ry="0.67" opacity="0.11"/>
<ellipse cx="296.1" cy="312.4" rx="0.84" ry="0.62" opacity="0.11"/>
<ellipse cx="297.7" cy="312.4" rx="0.55" ry="0.41" opacity="0.11"/>
<ellipse cx="289.1" cy="311.4" rx="0.77" ry="0.57" opacity="0.11"/>
<ellipse cx="298.5" cy="310.9" rx="0.76" ry="0.56" opacity="0.07"/>
<ellipse cx="306.2" cy="309.0" rx="0.78" ry="0.58" opacity="0.10"/>
<ellipse cx="307.4" cy="308.5" rx="0.90" ry="0.67" opacity="0.12"/>
<ellipse cx="299.7" cy="313.9" rx="0.59" ry="0.44" opacity="0.11"/>
<ellipse cx="290.6" cy="310.1" rx="0.46" ry="0.34" opacity="0.06"/>
<ellipse cx="302.4" cy="311.6" rx="0.87" ry="0.65" opacity="0.12"/>
<ellipse cx="294.9" cy="312.8" rx="0.71" ry="0.53" opacity="0.10"/>
<ellipse cx="311.8" cy="312.8" rx="0.42" ry="0.31" opacity="0.06"/>
<ellipse cx="298.8" cy="309.2" rx="0.75" ry="0.56" opacity="0.09"/>
<ellipse cx="290.6" cy="311.3" rx="0.84" ry="0.63" opacity="0.08"/>
<ellipse cx="301.0" cy="308.5" rx="0.88" ry="0.65" opacity="0.05"/>
<ellipse cx="299.6" cy="311.4" rx="0.42" ry="0.31" opacity="0.09"/>
<ellipse cx="295.1" cy="311.3" rx="0.49" ry="0.36" opacity="0.06"/>
<ellipse cx="307.7" cy="309.4" rx="0.63" ry="0.47" opacity="0.09"/>
<ellipse cx="291.6" cy="311.9" rx="0.44" ry="0.33" opacity="0.13"/>
<ellipse cx="290.1" cy="309.5" rx="0.89" ry="0.66" opacity="0.05"/>
<ellipse cx="305.3" cy="311.5" rx="0.50" ry="0.37" opacity="0.06"/>
<ellipse cx="290.2" cy="312.9" rx="0.72" ry="0.54" opacity="0.11"/>
<ellipse cx="286.6" cy="311.0" rx="0.88" ry="0.65" opacity="0.06"/>
<ellipse cx="293.8" cy="308.0" rx="0.85" ry="0.63" opacity="0.09"/>
<ellipse cx="297.4" cy="311.5" rx="0.55" ry="0.41" opacity="0.05"/>
<ellipse cx="310.9" cy="312.3" rx="0.68" ry="0.50" opacity="0.08"/>
<ellipse cx="298.3" cy="309.3" rx="0.90" ry="0.67" opacity="0.07"/>
<ellipse cx="301.8" cy="312.3" rx="0.92" ry="0.68" opacity="0.12"/>
<ellipse cx="304.0" cy="314.2" rx="0.42" ry="0.31" opacity="0.10"/>
<ellipse cx="294.4" cy="311.4" rx="0.73" ry="0.54" opacity="0.06"/>
<ellipse cx="288.4" cy="310.5" rx="0.63" ry="0.47" opacity="0.12"/>
<ellipse cx="304.0" cy="310.2" rx="0.52" ry="0.38" opacity="0.05"/>
<ellipse cx="298.2" cy="311.6" rx="0.57" ry="0.42" opacity="0.06"/>
<ellipse cx="293.8" cy="311.2" rx="0.91" ry="0.67" opacity="0.11"/>
<ellipse cx="294.1" cy="312.9" rx="0.45" ry="0.33" opacity="0.05"/>
<ellipse cx="301.4" cy="310.3" rx="0.60" ry="0.45" opacity="0.07"/>
<ellipse cx="301.4" cy="312.4" rx="0.52" ry="0.39" opacity="0.12"/>
<ellipse cx="300.7" cy="313.7" rx="0.53" ry="0.40" opacity="0.12"/>
<ellipse cx="307.4" cy="309.6" rx="0.92" ry="0.68" opacity="0.11"/>
<ellipse cx="307.6" cy="309.6" rx="0.45" ry="0.33" opacity="0.05"/>
<ellipse cx="307.3" cy="308.1" rx="0.63" ry="0.47" opacity="0.12"/>
<ellipse cx="305.8" cy="310.0" rx="0.81" ry="0.60" opacity="0.11"/>
<ellipse cx="297.2" cy="309.7" rx="0.43" ry="0.32" opacity="0.07"/>
<ellipse cx="298.9" cy="313.4" rx="0.60" ry="0.44" opacity="0.08"/>
<ellipse cx="298.3" cy="312.0" rx="0.56" ry="0.41" opacity="0.10"/>
<ellipse cx="297.5" cy="314.2" rx="0.88" ry="0.65" opacity="0.08"/>
<ellipse cx="296.9" cy="313.6" rx="0.88" ry="0.66" opacity="0.11"/>
<ellipse cx="301.3" cy="312.3" rx="0.43" ry="0.32" opacity="0.13"/>
<ellipse cx="298.5" cy="313.0" rx="0.82" ry="0.61" opacity="0.07"/>
<ellipse cx="299.8" cy="310.7" rx="0.62" ry="0.46" opacity="0.05"/>
<ellipse cx="302.8" cy="309.5" rx="0.84" ry="0.63" opacity="0.11"/>
<ellipse cx="305.2" cy="312.1" rx="0.83" ry="0.62" opacity="0.10"/>
<ellipse cx="296.3" cy="311.5" rx="0.50" ry="0.37" opacity="0.07"/>
<ellipse cx="289.2" cy="311.1" rx="0.87" ry="0.65" opacity="0.10"/>
<ellipse cx="303.0" cy="274.0" rx="10.00" ry="2.50" opacity="0.03"/>
<ellipse cx="296.6" cy="273.4" rx="0.74" ry="0.55" opacity="0.04"/>
<ellipse cx="309.7" cy="274.5" rx="0.64" ry="0.47" opacity="0.09"/>
<ellipse cx="303.6" cy="275.3" rx="0.54" ry="0.40" opacity="0.08"/>
<ellipse cx="303.8" cy="273.4" rx="0.61" ry="0.45" opacity="0.08"/>
<ellipse cx="302.4" cy="271.9" rx="0.49" ry="0.37" opacity="0.08"/>
<ellipse cx="294.1" cy="274.7" rx="0.51" ry="0.38" opacity="0.09"/>
<ellipse cx="309.4" cy="273.1" rx="0.50" ry="0.37" opacity="0.06"/>
<ellipse cx="296.7" cy="275.7" rx="0.50" ry="0.37" opacity="0.06"/>
<ellipse cx="298.3" cy="275.3" rx="0.80" ry="0.59" opacity="0.04"/>
<ellipse cx="303.2" cy="274.6" rx="0.67" ry="0.50" opacity="0.08"/>
<ellipse cx="304.8" cy="272.0" rx="0.49" ry="0.36" opacity="0.10"/>
<ellipse cx="306.7" cy="274.1" rx="0.75" ry="0.55" opacity="0.08"/>
<ellipse cx="296.9" cy="275.3" rx="0.65" ry="0.48" opacity="0.06"/>
<ellipse cx="300.7" cy="275.4" rx="0.46" ry="0.34" opacity="0.08"/>
<ellipse cx="306.5" cy="275.6" rx="0.91" ry="0.67" opacity="0.09"/>
<ellipse cx="304.5" cy="273.2" rx="0.84" ry="0.62" opacity="0.04"/>
<ellipse cx="303.7" cy="275.1" rx="0.77" ry="0.57" opacity="0.10"/>
<ellipse cx="304.5" cy="275.6" rx="0.56" ry="0.41" opacity="0.08"/>
<ellipse cx="312.4" cy="274.2" rx="0.57" ry="0.42" opacity="0.05"/>
<ellipse cx="306.8" cy="272.2" rx="0.83" ry="0.62" opacity="0.09"/>
<ellipse cx="297.2" cy="274.4" rx="0.83" ry="0.62" opacity="0.07"/>
<ellipse cx="303.3" cy="275.9" rx="0.64" ry="0.48" opacity="0.08"/>
<ellipse cx="309.0" cy="272.4" rx="0.44" ry="0.33" opacity="0.07"/>
<ellipse cx="301.5" cy="274.1" rx="0.56" ry="0.42" opacity="0.04"/>
<ellipse cx="301.9" cy="273.0" rx="0.50" ry="0.37" opacity="0.09"/>
<ellipse cx="302.1" cy="276.0" rx="0.76" ry="0.57" opacity="0.08"/>
<ellipse cx="306.5" cy="274.5" rx="0.85" ry="0.63" opacity="0.06"/>
<ellipse cx="300.9" cy="275.6" rx="0.42" ry="0.31" opacity="0.08"/>
<ellipse cx="304.4" cy="271.6" rx="0.58" ry="0.43" opacity="0.08"/>
<ellipse cx="311.4" cy="273.1" rx="0.65" ry="0.48" opacity="0.10"/>
<ellipse cx="296.2" cy="273.5" rx="0.72" ry="0.53" opacity="0.05"/>
<ellipse cx="297.9" cy="275.0" rx="0.83" ry="0.61" opacity="0.07"/>
<ellipse cx="297.4" cy="276.0" rx="0.45" ry="0.33" opacity="0.05"/>
<ellipse cx="297.3" cy="276.0" rx="0.66" ry="0.49" opacity="0.06"/>
<ellipse cx="304.8" cy="273.1" rx="0.84" ry="0.62" opacity="0.04"/>
<ellipse cx="301.0" cy="250.0" rx="10.00" ry="5.00" opacity="0.04"/>
<ellipse cx="293.0" cy="247.3" rx="0.73" ry="0.54" opacity="0.08"/>
<ellipse cx="303.0" cy="254.3" rx="0.55" ry="0.41" opacity="0.14"/>
<ellipse cx="298.7" cy="250.5" rx="0.80" ry="0.59" opacity="0.12"/>
<ellipse cx="300.7" cy="249.7" rx="0.61" ry="0.45" opacity="0.10"/>
<ellipse cx="303.1" cy="249.4" rx="0.64" ry="0.47" opacity="0.09"/>
<ellipse cx="296.6" cy="247.8" rx="0.58" ry="0.43" opacity="0.10"/>
<ellipse cx="299.6" cy="249.8" rx="0.58" ry="0.43" opacity="0.08"/>
<ellipse cx="300.1" cy="252.7" rx="0.55" ry="0.41" opacity="0.09"/>
<ellipse cx="299.3" cy="248.1" rx="0.92" ry="0.68" opacity="0.06"/>
<ellipse cx="298.7" cy="254.0" rx="0.76" ry="0.56" opacity="0.08"/>
<ellipse cx="299.3" cy="254.0" rx="0.61" ry="0.45" opacity="0.13"/>
<ellipse cx="303.7" cy="249.1" rx="0.77" ry="0.57" opacity="0.08"/>
<ellipse cx="292.4" cy="248.1" rx="0.75" ry="0.55" opacity="0.14"/>
<ellipse cx="298.5" cy="252.0" rx="0.70" ry="0.52" opacity="0.09"/>
<ellipse cx="296.7" cy="249.7" rx="0.52" ry="0.38" opacity="0.11"/>
<ellipse cx="304.1" cy="251.3" rx="0.45" ry="0.34" opacity="0.12"/>
<ellipse cx="303.5" cy="251.9" rx="0.87" ry="0.64" opacity="0.10"/>
<ellipse cx="296.0" cy="250.5" rx="0.68" ry="0.51" opacity="0.13"/>
<ellipse cx="299.1" cy="251.2" rx="0.50" ry="0.37" opacity="0.12"/>
<ellipse cx="291.5" cy="250.7" rx="0.52" ry="0.39" opacity="0.12"/>
<ellipse cx="297.4" cy="251.5" rx="0.79" ry="0.59" opacity="0.08"/>
<ellipse cx="302.1" cy="253.0" rx="0.63" ry="0.47" opacity="0.06"/>
<ellipse cx="306.7" cy="249.7" rx="0.60" ry="0.45" opacity="0.06"/>
<ellipse cx="303.2" cy="251.4" rx="0.44" ry="0.33" opacity="0.11"/>
<ellipse cx="295.5" cy="246.4" rx="0.55" ry="0.40" opacity="0.13"/>
<ellipse cx="301.0" cy="249.1" rx="0.51" ry="0.38" opacity="0.07"/>
<ellipse cx="306.8" cy="247.0" rx="0.44" ry="0.33" opacity="0.08"/>
<ellipse cx="305.0" cy="253.2" rx="0.64" ry="0.47" opacity="0.14"/>
<ellipse cx="303.5" cy="248.0" rx="0.55" ry="0.41" opacity="0.10"/>
<ellipse cx="293.8" cy="252.4" rx="0.51" ry="0.38" opacity="0.14"/>
<ellipse cx="296.2" cy="248.5" rx="0.93" ry="0.69" opacity="0.09"/>
<ellipse cx="302.3" cy="245.2" rx="0.89" ry="0.66" opacity="0.15"/>
<ellipse cx="293.0" cy="251.5" rx="0.86" ry="0.63" opacity="0.08"/>
<ellipse cx="291.9" cy="251.4" rx="0.83" ry="0.61" opacity="0.08"/>
<ellipse cx="301.4" cy="248.6" rx="0.62" ry="0.46" opacity="0.11"/>
<ellipse cx="300.8" cy="250.3" rx="0.72" ry="0.53" opacity="0.11"/>
<ellipse cx="299.2" cy="248.5" rx="0.44" ry="0.33" opacity="0.06"/>
<ellipse cx="299.7" cy="249.8" rx="0.52" ry="0.38" opacity="0.10"/>
<ellipse cx="295.3" cy="252.8" rx="0.48" ry="0.35" opacity="0.10"/>
<ellipse cx="297.7" cy="250.9" rx="0.90" ry="0.66" opacity="0.14"/>
<ellipse cx="305.3" cy="249.5" rx="0.42" ry="0.31" opacity="0.12"/>
<ellipse cx="305.3" cy="248.5" rx="0.57" ry="0.42" opacity="0.13"/>
<ellipse cx="294.1" cy="248.8" rx="0.79" ry="0.58" opacity="0.10"/>
<ellipse cx="304.0" cy="246.8" rx="0.80" ry="0.60" opacity="0.05"/>
<ellipse cx="291.6" cy="250.5" rx="0.67" ry="0.49" opacity="0.12"/>
<ellipse cx="291.6" cy="249.1" rx="0.45" ry="0.33" opacity="0.08"/>
<ellipse cx="305.6" cy="254.0" rx="0.93" ry="0.69" opacity="0.07"/>
<ellipse cx="300.0" cy="252.1" rx="0.73" ry="0.54" opacity="0.12"/>
<ellipse cx="300.7" cy="254.5" rx="0.65" ry="0.48" opacity="0.10"/>
<ellipse cx="296.9" cy="252.3" rx="0.42" ry="0.31" opacity="0.06"/>
<ellipse cx="305.6" cy="249.5" rx="0.59" ry="0.44" opacity="0.15"/>
<ellipse cx="300.1" cy="251.1" rx="0.87" ry="0.65" opacity="0.09"/>
<ellipse cx="298.1" cy="248.1" rx="0.47" ry="0.35" opacity="0.07"/>
<ellipse cx="301.7" cy="246.6" rx="0.76" ry="0.57" opacity="0.12"/>
<ellipse cx="293.9" cy="248.3" rx="0.51" ry="0.38" opacity="0.07"/>
<ellipse cx="292.7" cy="251.7" rx="0.53" ry="0.39" opacity="0.13"/>
<ellipse cx="304.9" cy="246.3" rx="0.46" ry="0.34" opacity="0.07"/>
<ellipse cx="302.4" cy="248.1" rx="0.42" ry="0.31" opacity="0.11"/>
<ellipse cx="298.1" cy="245.8" rx="0.79" ry="0.59" opacity="0.11"/>
<ellipse cx="294.9" cy="253.7" rx="0.55" ry="0.41" opacity="0.10"/>
<ellipse cx="306.5" cy="252.3" rx="0.78" ry="0.57" opacity="0.10"/>
<ellipse cx="299.9" cy="250.6" rx="0.75" ry="0.55" opacity="0.06"/>
<ellipse cx="301.4" cy="246.3" rx="0.87" ry="0.64" opacity="0.12"/>
<ellipse cx="301.3" cy="247.7" rx="0.91" ry="0.68" opacity="0.11"/>
<ellipse cx="295.6" cy="249.2" rx="0.86" ry="0.64" opacity="0.11"/>
<ellipse cx="294.0" cy="248.8" rx="0.83" ry="0.61" opacity="0.15"/>
<ellipse cx="304.2" cy="254.6" rx="0.56" ry="0.41" opacity="0.09"/>
<ellipse cx="300.1" cy="245.6" rx="0.59" ry="0.44" opacity="0.08"/>
<ellipse cx="294.7" cy="249.4" rx="0.62" ry="0.46" opacity="0.08"/>
<ellipse cx="310.6" cy="250.3" rx="0.59" ry="0.44" opacity="0.14"/>
<ellipse cx="298.4" cy="254.0" rx="6.20" ry="4.00" opacity="0.28"/>
<ellipse cx="297.2" cy="253.2" rx="0.50" ry="0.37" opacity="0.59"/>
<ellipse cx="298.9" cy="255.0" rx="0.82" ry="0.61" opacity="0.67"/>
<ellipse cx="300.8" cy="256.2" rx="0.77" ry="0.57" opacity="0.89"/>
<ellipse cx="296.2" cy="254.6" rx="0.43" ry="0.32" opacity="0.73"/>
<ellipse cx="292.3" cy="253.3" rx="0.54" ry="0.40" opacity="0.38"/>
<ellipse cx="293.5" cy="253.4" rx="0.53" ry="0.39" opacity="0.53"/>
<ellipse cx="300.5" cy="257.3" rx="0.72" ry="0.53" opacity="0.53"/>
<ellipse cx="296.7" cy="255.4" rx="0.42" ry="0.31" opacity="0.89"/>
<ellipse cx="298.8" cy="252.0" rx="0.59" ry="0.44" opacity="0.95"/>
<ellipse cx="298.0" cy="257.2" rx="0.90" ry="0.67" opacity="0.55"/>
<ellipse cx="299.1" cy="252.0" rx="0.93" ry="0.69" opacity="0.44"/>
<ellipse cx="300.7" cy="256.9" rx="0.59" ry="0.44" opacity="0.65"/>
<ellipse cx="299.7" cy="253.0" rx="0.53" ry="0.39" opacity="0.75"/>
<ellipse cx="298.8" cy="256.5" rx="0.52" ry="0.39" opacity="0.76"/>
<ellipse cx="297.8" cy="253.5" rx="0.83" ry="0.62" opacity="0.96"/>
<ellipse cx="296.7" cy="257.3" rx="0.57" ry="0.42" opacity="0.93"/>
<ellipse cx="303.2" cy="253.1" rx="0.63" ry="0.46" opacity="0.57"/>
<ellipse cx="300.7" cy="257.4" rx="0.91" ry="0.67" opacity="0.81"/>
<ellipse cx="301.2" cy="253.0" rx="0.45" ry="0.33" opacity="0.66"/>
<ellipse cx="302.9" cy="254.0" rx="0.86" ry="0.63" opacity="0.77"/>
<ellipse cx="295.0" cy="255.4" rx="0.54" ry="0.40" opacity="0.60"/>
<ellipse cx="304.1" cy="253.0" rx="0.74" ry="0.55" opacity="0.81"/>
<ellipse cx="296.3" cy="256.7" rx="0.89" ry="0.66" opacity="0.40"/>
<ellipse cx="300.5" cy="253.8" rx="0.43" ry="0.32" opacity="0.36"/>
<ellipse cx="294.1" cy="255.9" rx="0.54" ry="0.40" opacity="0.96"/>
<ellipse cx="298.6" cy="252.8" rx="0.83" ry="0.61" opacity="0.49"/>
<ellipse cx="298.2" cy="253.4" rx="0.84" ry="0.62" opacity="0.58"/>
<ellipse cx="297.9" cy="253.3" rx="0.67" ry="0.50" opacity="0.60"/>
<ellipse cx="300.6" cy="255.9" rx="0.93" ry="0.69" opacity="0.37"/>
<ellipse cx="301.6" cy="253.5" rx="0.84" ry="0.62" opacity="0.88"/>
<ellipse cx="294.4" cy="252.5" rx="0.93" ry="0.69" opacity="0.64"/>
<ellipse cx="299.8" cy="251.6" rx="0.58" ry="0.43" opacity="1.00"/>
<ellipse cx="302.2" cy="257.0" rx="0.81" ry="0.60" opacity="0.46"/>
<ellipse cx="299.1" cy="253.6" rx="0.79" ry="0.59" opacity="0.98"/>
<ellipse cx="298.9" cy="250.2" rx="0.78" ry="0.58" opacity="0.82"/>
<ellipse cx="303.3" cy="251.9" rx="0.60" ry="0.45" opacity="0.46"/>
<ellipse cx="297.2" cy="254.7" rx="0.89" ry="0.66" opacity="0.63"/>
<ellipse cx="300.0" cy="253.8" rx="0.65" ry="0.48" opacity="0.74"/>
<ellipse cx="294.9" cy="256.4" rx="0.55" ry="0.41" opacity="0.37"/>
<ellipse cx="301.7" cy="252.2" rx="0.58" ry="0.43" opacity="0.86"/>
<ellipse cx="300.8" cy="255.2" rx="0.67" ry="0.50" opacity="0.91"/>
<ellipse cx="295.1" cy="252.7" rx="0.74" ry="0.55" opacity="0.96"/>
<ellipse cx="296.8" cy="255.0" rx="0.70" ry="0.52" opacity="0.44"/>
<ellipse cx="298.6" cy="257.1" rx="0.65" ry="0.48" opacity="0.47"/>
<ellipse cx="304.5" cy="254.0" rx="0.86" ry="0.64" opacity="0.76"/>
<ellipse cx="294.7" cy="253.1" rx="0.93" ry="0.69" opacity="0.99"/>
<ellipse cx="302.9" cy="253.0" rx="0.76" ry="0.56" opacity="0.95"/>
<ellipse cx="298.9" cy="256.6" rx="0.71" ry="0.53" opacity="0.56"/>
<ellipse cx="294.6" cy="252.4" rx="0.90" ry="0.67" opacity="0.65"/>
<ellipse cx="294.8" cy="255.5" rx="0.41" ry="0.30" opacity="0.37"/>
<ellipse cx="304.0" cy="254.7" rx="0.87" ry="0.65" opacity="0.84"/>
<ellipse cx="298.1" cy="257.0" rx="0.49" ry="0.36" opacity="0.70"/>
<ellipse cx="293.6" cy="253.5" rx="0.47" ry="0.35" opacity="0.95"/>
<ellipse cx="293.1" cy="251.9" rx="0.45" ry="0.34" opacity="0.82"/>
<ellipse cx="301.0" cy="250.4" rx="0.53" ry="0.39" opacity="0.56"/>
<ellipse cx="302.3" cy="252.0" rx="0.47" ry="0.34" opacity="0.74"/>
<ellipse cx="296.8" cy="257.3" rx="0.46" ry="0.34" opacity="0.82"/>
<ellipse cx="296.7" cy="254.8" rx="0.54" ry="0.40" opacity="0.87"/>
<ellipse cx="304.1" cy="252.7" rx="0.43" ry="0.32" opacity="0.92"/>
<ellipse cx="295.9" cy="252.4" rx="0.43" ry="0.32" opacity="0.82"/>
<ellipse cx="296.0" cy="253.6" rx="0.69" ry="0.51" opacity="0.40"/>
<ellipse cx="303.7" cy="252.7" rx="0.80" ry="0.59" opacity="1.00"/>
<ellipse cx="300.2" cy="256.3" rx="0.92" ry="0.68" opacity="0.94"/>
<ellipse cx="297.3" cy="253.2" rx="0.67" ry="0.50" opacity="0.71"/>
<ellipse cx="295.5" cy="253.6" rx="0.52" ry="0.39" opacity="0.55"/>
<ellipse cx="298.5" cy="257.9" rx="0.50" ry="0.37" opacity="0.48"/>
<ellipse cx="300.2" cy="253.9" rx="0.42" ry="0.31" opacity="0.61"/>
<ellipse cx="293.9" cy="252.9" rx="0.87" ry="0.65" opacity="0.95"/>
<ellipse cx="303.8" cy="254.3" rx="0.52" ry="0.39" opacity="0.75"/>
<ellipse cx="299.2" cy="253.0" rx="0.70" ry="0.52" opacity="0.96"/>
<ellipse cx="294.4" cy="255.7" rx="0.82" ry="0.61" opacity="0.59"/>
<ellipse cx="302.3" cy="256.0" rx="0.42" ry="0.31" opacity="0.95"/>
<ellipse cx="294.1" cy="254.3" rx="0.48" ry="0.36" opacity="0.70"/>
<ellipse cx="293.9" cy="255.1" rx="0.46" ry="0.34" opacity="0.54"/>
<ellipse cx="293.3" cy="253.1" rx="0.76" ry="0.56" opacity="0.37"/>
<ellipse cx="301.7" cy="253.2" rx="0.75" ry="0.55" opacity="0.99"/>
<ellipse cx="300.1" cy="252.1" rx="0.54" ry="0.40" opacity="0.68"/>
<ellipse cx="296.5" cy="254.0" rx="0.73" ry="0.54" opacity="0.90"/>
<ellipse cx="300.4" cy="256.7" rx="0.70" ry="0.52" opacity="0.49"/>
<ellipse cx="298.4" cy="254.0" rx="3.41" ry="2.00" fill="#4ff53e" opacity="0.80"/>
<ellipse cx="299.0" cy="253.5" rx="0.71" ry="0.37" fill="#66fa52" opacity="0.90"/>
<ellipse cx="299.6" cy="253.4" rx="0.68" ry="0.52" fill="#66fa52" opacity="0.90"/>
<ellipse cx="297.0" cy="252.2" rx="0.51" ry="0.46" fill="#66fa52" opacity="0.90"/>
<ellipse cx="295.9" cy="253.0" rx="0.56" ry="0.44" fill="#66fa52" opacity="0.90"/>
<ellipse cx="297.9" cy="253.7" rx="0.62" ry="0.45" fill="#66fa52" opacity="0.90"/>
<ellipse cx="297.7" cy="253.0" rx="0.42" ry="0.52" fill="#66fa52" opacity="0.90"/>
<ellipse cx="298.2" cy="254.3" rx="0.42" ry="0.59" fill="#66fa52" opacity="0.90"/>
<ellipse cx="297.5" cy="254.0" rx="0.43" ry="0.49" fill="#66fa52" opacity="0.90"/>
<ellipse cx="298.0" cy="254.1" rx="0.62" ry="0.48" fill="#66fa52" opacity="0.90"/>
<ellipse cx="297.7" cy="253.8" rx="0.40" ry="0.51" fill="#66fa52" opacity="0.90"/>
<ellipse cx="300.7" cy="254.0" rx="0.56" ry="0.57" fill="#66fa52" opacity="0.90"/>
<ellipse cx="297.4" cy="253.9" rx="0.46" ry="0.56" fill="#66fa52" opacity="0.90"/>
<ellipse cx="298.7" cy="255.7" rx="0.54" ry="0.43" fill="#66fa52" opacity="0.90"/>
<ellipse cx="296.6" cy="255.3" rx="0.54" ry="0.43" fill="#66fa52" opacity="0.90"/>
<ellipse cx="296.3" cy="255.7" rx="0.79" ry="0.54" fill="#66fa52" opacity="0.90"/>
<ellipse cx="298.5" cy="252.8" rx="0.69" ry="0.52" fill="#66fa52" opacity="0.90"/>
<ellipse cx="299.8" cy="253.9" rx="0.40" ry="0.48" fill="#66fa52" opacity="0.90"/>
<ellipse cx="298.0" cy="253.0" rx="0.79" ry="0.40" fill="#66fa52" opacity="0.90"/>
<ellipse cx="296.3" cy="252.3" rx="0.79" ry="0.45" fill="#66fa52" opacity="0.90"/>
<ellipse cx="298.3" cy="253.4" rx="0.60" ry="0.38" fill="#66fa52" opacity="0.90"/>
<ellipse cx="298.8" cy="252.5" rx="0.42" ry="0.59" fill="#66fa52" opacity="0.90"/>
<ellipse cx="295.1" cy="254.1" rx="0.77" ry="0.50" fill="#66fa52" opacity="0.90"/>
<ellipse cx="295.8" cy="254.7" rx="0.60" ry="0.40" fill="#66fa52" opacity="0.90"/>
<ellipse cx="301.5" cy="254.0" rx="0.77" ry="0.53" fill="#66fa52" opacity="0.90"/>
<ellipse cx="295.2" cy="253.6" rx="0.53" ry="0.42" fill="#66fa52" opacity="0.90"/>
<ellipse cx="299.1" cy="251.9" rx="0.62" ry="0.48" fill="#66fa52" opacity="0.90"/>
<ellipse cx="297.0" cy="253.2" rx="0.57" ry="0.37" fill="#66fa52" opacity="0.90"/>
<ellipse cx="295.7" cy="252.9" rx="0.54" ry="0.53" fill="#66fa52" opacity="0.90"/>
<ellipse cx="298.1" cy="252.2" rx="0.47" ry="0.46" fill="#66fa52" opacity="0.90"/>
<ellipse cx="297.5" cy="254.2" rx="3.60" ry="2.40" opacity="0.28"/>
<ellipse cx="294.8" cy="252.9" rx="0.42" ry="0.31" opacity="0.42"/>
<ellipse cx="298.6" cy="256.2" rx="0.49" ry="0.36" opacity="0.70"/>
<ellipse cx="296.6" cy="256.0" rx="0.64" ry="0.47" opacity="0.53"/>
<ellipse cx="294.2" cy="253.8" rx="0.87" ry="0.65" opacity="0.70"/>
<ellipse cx="296.8" cy="252.0" rx="0.79" ry="0.58" opacity="0.75"/>
<ellipse cx="297.6" cy="253.6" rx="0.71" ry="0.53" opacity="0.52"/>
<ellipse cx="296.7" cy="254.2" rx="0.56" ry="0.41" opacity="0.69"/>
<ellipse cx="298.9" cy="252.0" rx="0.93" ry="0.69" opacity="0.75"/>
<ellipse cx="298.2" cy="252.9" rx="0.47" ry="0.35" opacity="0.55"/>
<ellipse cx="296.4" cy="252.7" rx="0.47" ry="0.35" opacity="0.49"/>
<ellipse cx="296.2" cy="252.1" rx="0.65" ry="0.48" opacity="0.69"/>
<ellipse cx="299.9" cy="253.0" rx="0.77" ry="0.57" opacity="0.70"/>
<ellipse cx="298.3" cy="253.1" rx="0.43" ry="0.32" opacity="0.88"/>
<ellipse cx="297.1" cy="253.7" rx="0.91" ry="0.68" opacity="0.65"/>
<ellipse cx="296.7" cy="254.3" rx="0.49" ry="0.36" opacity="0.87"/>
<ellipse cx="296.8" cy="252.5" rx="0.69" ry="0.51" opacity="0.58"/>
<ellipse cx="298.3" cy="251.9" rx="0.45" ry="0.34" opacity="0.52"/>
<ellipse cx="297.9" cy="252.3" rx="0.83" ry="0.61" opacity="0.44"/>
<ellipse cx="295.6" cy="255.0" rx="0.42" ry="0.31" opacity="0.72"/>
<ellipse cx="298.7" cy="255.6" rx="0.82" ry="0.61" opacity="0.41"/>
<ellipse cx="300.3" cy="253.4" rx="0.60" ry="0.45" opacity="0.41"/>
<ellipse cx="296.7" cy="252.9" rx="0.94" ry="0.70" opacity="0.66"/>
<ellipse cx="296.1" cy="253.4" rx="0.48" ry="0.36" opacity="0.62"/>
<ellipse cx="298.0" cy="255.8" rx="0.54" ry="0.40" opacity="0.82"/>
<ellipse cx="299.3" cy="252.7" rx="0.56" ry="0.41" opacity="0.38"/>
<ellipse cx="297.5" cy="252.8" rx="0.93" ry="0.69" opacity="0.43"/>
<ellipse cx="295.0" cy="252.7" rx="0.57" ry="0.42" opacity="0.61"/>
<ellipse cx="297.5" cy="254.2" rx="1.98" ry="1.20" fill="#4ff53e" opacity="0.80"/>
<ellipse cx="297.5" cy="254.3" rx="0.78" ry="0.45" fill="#66fa52" opacity="0.90"/>
<ellipse cx="297.5" cy="254.2" rx="0.76" ry="0.47" fill="#66fa52" opacity="0.90"/>
<ellipse cx="298.0" cy="253.7" rx="0.49" ry="0.47" fill="#66fa52" opacity="0.90"/>
<ellipse cx="296.7" cy="254.6" rx="0.47" ry="0.36" fill="#66fa52" opacity="0.90"/>
<ellipse cx="298.1" cy="254.2" rx="0.48" ry="0.56" fill="#66fa52" opacity="0.90"/>
<ellipse cx="296.8" cy="253.4" rx="0.43" ry="0.43" fill="#66fa52" opacity="0.90"/>
<ellipse cx="299.4" cy="253.8" rx="0.76" ry="0.44" fill="#66fa52" opacity="0.90"/>
<ellipse cx="297.0" cy="253.8" rx="0.66" ry="0.48" fill="#66fa52" opacity="0.90"/>
<ellipse cx="297.3" cy="254.1" rx="0.49" ry="0.42" fill="#66fa52" opacity="0.90"/>
<ellipse cx="296.6" cy="254.1" rx="0.55" ry="0.47" fill="#66fa52" opacity="0.90"/>
<ellipse cx="305.0" cy="246.6" rx="5.40" ry="2.30" opacity="0.24"/>
<ellipse cx="302.3" cy="246.1" rx="0.59" ry="0.44" opacity="0.61"/>
<ellipse cx="301.8" cy="245.2" rx="0.74" ry="0.55" opacity="0.36"/>
<ellipse cx="302.5" cy="248.0" rx="0.79" ry="0.59" opacity="0.80"/>
<ellipse cx="304.5" cy="244.9" rx="0.73" ry="0.54" opacity="0.45"/>
<ellipse cx="302.4" cy="246.0" rx="0.59" ry="0.43" opacity="0.42"/>
<ellipse cx="310.1" cy="246.0" rx="0.57" ry="0.42" opacity="0.58"/>
<ellipse cx="309.4" cy="247.5" rx="0.55" ry="0.41" opacity="0.77"/>
<ellipse cx="305.4" cy="248.1" rx="0.78" ry="0.58" opacity="0.63"/>
<ellipse cx="308.7" cy="245.5" rx="0.66" ry="0.49" opacity="0.51"/>
<ellipse cx="302.3" cy="247.5" rx="0.85" ry="0.63" opacity="0.31"/>
<ellipse cx="303.6" cy="248.4" rx="0.46" ry="0.34" opacity="0.74"/>
<ellipse cx="302.0" cy="248.3" rx="0.53" ry="0.39" opacity="0.72"/>
<ellipse cx="306.7" cy="245.7" rx="0.71" ry="0.53" opacity="0.73"/>
<ellipse cx="308.6" cy="246.0" rx="0.89" ry="0.66" opacity="0.79"/>
<ellipse cx="307.1" cy="246.4" rx="0.65" ry="0.48" opacity="0.64"/>
<ellipse cx="303.9" cy="246.2" rx="0.72" ry="0.53" opacity="0.81"/>
<ellipse cx="303.1" cy="246.4" rx="0.57" ry="0.42" opacity="0.80"/>
<ellipse cx="303.9" cy="246.9" rx="0.56" ry="0.41" opacity="0.61"/>
<ellipse cx="306.8" cy="247.9" rx="0.67" ry="0.49" opacity="0.66"/>
<ellipse cx="304.7" cy="247.4" rx="0.66" ry="0.49" opacity="0.40"/>
<ellipse cx="302.1" cy="246.1" rx="0.86" ry="0.64" opacity="0.40"/>
<ellipse cx="302.5" cy="246.4" rx="0.48" ry="0.36" opacity="0.37"/>
<ellipse cx="301.6" cy="246.0" rx="0.74" ry="0.55" opacity="0.67"/>
<ellipse cx="309.7" cy="247.6" rx="0.91" ry="0.68" opacity="0.44"/>
<ellipse cx="307.3" cy="248.4" rx="0.45" ry="0.33" opacity="0.65"/>
<ellipse cx="303.1" cy="248.7" rx="0.48" ry="0.35" opacity="0.57"/>
<ellipse cx="306.1" cy="247.1" rx="0.79" ry="0.59" opacity="0.73"/>
<ellipse cx="308.0" cy="248.5" rx="0.49" ry="0.36" opacity="0.46"/>
<ellipse cx="305.0" cy="247.6" rx="0.73" ry="0.54" opacity="0.30"/>
<ellipse cx="306.6" cy="244.7" rx="0.92" ry="0.68" opacity="0.66"/>
<ellipse cx="306.7" cy="247.4" rx="0.48" ry="0.35" opacity="0.81"/>
<ellipse cx="301.5" cy="245.4" rx="0.82" ry="0.61" opacity="0.71"/>
<ellipse cx="306.9" cy="246.4" rx="0.60" ry="0.45" opacity="0.56"/>
<ellipse cx="302.3" cy="245.6" rx="0.54" ry="0.40" opacity="0.47"/>
<ellipse cx="304.5" cy="246.2" rx="0.85" ry="0.63" opacity="0.35"/>
<ellipse cx="300.6" cy="247.6" rx="0.50" ry="0.37" opacity="0.58"/>
<ellipse cx="305.4" cy="247.2" rx="0.74" ry="0.54" opacity="0.79"/>
<ellipse cx="300.7" cy="247.8" rx="0.58" ry="0.43" opacity="0.67"/>
<ellipse cx="306.3" cy="246.0" rx="0.80" ry="0.59" opacity="0.45"/>
<ellipse cx="318.5" cy="254.2" rx="2.20" ry="1.80" opacity="0.15"/>
<ellipse cx="318.0" cy="254.5" rx="0.89" ry="0.66" opacity="0.30"/>
<ellipse cx="316.9" cy="255.2" rx="0.62" ry="0.46" opacity="0.40"/>
<ellipse cx="316.9" cy="253.4" rx="0.65" ry="0.48" opacity="0.51"/>
<ellipse cx="318.8" cy="256.0" rx="0.41" ry="0.30" opacity="0.48"/>
<ellipse cx="316.5" cy="254.0" rx="0.49" ry="0.36" opacity="0.22"/>
<ellipse cx="318.7" cy="253.1" rx="0.55" ry="0.41" opacity="0.49"/>
<ellipse cx="317.8" cy="253.8" rx="0.72" ry="0.53" opacity="0.41"/>
<ellipse cx="319.9" cy="254.6" rx="0.73" ry="0.54" opacity="0.26"/>
<ellipse cx="319.5" cy="253.6" rx="0.71" ry="0.52" opacity="0.31"/>
<ellipse cx="316.5" cy="254.9" rx="0.61" ry="0.45" opacity="0.36"/>
<ellipse cx="318.4" cy="255.2" rx="0.56" ry="0.41" opacity="0.54"/>
<ellipse cx="319.1" cy="254.0" rx="0.82" ry="0.61" opacity="0.51"/>
<ellipse cx="310.2" cy="266.3" rx="5.50" ry="1.80" opacity="0.14"/>
<ellipse cx="307.6" cy="264.8" rx="0.55" ry="0.41" opacity="0.47"/>
<ellipse cx="311.1" cy="264.9" rx="0.65" ry="0.48" opacity="0.41"/>
<ellipse cx="312.0" cy="266.1" rx="0.42" ry="0.31" opacity="0.38"/>
<ellipse cx="314.9" cy="267.0" rx="0.87" ry="0.64" opacity="0.50"/>
<ellipse cx="312.4" cy="267.1" rx="0.44" ry="0.33" opacity="0.40"/>
<ellipse cx="311.3" cy="266.6" rx="0.52" ry="0.38" opacity="0.23"/>
<ellipse cx="313.8" cy="265.1" rx="0.78" ry="0.58" opacity="0.40"/>
<ellipse cx="308.3" cy="266.6" rx="0.51" ry="0.38" opacity="0.20"/>
<ellipse cx="312.4" cy="266.8" rx="0.70" ry="0.52" opacity="0.20"/>
<ellipse cx="306.9" cy="265.8" rx="0.57" ry="0.42" opacity="0.20"/>
<ellipse cx="306.1" cy="267.2" rx="0.80" ry="0.60" opacity="0.41"/>
<ellipse cx="309.6" cy="266.9" rx="0.82" ry="0.61" opacity="0.20"/>
<ellipse cx="307.3" cy="266.5" rx="0.51" ry="0.38" opacity="0.19"/>
<ellipse cx="308.9" cy="267.5" rx="0.68" ry="0.50" opacity="0.44"/>
<ellipse cx="306.7" cy="265.0" rx="0.53" ry="0.39" opacity="0.27"/>
<ellipse cx="309.2" cy="266.8" rx="0.56" ry="0.41" opacity="0.34"/>
<ellipse cx="308.2" cy="266.9" rx="0.82" ry="0.61" opacity="0.41"/>
<ellipse cx="313.6" cy="265.7" rx="0.72" ry="0.53" opacity="0.37"/>
<ellipse cx="312.7" cy="265.9" rx="0.87" ry="0.64" opacity="0.34"/>
<ellipse cx="310.8" cy="264.8" rx="0.56" ry="0.42" opacity="0.37"/>
<ellipse cx="308.4" cy="266.5" rx="0.61" ry="0.45" opacity="0.49"/>
<ellipse cx="309.4" cy="266.8" rx="0.78" ry="0.57" opacity="0.33"/>
<ellipse cx="309.0" cy="266.0" rx="0.69" ry="0.51" opacity="0.32"/>
<ellipse cx="307.0" cy="265.8" rx="0.70" ry="0.52" opacity="0.50"/>
<ellipse cx="310.9" cy="266.5" rx="0.59" ry="0.44" opacity="0.21"/>
<ellipse cx="314.7" cy="266.6" rx="0.86" ry="0.63" opacity="0.18"/>
<ellipse cx="311.0" cy="267.0" rx="0.61" ry="0.45" opacity="0.50"/>
<ellipse cx="312.9" cy="266.8" rx="0.69" ry="0.51" opacity="0.24"/>
<ellipse cx="307.9" cy="267.5" rx="0.77" ry="0.57" opacity="0.43"/>
<ellipse cx="309.3" cy="265.4" rx="0.48" ry="0.35" opacity="0.18"/>
<ellipse cx="307.8" cy="264.9" rx="0.78" ry="0.58" opacity="0.37"/>
<ellipse cx="290.5" cy="271.5" rx="4.00" ry="1.60" opacity="0.14"/>
<ellipse cx="290.0" cy="271.6" rx="0.65" ry="0.48" opacity="0.21"/>
<ellipse cx="289.6" cy="272.8" rx="0.72" ry="0.53" opacity="0.47"/>
<ellipse cx="292.6" cy="270.5" rx="0.91" ry="0.67" opacity="0.22"/>
<ellipse cx="290.3" cy="270.3" rx="0.70" ry="0.52" opacity="0.21"/>
<ellipse cx="286.7" cy="271.5" rx="0.79" ry="0.59" opacity="0.48"/>
<ellipse cx="290.6" cy="271.2" rx="0.62" ry="0.46" opacity="0.45"/>
<ellipse cx="290.0" cy="270.5" rx="0.65" ry="0.48" opacity="0.30"/>
<ellipse cx="289.1" cy="272.1" rx="0.66" ry="0.49" opacity="0.37"/>
<ellipse cx="291.3" cy="272.0" rx="0.75" ry="0.55" opacity="0.36"/>
<ellipse cx="287.8" cy="271.6" rx="0.60" ry="0.44" opacity="0.50"/>
<ellipse cx="289.7" cy="272.5" rx="0.57" ry="0.42" opacity="0.37"/>
<ellipse cx="289.7" cy="272.4" rx="0.43" ry="0.32" opacity="0.29"/>
<ellipse cx="287.6" cy="271.8" rx="0.82" ry="0.61" opacity="0.19"/>
<ellipse cx="289.7" cy="272.1" rx="0.65" ry="0.48" opacity="0.47"/>
<ellipse cx="293.5" cy="270.9" rx="0.91" ry="0.67" opacity="0.34"/>
<ellipse cx="289.6" cy="271.2" rx="0.80" ry="0.59" opacity="0.26"/>
<ellipse cx="288.9" cy="271.3" rx="0.68" ry="0.50" opacity="0.30"/>
<ellipse cx="292.5" cy="270.8" rx="0.82" ry="0.61" opacity="0.26"/>
<ellipse cx="287.8" cy="271.5" rx="0.57" ry="0.42" opacity="0.31"/>
<ellipse cx="291.8" cy="271.6" rx="0.58" ry="0.43" opacity="0.40"/>
<ellipse cx="316.5" cy="273.5" rx="3.40" ry="1.40" opacity="0.14"/>
<ellipse cx="314.1" cy="272.9" rx="0.45" ry="0.34" opacity="0.25"/>
<ellipse cx="317.4" cy="273.3" rx="0.50" ry="0.37" opacity="0.36"/>
<ellipse cx="313.5" cy="273.8" rx="0.87" ry="0.64" opacity="0.36"/>
<ellipse cx="314.5" cy="273.8" rx="0.94" ry="0.69" opacity="0.21"/>
<ellipse cx="313.6" cy="273.6" rx="0.77" ry="0.57" opacity="0.21"/>
<ellipse cx="317.7" cy="272.3" rx="0.81" ry="0.60" opacity="0.23"/>
<ellipse cx="317.3" cy="273.2" rx="0.41" ry="0.31" opacity="0.40"/>
<ellipse cx="315.4" cy="272.4" rx="0.69" ry="0.51" opacity="0.20"/>
<ellipse cx="319.0" cy="273.8" rx="0.82" ry="0.60" opacity="0.29"/>
<ellipse cx="316.7" cy="272.7" rx="0.65" ry="0.48" opacity="0.40"/>
<ellipse cx="315.5" cy="272.5" rx="0.48" ry="0.36" opacity="0.40"/>
<ellipse cx="317.0" cy="272.3" rx="0.75" ry="0.55" opacity="0.37"/>
<ellipse cx="316.6" cy="274.9" rx="0.93" ry="0.69" opacity="0.26"/>
<ellipse cx="314.9" cy="272.5" rx="0.66" ry="0.49" opacity="0.27"/>
<ellipse cx="315.8" cy="273.9" rx="0.84" ry="0.62" opacity="0.34"/>
<ellipse cx="300.0" cy="262.0" rx="4.00" ry="1.20" opacity="0.08"/>
<ellipse cx="301.6" cy="262.0" rx="0.94" ry="0.69" opacity="0.23"/>
<ellipse cx="299.0" cy="261.9" rx="0.44" ry="0.33" opacity="0.20"/>
<ellipse cx="302.2" cy="262.6" rx="0.53" ry="0.39" opacity="0.28"/>
<ellipse cx="299.6" cy="261.8" rx="0.87" ry="0.64" opacity="0.24"/>
<ellipse cx="300.5" cy="262.7" rx="0.77" ry="0.57" opacity="0.28"/>
<ellipse cx="297.2" cy="262.6" rx="0.91" ry="0.68" opacity="0.29"/>
<ellipse cx="297.4" cy="261.3" rx="0.45" ry="0.33" opacity="0.24"/>
<ellipse cx="301.3" cy="261.5" rx="0.86" ry="0.64" opacity="0.17"/>
<ellipse cx="301.0" cy="261.5" rx="0.70" ry="0.52" opacity="0.23"/>
<ellipse cx="300.7" cy="262.2" rx="0.59" ry="0.44" opacity="0.19"/>
<ellipse cx="297.5" cy="261.1" rx="0.91" ry="0.68" opacity="0.13"/>
<ellipse cx="299.7" cy="261.7" rx="0.44" ry="0.33" opacity="0.12"/>
<ellipse cx="302.6" cy="261.4" rx="0.69" ry="0.51" opacity="0.22"/>
<ellipse cx="299.3" cy="261.8" rx="0.66" ry="0.49" opacity="0.28"/>
<ellipse cx="303.2" cy="262.2" rx="0.44" ry="0.33" opacity="0.21"/>
<ellipse cx="303.0" cy="270.5" rx="3.00" ry="1.00" opacity="0.07"/>
<ellipse cx="303.3" cy="270.7" rx="0.44" ry="0.33" opacity="0.16"/>
<ellipse cx="303.9" cy="270.4" rx="0.64" ry="0.48" opacity="0.14"/>
<ellipse cx="302.2" cy="270.8" rx="0.62" ry="0.46" opacity="0.25"/>
<ellipse cx="304.7" cy="271.2" rx="0.83" ry="0.62" opacity="0.16"/>
<ellipse cx="302.2" cy="269.8" rx="0.94" ry="0.70" opacity="0.10"/>
<ellipse cx="303.1" cy="269.6" rx="0.76" ry="0.56" opacity="0.25"/>
<ellipse cx="305.1" cy="270.7" rx="0.81" ry="0.60" opacity="0.10"/>
<ellipse cx="300.4" cy="270.3" rx="0.77" ry="0.57" opacity="0.15"/>
<ellipse cx="304.2" cy="269.6" rx="0.53" ry="0.39" opacity="0.13"/>
<ellipse cx="294.1" cy="283.2" rx="6.00" ry="2.80" opacity="0.22"/>
<ellipse cx="296.3" cy="281.1" rx="0.64" ry="0.47" opacity="0.80"/>
<ellipse cx="298.4" cy="282.9" rx="0.61" ry="0.45" opacity="0.33"/>
<ellipse cx="297.5" cy="283.3" rx="0.64" ry="0.47" opacity="0.32"/>
<ellipse cx="295.0" cy="285.7" rx="0.81" ry="0.60" opacity="0.47"/>
<ellipse cx="298.6" cy="284.9" rx="0.89" ry="0.66" opacity="0.68"/>
<ellipse cx="292.1" cy="281.2" rx="0.55" ry="0.41" opacity="0.57"/>
<ellipse cx="297.1" cy="283.2" rx="0.50" ry="0.37" opacity="0.34"/>
<ellipse cx="293.5" cy="281.5" rx="0.58" ry="0.43" opacity="0.69"/>
<ellipse cx="291.1" cy="281.5" rx="0.89" ry="0.66" opacity="0.38"/>
<ellipse cx="292.9" cy="283.4" rx="0.80" ry="0.59" opacity="0.67"/>
<ellipse cx="297.2" cy="283.5" rx="0.44" ry="0.33" opacity="0.70"/>
<ellipse cx="292.1" cy="282.5" rx="0.78" ry="0.58" opacity="0.76"/>
<ellipse cx="296.5" cy="282.1" rx="0.42" ry="0.31" opacity="0.47"/>
<ellipse cx="293.7" cy="285.5" rx="0.58" ry="0.43" opacity="0.72"/>
<ellipse cx="293.1" cy="285.8" rx="0.91" ry="0.67" opacity="0.56"/>
<ellipse cx="299.2" cy="283.7" rx="0.87" ry="0.64" opacity="0.35"/>
<ellipse cx="293.9" cy="282.5" rx="0.58" ry="0.43" opacity="0.43"/>
<ellipse cx="296.7" cy="285.0" rx="0.94" ry="0.69" opacity="0.54"/>
<ellipse cx="296.6" cy="282.8" rx="0.47" ry="0.35" opacity="0.43"/>
<ellipse cx="295.4" cy="281.9" rx="0.59" ry="0.44" opacity="0.73"/>
<ellipse cx="291.4" cy="282.2" rx="0.88" ry="0.65" opacity="0.35"/>
<ellipse cx="295.5" cy="285.2" rx="0.67" ry="0.50" opacity="0.64"/>
<ellipse cx="296.0" cy="281.1" rx="0.50" ry="0.37" opacity="0.66"/>
<ellipse cx="294.2" cy="283.9" rx="0.57" ry="0.42" opacity="0.48"/>
<ellipse cx="292.4" cy="283.2" rx="0.75" ry="0.55" opacity="0.48"/>
<ellipse cx="298.0" cy="283.1" rx="0.85" ry="0.63" opacity="0.70"/>
<ellipse cx="290.4" cy="281.9" rx="0.45" ry="0.33" opacity="0.75"/>
<ellipse cx="299.7" cy="282.7" rx="0.45" ry="0.33" opacity="0.39"/>
<ellipse cx="293.3" cy="284.1" rx="0.54" ry="0.40" opacity="0.33"/>
<ellipse cx="289.4" cy="281.9" rx="0.59" ry="0.43" opacity="0.71"/>
<ellipse cx="297.0" cy="281.7" rx="0.87" ry="0.65" opacity="0.41"/>
<ellipse cx="290.6" cy="281.8" rx="0.41" ry="0.30" opacity="0.79"/>
<ellipse cx="293.8" cy="285.1" rx="0.83" ry="0.62" opacity="0.53"/>
<ellipse cx="298.3" cy="285.2" rx="0.87" ry="0.65" opacity="0.54"/>
<ellipse cx="294.0" cy="283.3" rx="0.57" ry="0.43" opacity="0.79"/>
<ellipse cx="294.2" cy="282.3" rx="0.76" ry="0.56" opacity="0.32"/>
<ellipse cx="288.3" cy="283.3" rx="0.42" ry="0.31" opacity="0.54"/>
<ellipse cx="295.6" cy="283.1" rx="0.65" ry="0.48" opacity="0.70"/>
<ellipse cx="296.4" cy="281.6" rx="0.72" ry="0.53" opacity="0.56"/>
<ellipse cx="291.3" cy="280.8" rx="0.76" ry="0.56" opacity="0.40"/>
<ellipse cx="294.5" cy="285.0" rx="0.77" ry="0.57" opacity="0.69"/>
<ellipse cx="293.8" cy="284.2" rx="0.45" ry="0.34" opacity="0.68"/>
<ellipse cx="294.5" cy="283.2" rx="0.64" ry="0.48" opacity="0.70"/>
<ellipse cx="296.8" cy="283.0" rx="0.59" ry="0.44" opacity="0.34"/>
<ellipse cx="295.6" cy="284.0" rx="0.83" ry="0.62" opacity="0.65"/>
<ellipse cx="292.5" cy="280.9" rx="0.51" ry="0.38" opacity="0.78"/>
<ellipse cx="291.4" cy="283.0" rx="0.84" ry="0.62" opacity="0.41"/>
<ellipse cx="299.2" cy="283.5" rx="0.47" ry="0.35" opacity="0.80"/>
<ellipse cx="295.8" cy="282.0" rx="0.93" ry="0.69" opacity="0.59"/>
<ellipse cx="291.4" cy="282.8" rx="0.89" ry="0.66" opacity="0.60"/>
<ellipse cx="293.4" cy="284.5" rx="0.57" ry="0.42" opacity="0.45"/>
<ellipse cx="298.1" cy="282.4" rx="0.74" ry="0.55" opacity="0.67"/>
<ellipse cx="298.2" cy="284.0" rx="0.83" ry="0.61" opacity="0.32"/>
<ellipse cx="286.3" cy="290.8" rx="4.40" ry="1.50" opacity="0.25"/>
<ellipse cx="288.9" cy="290.4" rx="0.41" ry="0.31" opacity="0.88"/>
<ellipse cx="283.0" cy="291.5" rx="0.93" ry="0.69" opacity="0.33"/>
<ellipse cx="285.9" cy="291.8" rx="0.57" ry="0.42" opacity="0.73"/>
<ellipse cx="284.5" cy="291.5" rx="0.63" ry="0.46" opacity="0.77"/>
<ellipse cx="283.9" cy="290.6" rx="0.88" ry="0.65" opacity="0.57"/>
<ellipse cx="287.6" cy="290.8" rx="0.46" ry="0.34" opacity="0.72"/>
<ellipse cx="286.9" cy="290.6" rx="0.59" ry="0.44" opacity="0.74"/>
<ellipse cx="285.7" cy="289.8" rx="0.78" ry="0.57" opacity="0.82"/>
<ellipse cx="284.1" cy="290.4" rx="0.52" ry="0.38" opacity="0.51"/>
<ellipse cx="287.9" cy="289.6" rx="0.60" ry="0.44" opacity="0.45"/>
<ellipse cx="287.1" cy="290.8" rx="0.61" ry="0.46" opacity="0.55"/>
<ellipse cx="286.1" cy="290.6" rx="0.77" ry="0.57" opacity="0.34"/>
<ellipse cx="287.0" cy="291.7" rx="0.82" ry="0.61" opacity="0.43"/>
<ellipse cx="286.0" cy="290.7" rx="0.49" ry="0.36" opacity="0.49"/>
<ellipse cx="289.7" cy="291.4" rx="0.72" ry="0.53" opacity="0.80"/>
<ellipse cx="283.3" cy="291.0" rx="0.42" ry="0.31" opacity="0.86"/>
<ellipse cx="285.0" cy="291.9" rx="0.86" ry="0.64" opacity="0.55"/>
<ellipse cx="284.2" cy="291.9" rx="0.84" ry="0.62" opacity="0.85"/>
<ellipse cx="284.4" cy="291.2" rx="0.68" ry="0.50" opacity="0.66"/>
<ellipse cx="284.5" cy="289.6" rx="0.74" ry="0.55" opacity="0.46"/>
<ellipse cx="286.9" cy="289.5" rx="0.86" ry="0.63" opacity="0.37"/>
<ellipse cx="286.3" cy="290.8" rx="2.42" ry="0.75" fill="#4ff53e" opacity="0.80"/>
<ellipse cx="284.4" cy="291.3" rx="0.56" ry="0.39" fill="#66fa52" opacity="0.90"/>
<ellipse cx="288.3" cy="291.0" rx="0.41" ry="0.44" fill="#66fa52" opacity="0.90"/>
<ellipse cx="285.6" cy="290.9" rx="0.58" ry="0.53" fill="#66fa52" opacity="0.90"/>
<ellipse cx="287.4" cy="291.0" rx="0.67" ry="0.50" fill="#66fa52" opacity="0.90"/>
<ellipse cx="285.3" cy="290.7" rx="0.54" ry="0.58" fill="#66fa52" opacity="0.90"/>
<ellipse cx="285.2" cy="290.8" rx="0.59" ry="0.38" fill="#66fa52" opacity="0.90"/>
<ellipse cx="284.0" cy="290.4" rx="0.66" ry="0.35" fill="#66fa52" opacity="0.90"/>
<ellipse cx="304.0" cy="287.0" rx="4.00" ry="1.20" opacity="0.08"/>
<ellipse cx="304.8" cy="286.6" rx="0.42" ry="0.31" opacity="0.16"/>
<ellipse cx="303.9" cy="287.0" rx="0.94" ry="0.70" opacity="0.18"/>
<ellipse cx="307.2" cy="287.1" rx="0.93" ry="0.69" opacity="0.11"/>
<ellipse cx="304.6" cy="287.3" rx="0.60" ry="0.45" opacity="0.18"/>
<ellipse cx="307.8" cy="287.2" rx="0.82" ry="0.61" opacity="0.16"/>
<ellipse cx="302.2" cy="286.4" rx="0.84" ry="0.62" opacity="0.15"/>
<ellipse cx="307.2" cy="286.7" rx="0.74" ry="0.55" opacity="0.22"/>
<ellipse cx="303.8" cy="286.9" rx="0.89" ry="0.66" opacity="0.20"/>
<ellipse cx="304.7" cy="287.6" rx="0.79" ry="0.59" opacity="0.26"/>
<ellipse cx="304.5" cy="287.7" rx="0.94" ry="0.70" opacity="0.12"/>
<ellipse cx="301.0" cy="287.7" rx="0.79" ry="0.59" opacity="0.21"/>
<ellipse cx="303.2" cy="287.1" rx="0.81" ry="0.60" opacity="0.17"/>
<ellipse cx="307.5" cy="287.5" rx="0.45" ry="0.33" opacity="0.20"/>
<ellipse cx="303.1" cy="286.2" rx="0.62" ry="0.46" opacity="0.25"/>
<ellipse cx="304.1" cy="288.0" rx="0.63" ry="0.47" opacity="0.29"/>
<ellipse cx="313.0" cy="290.5" rx="3.60" ry="1.50" opacity="0.13"/>
<ellipse cx="313.9" cy="290.0" rx="0.89" ry="0.66" opacity="0.29"/>
<ellipse cx="312.4" cy="290.9" rx="0.50" ry="0.37" opacity="0.17"/>
<ellipse cx="313.4" cy="291.3" rx="0.77" ry="0.57" opacity="0.42"/>
<ellipse cx="311.7" cy="289.1" rx="0.92" ry="0.68" opacity="0.41"/>
<ellipse cx="312.9" cy="290.7" rx="0.72" ry="0.54" opacity="0.26"/>
<ellipse cx="313.4" cy="290.5" rx="0.92" ry="0.68" opacity="0.24"/>
<ellipse cx="311.7" cy="289.4" rx="0.66" ry="0.49" opacity="0.38"/>
<ellipse cx="313.6" cy="290.1" rx="0.85" ry="0.63" opacity="0.45"/>
<ellipse cx="314.2" cy="289.5" rx="0.73" ry="0.54" opacity="0.19"/>
<ellipse cx="311.4" cy="290.2" rx="0.53" ry="0.39" opacity="0.43"/>
<ellipse cx="312.9" cy="291.1" rx="0.87" ry="0.64" opacity="0.31"/>
<ellipse cx="313.9" cy="290.1" rx="0.89" ry="0.66" opacity="0.28"/>
<ellipse cx="315.0" cy="289.8" rx="0.59" ry="0.44" opacity="0.26"/>
<ellipse cx="314.9" cy="291.2" rx="0.44" ry="0.33" opacity="0.42"/>
<ellipse cx="312.9" cy="291.3" rx="0.61" ry="0.45" opacity="0.30"/>
<ellipse cx="313.7" cy="290.4" rx="0.60" ry="0.44" opacity="0.32"/>
<ellipse cx="309.7" cy="290.4" rx="0.70" ry="0.52" opacity="0.35"/>
<ellipse cx="297.2" cy="300.0" rx="6.00" ry="1.30" opacity="0.13"/>
<ellipse cx="295.6" cy="299.4" rx="0.64" ry="0.48" opacity="0.22"/>
<ellipse cx="301.6" cy="300.8" rx="0.77" ry="0.57" opacity="0.19"/>
<ellipse cx="299.2" cy="299.4" rx="0.63" ry="0.47" opacity="0.39"/>
<ellipse cx="295.8" cy="301.0" rx="0.83" ry="0.61" opacity="0.35"/>
<ellipse cx="298.0" cy="300.3" rx="0.81" ry="0.60" opacity="0.34"/>
<ellipse cx="293.4" cy="300.9" rx="0.70" ry="0.52" opacity="0.45"/>
<ellipse cx="299.4" cy="301.1" rx="0.94" ry="0.69" opacity="0.21"/>
<ellipse cx="298.4" cy="300.8" rx="0.58" ry="0.43" opacity="0.33"/>
<ellipse cx="297.8" cy="300.1" rx="0.46" ry="0.34" opacity="0.19"/>
<ellipse cx="294.4" cy="300.9" rx="0.72" ry="0.53" opacity="0.21"/>
<ellipse cx="292.3" cy="299.3" rx="0.92" ry="0.68" opacity="0.20"/>
<ellipse cx="296.8" cy="299.7" rx="0.87" ry="0.65" opacity="0.25"/>
<ellipse cx="293.3" cy="299.1" rx="0.65" ry="0.48" opacity="0.25"/>
<ellipse cx="301.6" cy="300.4" rx="0.77" ry="0.57" opacity="0.36"/>
<ellipse cx="299.9" cy="300.3" rx="0.55" ry="0.41" opacity="0.20"/>
<ellipse cx="299.1" cy="300.3" rx="0.87" ry="0.64" opacity="0.41"/>
<ellipse cx="294.8" cy="299.6" rx="0.58" ry="0.43" opacity="0.42"/>
<ellipse cx="298.3" cy="300.3" rx="0.92" ry="0.68" opacity="0.24"/>
<ellipse cx="300.0" cy="299.8" rx="0.46" ry="0.34" opacity="0.25"/>
<ellipse cx="300.7" cy="299.1" rx="0.73" ry="0.54" opacity="0.31"/>
<ellipse cx="294.3" cy="300.3" rx="0.91" ry="0.68" opacity="0.27"/>
<ellipse cx="300.6" cy="300.6" rx="0.61" ry="0.45" opacity="0.25"/>
<ellipse cx="301.6" cy="299.7" rx="0.66" ry="0.49" opacity="0.43"/>
<ellipse cx="298.1" cy="300.4" rx="0.93" ry="0.69" opacity="0.19"/>
<ellipse cx="315.0" cy="301.8" rx="3.40" ry="1.20" opacity="0.11"/>
<ellipse cx="314.9" cy="301.2" rx="0.46" ry="0.34" opacity="0.39"/>
<ellipse cx="314.7" cy="301.2" rx="0.52" ry="0.38" opacity="0.33"/>
<ellipse cx="315.0" cy="301.2" rx="0.43" ry="0.32" opacity="0.23"/>
<ellipse cx="313.4" cy="301.6" rx="0.82" ry="0.61" opacity="0.26"/>
<ellipse cx="315.5" cy="302.6" rx="0.48" ry="0.36" opacity="0.32"/>
<ellipse cx="316.4" cy="301.7" rx="0.50" ry="0.37" opacity="0.29"/>
<ellipse cx="315.0" cy="302.1" rx="0.68" ry="0.50" opacity="0.19"/>
<ellipse cx="314.0" cy="301.1" rx="0.53" ry="0.39" opacity="0.38"/>
<ellipse cx="312.2" cy="301.5" rx="0.83" ry="0.61" opacity="0.21"/>
<ellipse cx="315.3" cy="302.4" rx="0.68" ry="0.50" opacity="0.33"/>
<ellipse cx="316.1" cy="302.2" rx="0.41" ry="0.31" opacity="0.35"/>
<ellipse cx="317.2" cy="301.4" rx="0.72" ry="0.53" opacity="0.25"/>
<ellipse cx="314.1" cy="302.4" rx="0.41" ry="0.30" opacity="0.20"/>
<ellipse cx="286.0" cy="300.0" rx="3.00" ry="1.00" opacity="0.08"/>
<ellipse cx="284.4" cy="300.1" rx="0.74" ry="0.55" opacity="0.13"/>
<ellipse cx="283.8" cy="300.6" rx="0.52" ry="0.39" opacity="0.30"/>
<ellipse cx="288.9" cy="300.0" rx="0.93" ry="0.69" opacity="0.28"/>
<ellipse cx="289.0" cy="300.0" rx="0.68" ry="0.50" opacity="0.26"/>
<ellipse cx="287.1" cy="300.8" rx="0.50" ry="0.37" opacity="0.27"/>
<ellipse cx="286.3" cy="299.2" rx="0.82" ry="0.61" opacity="0.17"/>
<ellipse cx="287.0" cy="299.1" rx="0.75" ry="0.56" opacity="0.24"/>
<ellipse cx="286.2" cy="300.6" rx="0.79" ry="0.59" opacity="0.22"/>
<ellipse cx="285.1" cy="299.9" rx="0.41" ry="0.31" opacity="0.20"/>
<ellipse cx="298.5" cy="310.0" rx="3.60" ry="1.80" opacity="0.14"/>
<ellipse cx="300.1" cy="308.4" rx="0.48" ry="0.36" opacity="0.49"/>
<ellipse cx="297.8" cy="311.7" rx="0.63" ry="0.47" opacity="0.44"/>
<ellipse cx="296.0" cy="309.4" rx="0.44" ry="0.33" opacity="0.22"/>
<ellipse cx="299.0" cy="309.8" rx="0.74" ry="0.55" opacity="0.48"/>
<ellipse cx="296.8" cy="309.0" rx="0.79" ry="0.58" opacity="0.43"/>
<ellipse cx="298.2" cy="310.5" rx="0.57" ry="0.42" opacity="0.38"/>
<ellipse cx="298.9" cy="310.9" rx="0.66" ry="0.49" opacity="0.29"/>
<ellipse cx="296.4" cy="308.6" rx="0.69" ry="0.51" opacity="0.44"/>
<ellipse cx="298.9" cy="311.7" rx="0.87" ry="0.64" opacity="0.21"/>
<ellipse cx="300.6" cy="310.1" rx="0.54" ry="0.40" opacity="0.18"/>
<ellipse cx="300.2" cy="311.4" rx="0.67" ry="0.50" opacity="0.38"/>
<ellipse cx="297.6" cy="310.0" rx="0.94" ry="0.69" opacity="0.48"/>
<ellipse cx="295.2" cy="310.6" rx="0.77" ry="0.57" opacity="0.31"/>
<ellipse cx="301.1" cy="311.2" rx="0.43" ry="0.32" opacity="0.31"/>
<ellipse cx="297.2" cy="311.3" rx="0.61" ry="0.45" opacity="0.19"/>
<ellipse cx="298.2" cy="310.1" rx="0.72" ry="0.54" opacity="0.48"/>
<ellipse cx="296.7" cy="308.5" rx="0.71" ry="0.53" opacity="0.36"/>
<ellipse cx="298.2" cy="309.9" rx="0.57" ry="0.43" opacity="0.33"/>
<ellipse cx="295.2" cy="309.6" rx="0.79" ry="0.58" opacity="0.28"/>
<ellipse cx="301.2" cy="309.9" rx="0.44" ry="0.33" opacity="0.34"/>
<ellipse cx="317.0" cy="310.8" rx="2.60" ry="1.80" opacity="0.14"/>
<ellipse cx="316.6" cy="311.8" rx="0.73" ry="0.54" opacity="0.45"/>
<ellipse cx="316.6" cy="309.1" rx="0.71" ry="0.53" opacity="0.21"/>
<ellipse cx="314.9" cy="309.9" rx="0.58" ry="0.43" opacity="0.49"/>
<ellipse cx="318.7" cy="311.4" rx="0.53" ry="0.39" opacity="0.37"/>
<ellipse cx="317.1" cy="312.0" rx="0.51" ry="0.38" opacity="0.48"/>
<ellipse cx="318.5" cy="310.2" rx="0.50" ry="0.37" opacity="0.35"/>
<ellipse cx="317.7" cy="312.4" rx="0.86" ry="0.64" opacity="0.21"/>
<ellipse cx="318.2" cy="311.9" rx="0.54" ry="0.40" opacity="0.21"/>
<ellipse cx="317.2" cy="311.0" rx="0.87" ry="0.65" opacity="0.22"/>
<ellipse cx="318.1" cy="311.2" rx="0.42" ry="0.31" opacity="0.43"/>
<ellipse cx="317.2" cy="309.6" rx="0.94" ry="0.69" opacity="0.47"/>
<ellipse cx="316.2" cy="310.5" rx="0.81" ry="0.60" opacity="0.18"/>
<ellipse cx="319.2" cy="310.4" rx="0.77" ry="0.57" opacity="0.22"/>
<ellipse cx="317.8" cy="309.3" rx="0.91" ry="0.68" opacity="0.32"/>
<ellipse cx="285.5" cy="312.8" rx="2.80" ry="1.40" opacity="0.15"/>
<ellipse cx="283.7" cy="313.7" rx="0.63" ry="0.47" opacity="0.43"/>
<ellipse cx="285.5" cy="312.3" rx="0.71" ry="0.53" opacity="0.48"/>
<ellipse cx="286.7" cy="312.7" rx="0.59" ry="0.43" opacity="0.36"/>
<ellipse cx="285.5" cy="312.8" rx="0.76" ry="0.56" opacity="0.46"/>
<ellipse cx="284.8" cy="313.0" rx="0.62" ry="0.46" opacity="0.24"/>
<ellipse cx="285.1" cy="312.6" rx="0.55" ry="0.41" opacity="0.21"/>
<ellipse cx="282.8" cy="312.8" rx="0.77" ry="0.57" opacity="0.24"/>
<ellipse cx="286.9" cy="313.6" rx="0.45" ry="0.34" opacity="0.40"/>
<ellipse cx="286.2" cy="312.9" rx="0.88" ry="0.65" opacity="0.34"/>
<ellipse cx="285.3" cy="313.0" rx="0.80" ry="0.59" opacity="0.39"/>
<ellipse cx="285.3" cy="312.5" rx="0.61" ry="0.45" opacity="0.31"/>
<ellipse cx="287.2" cy="312.8" rx="0.69" ry="0.51" opacity="0.37"/>
<ellipse cx="288.0" cy="316.5" rx="3.40" ry="1.20" opacity="0.14"/>
<ellipse cx="287.6" cy="315.8" rx="0.66" ry="0.49" opacity="0.23"/>
<ellipse cx="286.8" cy="316.8" rx="0.64" ry="0.47" opacity="0.39"/>
<ellipse cx="286.6" cy="316.6" rx="0.81" ry="0.60" opacity="0.22"/>
<ellipse cx="289.6" cy="315.5" rx="0.51" ry="0.38" opacity="0.23"/>
<ellipse cx="287.6" cy="316.4" rx="0.68" ry="0.50" opacity="0.33"/>
<ellipse cx="288.3" cy="316.1" rx="0.81" ry="0.60" opacity="0.20"/>
<ellipse cx="286.0" cy="316.4" rx="0.61" ry="0.45" opacity="0.33"/>
<ellipse cx="286.6" cy="317.3" rx="0.77" ry="0.57" opacity="0.18"/>
<ellipse cx="286.5" cy="316.8" rx="0.76" ry="0.56" opacity="0.45"/>
<ellipse cx="288.6" cy="315.4" rx="0.90" ry="0.67" opacity="0.35"/>
<ellipse cx="290.7" cy="316.6" rx="0.88" ry="0.65" opacity="0.47"/>
<ellipse cx="287.1" cy="316.6" rx="0.67" ry="0.50" opacity="0.23"/>
<ellipse cx="287.7" cy="316.9" rx="0.86" ry="0.64" opacity="0.49"/>
<ellipse cx="307.0" cy="306.0" rx="3.00" ry="1.00" opacity="0.07"/>
<ellipse cx="308.0" cy="305.4" rx="0.88" ry="0.65" opacity="0.24"/>
<ellipse cx="305.5" cy="306.3" rx="0.57" ry="0.42" opacity="0.12"/>
<ellipse cx="307.6" cy="305.5" rx="0.63" ry="0.46" opacity="0.23"/>
<ellipse cx="306.6" cy="305.9" rx="0.74" ry="0.55" opacity="0.10"/>
<ellipse cx="305.7" cy="306.0" rx="0.83" ry="0.61" opacity="0.18"/>
<ellipse cx="304.6" cy="306.2" rx="0.89" ry="0.66" opacity="0.16"/>
<ellipse cx="306.7" cy="305.7" rx="0.92" ry="0.68" opacity="0.10"/>
<ellipse cx="306.0" cy="305.5" rx="0.46" ry="0.34" opacity="0.11"/>
<ellipse cx="306.2" cy="306.2" rx="0.69" ry="0.51" opacity="0.25"/>
<ellipse cx="309.0" cy="316.0" rx="4.00" ry="1.20" opacity="0.08"/>
<ellipse cx="309.3" cy="314.9" rx="0.65" ry="0.48" opacity="0.14"/>
<ellipse cx="311.8" cy="316.2" rx="0.63" ry="0.46" opacity="0.24"/>
<ellipse cx="308.3" cy="316.5" rx="0.75" ry="0.55" opacity="0.28"/>
<ellipse cx="305.7" cy="316.3" rx="0.42" ry="0.31" opacity="0.20"/>
<ellipse cx="309.3" cy="315.9" rx="0.82" ry="0.61" opacity="0.19"/>
<ellipse cx="311.6" cy="316.5" rx="0.93" ry="0.69" opacity="0.18"/>
<ellipse cx="310.8" cy="316.6" rx="0.44" ry="0.32" opacity="0.30"/>
<ellipse cx="307.3" cy="315.4" rx="0.45" ry="0.33" opacity="0.18"/>
<ellipse cx="310.2" cy="316.0" rx="0.67" ry="0.49" opacity="0.16"/>
<ellipse cx="305.9" cy="316.1" rx="0.43" ry="0.32" opacity="0.29"/>
<ellipse cx="307.0" cy="315.4" rx="0.43" ry="0.32" opacity="0.29"/>
<ellipse cx="307.8" cy="316.4" rx="0.78" ry="0.58" opacity="0.20"/>
<ellipse cx="309.3" cy="316.3" rx="0.88" ry="0.65" opacity="0.26"/>
<ellipse cx="312.1" cy="315.8" rx="0.64" ry="0.47" opacity="0.28"/>
<ellipse cx="311.3" cy="316.3" rx="0.87" ry="0.65" opacity="0.21"/>
<ellipse cx="292.0" cy="277.0" rx="4.00" ry="1.00" opacity="0.08"/>
<ellipse cx="293.0" cy="276.2" rx="0.56" ry="0.42" opacity="0.29"/>
<ellipse cx="295.3" cy="277.2" rx="0.41" ry="0.30" opacity="0.13"/>
<ellipse cx="293.4" cy="277.1" rx="0.71" ry="0.52" opacity="0.19"/>
<ellipse cx="288.6" cy="276.6" rx="0.58" ry="0.43" opacity="0.12"/>
<ellipse cx="295.2" cy="276.4" rx="0.93" ry="0.69" opacity="0.28"/>
<ellipse cx="291.0" cy="276.9" rx="0.91" ry="0.67" opacity="0.29"/>
<ellipse cx="291.1" cy="277.3" rx="0.43" ry="0.32" opacity="0.18"/>
<ellipse cx="292.2" cy="277.5" rx="0.59" ry="0.44" opacity="0.26"/>
<ellipse cx="290.8" cy="277.2" rx="0.73" ry="0.54" opacity="0.20"/>
<ellipse cx="294.3" cy="277.3" rx="0.56" ry="0.42" opacity="0.15"/>
<ellipse cx="295.2" cy="276.4" rx="0.67" ry="0.50" opacity="0.28"/>
<ellipse cx="288.8" cy="277.4" rx="0.68" ry="0.50" opacity="0.16"/>
<ellipse cx="307.0" cy="279.0" rx="3.40" ry="1.00" opacity="0.08"/>
<ellipse cx="305.7" cy="279.9" rx="0.87" ry="0.65" opacity="0.29"/>
<ellipse cx="308.3" cy="278.8" rx="0.42" ry="0.31" opacity="0.24"/>
<ellipse cx="305.5" cy="278.7" rx="0.54" ry="0.40" opacity="0.25"/>
<ellipse cx="307.2" cy="278.7" rx="0.58" ry="0.43" opacity="0.17"/>
<ellipse cx="306.5" cy="279.8" rx="0.41" ry="0.31" opacity="0.17"/>
<ellipse cx="307.2" cy="278.8" rx="0.64" ry="0.47" opacity="0.29"/>
<ellipse cx="309.7" cy="278.9" rx="0.83" ry="0.61" opacity="0.23"/>
<ellipse cx="306.6" cy="279.1" rx="0.67" ry="0.49" opacity="0.11"/>
<ellipse cx="308.9" cy="279.4" rx="0.89" ry="0.66" opacity="0.18"/>
<ellipse cx="306.0" cy="279.0" rx="0.74" ry="0.55" opacity="0.28"/>
<ellipse cx="288.0" cy="262.0" rx="3.00" ry="1.00" opacity="0.07"/>
<ellipse cx="288.5" cy="262.0" rx="0.53" ry="0.40" opacity="0.16"/>
<ellipse cx="285.2" cy="262.2" rx="0.79" ry="0.59" opacity="0.18"/>
<ellipse cx="289.1" cy="262.7" rx="0.67" ry="0.50" opacity="0.20"/>
<ellipse cx="289.7" cy="262.0" rx="0.58" ry="0.43" opacity="0.15"/>
<ellipse cx="285.4" cy="262.0" rx="0.69" ry="0.51" opacity="0.12"/>
<ellipse cx="285.9" cy="262.1" rx="0.43" ry="0.32" opacity="0.18"/>
<ellipse cx="285.9" cy="261.7" rx="0.77" ry="0.57" opacity="0.21"/>
<ellipse cx="289.3" cy="262.3" rx="0.55" ry="0.41" opacity="0.19"/>
<ellipse cx="289.3" cy="261.6" rx="0.83" ry="0.61" opacity="0.09"/>
<ellipse cx="286.0" cy="247.0" rx="2.40" ry="1.00" opacity="0.08"/>
<ellipse cx="286.0" cy="247.7" rx="0.89" ry="0.66" opacity="0.25"/>
<ellipse cx="287.8" cy="246.4" rx="0.55" ry="0.41" opacity="0.29"/>
<ellipse cx="286.9" cy="247.6" rx="0.51" ry="0.38" opacity="0.13"/>
<ellipse cx="285.2" cy="247.7" rx="0.78" ry="0.58" opacity="0.14"/>
<ellipse cx="284.6" cy="247.8" rx="0.73" ry="0.54" opacity="0.26"/>
<ellipse cx="286.7" cy="247.0" rx="0.43" ry="0.32" opacity="0.27"/>
<ellipse cx="286.5" cy="246.5" rx="0.84" ry="0.62" opacity="0.24"/>
<ellipse cx="292.0" cy="243.0" rx="2.00" ry="1.00" opacity="0.06"/>
<ellipse cx="291.2" cy="243.7" rx="0.83" ry="0.62" opacity="0.14"/>
<ellipse cx="291.3" cy="242.9" rx="0.45" ry="0.33" opacity="0.08"/>
<ellipse cx="292.5" cy="242.0" rx="0.84" ry="0.62" opacity="0.18"/>
<ellipse cx="291.5" cy="243.1" rx="0.90" ry="0.67" opacity="0.14"/>
<ellipse cx="290.6" cy="242.6" rx="0.53" ry="0.39" opacity="0.19"/>
<ellipse cx="290.6" cy="242.7" rx="0.59" ry="0.44" opacity="0.14"/>
<ellipse cx="314.0" cy="243.0" rx="3.00" ry="1.00" opacity="0.06"/>
<ellipse cx="315.0" cy="242.9" rx="0.52" ry="0.39" opacity="0.16"/>
<ellipse cx="313.5" cy="242.4" rx="0.81" ry="0.60" opacity="0.14"/>
<ellipse cx="314.4" cy="243.5" rx="0.57" ry="0.43" opacity="0.12"/>
<ellipse cx="315.6" cy="243.8" rx="0.59" ry="0.44" opacity="0.10"/>
<ellipse cx="315.4" cy="243.4" rx="0.44" ry="0.33" opacity="0.13"/>
<ellipse cx="315.2" cy="243.5" rx="0.48" ry="0.35" opacity="0.10"/>
<ellipse cx="314.5" cy="243.0" rx="0.68" ry="0.50" opacity="0.18"/>
<ellipse cx="314.1" cy="242.7" rx="0.57" ry="0.42" opacity="0.14"/>
<ellipse cx="313.7" cy="242.1" rx="0.70" ry="0.52" opacity="0.09"/>
</g>
</g>
<line x1="189.8" y1="334.6" x2="225.0" y2="334.6" stroke="#000" stroke-width="1.1" stroke-linecap="butt"/>
<line x1="253.9" y1="334.6" x2="277.0" y2="334.6" stroke="#000" stroke-width="1.1" stroke-linecap="butt"/>
<path d="M275.6 331.0 L287.4 334.6 L275.6 338.2 Z" fill="#000"/>
<text x="238.9" y="338.0" font-size="8.9" text-anchor="middle" fill="#1a1a1a" textLength="19.9" lengthAdjust="spacingAndGlyphs" transform="rotate(0.04 238.9 338.0)" >Flow</text>
<text x="366.7" y="198.8" font-size="11.4" text-anchor="start" fill="#000" font-weight="bold" stroke="none" transform="rotate(0.04 366.7 198.8)" >D</text>
<line x1="404.4" y1="217.05" x2="404.4" y2="313.25" stroke="#111" stroke-width="1.6" stroke-linecap="butt"/>
<line x1="403.59999999999997" y1="312.5" x2="498.2" y2="312.5" stroke="#111" stroke-width="1.6" stroke-linecap="butt"/>
<line x1="401.0" y1="312.5" x2="404.4" y2="312.5" stroke="#111" stroke-width="1.2" stroke-linecap="butt"/>
<text x="398.6" y="315.4" font-size="8.1" text-anchor="end" fill="#1a1a1a" textLength="8.0" lengthAdjust="spacingAndGlyphs" transform="rotate(0.04 398.6 315.4)" >0k</text>
<line x1="401.0" y1="288.825" x2="404.4" y2="288.825" stroke="#111" stroke-width="1.2" stroke-linecap="butt"/>
<text x="398.6" y="291.72499999999997" font-size="8.1" text-anchor="end" fill="#1a1a1a" textLength="16.8" lengthAdjust="spacingAndGlyphs" transform="rotate(0.04 398.6 291.72499999999997)" >200k</text>
<line x1="401.0" y1="265.15" x2="404.4" y2="265.15" stroke="#111" stroke-width="1.2" stroke-linecap="butt"/>
<text x="398.6" y="268.04999999999995" font-size="8.1" text-anchor="end" fill="#1a1a1a" textLength="16.8" lengthAdjust="spacingAndGlyphs" transform="rotate(0.04 398.6 268.04999999999995)" >400k</text>
<line x1="401.0" y1="241.47500000000002" x2="404.4" y2="241.47500000000002" stroke="#111" stroke-width="1.2" stroke-linecap="butt"/>
<text x="398.6" y="244.37500000000003" font-size="8.1" text-anchor="end" fill="#1a1a1a" textLength="16.8" lengthAdjust="spacingAndGlyphs" transform="rotate(0.04 398.6 244.37500000000003)" >600k</text>
<line x1="401.0" y1="217.8" x2="404.4" y2="217.8" stroke="#111" stroke-width="1.2" stroke-linecap="butt"/>
<text x="398.6" y="220.70000000000002" font-size="8.1" text-anchor="end" fill="#1a1a1a" textLength="16.8" lengthAdjust="spacingAndGlyphs" transform="rotate(0.04 398.6 220.70000000000002)" >800k</text>
<text x="376.2" y="264.1" font-size="9" text-anchor="middle" fill="#1a1a1a" textLength="75.6" lengthAdjust="spacingAndGlyphs" transform="rotate(-90 376.2 264.1)" >Thrombus volume (µm³)</text>
<line x1="409.6" y1="312.5" x2="409.6" y2="315.7" stroke="#111" stroke-width="1.2" stroke-linecap="butt"/>
<line x1="417.97" y1="312.5" x2="417.97" y2="315.7" stroke="#111" stroke-width="1.2" stroke-linecap="butt"/>
<line x1="426.34000000000003" y1="312.5" x2="426.34000000000003" y2="315.7" stroke="#111" stroke-width="1.2" stroke-linecap="butt"/>
<line x1="434.71000000000004" y1="312.5" x2="434.71000000000004" y2="315.7" stroke="#111" stroke-width="1.2" stroke-linecap="butt"/>
<line x1="443.08000000000004" y1="312.5" x2="443.08000000000004" y2="315.7" stroke="#111" stroke-width="1.2" stroke-linecap="butt"/>
<line x1="451.45000000000005" y1="312.5" x2="451.45000000000005" y2="315.7" stroke="#111" stroke-width="1.2" stroke-linecap="butt"/>
<line x1="459.82000000000005" y1="312.5" x2="459.82000000000005" y2="315.7" stroke="#111" stroke-width="1.2" stroke-linecap="butt"/>
<line x1="468.19" y1="312.5" x2="468.19" y2="315.7" stroke="#111" stroke-width="1.2" stroke-linecap="butt"/>
<line x1="476.56" y1="312.5" x2="476.56" y2="315.7" stroke="#111" stroke-width="1.2" stroke-linecap="butt"/>
<line x1="484.93" y1="312.5" x2="484.93" y2="315.7" stroke="#111" stroke-width="1.2" stroke-linecap="butt"/>
<line x1="493.3" y1="312.5" x2="493.3" y2="315.7" stroke="#111" stroke-width="1.2" stroke-linecap="butt"/>
<rect x="448.30" y="270.70" width="5.70" height="41.30" fill="#c60019"/>
<line x1="451.15000000000003" y1="270.7" x2="451.15000000000003" y2="265.3" stroke="#c8081e" stroke-width="1.2" stroke-linecap="butt"/>
<line x1="449.55" y1="265.75" x2="452.75000000000006" y2="265.75" stroke="#c8081e" stroke-width="1.1" stroke-linecap="butt"/>
<rect x="456.67" y="274.40" width="5.70" height="37.60" fill="#c60019"/>
<line x1="459.52000000000004" y1="274.4" x2="459.52000000000004" y2="269.6" stroke="#c8081e" stroke-width="1.2" stroke-linecap="butt"/>
<line x1="457.92" y1="270.05" x2="461.12000000000006" y2="270.05" stroke="#c8081e" stroke-width="1.1" stroke-linecap="butt"/>
<rect x="465.04" y="273.30" width="5.70" height="38.70" fill="#c60019"/>
<line x1="467.89" y1="273.3" x2="467.89" y2="262.1" stroke="#c8081e" stroke-width="1.2" stroke-linecap="butt"/>
<line x1="466.28999999999996" y1="262.55" x2="469.49" y2="262.55" stroke="#c8081e" stroke-width="1.1" stroke-linecap="butt"/>
<rect x="473.41" y="271.80" width="5.70" height="40.20" fill="#c60019"/>
<line x1="476.26" y1="271.8" x2="476.26" y2="270.3" stroke="#c8081e" stroke-width="1.2" stroke-linecap="butt"/>
<line x1="474.65999999999997" y1="270.75" x2="477.86" y2="270.75" stroke="#c8081e" stroke-width="1.1" stroke-linecap="butt"/>
<rect x="481.78" y="274.80" width="5.70" height="37.20" fill="#c60019"/>
<line x1="484.63" y1="274.8" x2="484.63" y2="265.1" stroke="#c8081e" stroke-width="1.2" stroke-linecap="butt"/>
<line x1="483.03" y1="265.55" x2="486.23" y2="265.55" stroke="#c8081e" stroke-width="1.1" stroke-linecap="butt"/>
<rect x="490.15" y="245.30" width="5.70" height="66.70" fill="#c60019"/>
<line x1="493.0" y1="245.3" x2="493.0" y2="228.4" stroke="#c8081e" stroke-width="1.2" stroke-linecap="butt"/>
<line x1="491.4" y1="228.85" x2="494.6" y2="228.85" stroke="#c8081e" stroke-width="1.1" stroke-linecap="butt"/>
<line x1="449.7" y1="258.45" x2="484.3" y2="258.45" stroke="#111" stroke-width="1.15" stroke-linecap="butt"/>
<text x="468.4" y="255.0" font-size="7.4" text-anchor="middle" fill="#1a1a1a" transform="rotate(0.04 468.4 255.0)" >n.s</text>
<path d="M451.45 251.8 V212.5 H493.35 V223.8" fill="none" stroke="#111" stroke-width="1.15"/>
<path d="M474.00 208.80L474.00 207.45M474.00 208.80L475.28 208.38M474.00 208.80L474.79 209.89M474.00 208.80L473.21 209.89M474.00 208.80L472.72 208.38" stroke="#111" stroke-width="0.75" fill="none" stroke-linecap="round"/>
<text x="405.3" y="326.1" font-size="7.6" text-anchor="end" fill="#1a1a1a" textLength="15.4" lengthAdjust="spacingAndGlyphs" transform="rotate(0.04 405.3 326.1)" >vWF</text>
<line x1="407.40000000000003" y1="324.2" x2="411.8" y2="324.2" stroke="#151515" stroke-width="0.85" stroke-linecap="butt"/>
<line x1="415.77000000000004" y1="324.2" x2="420.17" y2="324.2" stroke="#151515" stroke-width="0.85" stroke-linecap="butt"/>
<line x1="424.14000000000004" y1="324.2" x2="428.54" y2="324.2" stroke="#151515" stroke-width="0.85" stroke-linecap="butt"/>
<line x1="432.51000000000005" y1="324.2" x2="436.91" y2="324.2" stroke="#151515" stroke-width="0.85" stroke-linecap="butt"/>
<line x1="440.88000000000005" y1="324.2" x2="445.28000000000003" y2="324.2" stroke="#151515" stroke-width="0.85" stroke-linecap="butt"/>
<line x1="449.25000000000006" y1="324.2" x2="453.65000000000003" y2="324.2" stroke="#151515" stroke-width="0.85" stroke-linecap="butt"/>
<line x1="451.45000000000005" y1="322.0" x2="451.45000000000005" y2="326.4" stroke="#151515" stroke-width="0.85" stroke-linecap="butt"/>
<line x1="457.62000000000006" y1="324.2" x2="462.02000000000004" y2="324.2" stroke="#151515" stroke-width="0.85" stroke-linecap="butt"/>
<line x1="459.82000000000005" y1="322.0" x2="459.82000000000005" y2="326.4" stroke="#151515" stroke-width="0.85" stroke-linecap="butt"/>
<line x1="465.99" y1="324.2" x2="470.39" y2="324.2" stroke="#151515" stroke-width="0.85" stroke-linecap="butt"/>
<line x1="468.19" y1="322.0" x2="468.19" y2="326.4" stroke="#151515" stroke-width="0.85" stroke-linecap="butt"/>
<line x1="474.36" y1="324.2" x2="478.76" y2="324.2" stroke="#151515" stroke-width="0.85" stroke-linecap="butt"/>
<line x1="476.56" y1="322.0" x2="476.56" y2="326.4" stroke="#151515" stroke-width="0.85" stroke-linecap="butt"/>
<line x1="482.73" y1="324.2" x2="487.13" y2="324.2" stroke="#151515" stroke-width="0.85" stroke-linecap="butt"/>
<line x1="484.93" y1="322.0" x2="484.93" y2="326.4" stroke="#151515" stroke-width="0.85" stroke-linecap="butt"/>
<line x1="491.1" y1="324.2" x2="495.5" y2="324.2" stroke="#151515" stroke-width="0.85" stroke-linecap="butt"/>
<line x1="493.3" y1="322.0" x2="493.3" y2="326.4" stroke="#151515" stroke-width="0.85" stroke-linecap="butt"/>
<text x="404.3" y="336.5" font-size="7.6" text-anchor="end" fill="#1a1a1a" textLength="19.0" lengthAdjust="spacingAndGlyphs" transform="rotate(0.04 404.3 336.5)" >Spike</text>
<line x1="407.40000000000003" y1="334.4" x2="411.8" y2="334.4" stroke="#151515" stroke-width="0.85" stroke-linecap="butt"/>
<line x1="409.6" y1="332.2" x2="409.6" y2="336.59999999999997" stroke="#151515" stroke-width="0.85" stroke-linecap="butt"/>
<line x1="415.77000000000004" y1="334.4" x2="420.17" y2="334.4" stroke="#151515" stroke-width="0.85" stroke-linecap="butt"/>
<line x1="424.14000000000004" y1="334.4" x2="428.54" y2="334.4" stroke="#151515" stroke-width="0.85" stroke-linecap="butt"/>
<line x1="432.51000000000005" y1="334.4" x2="436.91" y2="334.4" stroke="#151515" stroke-width="0.85" stroke-linecap="butt"/>
<line x1="434.71000000000004" y1="332.2" x2="434.71000000000004" y2="336.59999999999997" stroke="#151515" stroke-width="0.85" stroke-linecap="butt"/>
<line x1="440.88000000000005" y1="334.4" x2="445.28000000000003" y2="334.4" stroke="#151515" stroke-width="0.85" stroke-linecap="butt"/>
<line x1="443.08000000000004" y1="332.2" x2="443.08000000000004" y2="336.59999999999997" stroke="#151515" stroke-width="0.85" stroke-linecap="butt"/>
<line x1="449.25000000000006" y1="334.4" x2="453.65000000000003" y2="334.4" stroke="#151515" stroke-width="0.85" stroke-linecap="butt"/>
<line x1="457.62000000000006" y1="334.4" x2="462.02000000000004" y2="334.4" stroke="#151515" stroke-width="0.85" stroke-linecap="butt"/>
<line x1="459.82000000000005" y1="332.2" x2="459.82000000000005" y2="336.59999999999997" stroke="#151515" stroke-width="0.85" stroke-linecap="butt"/>
<line x1="465.99" y1="334.4" x2="470.39" y2="334.4" stroke="#151515" stroke-width="0.85" stroke-linecap="butt"/>
<line x1="474.36" y1="334.4" x2="478.76" y2="334.4" stroke="#151515" stroke-width="0.85" stroke-linecap="butt"/>
<line x1="482.73" y1="334.4" x2="487.13" y2="334.4" stroke="#151515" stroke-width="0.85" stroke-linecap="butt"/>
<line x1="484.93" y1="332.2" x2="484.93" y2="336.59999999999997" stroke="#151515" stroke-width="0.85" stroke-linecap="butt"/>
<line x1="491.1" y1="334.4" x2="495.5" y2="334.4" stroke="#151515" stroke-width="0.85" stroke-linecap="butt"/>
<line x1="493.3" y1="332.2" x2="493.3" y2="336.59999999999997" stroke="#151515" stroke-width="0.85" stroke-linecap="butt"/>
<text x="404.9" y="347.0" font-size="7.6" text-anchor="end" fill="#1a1a1a" textLength="11.6" lengthAdjust="spacingAndGlyphs" transform="rotate(0.04 404.9 347.0)" >WT</text>
<line x1="407.40000000000003" y1="344.8" x2="411.8" y2="344.8" stroke="#151515" stroke-width="0.85" stroke-linecap="butt"/>
<line x1="415.77000000000004" y1="344.8" x2="420.17" y2="344.8" stroke="#151515" stroke-width="0.85" stroke-linecap="butt"/>
<line x1="417.97" y1="342.6" x2="417.97" y2="347.0" stroke="#151515" stroke-width="0.85" stroke-linecap="butt"/>
<line x1="424.14000000000004" y1="344.8" x2="428.54" y2="344.8" stroke="#151515" stroke-width="0.85" stroke-linecap="butt"/>
<line x1="432.51000000000005" y1="344.8" x2="436.91" y2="344.8" stroke="#151515" stroke-width="0.85" stroke-linecap="butt"/>
<line x1="434.71000000000004" y1="342.6" x2="434.71000000000004" y2="347.0" stroke="#151515" stroke-width="0.85" stroke-linecap="butt"/>
<line x1="440.88000000000005" y1="344.8" x2="445.28000000000003" y2="344.8" stroke="#151515" stroke-width="0.85" stroke-linecap="butt"/>
<line x1="449.25000000000006" y1="344.8" x2="453.65000000000003" y2="344.8" stroke="#151515" stroke-width="0.85" stroke-linecap="butt"/>
<line x1="457.62000000000006" y1="344.8" x2="462.02000000000004" y2="344.8" stroke="#151515" stroke-width="0.85" stroke-linecap="butt"/>
<line x1="465.99" y1="344.8" x2="470.39" y2="344.8" stroke="#151515" stroke-width="0.85" stroke-linecap="butt"/>
<line x1="468.19" y1="342.6" x2="468.19" y2="347.0" stroke="#151515" stroke-width="0.85" stroke-linecap="butt"/>
<line x1="474.36" y1="344.8" x2="478.76" y2="344.8" stroke="#151515" stroke-width="0.85" stroke-linecap="butt"/>
<line x1="482.73" y1="344.8" x2="487.13" y2="344.8" stroke="#151515" stroke-width="0.85" stroke-linecap="butt"/>
<line x1="484.93" y1="342.6" x2="484.93" y2="347.0" stroke="#151515" stroke-width="0.85" stroke-linecap="butt"/>
<line x1="491.1" y1="344.8" x2="495.5" y2="344.8" stroke="#151515" stroke-width="0.85" stroke-linecap="butt"/>
<text x="405.3" y="357.6" font-size="7.6" text-anchor="end" fill="#1a1a1a" textLength="62.5" lengthAdjust="spacingAndGlyphs" transform="rotate(0.04 405.3 357.6)" >Low Fuc High Gal</text>
<line x1="407.40000000000003" y1="355.5" x2="411.8" y2="355.5" stroke="#151515" stroke-width="0.85" stroke-linecap="butt"/>
<line x1="415.77000000000004" y1="355.5" x2="420.17" y2="355.5" stroke="#151515" stroke-width="0.85" stroke-linecap="butt"/>
<line x1="424.14000000000004" y1="355.5" x2="428.54" y2="355.5" stroke="#151515" stroke-width="0.85" stroke-linecap="butt"/>
<line x1="426.34000000000003" y1="353.3" x2="426.34000000000003" y2="357.7" stroke="#151515" stroke-width="0.85" stroke-linecap="butt"/>
<line x1="432.51000000000005" y1="355.5" x2="436.91" y2="355.5" stroke="#151515" stroke-width="0.85" stroke-linecap="butt"/>
<line x1="440.88000000000005" y1="355.5" x2="445.28000000000003" y2="355.5" stroke="#151515" stroke-width="0.85" stroke-linecap="butt"/>
<line x1="443.08000000000004" y1="353.3" x2="443.08000000000004" y2="357.7" stroke="#151515" stroke-width="0.85" stroke-linecap="butt"/>
<line x1="449.25000000000006" y1="355.5" x2="453.65000000000003" y2="355.5" stroke="#151515" stroke-width="0.85" stroke-linecap="butt"/>
<line x1="457.62000000000006" y1="355.5" x2="462.02000000000004" y2="355.5" stroke="#151515" stroke-width="0.85" stroke-linecap="butt"/>
<line x1="465.99" y1="355.5" x2="470.39" y2="355.5" stroke="#151515" stroke-width="0.85" stroke-linecap="butt"/>
<line x1="474.36" y1="355.5" x2="478.76" y2="355.5" stroke="#151515" stroke-width="0.85" stroke-linecap="butt"/>
<line x1="476.56" y1="353.3" x2="476.56" y2="357.7" stroke="#151515" stroke-width="0.85" stroke-linecap="butt"/>
<line x1="482.73" y1="355.5" x2="487.13" y2="355.5" stroke="#151515" stroke-width="0.85" stroke-linecap="butt"/>
<line x1="491.1" y1="355.5" x2="495.5" y2="355.5" stroke="#151515" stroke-width="0.85" stroke-linecap="butt"/>
<line x1="493.3" y1="353.3" x2="493.3" y2="357.7" stroke="#151515" stroke-width="0.85" stroke-linecap="butt"/>
<rect x="-10" y="-10" width="540" height="11.1" fill="#000"/>
<rect x="-10" y="-10" width="11.1" height="391" fill="#000"/>
<rect x="518.8" y="-10" width="11.2" height="391" fill="#000"/>
<rect x="-10" y="369.3" width="540" height="11.7" fill="#000"/>
</g>
</svg>
</body></html>
